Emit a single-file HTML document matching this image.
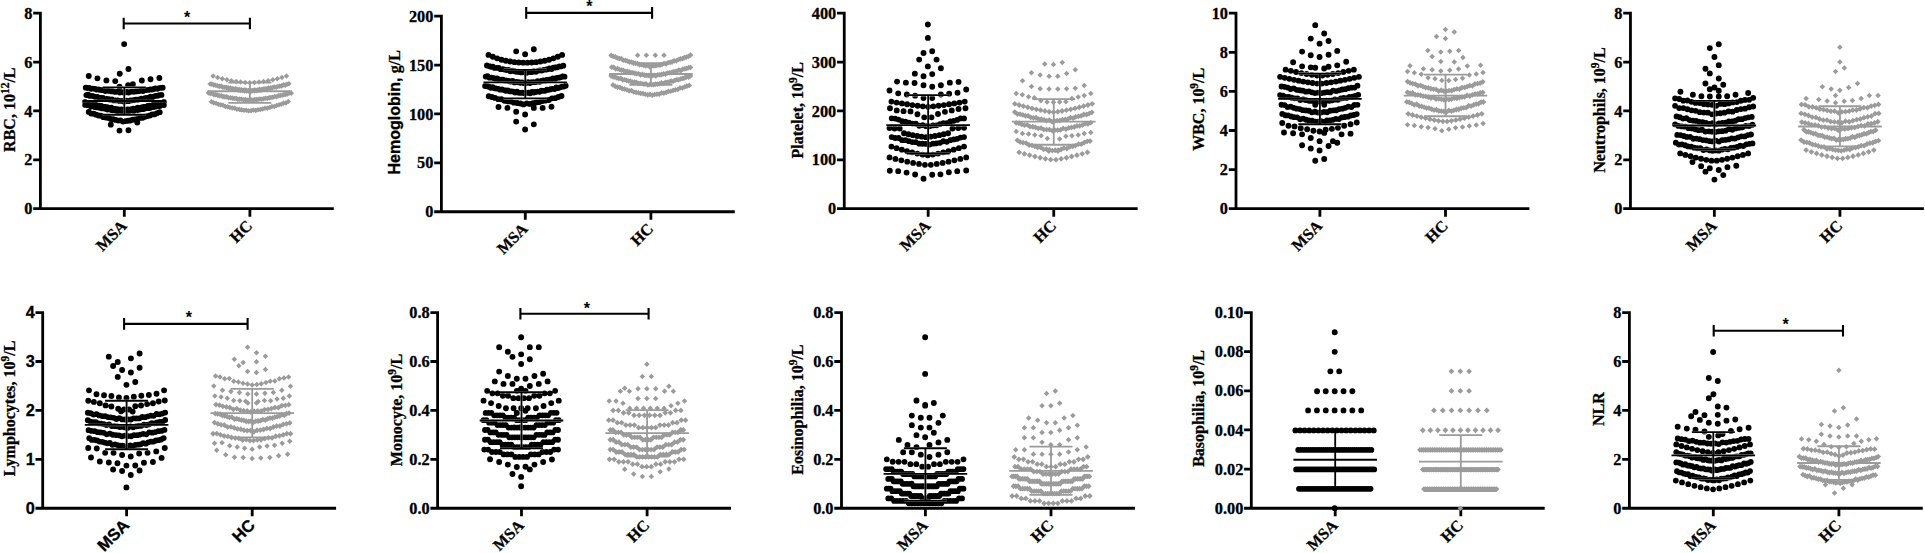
<!DOCTYPE html>
<html><head><meta charset="utf-8"><title>Blood cell counts: MSA vs HC</title>
<style>
html,body{margin:0;padding:0;background:#fff;}
body{width:1925px;height:553px;overflow:hidden;}
svg{display:block;}
text{fill:#000;stroke:#000;stroke-width:0.3px;}
</style></head><body>
<svg width="1925" height="553" viewBox="0 0 1925 553">
<rect width="1925" height="553" fill="#fff"/>
<path d="M40.4 11.8V208.7H333.8M33.2 208.7H41.8M33.2 159.82H40.4M33.2 110.95H40.4M33.2 62.07H40.4M33.2 13.2H41.8M124.3 208.7V216.8M249.9 208.7V216.8" fill="none" stroke="#000" stroke-width="2.8" stroke-linejoin="miter"/>
<g font-family='"Liberation Serif", serif' font-weight="bold" font-size="16.3" text-anchor="end">
<text x="32.4" y="214.25">0</text>
<text x="32.4" y="165.38">2</text>
<text x="32.4" y="116.5">4</text>
<text x="32.4" y="67.62">6</text>
<text x="32.4" y="18.75">8</text>
</g>
<g font-family='"Liberation Serif", serif' font-weight="bold" font-size="16.1" text-anchor="end">
<text transform="translate(127.7 226.7) rotate(-45)">MSA</text>
<text transform="translate(253.3 226.7) rotate(-45)">HC</text>
</g>
<text transform="translate(14.6 109.7) rotate(-90)" text-anchor="middle" font-weight="bold" font-size="16"><tspan font-family='"Liberation Serif", serif'>RBC, 10</tspan><tspan font-family='"Liberation Serif", serif' font-size="11.5" dy="-6">12</tspan><tspan font-family='"Liberation Serif", serif' dy="6">/L</tspan></text>
<path d="M88.74 111.9m-2.95 0a2.95 2.95 0 1 0 5.9 0a2.95 2.95 0 1 0 -5.9 0M91.18 113.49m-2.95 0a2.95 2.95 0 1 0 5.9 0a2.95 2.95 0 1 0 -5.9 0M93.63 113.82m-2.95 0a2.95 2.95 0 1 0 5.9 0a2.95 2.95 0 1 0 -5.9 0M96.08 114.65m-2.95 0a2.95 2.95 0 1 0 5.9 0a2.95 2.95 0 1 0 -5.9 0M98.53 115.55m-2.95 0a2.95 2.95 0 1 0 5.9 0a2.95 2.95 0 1 0 -5.9 0M100.97 115.81m-2.95 0a2.95 2.95 0 1 0 5.9 0a2.95 2.95 0 1 0 -5.9 0M103.42 117.13m-2.95 0a2.95 2.95 0 1 0 5.9 0a2.95 2.95 0 1 0 -5.9 0M105.87 117.52m-2.95 0a2.95 2.95 0 1 0 5.9 0a2.95 2.95 0 1 0 -5.9 0M108.32 117.88m-2.95 0a2.95 2.95 0 1 0 5.9 0a2.95 2.95 0 1 0 -5.9 0M110.76 118.95m-2.95 0a2.95 2.95 0 1 0 5.9 0a2.95 2.95 0 1 0 -5.9 0M113.21 119.26m-2.95 0a2.95 2.95 0 1 0 5.9 0a2.95 2.95 0 1 0 -5.9 0M115.66 119.9m-2.95 0a2.95 2.95 0 1 0 5.9 0a2.95 2.95 0 1 0 -5.9 0M118.11 120.58m-2.95 0a2.95 2.95 0 1 0 5.9 0a2.95 2.95 0 1 0 -5.9 0M120.55 120.36m-2.95 0a2.95 2.95 0 1 0 5.9 0a2.95 2.95 0 1 0 -5.9 0M123 121.6m-2.95 0a2.95 2.95 0 1 0 5.9 0a2.95 2.95 0 1 0 -5.9 0M125.45 121.08m-2.95 0a2.95 2.95 0 1 0 5.9 0a2.95 2.95 0 1 0 -5.9 0M127.9 120.75m-2.95 0a2.95 2.95 0 1 0 5.9 0a2.95 2.95 0 1 0 -5.9 0M130.34 120.48m-2.95 0a2.95 2.95 0 1 0 5.9 0a2.95 2.95 0 1 0 -5.9 0M132.79 119.73m-2.95 0a2.95 2.95 0 1 0 5.9 0a2.95 2.95 0 1 0 -5.9 0M135.24 119.49m-2.95 0a2.95 2.95 0 1 0 5.9 0a2.95 2.95 0 1 0 -5.9 0M137.69 118.88m-2.95 0a2.95 2.95 0 1 0 5.9 0a2.95 2.95 0 1 0 -5.9 0M140.13 117.73m-2.95 0a2.95 2.95 0 1 0 5.9 0a2.95 2.95 0 1 0 -5.9 0M142.58 117.85m-2.95 0a2.95 2.95 0 1 0 5.9 0a2.95 2.95 0 1 0 -5.9 0M145.03 116.72m-2.95 0a2.95 2.95 0 1 0 5.9 0a2.95 2.95 0 1 0 -5.9 0M147.48 116.12m-2.95 0a2.95 2.95 0 1 0 5.9 0a2.95 2.95 0 1 0 -5.9 0M149.92 115.54m-2.95 0a2.95 2.95 0 1 0 5.9 0a2.95 2.95 0 1 0 -5.9 0M152.37 114.34m-2.95 0a2.95 2.95 0 1 0 5.9 0a2.95 2.95 0 1 0 -5.9 0M154.82 114.27m-2.95 0a2.95 2.95 0 1 0 5.9 0a2.95 2.95 0 1 0 -5.9 0M157.27 113.1m-2.95 0a2.95 2.95 0 1 0 5.9 0a2.95 2.95 0 1 0 -5.9 0M159.71 112.13m-2.95 0a2.95 2.95 0 1 0 5.9 0a2.95 2.95 0 1 0 -5.9 0M124.16 44.11m-2.95 0a2.95 2.95 0 1 0 5.9 0a2.95 2.95 0 1 0 -5.9 0M128.46 69.05m-2.95 0a2.95 2.95 0 1 0 5.9 0a2.95 2.95 0 1 0 -5.9 0M119.75 73.82m-2.95 0a2.95 2.95 0 1 0 5.9 0a2.95 2.95 0 1 0 -5.9 0M88.74 75.96m-2.95 0a2.95 2.95 0 1 0 5.9 0a2.95 2.95 0 1 0 -5.9 0M97.44 78.35m-2.95 0a2.95 2.95 0 1 0 5.9 0a2.95 2.95 0 1 0 -5.9 0M106.39 80.38m-2.95 0a2.95 2.95 0 1 0 5.9 0a2.95 2.95 0 1 0 -5.9 0M115.22 81.09m-2.95 0a2.95 2.95 0 1 0 5.9 0a2.95 2.95 0 1 0 -5.9 0M141.82 80.5m-2.95 0a2.95 2.95 0 1 0 5.9 0a2.95 2.95 0 1 0 -5.9 0M150.53 79.19m-2.95 0a2.95 2.95 0 1 0 5.9 0a2.95 2.95 0 1 0 -5.9 0M159.36 77.99m-2.95 0a2.95 2.95 0 1 0 5.9 0a2.95 2.95 0 1 0 -5.9 0M119.51 86.7m-2.95 0a2.95 2.95 0 1 0 5.9 0a2.95 2.95 0 1 0 -5.9 0M128.1 85.15m-2.95 0a2.95 2.95 0 1 0 5.9 0a2.95 2.95 0 1 0 -5.9 0M132.87 84.31m-2.95 0a2.95 2.95 0 1 0 5.9 0a2.95 2.95 0 1 0 -5.9 0M110.8 124.63m-2.95 0a2.95 2.95 0 1 0 5.9 0a2.95 2.95 0 1 0 -5.9 0M137.29 122.49m-2.95 0a2.95 2.95 0 1 0 5.9 0a2.95 2.95 0 1 0 -5.9 0M119.51 130.6m-2.95 0a2.95 2.95 0 1 0 5.9 0a2.95 2.95 0 1 0 -5.9 0M128.46 130.24m-2.95 0a2.95 2.95 0 1 0 5.9 0a2.95 2.95 0 1 0 -5.9 0M85.75 87.66m-2.9 0a2.9 2.9 0 1 0 5.8 0a2.9 2.9 0 1 0 -5.8 0M87.54 88.03m-2.9 0a2.9 2.9 0 1 0 5.8 0a2.9 2.9 0 1 0 -5.8 0M89.33 87.93m-2.9 0a2.9 2.9 0 1 0 5.8 0a2.9 2.9 0 1 0 -5.8 0M91.12 88.87m-2.9 0a2.9 2.9 0 1 0 5.8 0a2.9 2.9 0 1 0 -5.8 0M92.91 88.67m-2.9 0a2.9 2.9 0 1 0 5.8 0a2.9 2.9 0 1 0 -5.8 0M94.7 88.85m-2.9 0a2.9 2.9 0 1 0 5.8 0a2.9 2.9 0 1 0 -5.8 0M96.49 89.51m-2.9 0a2.9 2.9 0 1 0 5.8 0a2.9 2.9 0 1 0 -5.8 0M98.28 89.47m-2.9 0a2.9 2.9 0 1 0 5.8 0a2.9 2.9 0 1 0 -5.8 0M100.07 89.88m-2.9 0a2.9 2.9 0 1 0 5.8 0a2.9 2.9 0 1 0 -5.8 0M101.86 90.17m-2.9 0a2.9 2.9 0 1 0 5.8 0a2.9 2.9 0 1 0 -5.8 0M103.65 89.91m-2.9 0a2.9 2.9 0 1 0 5.8 0a2.9 2.9 0 1 0 -5.8 0M105.44 91.03m-2.9 0a2.9 2.9 0 1 0 5.8 0a2.9 2.9 0 1 0 -5.8 0M107.23 90.57m-2.9 0a2.9 2.9 0 1 0 5.8 0a2.9 2.9 0 1 0 -5.8 0M109.02 90.96m-2.9 0a2.9 2.9 0 1 0 5.8 0a2.9 2.9 0 1 0 -5.8 0M110.8 91.3m-2.9 0a2.9 2.9 0 1 0 5.8 0a2.9 2.9 0 1 0 -5.8 0M112.59 91.27m-2.9 0a2.9 2.9 0 1 0 5.8 0a2.9 2.9 0 1 0 -5.8 0M114.38 91.82m-2.9 0a2.9 2.9 0 1 0 5.8 0a2.9 2.9 0 1 0 -5.8 0M116.17 91.8m-2.9 0a2.9 2.9 0 1 0 5.8 0a2.9 2.9 0 1 0 -5.8 0M117.96 91.64m-2.9 0a2.9 2.9 0 1 0 5.8 0a2.9 2.9 0 1 0 -5.8 0M119.75 92.52m-2.9 0a2.9 2.9 0 1 0 5.8 0a2.9 2.9 0 1 0 -5.8 0M121.54 92.11m-2.9 0a2.9 2.9 0 1 0 5.8 0a2.9 2.9 0 1 0 -5.8 0M123.33 92.41m-2.9 0a2.9 2.9 0 1 0 5.8 0a2.9 2.9 0 1 0 -5.8 0M125.12 92.47m-2.9 0a2.9 2.9 0 1 0 5.8 0a2.9 2.9 0 1 0 -5.8 0M126.91 91.98m-2.9 0a2.9 2.9 0 1 0 5.8 0a2.9 2.9 0 1 0 -5.8 0M128.7 92.54m-2.9 0a2.9 2.9 0 1 0 5.8 0a2.9 2.9 0 1 0 -5.8 0M130.49 91.8m-2.9 0a2.9 2.9 0 1 0 5.8 0a2.9 2.9 0 1 0 -5.8 0M132.28 91.66m-2.9 0a2.9 2.9 0 1 0 5.8 0a2.9 2.9 0 1 0 -5.8 0M134.07 91.8m-2.9 0a2.9 2.9 0 1 0 5.8 0a2.9 2.9 0 1 0 -5.8 0M135.86 91.32m-2.9 0a2.9 2.9 0 1 0 5.8 0a2.9 2.9 0 1 0 -5.8 0M137.64 91.29m-2.9 0a2.9 2.9 0 1 0 5.8 0a2.9 2.9 0 1 0 -5.8 0M139.43 91.06m-2.9 0a2.9 2.9 0 1 0 5.8 0a2.9 2.9 0 1 0 -5.8 0M141.22 90.4m-2.9 0a2.9 2.9 0 1 0 5.8 0a2.9 2.9 0 1 0 -5.8 0M143.01 91.04m-2.9 0a2.9 2.9 0 1 0 5.8 0a2.9 2.9 0 1 0 -5.8 0M144.8 90.07m-2.9 0a2.9 2.9 0 1 0 5.8 0a2.9 2.9 0 1 0 -5.8 0M146.59 90.06m-2.9 0a2.9 2.9 0 1 0 5.8 0a2.9 2.9 0 1 0 -5.8 0M148.38 89.89m-2.9 0a2.9 2.9 0 1 0 5.8 0a2.9 2.9 0 1 0 -5.8 0M150.17 89.42m-2.9 0a2.9 2.9 0 1 0 5.8 0a2.9 2.9 0 1 0 -5.8 0M151.96 89.55m-2.9 0a2.9 2.9 0 1 0 5.8 0a2.9 2.9 0 1 0 -5.8 0M153.75 88.98m-2.9 0a2.9 2.9 0 1 0 5.8 0a2.9 2.9 0 1 0 -5.8 0M155.54 88.5m-2.9 0a2.9 2.9 0 1 0 5.8 0a2.9 2.9 0 1 0 -5.8 0M157.33 88.87m-2.9 0a2.9 2.9 0 1 0 5.8 0a2.9 2.9 0 1 0 -5.8 0M159.12 88.05m-2.9 0a2.9 2.9 0 1 0 5.8 0a2.9 2.9 0 1 0 -5.8 0M160.91 87.97m-2.9 0a2.9 2.9 0 1 0 5.8 0a2.9 2.9 0 1 0 -5.8 0M162.7 87.72m-2.9 0a2.9 2.9 0 1 0 5.8 0a2.9 2.9 0 1 0 -5.8 0M86.35 95.08m-2.9 0a2.9 2.9 0 1 0 5.8 0a2.9 2.9 0 1 0 -5.8 0M88.18 94.73m-2.9 0a2.9 2.9 0 1 0 5.8 0a2.9 2.9 0 1 0 -5.8 0M90.02 95.97m-2.9 0a2.9 2.9 0 1 0 5.8 0a2.9 2.9 0 1 0 -5.8 0M91.85 95.95m-2.9 0a2.9 2.9 0 1 0 5.8 0a2.9 2.9 0 1 0 -5.8 0M93.68 96.34m-2.9 0a2.9 2.9 0 1 0 5.8 0a2.9 2.9 0 1 0 -5.8 0M95.52 96.89m-2.9 0a2.9 2.9 0 1 0 5.8 0a2.9 2.9 0 1 0 -5.8 0M97.35 96.9m-2.9 0a2.9 2.9 0 1 0 5.8 0a2.9 2.9 0 1 0 -5.8 0M99.18 97.69m-2.9 0a2.9 2.9 0 1 0 5.8 0a2.9 2.9 0 1 0 -5.8 0M101.01 98.02m-2.9 0a2.9 2.9 0 1 0 5.8 0a2.9 2.9 0 1 0 -5.8 0M102.85 97.86m-2.9 0a2.9 2.9 0 1 0 5.8 0a2.9 2.9 0 1 0 -5.8 0M104.68 98.79m-2.9 0a2.9 2.9 0 1 0 5.8 0a2.9 2.9 0 1 0 -5.8 0M106.51 98.82m-2.9 0a2.9 2.9 0 1 0 5.8 0a2.9 2.9 0 1 0 -5.8 0M108.35 99.19m-2.9 0a2.9 2.9 0 1 0 5.8 0a2.9 2.9 0 1 0 -5.8 0M110.18 99.72m-2.9 0a2.9 2.9 0 1 0 5.8 0a2.9 2.9 0 1 0 -5.8 0M112.01 99.37m-2.9 0a2.9 2.9 0 1 0 5.8 0a2.9 2.9 0 1 0 -5.8 0M113.84 100.44m-2.9 0a2.9 2.9 0 1 0 5.8 0a2.9 2.9 0 1 0 -5.8 0M115.68 100.34m-2.9 0a2.9 2.9 0 1 0 5.8 0a2.9 2.9 0 1 0 -5.8 0M117.51 100.45m-2.9 0a2.9 2.9 0 1 0 5.8 0a2.9 2.9 0 1 0 -5.8 0M119.34 100.95m-2.9 0a2.9 2.9 0 1 0 5.8 0a2.9 2.9 0 1 0 -5.8 0M121.18 100.93m-2.9 0a2.9 2.9 0 1 0 5.8 0a2.9 2.9 0 1 0 -5.8 0M123.01 101.26m-2.9 0a2.9 2.9 0 1 0 5.8 0a2.9 2.9 0 1 0 -5.8 0M124.84 101.42m-2.9 0a2.9 2.9 0 1 0 5.8 0a2.9 2.9 0 1 0 -5.8 0M126.68 100.56m-2.9 0a2.9 2.9 0 1 0 5.8 0a2.9 2.9 0 1 0 -5.8 0M128.51 101.21m-2.9 0a2.9 2.9 0 1 0 5.8 0a2.9 2.9 0 1 0 -5.8 0M130.34 100.52m-2.9 0a2.9 2.9 0 1 0 5.8 0a2.9 2.9 0 1 0 -5.8 0M132.17 100.32m-2.9 0a2.9 2.9 0 1 0 5.8 0a2.9 2.9 0 1 0 -5.8 0M134.01 100.2m-2.9 0a2.9 2.9 0 1 0 5.8 0a2.9 2.9 0 1 0 -5.8 0M135.84 99.54m-2.9 0a2.9 2.9 0 1 0 5.8 0a2.9 2.9 0 1 0 -5.8 0M137.67 99.75m-2.9 0a2.9 2.9 0 1 0 5.8 0a2.9 2.9 0 1 0 -5.8 0M139.51 99.29m-2.9 0a2.9 2.9 0 1 0 5.8 0a2.9 2.9 0 1 0 -5.8 0M141.34 98.56m-2.9 0a2.9 2.9 0 1 0 5.8 0a2.9 2.9 0 1 0 -5.8 0M143.17 98.79m-2.9 0a2.9 2.9 0 1 0 5.8 0a2.9 2.9 0 1 0 -5.8 0M145.01 98.14m-2.9 0a2.9 2.9 0 1 0 5.8 0a2.9 2.9 0 1 0 -5.8 0M146.84 97.87m-2.9 0a2.9 2.9 0 1 0 5.8 0a2.9 2.9 0 1 0 -5.8 0M148.67 97.7m-2.9 0a2.9 2.9 0 1 0 5.8 0a2.9 2.9 0 1 0 -5.8 0M150.5 96.7m-2.9 0a2.9 2.9 0 1 0 5.8 0a2.9 2.9 0 1 0 -5.8 0M152.34 97.17m-2.9 0a2.9 2.9 0 1 0 5.8 0a2.9 2.9 0 1 0 -5.8 0M154.17 96.32m-2.9 0a2.9 2.9 0 1 0 5.8 0a2.9 2.9 0 1 0 -5.8 0M156 95.89m-2.9 0a2.9 2.9 0 1 0 5.8 0a2.9 2.9 0 1 0 -5.8 0M157.84 95.72m-2.9 0a2.9 2.9 0 1 0 5.8 0a2.9 2.9 0 1 0 -5.8 0M159.67 95.1m-2.9 0a2.9 2.9 0 1 0 5.8 0a2.9 2.9 0 1 0 -5.8 0M161.5 94.91m-2.9 0a2.9 2.9 0 1 0 5.8 0a2.9 2.9 0 1 0 -5.8 0M85.16 101.91m-2.9 0a2.9 2.9 0 1 0 5.8 0a2.9 2.9 0 1 0 -5.8 0M87.18 102.83m-2.9 0a2.9 2.9 0 1 0 5.8 0a2.9 2.9 0 1 0 -5.8 0M89.19 103.22m-2.9 0a2.9 2.9 0 1 0 5.8 0a2.9 2.9 0 1 0 -5.8 0M91.21 103.59m-2.9 0a2.9 2.9 0 1 0 5.8 0a2.9 2.9 0 1 0 -5.8 0M93.23 104.59m-2.9 0a2.9 2.9 0 1 0 5.8 0a2.9 2.9 0 1 0 -5.8 0M95.25 104.27m-2.9 0a2.9 2.9 0 1 0 5.8 0a2.9 2.9 0 1 0 -5.8 0M97.27 105.28m-2.9 0a2.9 2.9 0 1 0 5.8 0a2.9 2.9 0 1 0 -5.8 0M99.29 105.75m-2.9 0a2.9 2.9 0 1 0 5.8 0a2.9 2.9 0 1 0 -5.8 0M101.31 105.93m-2.9 0a2.9 2.9 0 1 0 5.8 0a2.9 2.9 0 1 0 -5.8 0M103.33 106.59m-2.9 0a2.9 2.9 0 1 0 5.8 0a2.9 2.9 0 1 0 -5.8 0M105.34 106.82m-2.9 0a2.9 2.9 0 1 0 5.8 0a2.9 2.9 0 1 0 -5.8 0M107.36 107.21m-2.9 0a2.9 2.9 0 1 0 5.8 0a2.9 2.9 0 1 0 -5.8 0M109.38 108.15m-2.9 0a2.9 2.9 0 1 0 5.8 0a2.9 2.9 0 1 0 -5.8 0M111.4 107.66m-2.9 0a2.9 2.9 0 1 0 5.8 0a2.9 2.9 0 1 0 -5.8 0M113.42 108.64m-2.9 0a2.9 2.9 0 1 0 5.8 0a2.9 2.9 0 1 0 -5.8 0M115.44 108.83m-2.9 0a2.9 2.9 0 1 0 5.8 0a2.9 2.9 0 1 0 -5.8 0M117.46 109.05m-2.9 0a2.9 2.9 0 1 0 5.8 0a2.9 2.9 0 1 0 -5.8 0M119.48 109.65m-2.9 0a2.9 2.9 0 1 0 5.8 0a2.9 2.9 0 1 0 -5.8 0M121.49 109.4m-2.9 0a2.9 2.9 0 1 0 5.8 0a2.9 2.9 0 1 0 -5.8 0M123.51 109.92m-2.9 0a2.9 2.9 0 1 0 5.8 0a2.9 2.9 0 1 0 -5.8 0M125.53 110.18m-2.9 0a2.9 2.9 0 1 0 5.8 0a2.9 2.9 0 1 0 -5.8 0M127.55 109.4m-2.9 0a2.9 2.9 0 1 0 5.8 0a2.9 2.9 0 1 0 -5.8 0M129.57 109.54m-2.9 0a2.9 2.9 0 1 0 5.8 0a2.9 2.9 0 1 0 -5.8 0M131.59 109.11m-2.9 0a2.9 2.9 0 1 0 5.8 0a2.9 2.9 0 1 0 -5.8 0M133.61 108.7m-2.9 0a2.9 2.9 0 1 0 5.8 0a2.9 2.9 0 1 0 -5.8 0M135.63 108.84m-2.9 0a2.9 2.9 0 1 0 5.8 0a2.9 2.9 0 1 0 -5.8 0M137.64 107.65m-2.9 0a2.9 2.9 0 1 0 5.8 0a2.9 2.9 0 1 0 -5.8 0M139.66 107.9m-2.9 0a2.9 2.9 0 1 0 5.8 0a2.9 2.9 0 1 0 -5.8 0M141.68 107.42m-2.9 0a2.9 2.9 0 1 0 5.8 0a2.9 2.9 0 1 0 -5.8 0M143.7 106.8m-2.9 0a2.9 2.9 0 1 0 5.8 0a2.9 2.9 0 1 0 -5.8 0M145.72 106.6m-2.9 0a2.9 2.9 0 1 0 5.8 0a2.9 2.9 0 1 0 -5.8 0M147.74 105.93m-2.9 0a2.9 2.9 0 1 0 5.8 0a2.9 2.9 0 1 0 -5.8 0M149.76 105.55m-2.9 0a2.9 2.9 0 1 0 5.8 0a2.9 2.9 0 1 0 -5.8 0M151.78 105.54m-2.9 0a2.9 2.9 0 1 0 5.8 0a2.9 2.9 0 1 0 -5.8 0M153.79 104.24m-2.9 0a2.9 2.9 0 1 0 5.8 0a2.9 2.9 0 1 0 -5.8 0M155.81 104.4m-2.9 0a2.9 2.9 0 1 0 5.8 0a2.9 2.9 0 1 0 -5.8 0M157.83 103.72m-2.9 0a2.9 2.9 0 1 0 5.8 0a2.9 2.9 0 1 0 -5.8 0M159.85 103.15m-2.9 0a2.9 2.9 0 1 0 5.8 0a2.9 2.9 0 1 0 -5.8 0M161.87 102.95m-2.9 0a2.9 2.9 0 1 0 5.8 0a2.9 2.9 0 1 0 -5.8 0M163.89 101.88m-2.9 0a2.9 2.9 0 1 0 5.8 0a2.9 2.9 0 1 0 -5.8 0M85.16 104.92m-2.9 0a2.9 2.9 0 1 0 5.8 0a2.9 2.9 0 1 0 -5.8 0M87.18 105.22m-2.9 0a2.9 2.9 0 1 0 5.8 0a2.9 2.9 0 1 0 -5.8 0M89.19 105.57m-2.9 0a2.9 2.9 0 1 0 5.8 0a2.9 2.9 0 1 0 -5.8 0M91.21 106.57m-2.9 0a2.9 2.9 0 1 0 5.8 0a2.9 2.9 0 1 0 -5.8 0M93.23 106.1m-2.9 0a2.9 2.9 0 1 0 5.8 0a2.9 2.9 0 1 0 -5.8 0M95.25 107.14m-2.9 0a2.9 2.9 0 1 0 5.8 0a2.9 2.9 0 1 0 -5.8 0M97.27 107.41m-2.9 0a2.9 2.9 0 1 0 5.8 0a2.9 2.9 0 1 0 -5.8 0M99.29 107.68m-2.9 0a2.9 2.9 0 1 0 5.8 0a2.9 2.9 0 1 0 -5.8 0M101.31 108.32m-2.9 0a2.9 2.9 0 1 0 5.8 0a2.9 2.9 0 1 0 -5.8 0M103.33 108.31m-2.9 0a2.9 2.9 0 1 0 5.8 0a2.9 2.9 0 1 0 -5.8 0M105.34 108.86m-2.9 0a2.9 2.9 0 1 0 5.8 0a2.9 2.9 0 1 0 -5.8 0M107.36 109.59m-2.9 0a2.9 2.9 0 1 0 5.8 0a2.9 2.9 0 1 0 -5.8 0M109.38 109.24m-2.9 0a2.9 2.9 0 1 0 5.8 0a2.9 2.9 0 1 0 -5.8 0M111.4 110.04m-2.9 0a2.9 2.9 0 1 0 5.8 0a2.9 2.9 0 1 0 -5.8 0M113.42 110.21m-2.9 0a2.9 2.9 0 1 0 5.8 0a2.9 2.9 0 1 0 -5.8 0M115.44 110.42m-2.9 0a2.9 2.9 0 1 0 5.8 0a2.9 2.9 0 1 0 -5.8 0M117.46 111.14m-2.9 0a2.9 2.9 0 1 0 5.8 0a2.9 2.9 0 1 0 -5.8 0M119.48 110.64m-2.9 0a2.9 2.9 0 1 0 5.8 0a2.9 2.9 0 1 0 -5.8 0M121.49 111.41m-2.9 0a2.9 2.9 0 1 0 5.8 0a2.9 2.9 0 1 0 -5.8 0M123.51 111.6m-2.9 0a2.9 2.9 0 1 0 5.8 0a2.9 2.9 0 1 0 -5.8 0M125.53 111.3m-2.9 0a2.9 2.9 0 1 0 5.8 0a2.9 2.9 0 1 0 -5.8 0M127.55 111.37m-2.9 0a2.9 2.9 0 1 0 5.8 0a2.9 2.9 0 1 0 -5.8 0M129.57 110.97m-2.9 0a2.9 2.9 0 1 0 5.8 0a2.9 2.9 0 1 0 -5.8 0M131.59 110.7m-2.9 0a2.9 2.9 0 1 0 5.8 0a2.9 2.9 0 1 0 -5.8 0M133.61 110.93m-2.9 0a2.9 2.9 0 1 0 5.8 0a2.9 2.9 0 1 0 -5.8 0M135.63 109.76m-2.9 0a2.9 2.9 0 1 0 5.8 0a2.9 2.9 0 1 0 -5.8 0M137.64 110.11m-2.9 0a2.9 2.9 0 1 0 5.8 0a2.9 2.9 0 1 0 -5.8 0M139.66 109.6m-2.9 0a2.9 2.9 0 1 0 5.8 0a2.9 2.9 0 1 0 -5.8 0M141.68 109.17m-2.9 0a2.9 2.9 0 1 0 5.8 0a2.9 2.9 0 1 0 -5.8 0M143.7 109.07m-2.9 0a2.9 2.9 0 1 0 5.8 0a2.9 2.9 0 1 0 -5.8 0M145.72 108.27m-2.9 0a2.9 2.9 0 1 0 5.8 0a2.9 2.9 0 1 0 -5.8 0M147.74 108.19m-2.9 0a2.9 2.9 0 1 0 5.8 0a2.9 2.9 0 1 0 -5.8 0M149.76 108.06m-2.9 0a2.9 2.9 0 1 0 5.8 0a2.9 2.9 0 1 0 -5.8 0M151.78 107.04m-2.9 0a2.9 2.9 0 1 0 5.8 0a2.9 2.9 0 1 0 -5.8 0M153.79 107.11m-2.9 0a2.9 2.9 0 1 0 5.8 0a2.9 2.9 0 1 0 -5.8 0M155.81 106.53m-2.9 0a2.9 2.9 0 1 0 5.8 0a2.9 2.9 0 1 0 -5.8 0M157.83 106.05m-2.9 0a2.9 2.9 0 1 0 5.8 0a2.9 2.9 0 1 0 -5.8 0M159.85 106.05m-2.9 0a2.9 2.9 0 1 0 5.8 0a2.9 2.9 0 1 0 -5.8 0M161.87 104.83m-2.9 0a2.9 2.9 0 1 0 5.8 0a2.9 2.9 0 1 0 -5.8 0M163.89 105.03m-2.9 0a2.9 2.9 0 1 0 5.8 0a2.9 2.9 0 1 0 -5.8 0" fill="#000"/>
<path d="M82.5 101.02H166.1M124.3 87.3V114.73M102.8 87.3H145.8M102.8 114.73H145.8" fill="none" stroke="#fff" stroke-opacity="0.65" stroke-width="2.45"/>
<path d="M82.5 101.02H166.1M124.3 87.3V114.73M102.8 87.3H145.8M102.8 114.73H145.8" fill="none" stroke="#000" stroke-width="1.8"/>
<path d="M210.39 76.1l2.75 -2.75l2.75 2.75l-2.75 2.75zM214.97 77.51l2.75 -2.75l2.75 2.75l-2.75 2.75zM219.56 78.76l2.75 -2.75l2.75 2.75l-2.75 2.75zM224.15 79.85l2.75 -2.75l2.75 2.75l-2.75 2.75zM228.73 80.78l2.75 -2.75l2.75 2.75l-2.75 2.75zM233.32 81.54l2.75 -2.75l2.75 2.75l-2.75 2.75zM237.9 82.12l2.75 -2.75l2.75 2.75l-2.75 2.75zM242.49 82.51l2.75 -2.75l2.75 2.75l-2.75 2.75zM247.07 82.66l2.75 -2.75l2.75 2.75l-2.75 2.75zM251.66 82.51l2.75 -2.75l2.75 2.75l-2.75 2.75zM256.24 82.12l2.75 -2.75l2.75 2.75l-2.75 2.75zM260.83 81.54l2.75 -2.75l2.75 2.75l-2.75 2.75zM265.41 80.78l2.75 -2.75l2.75 2.75l-2.75 2.75zM270 79.85l2.75 -2.75l2.75 2.75l-2.75 2.75zM274.58 78.76l2.75 -2.75l2.75 2.75l-2.75 2.75zM279.17 77.51l2.75 -2.75l2.75 2.75l-2.75 2.75zM283.75 76.1l2.75 -2.75l2.75 2.75l-2.75 2.75zM208.6 101.71l2.75 -2.75l2.75 2.75l-2.75 2.75zM210.93 102.63l2.75 -2.75l2.75 2.75l-2.75 2.75zM213.26 103.16l2.75 -2.75l2.75 2.75l-2.75 2.75zM215.59 104.26l2.75 -2.75l2.75 2.75l-2.75 2.75zM217.93 104.86l2.75 -2.75l2.75 2.75l-2.75 2.75zM220.26 105.17l2.75 -2.75l2.75 2.75l-2.75 2.75zM222.59 106.45l2.75 -2.75l2.75 2.75l-2.75 2.75zM224.92 106.69l2.75 -2.75l2.75 2.75l-2.75 2.75zM227.25 107.39l2.75 -2.75l2.75 2.75l-2.75 2.75zM229.58 108.07l2.75 -2.75l2.75 2.75l-2.75 2.75zM231.92 108.16l2.75 -2.75l2.75 2.75l-2.75 2.75zM234.25 109.34l2.75 -2.75l2.75 2.75l-2.75 2.75zM236.58 109.33l2.75 -2.75l2.75 2.75l-2.75 2.75zM238.91 109.68l2.75 -2.75l2.75 2.75l-2.75 2.75zM241.24 110.31l2.75 -2.75l2.75 2.75l-2.75 2.75zM243.57 110.37l2.75 -2.75l2.75 2.75l-2.75 2.75zM245.91 110.72l2.75 -2.75l2.75 2.75l-2.75 2.75zM248.24 110.76l2.75 -2.75l2.75 2.75l-2.75 2.75zM250.57 110.06l2.75 -2.75l2.75 2.75l-2.75 2.75zM252.9 110.58l2.75 -2.75l2.75 2.75l-2.75 2.75zM255.23 109.67l2.75 -2.75l2.75 2.75l-2.75 2.75zM257.56 109.4l2.75 -2.75l2.75 2.75l-2.75 2.75zM259.89 109.05l2.75 -2.75l2.75 2.75l-2.75 2.75zM262.23 108.31l2.75 -2.75l2.75 2.75l-2.75 2.75zM264.56 108.18l2.75 -2.75l2.75 2.75l-2.75 2.75zM266.89 107.39l2.75 -2.75l2.75 2.75l-2.75 2.75zM269.22 106.51l2.75 -2.75l2.75 2.75l-2.75 2.75zM271.55 106.44l2.75 -2.75l2.75 2.75l-2.75 2.75zM273.88 105.38l2.75 -2.75l2.75 2.75l-2.75 2.75zM276.22 104.81l2.75 -2.75l2.75 2.75l-2.75 2.75zM278.55 104.17l2.75 -2.75l2.75 2.75l-2.75 2.75zM280.88 103l2.75 -2.75l2.75 2.75l-2.75 2.75zM283.21 102.94l2.75 -2.75l2.75 2.75l-2.75 2.75zM285.54 101.61l2.75 -2.75l2.75 2.75l-2.75 2.75zM207.36 83.94l2.8 -2.8l2.8 2.8l-2.8 2.8zM209.19 84.15l2.8 -2.8l2.8 2.8l-2.8 2.8zM211.02 84.91l2.8 -2.8l2.8 2.8l-2.8 2.8zM212.85 85.19l2.8 -2.8l2.8 2.8l-2.8 2.8zM214.68 85.69l2.8 -2.8l2.8 2.8l-2.8 2.8zM216.51 86.39l2.8 -2.8l2.8 2.8l-2.8 2.8zM218.34 86.08l2.8 -2.8l2.8 2.8l-2.8 2.8zM220.17 87.22l2.8 -2.8l2.8 2.8l-2.8 2.8zM222 87.27l2.8 -2.8l2.8 2.8l-2.8 2.8zM223.84 87.6l2.8 -2.8l2.8 2.8l-2.8 2.8zM225.67 88.11l2.8 -2.8l2.8 2.8l-2.8 2.8zM227.5 88.13l2.8 -2.8l2.8 2.8l-2.8 2.8zM229.33 88.76l2.8 -2.8l2.8 2.8l-2.8 2.8zM231.16 89.12l2.8 -2.8l2.8 2.8l-2.8 2.8zM232.99 88.85l2.8 -2.8l2.8 2.8l-2.8 2.8zM234.82 89.66l2.8 -2.8l2.8 2.8l-2.8 2.8zM236.65 89.63l2.8 -2.8l2.8 2.8l-2.8 2.8zM238.48 89.85l2.8 -2.8l2.8 2.8l-2.8 2.8zM240.31 90.26l2.8 -2.8l2.8 2.8l-2.8 2.8zM242.15 89.83l2.8 -2.8l2.8 2.8l-2.8 2.8zM243.98 90.6l2.8 -2.8l2.8 2.8l-2.8 2.8zM245.81 90.44l2.8 -2.8l2.8 2.8l-2.8 2.8zM247.64 90.24l2.8 -2.8l2.8 2.8l-2.8 2.8zM249.47 90.43l2.8 -2.8l2.8 2.8l-2.8 2.8zM251.3 90.13l2.8 -2.8l2.8 2.8l-2.8 2.8zM253.13 90.08l2.8 -2.8l2.8 2.8l-2.8 2.8zM254.96 90.12l2.8 -2.8l2.8 2.8l-2.8 2.8zM256.79 89.23l2.8 -2.8l2.8 2.8l-2.8 2.8zM258.62 89.77l2.8 -2.8l2.8 2.8l-2.8 2.8zM260.45 89.15l2.8 -2.8l2.8 2.8l-2.8 2.8zM262.29 88.88l2.8 -2.8l2.8 2.8l-2.8 2.8zM264.12 88.75l2.8 -2.8l2.8 2.8l-2.8 2.8zM265.95 88.11l2.8 -2.8l2.8 2.8l-2.8 2.8zM267.78 88.17l2.8 -2.8l2.8 2.8l-2.8 2.8zM269.61 87.8l2.8 -2.8l2.8 2.8l-2.8 2.8zM271.44 86.98l2.8 -2.8l2.8 2.8l-2.8 2.8zM273.27 87.14l2.8 -2.8l2.8 2.8l-2.8 2.8zM275.1 86.47l2.8 -2.8l2.8 2.8l-2.8 2.8zM276.93 86.11l2.8 -2.8l2.8 2.8l-2.8 2.8zM278.76 85.89l2.8 -2.8l2.8 2.8l-2.8 2.8zM280.6 84.87l2.8 -2.8l2.8 2.8l-2.8 2.8zM282.43 85.12l2.8 -2.8l2.8 2.8l-2.8 2.8zM284.26 84.32l2.8 -2.8l2.8 2.8l-2.8 2.8zM286.09 83.72l2.8 -2.8l2.8 2.8l-2.8 2.8zM224.06 87.45l2.8 -2.8l2.8 2.8l-2.8 2.8zM226.03 88.18l2.8 -2.8l2.8 2.8l-2.8 2.8zM228 88.6l2.8 -2.8l2.8 2.8l-2.8 2.8zM229.97 88.79l2.8 -2.8l2.8 2.8l-2.8 2.8zM231.94 89.73l2.8 -2.8l2.8 2.8l-2.8 2.8zM233.91 89.47l2.8 -2.8l2.8 2.8l-2.8 2.8zM235.88 90.03l2.8 -2.8l2.8 2.8l-2.8 2.8zM237.85 90.56l2.8 -2.8l2.8 2.8l-2.8 2.8zM239.82 90.54l2.8 -2.8l2.8 2.8l-2.8 2.8zM241.8 90.97l2.8 -2.8l2.8 2.8l-2.8 2.8zM243.77 91.07l2.8 -2.8l2.8 2.8l-2.8 2.8zM245.74 90.99l2.8 -2.8l2.8 2.8l-2.8 2.8zM247.71 91.67l2.8 -2.8l2.8 2.8l-2.8 2.8zM249.68 90.76l2.8 -2.8l2.8 2.8l-2.8 2.8zM251.65 90.95l2.8 -2.8l2.8 2.8l-2.8 2.8zM253.62 90.71l2.8 -2.8l2.8 2.8l-2.8 2.8zM255.59 90.28l2.8 -2.8l2.8 2.8l-2.8 2.8zM257.56 90.27l2.8 -2.8l2.8 2.8l-2.8 2.8zM259.53 89.58l2.8 -2.8l2.8 2.8l-2.8 2.8zM261.5 89.22l2.8 -2.8l2.8 2.8l-2.8 2.8zM263.48 89.32l2.8 -2.8l2.8 2.8l-2.8 2.8zM265.45 88.34l2.8 -2.8l2.8 2.8l-2.8 2.8zM267.42 88.19l2.8 -2.8l2.8 2.8l-2.8 2.8zM269.39 87.69l2.8 -2.8l2.8 2.8l-2.8 2.8zM205.57 92.85l2.8 -2.8l2.8 2.8l-2.8 2.8zM207.41 93.45l2.8 -2.8l2.8 2.8l-2.8 2.8zM209.25 93.39l2.8 -2.8l2.8 2.8l-2.8 2.8zM211.1 94.66l2.8 -2.8l2.8 2.8l-2.8 2.8zM212.94 94.6l2.8 -2.8l2.8 2.8l-2.8 2.8zM214.78 95.14l2.8 -2.8l2.8 2.8l-2.8 2.8zM216.62 95.68l2.8 -2.8l2.8 2.8l-2.8 2.8zM218.46 95.85l2.8 -2.8l2.8 2.8l-2.8 2.8zM220.31 96.62l2.8 -2.8l2.8 2.8l-2.8 2.8zM222.15 96.85l2.8 -2.8l2.8 2.8l-2.8 2.8zM223.99 96.85l2.8 -2.8l2.8 2.8l-2.8 2.8zM225.83 97.8l2.8 -2.8l2.8 2.8l-2.8 2.8zM227.68 97.75l2.8 -2.8l2.8 2.8l-2.8 2.8zM229.52 98.17l2.8 -2.8l2.8 2.8l-2.8 2.8zM231.36 98.56l2.8 -2.8l2.8 2.8l-2.8 2.8zM233.2 98.4l2.8 -2.8l2.8 2.8l-2.8 2.8zM235.05 99.35l2.8 -2.8l2.8 2.8l-2.8 2.8zM236.89 99.11l2.8 -2.8l2.8 2.8l-2.8 2.8zM238.73 99.28l2.8 -2.8l2.8 2.8l-2.8 2.8zM240.57 99.73l2.8 -2.8l2.8 2.8l-2.8 2.8zM242.42 99.66l2.8 -2.8l2.8 2.8l-2.8 2.8zM244.26 99.94l2.8 -2.8l2.8 2.8l-2.8 2.8zM246.1 100.05l2.8 -2.8l2.8 2.8l-2.8 2.8zM247.94 99.56l2.8 -2.8l2.8 2.8l-2.8 2.8zM249.78 100.27l2.8 -2.8l2.8 2.8l-2.8 2.8zM251.63 99.59l2.8 -2.8l2.8 2.8l-2.8 2.8zM253.47 99.58l2.8 -2.8l2.8 2.8l-2.8 2.8zM255.31 99.49l2.8 -2.8l2.8 2.8l-2.8 2.8zM257.15 99.03l2.8 -2.8l2.8 2.8l-2.8 2.8zM259 99.22l2.8 -2.8l2.8 2.8l-2.8 2.8zM260.84 98.71l2.8 -2.8l2.8 2.8l-2.8 2.8zM262.68 98.18l2.8 -2.8l2.8 2.8l-2.8 2.8zM264.52 98.44l2.8 -2.8l2.8 2.8l-2.8 2.8zM266.37 97.74l2.8 -2.8l2.8 2.8l-2.8 2.8zM268.21 97.54l2.8 -2.8l2.8 2.8l-2.8 2.8zM270.05 97.26l2.8 -2.8l2.8 2.8l-2.8 2.8zM271.89 96.47l2.8 -2.8l2.8 2.8l-2.8 2.8zM273.74 96.82l2.8 -2.8l2.8 2.8l-2.8 2.8zM275.58 95.86l2.8 -2.8l2.8 2.8l-2.8 2.8zM277.42 95.51l2.8 -2.8l2.8 2.8l-2.8 2.8zM279.26 95.29l2.8 -2.8l2.8 2.8l-2.8 2.8zM281.1 94.64l2.8 -2.8l2.8 2.8l-2.8 2.8zM282.95 94.37l2.8 -2.8l2.8 2.8l-2.8 2.8zM284.79 93.86l2.8 -2.8l2.8 2.8l-2.8 2.8zM286.63 92.95l2.8 -2.8l2.8 2.8l-2.8 2.8zM288.47 93.21l2.8 -2.8l2.8 2.8l-2.8 2.8z" fill="#9b9b9b"/>
<path d="M208.1 91.25H291.7M249.9 82.66V102.94M228.4 82.66H271.4M228.4 102.94H271.4" fill="none" stroke="#9b9b9b" stroke-width="1.8"/>
<path d="M123.7 23.55H249.9M123.7 17.75V29.35M249.9 17.75V29.35" fill="none" stroke="#000" stroke-width="2.1"/>
<text x="187.1" y="23.1" font-family='"Liberation Sans", sans-serif' font-weight="bold" font-size="16" style="stroke:none" text-anchor="middle">*</text>
<path d="M441.4 14.8V211.75H734.8M434.2 211.75H442.8M434.2 162.86H441.4M434.2 113.97H441.4M434.2 65.09H441.4M434.2 16.2H442.8M525.3 211.75V219.85M650.9 211.75V219.85" fill="none" stroke="#000" stroke-width="2.8" stroke-linejoin="miter"/>
<g font-family='"Liberation Serif", serif' font-weight="bold" font-size="16.3" text-anchor="end">
<text x="433.4" y="217.3">0</text>
<text x="433.4" y="168.41">50</text>
<text x="433.4" y="119.52">100</text>
<text x="433.4" y="70.64">150</text>
<text x="433.4" y="21.75">200</text>
</g>
<g font-family='"Liberation Serif", serif' font-weight="bold" font-size="16.1" text-anchor="end">
<text transform="translate(528.7 229.75) rotate(-45)">MSA</text>
<text transform="translate(654.3 229.75) rotate(-45)">HC</text>
</g>
<text transform="translate(399.5 112.3) rotate(-90)" text-anchor="middle" font-weight="bold" font-size="16"><tspan font-family='"Liberation Sans", sans-serif'>Hemoglobin,&#160;</tspan><tspan font-family='"Liberation Serif", serif'>g/L</tspan></text>
<path d="M488.5 54.91m-2.95 0a2.95 2.95 0 1 0 5.9 0a2.95 2.95 0 1 0 -5.9 0M492.83 56.78m-2.95 0a2.95 2.95 0 1 0 5.9 0a2.95 2.95 0 1 0 -5.9 0M497.16 58.37m-2.95 0a2.95 2.95 0 1 0 5.9 0a2.95 2.95 0 1 0 -5.9 0M501.49 59.69m-2.95 0a2.95 2.95 0 1 0 5.9 0a2.95 2.95 0 1 0 -5.9 0M505.82 60.75m-2.95 0a2.95 2.95 0 1 0 5.9 0a2.95 2.95 0 1 0 -5.9 0M510.14 61.56m-2.95 0a2.95 2.95 0 1 0 5.9 0a2.95 2.95 0 1 0 -5.9 0M514.47 62.14m-2.95 0a2.95 2.95 0 1 0 5.9 0a2.95 2.95 0 1 0 -5.9 0M518.8 62.49m-2.95 0a2.95 2.95 0 1 0 5.9 0a2.95 2.95 0 1 0 -5.9 0M523.13 62.65m-2.95 0a2.95 2.95 0 1 0 5.9 0a2.95 2.95 0 1 0 -5.9 0M527.46 62.65m-2.95 0a2.95 2.95 0 1 0 5.9 0a2.95 2.95 0 1 0 -5.9 0M531.79 62.49m-2.95 0a2.95 2.95 0 1 0 5.9 0a2.95 2.95 0 1 0 -5.9 0M536.12 62.14m-2.95 0a2.95 2.95 0 1 0 5.9 0a2.95 2.95 0 1 0 -5.9 0M540.45 61.56m-2.95 0a2.95 2.95 0 1 0 5.9 0a2.95 2.95 0 1 0 -5.9 0M544.78 60.75m-2.95 0a2.95 2.95 0 1 0 5.9 0a2.95 2.95 0 1 0 -5.9 0M549.11 59.69m-2.95 0a2.95 2.95 0 1 0 5.9 0a2.95 2.95 0 1 0 -5.9 0M553.44 58.37m-2.95 0a2.95 2.95 0 1 0 5.9 0a2.95 2.95 0 1 0 -5.9 0M557.77 56.78m-2.95 0a2.95 2.95 0 1 0 5.9 0a2.95 2.95 0 1 0 -5.9 0M562.1 54.91m-2.95 0a2.95 2.95 0 1 0 5.9 0a2.95 2.95 0 1 0 -5.9 0M488.74 96.29m-2.95 0a2.95 2.95 0 1 0 5.9 0a2.95 2.95 0 1 0 -5.9 0M491.9 96.99m-2.95 0a2.95 2.95 0 1 0 5.9 0a2.95 2.95 0 1 0 -5.9 0M495.06 97.86m-2.95 0a2.95 2.95 0 1 0 5.9 0a2.95 2.95 0 1 0 -5.9 0M498.23 99.15m-2.95 0a2.95 2.95 0 1 0 5.9 0a2.95 2.95 0 1 0 -5.9 0M501.39 99.17m-2.95 0a2.95 2.95 0 1 0 5.9 0a2.95 2.95 0 1 0 -5.9 0M504.55 100.7m-2.95 0a2.95 2.95 0 1 0 5.9 0a2.95 2.95 0 1 0 -5.9 0M507.72 101.37m-2.95 0a2.95 2.95 0 1 0 5.9 0a2.95 2.95 0 1 0 -5.9 0M510.88 101.67m-2.95 0a2.95 2.95 0 1 0 5.9 0a2.95 2.95 0 1 0 -5.9 0M514.05 102.67m-2.95 0a2.95 2.95 0 1 0 5.9 0a2.95 2.95 0 1 0 -5.9 0M517.21 103.02m-2.95 0a2.95 2.95 0 1 0 5.9 0a2.95 2.95 0 1 0 -5.9 0M520.37 103.54m-2.95 0a2.95 2.95 0 1 0 5.9 0a2.95 2.95 0 1 0 -5.9 0M523.54 104.39m-2.95 0a2.95 2.95 0 1 0 5.9 0a2.95 2.95 0 1 0 -5.9 0M526.7 103.37m-2.95 0a2.95 2.95 0 1 0 5.9 0a2.95 2.95 0 1 0 -5.9 0M529.86 103.92m-2.95 0a2.95 2.95 0 1 0 5.9 0a2.95 2.95 0 1 0 -5.9 0M533.03 103.11m-2.95 0a2.95 2.95 0 1 0 5.9 0a2.95 2.95 0 1 0 -5.9 0M536.19 102.46m-2.95 0a2.95 2.95 0 1 0 5.9 0a2.95 2.95 0 1 0 -5.9 0M539.36 102.08m-2.95 0a2.95 2.95 0 1 0 5.9 0a2.95 2.95 0 1 0 -5.9 0M542.52 100.93m-2.95 0a2.95 2.95 0 1 0 5.9 0a2.95 2.95 0 1 0 -5.9 0M545.68 100.56m-2.95 0a2.95 2.95 0 1 0 5.9 0a2.95 2.95 0 1 0 -5.9 0M548.85 99.98m-2.95 0a2.95 2.95 0 1 0 5.9 0a2.95 2.95 0 1 0 -5.9 0M552.01 98.37m-2.95 0a2.95 2.95 0 1 0 5.9 0a2.95 2.95 0 1 0 -5.9 0M555.17 98.17m-2.95 0a2.95 2.95 0 1 0 5.9 0a2.95 2.95 0 1 0 -5.9 0M558.34 96.98m-2.95 0a2.95 2.95 0 1 0 5.9 0a2.95 2.95 0 1 0 -5.9 0M561.5 96m-2.95 0a2.95 2.95 0 1 0 5.9 0a2.95 2.95 0 1 0 -5.9 0M516.17 51.33m-2.95 0a2.95 2.95 0 1 0 5.9 0a2.95 2.95 0 1 0 -5.9 0M525.12 54.31m-2.95 0a2.95 2.95 0 1 0 5.9 0a2.95 2.95 0 1 0 -5.9 0M533.83 49.3m-2.95 0a2.95 2.95 0 1 0 5.9 0a2.95 2.95 0 1 0 -5.9 0M498.52 107.04m-2.95 0a2.95 2.95 0 1 0 5.9 0a2.95 2.95 0 1 0 -5.9 0M507.46 107.88m-2.95 0a2.95 2.95 0 1 0 5.9 0a2.95 2.95 0 1 0 -5.9 0M516.17 111.81m-2.95 0a2.95 2.95 0 1 0 5.9 0a2.95 2.95 0 1 0 -5.9 0M525.12 114.56m-2.95 0a2.95 2.95 0 1 0 5.9 0a2.95 2.95 0 1 0 -5.9 0M533.83 107.88m-2.95 0a2.95 2.95 0 1 0 5.9 0a2.95 2.95 0 1 0 -5.9 0M542.65 107.88m-2.95 0a2.95 2.95 0 1 0 5.9 0a2.95 2.95 0 1 0 -5.9 0M551.48 106.8m-2.95 0a2.95 2.95 0 1 0 5.9 0a2.95 2.95 0 1 0 -5.9 0M516.17 121.59m-2.95 0a2.95 2.95 0 1 0 5.9 0a2.95 2.95 0 1 0 -5.9 0M533.83 124.34m-2.95 0a2.95 2.95 0 1 0 5.9 0a2.95 2.95 0 1 0 -5.9 0M525.12 129.47m-2.95 0a2.95 2.95 0 1 0 5.9 0a2.95 2.95 0 1 0 -5.9 0M486.95 65.46m-2.95 0a2.95 2.95 0 1 0 5.9 0a2.95 2.95 0 1 0 -5.9 0M488.9 66.11m-2.95 0a2.95 2.95 0 1 0 5.9 0a2.95 2.95 0 1 0 -5.9 0M490.86 66.71m-2.95 0a2.95 2.95 0 1 0 5.9 0a2.95 2.95 0 1 0 -5.9 0M492.82 66.76m-2.95 0a2.95 2.95 0 1 0 5.9 0a2.95 2.95 0 1 0 -5.9 0M494.78 67.88m-2.95 0a2.95 2.95 0 1 0 5.9 0a2.95 2.95 0 1 0 -5.9 0M496.73 67.91m-2.95 0a2.95 2.95 0 1 0 5.9 0a2.95 2.95 0 1 0 -5.9 0M498.69 68.06m-2.95 0a2.95 2.95 0 1 0 5.9 0a2.95 2.95 0 1 0 -5.9 0M500.65 69.11m-2.95 0a2.95 2.95 0 1 0 5.9 0a2.95 2.95 0 1 0 -5.9 0M502.61 69.08m-2.95 0a2.95 2.95 0 1 0 5.9 0a2.95 2.95 0 1 0 -5.9 0M504.56 69.62m-2.95 0a2.95 2.95 0 1 0 5.9 0a2.95 2.95 0 1 0 -5.9 0M506.52 70.11m-2.95 0a2.95 2.95 0 1 0 5.9 0a2.95 2.95 0 1 0 -5.9 0M508.48 69.84m-2.95 0a2.95 2.95 0 1 0 5.9 0a2.95 2.95 0 1 0 -5.9 0M510.44 71.21m-2.95 0a2.95 2.95 0 1 0 5.9 0a2.95 2.95 0 1 0 -5.9 0M512.4 70.78m-2.95 0a2.95 2.95 0 1 0 5.9 0a2.95 2.95 0 1 0 -5.9 0M514.35 71.19m-2.95 0a2.95 2.95 0 1 0 5.9 0a2.95 2.95 0 1 0 -5.9 0M516.31 71.7m-2.95 0a2.95 2.95 0 1 0 5.9 0a2.95 2.95 0 1 0 -5.9 0M518.27 71.69m-2.95 0a2.95 2.95 0 1 0 5.9 0a2.95 2.95 0 1 0 -5.9 0M520.23 72.24m-2.95 0a2.95 2.95 0 1 0 5.9 0a2.95 2.95 0 1 0 -5.9 0M522.18 72.33m-2.95 0a2.95 2.95 0 1 0 5.9 0a2.95 2.95 0 1 0 -5.9 0M524.14 71.94m-2.95 0a2.95 2.95 0 1 0 5.9 0a2.95 2.95 0 1 0 -5.9 0M526.1 72.91m-2.95 0a2.95 2.95 0 1 0 5.9 0a2.95 2.95 0 1 0 -5.9 0M528.06 72.05m-2.95 0a2.95 2.95 0 1 0 5.9 0a2.95 2.95 0 1 0 -5.9 0M530.01 72.07m-2.95 0a2.95 2.95 0 1 0 5.9 0a2.95 2.95 0 1 0 -5.9 0M531.97 71.93m-2.95 0a2.95 2.95 0 1 0 5.9 0a2.95 2.95 0 1 0 -5.9 0M533.93 71.26m-2.95 0a2.95 2.95 0 1 0 5.9 0a2.95 2.95 0 1 0 -5.9 0M535.89 71.71m-2.95 0a2.95 2.95 0 1 0 5.9 0a2.95 2.95 0 1 0 -5.9 0M537.84 70.86m-2.95 0a2.95 2.95 0 1 0 5.9 0a2.95 2.95 0 1 0 -5.9 0M539.8 70.4m-2.95 0a2.95 2.95 0 1 0 5.9 0a2.95 2.95 0 1 0 -5.9 0M541.76 70.61m-2.95 0a2.95 2.95 0 1 0 5.9 0a2.95 2.95 0 1 0 -5.9 0M543.72 69.84m-2.95 0a2.95 2.95 0 1 0 5.9 0a2.95 2.95 0 1 0 -5.9 0M545.67 69.64m-2.95 0a2.95 2.95 0 1 0 5.9 0a2.95 2.95 0 1 0 -5.9 0M547.63 69.31m-2.95 0a2.95 2.95 0 1 0 5.9 0a2.95 2.95 0 1 0 -5.9 0M549.59 68.34m-2.95 0a2.95 2.95 0 1 0 5.9 0a2.95 2.95 0 1 0 -5.9 0M551.55 68.96m-2.95 0a2.95 2.95 0 1 0 5.9 0a2.95 2.95 0 1 0 -5.9 0M553.5 67.69m-2.95 0a2.95 2.95 0 1 0 5.9 0a2.95 2.95 0 1 0 -5.9 0M555.46 67.46m-2.95 0a2.95 2.95 0 1 0 5.9 0a2.95 2.95 0 1 0 -5.9 0M557.42 67.18m-2.95 0a2.95 2.95 0 1 0 5.9 0a2.95 2.95 0 1 0 -5.9 0M559.38 66.45m-2.95 0a2.95 2.95 0 1 0 5.9 0a2.95 2.95 0 1 0 -5.9 0M561.33 66.34m-2.95 0a2.95 2.95 0 1 0 5.9 0a2.95 2.95 0 1 0 -5.9 0M563.29 65.65m-2.95 0a2.95 2.95 0 1 0 5.9 0a2.95 2.95 0 1 0 -5.9 0M485.75 76.59m-2.95 0a2.95 2.95 0 1 0 5.9 0a2.95 2.95 0 1 0 -5.9 0M487.67 76.33m-2.95 0a2.95 2.95 0 1 0 5.9 0a2.95 2.95 0 1 0 -5.9 0M489.59 77.63m-2.95 0a2.95 2.95 0 1 0 5.9 0a2.95 2.95 0 1 0 -5.9 0M491.51 77.59m-2.95 0a2.95 2.95 0 1 0 5.9 0a2.95 2.95 0 1 0 -5.9 0M493.43 78.08m-2.95 0a2.95 2.95 0 1 0 5.9 0a2.95 2.95 0 1 0 -5.9 0M495.36 78.7m-2.95 0a2.95 2.95 0 1 0 5.9 0a2.95 2.95 0 1 0 -5.9 0M497.28 78.46m-2.95 0a2.95 2.95 0 1 0 5.9 0a2.95 2.95 0 1 0 -5.9 0M499.2 79.68m-2.95 0a2.95 2.95 0 1 0 5.9 0a2.95 2.95 0 1 0 -5.9 0M501.12 79.67m-2.95 0a2.95 2.95 0 1 0 5.9 0a2.95 2.95 0 1 0 -5.9 0M503.04 79.77m-2.95 0a2.95 2.95 0 1 0 5.9 0a2.95 2.95 0 1 0 -5.9 0M504.96 80.55m-2.95 0a2.95 2.95 0 1 0 5.9 0a2.95 2.95 0 1 0 -5.9 0M506.88 80.61m-2.95 0a2.95 2.95 0 1 0 5.9 0a2.95 2.95 0 1 0 -5.9 0M508.8 81.07m-2.95 0a2.95 2.95 0 1 0 5.9 0a2.95 2.95 0 1 0 -5.9 0M510.72 81.59m-2.95 0a2.95 2.95 0 1 0 5.9 0a2.95 2.95 0 1 0 -5.9 0M512.64 81.06m-2.95 0a2.95 2.95 0 1 0 5.9 0a2.95 2.95 0 1 0 -5.9 0M514.56 82.39m-2.95 0a2.95 2.95 0 1 0 5.9 0a2.95 2.95 0 1 0 -5.9 0M516.48 82.04m-2.95 0a2.95 2.95 0 1 0 5.9 0a2.95 2.95 0 1 0 -5.9 0M518.4 82.32m-2.95 0a2.95 2.95 0 1 0 5.9 0a2.95 2.95 0 1 0 -5.9 0M520.32 82.71m-2.95 0a2.95 2.95 0 1 0 5.9 0a2.95 2.95 0 1 0 -5.9 0M522.24 82.54m-2.95 0a2.95 2.95 0 1 0 5.9 0a2.95 2.95 0 1 0 -5.9 0M524.16 83.13m-2.95 0a2.95 2.95 0 1 0 5.9 0a2.95 2.95 0 1 0 -5.9 0M526.08 83.04m-2.95 0a2.95 2.95 0 1 0 5.9 0a2.95 2.95 0 1 0 -5.9 0M528 82.32m-2.95 0a2.95 2.95 0 1 0 5.9 0a2.95 2.95 0 1 0 -5.9 0M529.92 82.96m-2.95 0a2.95 2.95 0 1 0 5.9 0a2.95 2.95 0 1 0 -5.9 0M531.84 82.28m-2.95 0a2.95 2.95 0 1 0 5.9 0a2.95 2.95 0 1 0 -5.9 0M533.76 82.15m-2.95 0a2.95 2.95 0 1 0 5.9 0a2.95 2.95 0 1 0 -5.9 0M535.68 82.08m-2.95 0a2.95 2.95 0 1 0 5.9 0a2.95 2.95 0 1 0 -5.9 0M537.6 81.17m-2.95 0a2.95 2.95 0 1 0 5.9 0a2.95 2.95 0 1 0 -5.9 0M539.52 81.79m-2.95 0a2.95 2.95 0 1 0 5.9 0a2.95 2.95 0 1 0 -5.9 0M541.44 80.97m-2.95 0a2.95 2.95 0 1 0 5.9 0a2.95 2.95 0 1 0 -5.9 0M543.36 80.5m-2.95 0a2.95 2.95 0 1 0 5.9 0a2.95 2.95 0 1 0 -5.9 0M545.28 80.54m-2.95 0a2.95 2.95 0 1 0 5.9 0a2.95 2.95 0 1 0 -5.9 0M547.2 79.92m-2.95 0a2.95 2.95 0 1 0 5.9 0a2.95 2.95 0 1 0 -5.9 0M549.12 79.74m-2.95 0a2.95 2.95 0 1 0 5.9 0a2.95 2.95 0 1 0 -5.9 0M551.04 79.49m-2.95 0a2.95 2.95 0 1 0 5.9 0a2.95 2.95 0 1 0 -5.9 0M552.96 78.35m-2.95 0a2.95 2.95 0 1 0 5.9 0a2.95 2.95 0 1 0 -5.9 0M554.88 79.02m-2.95 0a2.95 2.95 0 1 0 5.9 0a2.95 2.95 0 1 0 -5.9 0M556.8 77.94m-2.95 0a2.95 2.95 0 1 0 5.9 0a2.95 2.95 0 1 0 -5.9 0M558.72 77.64m-2.95 0a2.95 2.95 0 1 0 5.9 0a2.95 2.95 0 1 0 -5.9 0M560.64 77.37m-2.95 0a2.95 2.95 0 1 0 5.9 0a2.95 2.95 0 1 0 -5.9 0M562.56 76.57m-2.95 0a2.95 2.95 0 1 0 5.9 0a2.95 2.95 0 1 0 -5.9 0M564.48 76.66m-2.95 0a2.95 2.95 0 1 0 5.9 0a2.95 2.95 0 1 0 -5.9 0M485.16 86.05m-2.95 0a2.95 2.95 0 1 0 5.9 0a2.95 2.95 0 1 0 -5.9 0M487.03 86.27m-2.95 0a2.95 2.95 0 1 0 5.9 0a2.95 2.95 0 1 0 -5.9 0M488.9 86.68m-2.95 0a2.95 2.95 0 1 0 5.9 0a2.95 2.95 0 1 0 -5.9 0M490.78 87.81m-2.95 0a2.95 2.95 0 1 0 5.9 0a2.95 2.95 0 1 0 -5.9 0M492.65 87.22m-2.95 0a2.95 2.95 0 1 0 5.9 0a2.95 2.95 0 1 0 -5.9 0M494.52 88.32m-2.95 0a2.95 2.95 0 1 0 5.9 0a2.95 2.95 0 1 0 -5.9 0M496.39 88.58m-2.95 0a2.95 2.95 0 1 0 5.9 0a2.95 2.95 0 1 0 -5.9 0M498.27 88.85m-2.95 0a2.95 2.95 0 1 0 5.9 0a2.95 2.95 0 1 0 -5.9 0M500.14 89.65m-2.95 0a2.95 2.95 0 1 0 5.9 0a2.95 2.95 0 1 0 -5.9 0M502.01 89.38m-2.95 0a2.95 2.95 0 1 0 5.9 0a2.95 2.95 0 1 0 -5.9 0M503.88 90.12m-2.95 0a2.95 2.95 0 1 0 5.9 0a2.95 2.95 0 1 0 -5.9 0M505.76 90.79m-2.95 0a2.95 2.95 0 1 0 5.9 0a2.95 2.95 0 1 0 -5.9 0M507.63 90.49m-2.95 0a2.95 2.95 0 1 0 5.9 0a2.95 2.95 0 1 0 -5.9 0M509.5 91.25m-2.95 0a2.95 2.95 0 1 0 5.9 0a2.95 2.95 0 1 0 -5.9 0M511.37 91.42m-2.95 0a2.95 2.95 0 1 0 5.9 0a2.95 2.95 0 1 0 -5.9 0M513.25 91.59m-2.95 0a2.95 2.95 0 1 0 5.9 0a2.95 2.95 0 1 0 -5.9 0M515.12 92.51m-2.95 0a2.95 2.95 0 1 0 5.9 0a2.95 2.95 0 1 0 -5.9 0M516.99 91.74m-2.95 0a2.95 2.95 0 1 0 5.9 0a2.95 2.95 0 1 0 -5.9 0M518.86 92.71m-2.95 0a2.95 2.95 0 1 0 5.9 0a2.95 2.95 0 1 0 -5.9 0M520.74 92.84m-2.95 0a2.95 2.95 0 1 0 5.9 0a2.95 2.95 0 1 0 -5.9 0M522.61 92.78m-2.95 0a2.95 2.95 0 1 0 5.9 0a2.95 2.95 0 1 0 -5.9 0M524.48 93.19m-2.95 0a2.95 2.95 0 1 0 5.9 0a2.95 2.95 0 1 0 -5.9 0M526.35 92.88m-2.95 0a2.95 2.95 0 1 0 5.9 0a2.95 2.95 0 1 0 -5.9 0M528.23 92.82m-2.95 0a2.95 2.95 0 1 0 5.9 0a2.95 2.95 0 1 0 -5.9 0M530.1 93.21m-2.95 0a2.95 2.95 0 1 0 5.9 0a2.95 2.95 0 1 0 -5.9 0M531.97 92.02m-2.95 0a2.95 2.95 0 1 0 5.9 0a2.95 2.95 0 1 0 -5.9 0M533.84 92.48m-2.95 0a2.95 2.95 0 1 0 5.9 0a2.95 2.95 0 1 0 -5.9 0M535.72 92.02m-2.95 0a2.95 2.95 0 1 0 5.9 0a2.95 2.95 0 1 0 -5.9 0M537.59 91.64m-2.95 0a2.95 2.95 0 1 0 5.9 0a2.95 2.95 0 1 0 -5.9 0M539.46 91.76m-2.95 0a2.95 2.95 0 1 0 5.9 0a2.95 2.95 0 1 0 -5.9 0M541.33 90.73m-2.95 0a2.95 2.95 0 1 0 5.9 0a2.95 2.95 0 1 0 -5.9 0M543.21 90.9m-2.95 0a2.95 2.95 0 1 0 5.9 0a2.95 2.95 0 1 0 -5.9 0M545.08 90.73m-2.95 0a2.95 2.95 0 1 0 5.9 0a2.95 2.95 0 1 0 -5.9 0M546.95 89.81m-2.95 0a2.95 2.95 0 1 0 5.9 0a2.95 2.95 0 1 0 -5.9 0M548.82 89.86m-2.95 0a2.95 2.95 0 1 0 5.9 0a2.95 2.95 0 1 0 -5.9 0M550.7 89.3m-2.95 0a2.95 2.95 0 1 0 5.9 0a2.95 2.95 0 1 0 -5.9 0M552.57 88.84m-2.95 0a2.95 2.95 0 1 0 5.9 0a2.95 2.95 0 1 0 -5.9 0M554.44 89.03m-2.95 0a2.95 2.95 0 1 0 5.9 0a2.95 2.95 0 1 0 -5.9 0M556.31 87.57m-2.95 0a2.95 2.95 0 1 0 5.9 0a2.95 2.95 0 1 0 -5.9 0M558.19 87.96m-2.95 0a2.95 2.95 0 1 0 5.9 0a2.95 2.95 0 1 0 -5.9 0M560.06 87.35m-2.95 0a2.95 2.95 0 1 0 5.9 0a2.95 2.95 0 1 0 -5.9 0M561.93 86.73m-2.95 0a2.95 2.95 0 1 0 5.9 0a2.95 2.95 0 1 0 -5.9 0M563.8 86.54m-2.95 0a2.95 2.95 0 1 0 5.9 0a2.95 2.95 0 1 0 -5.9 0M565.68 85.72m-2.95 0a2.95 2.95 0 1 0 5.9 0a2.95 2.95 0 1 0 -5.9 0" fill="#000"/>
<path d="M483.5 82.35H567.1M525.3 69.82V98.45M503.8 69.82H546.8M503.8 98.45H546.8" fill="none" stroke="#fff" stroke-opacity="0.65" stroke-width="2.45"/>
<path d="M483.5 82.35H567.1M525.3 69.82V98.45M503.8 69.82H546.8M503.8 98.45H546.8" fill="none" stroke="#000" stroke-width="1.8"/>
<path d="M634.89 55.15l2.75 -2.75l2.75 2.75l-2.75 2.75zM643.6 55.15l2.75 -2.75l2.75 2.75l-2.75 2.75zM652.54 55.15l2.75 -2.75l2.75 2.75l-2.75 2.75zM661.25 55.15l2.75 -2.75l2.75 2.75l-2.75 2.75zM608.31 55.38l2.85 -2.85l2.85 2.85l-2.85 2.85zM610.34 56.39l2.85 -2.85l2.85 2.85l-2.85 2.85zM612.38 56.89l2.85 -2.85l2.85 2.85l-2.85 2.85zM614.41 57.87l2.85 -2.85l2.85 2.85l-2.85 2.85zM616.44 58.6l2.85 -2.85l2.85 2.85l-2.85 2.85zM618.48 58.68l2.85 -2.85l2.85 2.85l-2.85 2.85zM620.51 60.27l2.85 -2.85l2.85 2.85l-2.85 2.85zM622.55 60.33l2.85 -2.85l2.85 2.85l-2.85 2.85zM624.58 61.1l2.85 -2.85l2.85 2.85l-2.85 2.85zM626.61 61.84l2.85 -2.85l2.85 2.85l-2.85 2.85zM628.65 62.02l2.85 -2.85l2.85 2.85l-2.85 2.85zM630.68 63.22l2.85 -2.85l2.85 2.85l-2.85 2.85zM632.72 63.4l2.85 -2.85l2.85 2.85l-2.85 2.85zM634.75 63.65l2.85 -2.85l2.85 2.85l-2.85 2.85zM636.78 64.68l2.85 -2.85l2.85 2.85l-2.85 2.85zM638.82 64.76l2.85 -2.85l2.85 2.85l-2.85 2.85zM640.85 65.3l2.85 -2.85l2.85 2.85l-2.85 2.85zM642.89 65.79l2.85 -2.85l2.85 2.85l-2.85 2.85zM644.92 65.49l2.85 -2.85l2.85 2.85l-2.85 2.85zM646.95 66.68l2.85 -2.85l2.85 2.85l-2.85 2.85zM648.99 66.01l2.85 -2.85l2.85 2.85l-2.85 2.85zM651.02 65.86l2.85 -2.85l2.85 2.85l-2.85 2.85zM653.06 65.75l2.85 -2.85l2.85 2.85l-2.85 2.85zM655.09 65.14l2.85 -2.85l2.85 2.85l-2.85 2.85zM657.12 65.03l2.85 -2.85l2.85 2.85l-2.85 2.85zM659.16 64.5l2.85 -2.85l2.85 2.85l-2.85 2.85zM661.19 63.5l2.85 -2.85l2.85 2.85l-2.85 2.85zM663.23 63.87l2.85 -2.85l2.85 2.85l-2.85 2.85zM665.26 62.71l2.85 -2.85l2.85 2.85l-2.85 2.85zM667.29 62.32l2.85 -2.85l2.85 2.85l-2.85 2.85zM669.33 61.83l2.85 -2.85l2.85 2.85l-2.85 2.85zM671.36 60.81l2.85 -2.85l2.85 2.85l-2.85 2.85zM673.4 60.87l2.85 -2.85l2.85 2.85l-2.85 2.85zM675.43 59.73l2.85 -2.85l2.85 2.85l-2.85 2.85zM677.46 58.91l2.85 -2.85l2.85 2.85l-2.85 2.85zM679.5 58.7l2.85 -2.85l2.85 2.85l-2.85 2.85zM681.53 57.64l2.85 -2.85l2.85 2.85l-2.85 2.85zM683.57 57.07l2.85 -2.85l2.85 2.85l-2.85 2.85zM685.6 56.39l2.85 -2.85l2.85 2.85l-2.85 2.85zM687.63 55.06l2.85 -2.85l2.85 2.85l-2.85 2.85zM608.9 67.18l2.85 -2.85l2.85 2.85l-2.85 2.85zM610.82 67.43l2.85 -2.85l2.85 2.85l-2.85 2.85zM612.74 68.85l2.85 -2.85l2.85 2.85l-2.85 2.85zM614.66 68.63l2.85 -2.85l2.85 2.85l-2.85 2.85zM616.58 69.48l2.85 -2.85l2.85 2.85l-2.85 2.85zM618.51 70.04l2.85 -2.85l2.85 2.85l-2.85 2.85zM620.43 70.28l2.85 -2.85l2.85 2.85l-2.85 2.85zM622.35 71.38l2.85 -2.85l2.85 2.85l-2.85 2.85zM624.27 71.29l2.85 -2.85l2.85 2.85l-2.85 2.85zM626.19 71.79l2.85 -2.85l2.85 2.85l-2.85 2.85zM628.11 72.72l2.85 -2.85l2.85 2.85l-2.85 2.85zM630.03 72.7l2.85 -2.85l2.85 2.85l-2.85 2.85zM631.95 73.34l2.85 -2.85l2.85 2.85l-2.85 2.85zM633.87 73.73l2.85 -2.85l2.85 2.85l-2.85 2.85zM635.79 73.73l2.85 -2.85l2.85 2.85l-2.85 2.85zM637.71 74.97l2.85 -2.85l2.85 2.85l-2.85 2.85zM639.63 74.42l2.85 -2.85l2.85 2.85l-2.85 2.85zM641.55 75.06l2.85 -2.85l2.85 2.85l-2.85 2.85zM643.47 75.44l2.85 -2.85l2.85 2.85l-2.85 2.85zM645.39 75.45l2.85 -2.85l2.85 2.85l-2.85 2.85zM647.31 75.92l2.85 -2.85l2.85 2.85l-2.85 2.85zM649.23 75.67l2.85 -2.85l2.85 2.85l-2.85 2.85zM651.15 75.27l2.85 -2.85l2.85 2.85l-2.85 2.85zM653.07 75.82l2.85 -2.85l2.85 2.85l-2.85 2.85zM654.99 74.77l2.85 -2.85l2.85 2.85l-2.85 2.85zM656.91 74.81l2.85 -2.85l2.85 2.85l-2.85 2.85zM658.83 74.47l2.85 -2.85l2.85 2.85l-2.85 2.85zM660.75 73.85l2.85 -2.85l2.85 2.85l-2.85 2.85zM662.67 74.09l2.85 -2.85l2.85 2.85l-2.85 2.85zM664.59 73.01l2.85 -2.85l2.85 2.85l-2.85 2.85zM666.51 72.75l2.85 -2.85l2.85 2.85l-2.85 2.85zM668.43 72.69l2.85 -2.85l2.85 2.85l-2.85 2.85zM670.35 71.81l2.85 -2.85l2.85 2.85l-2.85 2.85zM672.27 71.56l2.85 -2.85l2.85 2.85l-2.85 2.85zM674.19 71.01l2.85 -2.85l2.85 2.85l-2.85 2.85zM676.11 70.19l2.85 -2.85l2.85 2.85l-2.85 2.85zM678.03 70.53l2.85 -2.85l2.85 2.85l-2.85 2.85zM679.95 69.07l2.85 -2.85l2.85 2.85l-2.85 2.85zM681.87 68.95l2.85 -2.85l2.85 2.85l-2.85 2.85zM683.79 68.44l2.85 -2.85l2.85 2.85l-2.85 2.85zM685.71 67.66l2.85 -2.85l2.85 2.85l-2.85 2.85zM687.63 67.41l2.85 -2.85l2.85 2.85l-2.85 2.85zM608.31 75.99l2.85 -2.85l2.85 2.85l-2.85 2.85zM610.24 76.88l2.85 -2.85l2.85 2.85l-2.85 2.85zM612.18 77.19l2.85 -2.85l2.85 2.85l-2.85 2.85zM614.11 77.95l2.85 -2.85l2.85 2.85l-2.85 2.85zM616.05 78.51l2.85 -2.85l2.85 2.85l-2.85 2.85zM617.98 78.46l2.85 -2.85l2.85 2.85l-2.85 2.85zM619.92 79.95l2.85 -2.85l2.85 2.85l-2.85 2.85zM621.85 79.75l2.85 -2.85l2.85 2.85l-2.85 2.85zM623.79 80.42l2.85 -2.85l2.85 2.85l-2.85 2.85zM625.72 81l2.85 -2.85l2.85 2.85l-2.85 2.85zM627.66 81.15l2.85 -2.85l2.85 2.85l-2.85 2.85zM629.59 82.1l2.85 -2.85l2.85 2.85l-2.85 2.85zM631.53 82.2l2.85 -2.85l2.85 2.85l-2.85 2.85zM633.46 82.31l2.85 -2.85l2.85 2.85l-2.85 2.85zM635.39 83.35l2.85 -2.85l2.85 2.85l-2.85 2.85zM637.33 83.23l2.85 -2.85l2.85 2.85l-2.85 2.85zM639.26 83.73l2.85 -2.85l2.85 2.85l-2.85 2.85zM641.2 84.12l2.85 -2.85l2.85 2.85l-2.85 2.85zM643.13 83.89l2.85 -2.85l2.85 2.85l-2.85 2.85zM645.07 85.01l2.85 -2.85l2.85 2.85l-2.85 2.85zM647 84.48l2.85 -2.85l2.85 2.85l-2.85 2.85zM648.94 84.58l2.85 -2.85l2.85 2.85l-2.85 2.85zM650.87 84.66l2.85 -2.85l2.85 2.85l-2.85 2.85zM652.81 84.17l2.85 -2.85l2.85 2.85l-2.85 2.85zM654.74 84.14l2.85 -2.85l2.85 2.85l-2.85 2.85zM656.68 83.77l2.85 -2.85l2.85 2.85l-2.85 2.85zM658.61 82.95l2.85 -2.85l2.85 2.85l-2.85 2.85zM660.55 83.52l2.85 -2.85l2.85 2.85l-2.85 2.85zM662.48 82.4l2.85 -2.85l2.85 2.85l-2.85 2.85zM664.42 82.23l2.85 -2.85l2.85 2.85l-2.85 2.85zM666.35 81.88l2.85 -2.85l2.85 2.85l-2.85 2.85zM668.29 81.14l2.85 -2.85l2.85 2.85l-2.85 2.85zM670.22 81.25l2.85 -2.85l2.85 2.85l-2.85 2.85zM672.16 80.33l2.85 -2.85l2.85 2.85l-2.85 2.85zM674.09 79.69l2.85 -2.85l2.85 2.85l-2.85 2.85zM676.03 79.76l2.85 -2.85l2.85 2.85l-2.85 2.85zM677.96 78.78l2.85 -2.85l2.85 2.85l-2.85 2.85zM679.9 78.44l2.85 -2.85l2.85 2.85l-2.85 2.85zM681.83 77.94l2.85 -2.85l2.85 2.85l-2.85 2.85zM683.76 76.91l2.85 -2.85l2.85 2.85l-2.85 2.85zM685.7 77.25l2.85 -2.85l2.85 2.85l-2.85 2.85zM687.63 75.89l2.85 -2.85l2.85 2.85l-2.85 2.85zM610.1 84.93l2.85 -2.85l2.85 2.85l-2.85 2.85zM612.41 86.3l2.85 -2.85l2.85 2.85l-2.85 2.85zM614.72 87.1l2.85 -2.85l2.85 2.85l-2.85 2.85zM617.04 87.4l2.85 -2.85l2.85 2.85l-2.85 2.85zM619.35 88.53l2.85 -2.85l2.85 2.85l-2.85 2.85zM621.66 89.05l2.85 -2.85l2.85 2.85l-2.85 2.85zM623.98 89.74l2.85 -2.85l2.85 2.85l-2.85 2.85zM626.29 90.85l2.85 -2.85l2.85 2.85l-2.85 2.85zM628.6 90.56l2.85 -2.85l2.85 2.85l-2.85 2.85zM630.92 92l2.85 -2.85l2.85 2.85l-2.85 2.85zM633.23 92.3l2.85 -2.85l2.85 2.85l-2.85 2.85zM635.55 92.73l2.85 -2.85l2.85 2.85l-2.85 2.85zM637.86 93.46l2.85 -2.85l2.85 2.85l-2.85 2.85zM640.17 93.58l2.85 -2.85l2.85 2.85l-2.85 2.85zM642.49 94.24l2.85 -2.85l2.85 2.85l-2.85 2.85zM644.8 94.87l2.85 -2.85l2.85 2.85l-2.85 2.85zM647.11 94.34l2.85 -2.85l2.85 2.85l-2.85 2.85zM649.43 95.04l2.85 -2.85l2.85 2.85l-2.85 2.85zM651.74 94.5l2.85 -2.85l2.85 2.85l-2.85 2.85zM654.05 94.13l2.85 -2.85l2.85 2.85l-2.85 2.85zM656.37 94.05l2.85 -2.85l2.85 2.85l-2.85 2.85zM658.68 92.89l2.85 -2.85l2.85 2.85l-2.85 2.85zM660.99 93.07l2.85 -2.85l2.85 2.85l-2.85 2.85zM663.31 92.41l2.85 -2.85l2.85 2.85l-2.85 2.85zM665.62 91.47l2.85 -2.85l2.85 2.85l-2.85 2.85zM667.93 91.23l2.85 -2.85l2.85 2.85l-2.85 2.85zM670.25 90.39l2.85 -2.85l2.85 2.85l-2.85 2.85zM672.56 89.77l2.85 -2.85l2.85 2.85l-2.85 2.85zM674.87 89.47l2.85 -2.85l2.85 2.85l-2.85 2.85zM677.19 87.85l2.85 -2.85l2.85 2.85l-2.85 2.85zM679.5 88l2.85 -2.85l2.85 2.85l-2.85 2.85zM681.81 86.89l2.85 -2.85l2.85 2.85l-2.85 2.85zM684.13 86.05l2.85 -2.85l2.85 2.85l-2.85 2.85zM686.44 85.46l2.85 -2.85l2.85 2.85l-2.85 2.85z" fill="#9b9b9b"/>
<path d="M609.1 74H692.7M650.9 63.26V84.73M629.4 63.26H672.4M629.4 84.73H672.4" fill="none" stroke="#9b9b9b" stroke-width="1.8"/>
<path d="M526.2 12.9H652.1M526.2 7.1V18.7M652.1 7.1V18.7" fill="none" stroke="#000" stroke-width="2.1"/>
<text x="589.4" y="12" font-family='"Liberation Sans", sans-serif' font-weight="bold" font-size="16" style="stroke:none" text-anchor="middle">*</text>
<path d="M844.25 11.8V208.7H1137.65M837.05 208.7H845.65M837.05 159.82H844.25M837.05 110.95H844.25M837.05 62.07H844.25M837.05 13.2H845.65M928.15 208.7V216.8M1053.75 208.7V216.8" fill="none" stroke="#000" stroke-width="2.8" stroke-linejoin="miter"/>
<g font-family='"Liberation Serif", serif' font-weight="bold" font-size="16.3" text-anchor="end">
<text x="836.25" y="214.25">0</text>
<text x="836.25" y="165.38">100</text>
<text x="836.25" y="116.5">200</text>
<text x="836.25" y="67.62">300</text>
<text x="836.25" y="18.75">400</text>
</g>
<g font-family='"Liberation Serif", serif' font-weight="bold" font-size="16.1" text-anchor="end">
<text transform="translate(931.55 226.7) rotate(-45)">MSA</text>
<text transform="translate(1057.15 226.7) rotate(-45)">HC</text>
</g>
<text transform="translate(802.9 110.3) rotate(-90)" text-anchor="middle" font-weight="bold" font-size="16"><tspan font-family='"Liberation Serif", serif'>Platelet, 10</tspan><tspan font-family='"Liberation Serif", serif' font-size="11.5" dy="-6">9</tspan><tspan font-family='"Liberation Serif", serif' dy="6">/L</tspan></text>
<path d="M927.87 24.47m-2.95 0a2.95 2.95 0 1 0 5.9 0a2.95 2.95 0 1 0 -5.9 0M927.87 37.92m-2.95 0a2.95 2.95 0 1 0 5.9 0a2.95 2.95 0 1 0 -5.9 0M923.53 52.97m-2.95 0a2.95 2.95 0 1 0 5.9 0a2.95 2.95 0 1 0 -5.9 0M932.21 51.23m-2.95 0a2.95 2.95 0 1 0 5.9 0a2.95 2.95 0 1 0 -5.9 0M919.19 59.62m-2.95 0a2.95 2.95 0 1 0 5.9 0a2.95 2.95 0 1 0 -5.9 0M936.55 59.62m-2.95 0a2.95 2.95 0 1 0 5.9 0a2.95 2.95 0 1 0 -5.9 0M927.87 66.42m-2.95 0a2.95 2.95 0 1 0 5.9 0a2.95 2.95 0 1 0 -5.9 0M940.89 68.3m-2.95 0a2.95 2.95 0 1 0 5.9 0a2.95 2.95 0 1 0 -5.9 0M914.85 73.66m-2.95 0a2.95 2.95 0 1 0 5.9 0a2.95 2.95 0 1 0 -5.9 0M923.53 76.26m-2.95 0a2.95 2.95 0 1 0 5.9 0a2.95 2.95 0 1 0 -5.9 0M932.21 74.09m-2.95 0a2.95 2.95 0 1 0 5.9 0a2.95 2.95 0 1 0 -5.9 0M897.05 81.61m-2.95 0a2.95 2.95 0 1 0 5.9 0a2.95 2.95 0 1 0 -5.9 0M905.88 82.63m-2.95 0a2.95 2.95 0 1 0 5.9 0a2.95 2.95 0 1 0 -5.9 0M914.56 83.06m-2.95 0a2.95 2.95 0 1 0 5.9 0a2.95 2.95 0 1 0 -5.9 0M923.53 85.23m-2.95 0a2.95 2.95 0 1 0 5.9 0a2.95 2.95 0 1 0 -5.9 0M932.21 86.68m-2.95 0a2.95 2.95 0 1 0 5.9 0a2.95 2.95 0 1 0 -5.9 0M940.89 85.23m-2.95 0a2.95 2.95 0 1 0 5.9 0a2.95 2.95 0 1 0 -5.9 0M949.86 82.63m-2.95 0a2.95 2.95 0 1 0 5.9 0a2.95 2.95 0 1 0 -5.9 0M958.54 81.9m-2.95 0a2.95 2.95 0 1 0 5.9 0a2.95 2.95 0 1 0 -5.9 0M889.53 90.44m-2.95 0a2.95 2.95 0 1 0 5.9 0a2.95 2.95 0 1 0 -5.9 0M898.21 93.33m-2.95 0a2.95 2.95 0 1 0 5.9 0a2.95 2.95 0 1 0 -5.9 0M906.89 94.49m-2.95 0a2.95 2.95 0 1 0 5.9 0a2.95 2.95 0 1 0 -5.9 0M915.14 95.65m-2.95 0a2.95 2.95 0 1 0 5.9 0a2.95 2.95 0 1 0 -5.9 0M923.53 98.11m-2.95 0a2.95 2.95 0 1 0 5.9 0a2.95 2.95 0 1 0 -5.9 0M932.21 98.11m-2.95 0a2.95 2.95 0 1 0 5.9 0a2.95 2.95 0 1 0 -5.9 0M940.89 94.49m-2.95 0a2.95 2.95 0 1 0 5.9 0a2.95 2.95 0 1 0 -5.9 0M949.14 93.77m-2.95 0a2.95 2.95 0 1 0 5.9 0a2.95 2.95 0 1 0 -5.9 0M957.53 92.75m-2.95 0a2.95 2.95 0 1 0 5.9 0a2.95 2.95 0 1 0 -5.9 0M966.21 89.43m-2.95 0a2.95 2.95 0 1 0 5.9 0a2.95 2.95 0 1 0 -5.9 0M889.97 108.23m-2.95 0a2.95 2.95 0 1 0 5.9 0a2.95 2.95 0 1 0 -5.9 0M896.77 110.41m-2.95 0a2.95 2.95 0 1 0 5.9 0a2.95 2.95 0 1 0 -5.9 0M903.56 111.13m-2.95 0a2.95 2.95 0 1 0 5.9 0a2.95 2.95 0 1 0 -5.9 0M910.51 111.42m-2.95 0a2.95 2.95 0 1 0 5.9 0a2.95 2.95 0 1 0 -5.9 0M917.45 114.31m-2.95 0a2.95 2.95 0 1 0 5.9 0a2.95 2.95 0 1 0 -5.9 0M924.25 117.35m-2.95 0a2.95 2.95 0 1 0 5.9 0a2.95 2.95 0 1 0 -5.9 0M931.49 117.35m-2.95 0a2.95 2.95 0 1 0 5.9 0a2.95 2.95 0 1 0 -5.9 0M938 114.02m-2.95 0a2.95 2.95 0 1 0 5.9 0a2.95 2.95 0 1 0 -5.9 0M944.94 111.85m-2.95 0a2.95 2.95 0 1 0 5.9 0a2.95 2.95 0 1 0 -5.9 0M951.74 110.41m-2.95 0a2.95 2.95 0 1 0 5.9 0a2.95 2.95 0 1 0 -5.9 0M958.54 108.96m-2.95 0a2.95 2.95 0 1 0 5.9 0a2.95 2.95 0 1 0 -5.9 0M965.49 108.23m-2.95 0a2.95 2.95 0 1 0 5.9 0a2.95 2.95 0 1 0 -5.9 0M889.53 128.06m-2.95 0a2.95 2.95 0 1 0 5.9 0a2.95 2.95 0 1 0 -5.9 0M894.59 128.49m-2.95 0a2.95 2.95 0 1 0 5.9 0a2.95 2.95 0 1 0 -5.9 0M899.66 128.49m-2.95 0a2.95 2.95 0 1 0 5.9 0a2.95 2.95 0 1 0 -5.9 0M952.47 128.49m-2.95 0a2.95 2.95 0 1 0 5.9 0a2.95 2.95 0 1 0 -5.9 0M958.25 128.06m-2.95 0a2.95 2.95 0 1 0 5.9 0a2.95 2.95 0 1 0 -5.9 0M964.04 127.77m-2.95 0a2.95 2.95 0 1 0 5.9 0a2.95 2.95 0 1 0 -5.9 0M889.82 170.73m-2.95 0a2.95 2.95 0 1 0 5.9 0a2.95 2.95 0 1 0 -5.9 0M898.21 171.17m-2.95 0a2.95 2.95 0 1 0 5.9 0a2.95 2.95 0 1 0 -5.9 0M906.6 172.62m-2.95 0a2.95 2.95 0 1 0 5.9 0a2.95 2.95 0 1 0 -5.9 0M915.14 174.5m-2.95 0a2.95 2.95 0 1 0 5.9 0a2.95 2.95 0 1 0 -5.9 0M923.53 178.69m-2.95 0a2.95 2.95 0 1 0 5.9 0a2.95 2.95 0 1 0 -5.9 0M932.21 174.79m-2.95 0a2.95 2.95 0 1 0 5.9 0a2.95 2.95 0 1 0 -5.9 0M940.46 174.35m-2.95 0a2.95 2.95 0 1 0 5.9 0a2.95 2.95 0 1 0 -5.9 0M948.85 172.18m-2.95 0a2.95 2.95 0 1 0 5.9 0a2.95 2.95 0 1 0 -5.9 0M957.24 171.17m-2.95 0a2.95 2.95 0 1 0 5.9 0a2.95 2.95 0 1 0 -5.9 0M966.21 170.45m-2.95 0a2.95 2.95 0 1 0 5.9 0a2.95 2.95 0 1 0 -5.9 0M891.41 101.58m-2.9 0a2.9 2.9 0 1 0 5.8 0a2.9 2.9 0 1 0 -5.8 0M896.65 102.53m-2.9 0a2.9 2.9 0 1 0 5.8 0a2.9 2.9 0 1 0 -5.8 0M901.89 103.43m-2.9 0a2.9 2.9 0 1 0 5.8 0a2.9 2.9 0 1 0 -5.8 0M907.13 104.27m-2.9 0a2.9 2.9 0 1 0 5.8 0a2.9 2.9 0 1 0 -5.8 0M912.37 105.06m-2.9 0a2.9 2.9 0 1 0 5.8 0a2.9 2.9 0 1 0 -5.8 0M917.61 105.77m-2.9 0a2.9 2.9 0 1 0 5.8 0a2.9 2.9 0 1 0 -5.8 0M922.85 106.37m-2.9 0a2.9 2.9 0 1 0 5.8 0a2.9 2.9 0 1 0 -5.8 0M928.09 106.79m-2.9 0a2.9 2.9 0 1 0 5.8 0a2.9 2.9 0 1 0 -5.8 0M933.33 106.37m-2.9 0a2.9 2.9 0 1 0 5.8 0a2.9 2.9 0 1 0 -5.8 0M938.57 105.77m-2.9 0a2.9 2.9 0 1 0 5.8 0a2.9 2.9 0 1 0 -5.8 0M943.81 105.06m-2.9 0a2.9 2.9 0 1 0 5.8 0a2.9 2.9 0 1 0 -5.8 0M949.04 104.27m-2.9 0a2.9 2.9 0 1 0 5.8 0a2.9 2.9 0 1 0 -5.8 0M954.28 103.43m-2.9 0a2.9 2.9 0 1 0 5.8 0a2.9 2.9 0 1 0 -5.8 0M959.52 102.53m-2.9 0a2.9 2.9 0 1 0 5.8 0a2.9 2.9 0 1 0 -5.8 0M964.76 101.58m-2.9 0a2.9 2.9 0 1 0 5.8 0a2.9 2.9 0 1 0 -5.8 0M891.7 118.35m-2.9 0a2.9 2.9 0 1 0 5.8 0a2.9 2.9 0 1 0 -5.8 0M895.15 118.55m-2.9 0a2.9 2.9 0 1 0 5.8 0a2.9 2.9 0 1 0 -5.8 0M898.59 119.6m-2.9 0a2.9 2.9 0 1 0 5.8 0a2.9 2.9 0 1 0 -5.8 0M902.04 121.15m-2.9 0a2.9 2.9 0 1 0 5.8 0a2.9 2.9 0 1 0 -5.8 0M905.48 121.57m-2.9 0a2.9 2.9 0 1 0 5.8 0a2.9 2.9 0 1 0 -5.8 0M908.92 122.73m-2.9 0a2.9 2.9 0 1 0 5.8 0a2.9 2.9 0 1 0 -5.8 0M912.37 123.56m-2.9 0a2.9 2.9 0 1 0 5.8 0a2.9 2.9 0 1 0 -5.8 0M915.81 123.76m-2.9 0a2.9 2.9 0 1 0 5.8 0a2.9 2.9 0 1 0 -5.8 0M919.26 125.74m-2.9 0a2.9 2.9 0 1 0 5.8 0a2.9 2.9 0 1 0 -5.8 0M922.7 125.22m-2.9 0a2.9 2.9 0 1 0 5.8 0a2.9 2.9 0 1 0 -5.8 0M926.15 126.15m-2.9 0a2.9 2.9 0 1 0 5.8 0a2.9 2.9 0 1 0 -5.8 0M929.59 126.28m-2.9 0a2.9 2.9 0 1 0 5.8 0a2.9 2.9 0 1 0 -5.8 0M933.04 125.46m-2.9 0a2.9 2.9 0 1 0 5.8 0a2.9 2.9 0 1 0 -5.8 0M936.48 125.3m-2.9 0a2.9 2.9 0 1 0 5.8 0a2.9 2.9 0 1 0 -5.8 0M939.93 124.17m-2.9 0a2.9 2.9 0 1 0 5.8 0a2.9 2.9 0 1 0 -5.8 0M943.37 123.07m-2.9 0a2.9 2.9 0 1 0 5.8 0a2.9 2.9 0 1 0 -5.8 0M946.82 123.25m-2.9 0a2.9 2.9 0 1 0 5.8 0a2.9 2.9 0 1 0 -5.8 0M950.26 121.41m-2.9 0a2.9 2.9 0 1 0 5.8 0a2.9 2.9 0 1 0 -5.8 0M953.71 120.87m-2.9 0a2.9 2.9 0 1 0 5.8 0a2.9 2.9 0 1 0 -5.8 0M957.15 119.91m-2.9 0a2.9 2.9 0 1 0 5.8 0a2.9 2.9 0 1 0 -5.8 0M960.59 118.47m-2.9 0a2.9 2.9 0 1 0 5.8 0a2.9 2.9 0 1 0 -5.8 0M964.04 118.4m-2.9 0a2.9 2.9 0 1 0 5.8 0a2.9 2.9 0 1 0 -5.8 0M904 133.26m-2.9 0a2.9 2.9 0 1 0 5.8 0a2.9 2.9 0 1 0 -5.8 0M908.41 134.25m-2.9 0a2.9 2.9 0 1 0 5.8 0a2.9 2.9 0 1 0 -5.8 0M912.82 135.16m-2.9 0a2.9 2.9 0 1 0 5.8 0a2.9 2.9 0 1 0 -5.8 0M917.24 135.98m-2.9 0a2.9 2.9 0 1 0 5.8 0a2.9 2.9 0 1 0 -5.8 0M921.65 136.69m-2.9 0a2.9 2.9 0 1 0 5.8 0a2.9 2.9 0 1 0 -5.8 0M926.06 137.17m-2.9 0a2.9 2.9 0 1 0 5.8 0a2.9 2.9 0 1 0 -5.8 0M930.47 136.69m-2.9 0a2.9 2.9 0 1 0 5.8 0a2.9 2.9 0 1 0 -5.8 0M934.89 135.98m-2.9 0a2.9 2.9 0 1 0 5.8 0a2.9 2.9 0 1 0 -5.8 0M939.3 135.16m-2.9 0a2.9 2.9 0 1 0 5.8 0a2.9 2.9 0 1 0 -5.8 0M943.71 134.25m-2.9 0a2.9 2.9 0 1 0 5.8 0a2.9 2.9 0 1 0 -5.8 0M948.12 133.26m-2.9 0a2.9 2.9 0 1 0 5.8 0a2.9 2.9 0 1 0 -5.8 0M891.7 137.06m-2.9 0a2.9 2.9 0 1 0 5.8 0a2.9 2.9 0 1 0 -5.8 0M895.15 137.99m-2.9 0a2.9 2.9 0 1 0 5.8 0a2.9 2.9 0 1 0 -5.8 0M898.59 138.04m-2.9 0a2.9 2.9 0 1 0 5.8 0a2.9 2.9 0 1 0 -5.8 0M902.04 140.14m-2.9 0a2.9 2.9 0 1 0 5.8 0a2.9 2.9 0 1 0 -5.8 0M905.48 140.17m-2.9 0a2.9 2.9 0 1 0 5.8 0a2.9 2.9 0 1 0 -5.8 0M908.92 141.14m-2.9 0a2.9 2.9 0 1 0 5.8 0a2.9 2.9 0 1 0 -5.8 0M912.37 142.05m-2.9 0a2.9 2.9 0 1 0 5.8 0a2.9 2.9 0 1 0 -5.8 0M915.81 142.18m-2.9 0a2.9 2.9 0 1 0 5.8 0a2.9 2.9 0 1 0 -5.8 0M919.26 143.71m-2.9 0a2.9 2.9 0 1 0 5.8 0a2.9 2.9 0 1 0 -5.8 0M922.7 143.77m-2.9 0a2.9 2.9 0 1 0 5.8 0a2.9 2.9 0 1 0 -5.8 0M926.15 143.88m-2.9 0a2.9 2.9 0 1 0 5.8 0a2.9 2.9 0 1 0 -5.8 0M929.59 144.6m-2.9 0a2.9 2.9 0 1 0 5.8 0a2.9 2.9 0 1 0 -5.8 0M933.04 143.67m-2.9 0a2.9 2.9 0 1 0 5.8 0a2.9 2.9 0 1 0 -5.8 0M936.48 143.28m-2.9 0a2.9 2.9 0 1 0 5.8 0a2.9 2.9 0 1 0 -5.8 0M939.93 142.81m-2.9 0a2.9 2.9 0 1 0 5.8 0a2.9 2.9 0 1 0 -5.8 0M943.37 141.27m-2.9 0a2.9 2.9 0 1 0 5.8 0a2.9 2.9 0 1 0 -5.8 0M946.82 141.84m-2.9 0a2.9 2.9 0 1 0 5.8 0a2.9 2.9 0 1 0 -5.8 0M950.26 140.14m-2.9 0a2.9 2.9 0 1 0 5.8 0a2.9 2.9 0 1 0 -5.8 0M953.71 139.43m-2.9 0a2.9 2.9 0 1 0 5.8 0a2.9 2.9 0 1 0 -5.8 0M957.15 138.83m-2.9 0a2.9 2.9 0 1 0 5.8 0a2.9 2.9 0 1 0 -5.8 0M960.59 137.6m-2.9 0a2.9 2.9 0 1 0 5.8 0a2.9 2.9 0 1 0 -5.8 0M964.04 137.12m-2.9 0a2.9 2.9 0 1 0 5.8 0a2.9 2.9 0 1 0 -5.8 0M891.41 146.57m-2.9 0a2.9 2.9 0 1 0 5.8 0a2.9 2.9 0 1 0 -5.8 0M896.6 148.15m-2.9 0a2.9 2.9 0 1 0 5.8 0a2.9 2.9 0 1 0 -5.8 0M901.79 149.65m-2.9 0a2.9 2.9 0 1 0 5.8 0a2.9 2.9 0 1 0 -5.8 0M906.98 151.06m-2.9 0a2.9 2.9 0 1 0 5.8 0a2.9 2.9 0 1 0 -5.8 0M912.16 152.37m-2.9 0a2.9 2.9 0 1 0 5.8 0a2.9 2.9 0 1 0 -5.8 0M917.35 153.55m-2.9 0a2.9 2.9 0 1 0 5.8 0a2.9 2.9 0 1 0 -5.8 0M922.54 154.56m-2.9 0a2.9 2.9 0 1 0 5.8 0a2.9 2.9 0 1 0 -5.8 0M927.73 155.25m-2.9 0a2.9 2.9 0 1 0 5.8 0a2.9 2.9 0 1 0 -5.8 0M932.91 154.56m-2.9 0a2.9 2.9 0 1 0 5.8 0a2.9 2.9 0 1 0 -5.8 0M938.1 153.55m-2.9 0a2.9 2.9 0 1 0 5.8 0a2.9 2.9 0 1 0 -5.8 0M943.29 152.37m-2.9 0a2.9 2.9 0 1 0 5.8 0a2.9 2.9 0 1 0 -5.8 0M948.48 151.06m-2.9 0a2.9 2.9 0 1 0 5.8 0a2.9 2.9 0 1 0 -5.8 0M953.66 149.65m-2.9 0a2.9 2.9 0 1 0 5.8 0a2.9 2.9 0 1 0 -5.8 0M958.85 148.15m-2.9 0a2.9 2.9 0 1 0 5.8 0a2.9 2.9 0 1 0 -5.8 0M964.04 146.57m-2.9 0a2.9 2.9 0 1 0 5.8 0a2.9 2.9 0 1 0 -5.8 0M889.53 157.42m-2.9 0a2.9 2.9 0 1 0 5.8 0a2.9 2.9 0 1 0 -5.8 0M895.43 158.92m-2.9 0a2.9 2.9 0 1 0 5.8 0a2.9 2.9 0 1 0 -5.8 0M901.33 160.34m-2.9 0a2.9 2.9 0 1 0 5.8 0a2.9 2.9 0 1 0 -5.8 0M907.23 161.66m-2.9 0a2.9 2.9 0 1 0 5.8 0a2.9 2.9 0 1 0 -5.8 0M913.12 162.88m-2.9 0a2.9 2.9 0 1 0 5.8 0a2.9 2.9 0 1 0 -5.8 0M919.02 163.95m-2.9 0a2.9 2.9 0 1 0 5.8 0a2.9 2.9 0 1 0 -5.8 0M924.92 164.82m-2.9 0a2.9 2.9 0 1 0 5.8 0a2.9 2.9 0 1 0 -5.8 0M930.82 164.82m-2.9 0a2.9 2.9 0 1 0 5.8 0a2.9 2.9 0 1 0 -5.8 0M936.72 163.95m-2.9 0a2.9 2.9 0 1 0 5.8 0a2.9 2.9 0 1 0 -5.8 0M942.62 162.88m-2.9 0a2.9 2.9 0 1 0 5.8 0a2.9 2.9 0 1 0 -5.8 0M948.51 161.66m-2.9 0a2.9 2.9 0 1 0 5.8 0a2.9 2.9 0 1 0 -5.8 0M954.41 160.34m-2.9 0a2.9 2.9 0 1 0 5.8 0a2.9 2.9 0 1 0 -5.8 0M960.31 158.92m-2.9 0a2.9 2.9 0 1 0 5.8 0a2.9 2.9 0 1 0 -5.8 0M966.21 157.42m-2.9 0a2.9 2.9 0 1 0 5.8 0a2.9 2.9 0 1 0 -5.8 0" fill="#000"/>
<path d="M886.35 125.16H969.95M928.15 95.21V153.52M906.65 95.21H949.65M906.65 153.52H949.65" fill="none" stroke="#fff" stroke-opacity="0.65" stroke-width="2.45"/>
<path d="M886.35 125.16H969.95M928.15 95.21V153.52M906.65 95.21H949.65M906.65 153.52H949.65" fill="none" stroke="#000" stroke-width="1.8"/>
<path d="M1042.01 64.03l2.75 -2.75l2.75 2.75l-2.75 2.75zM1050.69 64.47l2.75 -2.75l2.75 2.75l-2.75 2.75zM1059.51 62.59l2.75 -2.75l2.75 2.75l-2.75 2.75zM1028.7 72.71l2.75 -2.75l2.75 2.75l-2.75 2.75zM1037.38 74.88l2.75 -2.75l2.75 2.75l-2.75 2.75zM1046.35 76.33l2.75 -2.75l2.75 2.75l-2.75 2.75zM1055.03 76.33l2.75 -2.75l2.75 2.75l-2.75 2.75zM1063.85 73.58l2.75 -2.75l2.75 2.75l-2.75 2.75zM1072.53 69.82l2.75 -2.75l2.75 2.75l-2.75 2.75zM1019.73 80.67l2.75 -2.75l2.75 2.75l-2.75 2.75zM1028.7 86.46l2.75 -2.75l2.75 2.75l-2.75 2.75zM1037.38 88.63l2.75 -2.75l2.75 2.75l-2.75 2.75zM1046.35 89.06l2.75 -2.75l2.75 2.75l-2.75 2.75zM1055.03 89.06l2.75 -2.75l2.75 2.75l-2.75 2.75zM1063.85 88.77l2.75 -2.75l2.75 2.75l-2.75 2.75zM1072.53 88.34l2.75 -2.75l2.75 2.75l-2.75 2.75zM1081.5 85.45l2.75 -2.75l2.75 2.75l-2.75 2.75zM1013.5 93.4l2.75 -2.75l2.75 2.75l-2.75 2.75zM1019.58 94.85l2.75 -2.75l2.75 2.75l-2.75 2.75zM1025.8 96.73l2.75 -2.75l2.75 2.75l-2.75 2.75zM1031.59 97.74l2.75 -2.75l2.75 2.75l-2.75 2.75zM1038.1 100.64l2.75 -2.75l2.75 2.75l-2.75 2.75zM1044.32 102.08l2.75 -2.75l2.75 2.75l-2.75 2.75zM1050.69 102.37l2.75 -2.75l2.75 2.75l-2.75 2.75zM1056.91 102.08l2.75 -2.75l2.75 2.75l-2.75 2.75zM1063.13 101.65l2.75 -2.75l2.75 2.75l-2.75 2.75zM1069.2 98.47l2.75 -2.75l2.75 2.75l-2.75 2.75zM1075.43 97.02l2.75 -2.75l2.75 2.75l-2.75 2.75zM1081.5 95.57l2.75 -2.75l2.75 2.75l-2.75 2.75zM1088.01 93.4l2.75 -2.75l2.75 2.75l-2.75 2.75zM1046.06 151.27l2.75 -2.75l2.75 2.75l-2.75 2.75zM1055.17 151.27l2.75 -2.75l2.75 2.75l-2.75 2.75zM1013.5 131.45l2.75 -2.75l2.75 2.75l-2.75 2.75zM1019.73 133.48l2.75 -2.75l2.75 2.75l-2.75 2.75zM1025.8 133.91l2.75 -2.75l2.75 2.75l-2.75 2.75zM1032.02 134.92l2.75 -2.75l2.75 2.75l-2.75 2.75zM1038.39 135.79l2.75 -2.75l2.75 2.75l-2.75 2.75zM1044.61 138.54l2.75 -2.75l2.75 2.75l-2.75 2.75zM1056.91 138.98l2.75 -2.75l2.75 2.75l-2.75 2.75zM1063.13 136.37l2.75 -2.75l2.75 2.75l-2.75 2.75zM1069.2 135.79l2.75 -2.75l2.75 2.75l-2.75 2.75zM1075.43 134.92l2.75 -2.75l2.75 2.75l-2.75 2.75zM1081.5 133.48l2.75 -2.75l2.75 2.75l-2.75 2.75zM1088.01 132.47l2.75 -2.75l2.75 2.75l-2.75 2.75zM1011.91 103.82l2.9 -2.9l2.9 2.9l-2.9 2.9zM1016.21 105.01l2.9 -2.9l2.9 2.9l-2.9 2.9zM1020.51 106.16l2.9 -2.9l2.9 2.9l-2.9 2.9zM1024.81 107.26l2.9 -2.9l2.9 2.9l-2.9 2.9zM1029.11 108.3l2.9 -2.9l2.9 2.9l-2.9 2.9zM1033.41 109.29l2.9 -2.9l2.9 2.9l-2.9 2.9zM1037.71 110.2l2.9 -2.9l2.9 2.9l-2.9 2.9zM1042.01 111.02l2.9 -2.9l2.9 2.9l-2.9 2.9zM1046.31 111.73l2.9 -2.9l2.9 2.9l-2.9 2.9zM1050.61 112.21l2.9 -2.9l2.9 2.9l-2.9 2.9zM1054.91 111.73l2.9 -2.9l2.9 2.9l-2.9 2.9zM1059.21 111.02l2.9 -2.9l2.9 2.9l-2.9 2.9zM1063.51 110.2l2.9 -2.9l2.9 2.9l-2.9 2.9zM1067.81 109.29l2.9 -2.9l2.9 2.9l-2.9 2.9zM1072.11 108.3l2.9 -2.9l2.9 2.9l-2.9 2.9zM1076.41 107.26l2.9 -2.9l2.9 2.9l-2.9 2.9zM1080.71 106.16l2.9 -2.9l2.9 2.9l-2.9 2.9zM1085.01 105.01l2.9 -2.9l2.9 2.9l-2.9 2.9zM1089.31 103.82l2.9 -2.9l2.9 2.9l-2.9 2.9zM1011.91 112.07l2.9 -2.9l2.9 2.9l-2.9 2.9zM1014.56 114.04l2.9 -2.9l2.9 2.9l-2.9 2.9zM1017.22 114.16l2.9 -2.9l2.9 2.9l-2.9 2.9zM1019.87 114.91l2.9 -2.9l2.9 2.9l-2.9 2.9zM1022.52 115.87l2.9 -2.9l2.9 2.9l-2.9 2.9zM1025.18 115.91l2.9 -2.9l2.9 2.9l-2.9 2.9zM1027.83 117.32l2.9 -2.9l2.9 2.9l-2.9 2.9zM1030.49 117.8l2.9 -2.9l2.9 2.9l-2.9 2.9zM1033.14 117.74l2.9 -2.9l2.9 2.9l-2.9 2.9zM1035.79 119.11l2.9 -2.9l2.9 2.9l-2.9 2.9zM1038.45 119.25l2.9 -2.9l2.9 2.9l-2.9 2.9zM1041.1 119.84l2.9 -2.9l2.9 2.9l-2.9 2.9zM1043.76 120.66l2.9 -2.9l2.9 2.9l-2.9 2.9zM1046.41 120.05l2.9 -2.9l2.9 2.9l-2.9 2.9zM1049.06 121.63l2.9 -2.9l2.9 2.9l-2.9 2.9zM1051.72 121.02l2.9 -2.9l2.9 2.9l-2.9 2.9zM1054.37 120.56l2.9 -2.9l2.9 2.9l-2.9 2.9zM1057.03 120.48l2.9 -2.9l2.9 2.9l-2.9 2.9zM1059.68 119.67l2.9 -2.9l2.9 2.9l-2.9 2.9zM1062.33 119.48l2.9 -2.9l2.9 2.9l-2.9 2.9zM1064.99 119.11l2.9 -2.9l2.9 2.9l-2.9 2.9zM1067.64 117.53l2.9 -2.9l2.9 2.9l-2.9 2.9zM1070.3 118.14l2.9 -2.9l2.9 2.9l-2.9 2.9zM1072.95 116.86l2.9 -2.9l2.9 2.9l-2.9 2.9zM1075.61 116.29l2.9 -2.9l2.9 2.9l-2.9 2.9zM1078.26 115.86l2.9 -2.9l2.9 2.9l-2.9 2.9zM1080.91 114.51l2.9 -2.9l2.9 2.9l-2.9 2.9zM1083.57 114.67l2.9 -2.9l2.9 2.9l-2.9 2.9zM1086.22 113.62l2.9 -2.9l2.9 2.9l-2.9 2.9zM1088.88 112.37l2.9 -2.9l2.9 2.9l-2.9 2.9zM1013.35 122.92l2.9 -2.9l2.9 2.9l-2.9 2.9zM1016.11 123.25l2.9 -2.9l2.9 2.9l-2.9 2.9zM1018.87 124.4l2.9 -2.9l2.9 2.9l-2.9 2.9zM1021.63 125.19l2.9 -2.9l2.9 2.9l-2.9 2.9zM1024.39 124.94l2.9 -2.9l2.9 2.9l-2.9 2.9zM1027.15 126.71l2.9 -2.9l2.9 2.9l-2.9 2.9zM1029.91 126.74l2.9 -2.9l2.9 2.9l-2.9 2.9zM1032.67 127.44l2.9 -2.9l2.9 2.9l-2.9 2.9zM1035.43 128.28l2.9 -2.9l2.9 2.9l-2.9 2.9zM1038.19 128.06l2.9 -2.9l2.9 2.9l-2.9 2.9zM1040.95 129.59l2.9 -2.9l2.9 2.9l-2.9 2.9zM1043.71 129.61l2.9 -2.9l2.9 2.9l-2.9 2.9zM1046.47 129.65l2.9 -2.9l2.9 2.9l-2.9 2.9zM1049.23 130.58l2.9 -2.9l2.9 2.9l-2.9 2.9zM1051.99 130.22l2.9 -2.9l2.9 2.9l-2.9 2.9zM1054.75 130.04l2.9 -2.9l2.9 2.9l-2.9 2.9zM1057.51 129.89l2.9 -2.9l2.9 2.9l-2.9 2.9zM1060.27 128.4l2.9 -2.9l2.9 2.9l-2.9 2.9zM1063.03 129.21l2.9 -2.9l2.9 2.9l-2.9 2.9zM1065.79 127.9l2.9 -2.9l2.9 2.9l-2.9 2.9zM1068.55 127.38l2.9 -2.9l2.9 2.9l-2.9 2.9zM1071.31 127.01l2.9 -2.9l2.9 2.9l-2.9 2.9zM1074.06 125.96l2.9 -2.9l2.9 2.9l-2.9 2.9zM1076.82 125.84l2.9 -2.9l2.9 2.9l-2.9 2.9zM1079.58 125.09l2.9 -2.9l2.9 2.9l-2.9 2.9zM1082.34 123.63l2.9 -2.9l2.9 2.9l-2.9 2.9zM1085.1 123.97l2.9 -2.9l2.9 2.9l-2.9 2.9zM1087.86 122.63l2.9 -2.9l2.9 2.9l-2.9 2.9zM1014.51 140.34l2.9 -2.9l2.9 2.9l-2.9 2.9zM1017.42 142.14l2.9 -2.9l2.9 2.9l-2.9 2.9zM1020.32 142.72l2.9 -2.9l2.9 2.9l-2.9 2.9zM1023.23 143.22l2.9 -2.9l2.9 2.9l-2.9 2.9zM1026.13 144.98l2.9 -2.9l2.9 2.9l-2.9 2.9zM1029.04 145.34l2.9 -2.9l2.9 2.9l-2.9 2.9zM1031.94 146.37l2.9 -2.9l2.9 2.9l-2.9 2.9zM1034.85 147.38l2.9 -2.9l2.9 2.9l-2.9 2.9zM1037.75 147.33l2.9 -2.9l2.9 2.9l-2.9 2.9zM1040.66 149.33l2.9 -2.9l2.9 2.9l-2.9 2.9zM1043.56 149.13l2.9 -2.9l2.9 2.9l-2.9 2.9zM1046.47 149.77l2.9 -2.9l2.9 2.9l-2.9 2.9zM1049.37 150.56l2.9 -2.9l2.9 2.9l-2.9 2.9zM1052.28 150.23l2.9 -2.9l2.9 2.9l-2.9 2.9zM1055.18 150.11l2.9 -2.9l2.9 2.9l-2.9 2.9zM1058.09 149.48l2.9 -2.9l2.9 2.9l-2.9 2.9zM1060.99 148.05l2.9 -2.9l2.9 2.9l-2.9 2.9zM1063.9 148.57l2.9 -2.9l2.9 2.9l-2.9 2.9zM1066.8 146.93l2.9 -2.9l2.9 2.9l-2.9 2.9zM1069.71 146.34l2.9 -2.9l2.9 2.9l-2.9 2.9zM1072.61 145.62l2.9 -2.9l2.9 2.9l-2.9 2.9zM1075.52 144.2l2.9 -2.9l2.9 2.9l-2.9 2.9zM1078.42 144.15l2.9 -2.9l2.9 2.9l-2.9 2.9zM1081.33 142.62l2.9 -2.9l2.9 2.9l-2.9 2.9zM1084.23 141.35l2.9 -2.9l2.9 2.9l-2.9 2.9zM1087.14 141.08l2.9 -2.9l2.9 2.9l-2.9 2.9zM1016.25 152.29l2.9 -2.9l2.9 2.9l-2.9 2.9zM1021.5 153.78l2.9 -2.9l2.9 2.9l-2.9 2.9zM1026.75 155.2l2.9 -2.9l2.9 2.9l-2.9 2.9zM1032.01 156.52l2.9 -2.9l2.9 2.9l-2.9 2.9zM1037.26 157.74l2.9 -2.9l2.9 2.9l-2.9 2.9zM1042.51 158.81l2.9 -2.9l2.9 2.9l-2.9 2.9zM1047.77 159.68l2.9 -2.9l2.9 2.9l-2.9 2.9zM1053.02 159.68l2.9 -2.9l2.9 2.9l-2.9 2.9zM1058.27 158.81l2.9 -2.9l2.9 2.9l-2.9 2.9zM1063.52 157.74l2.9 -2.9l2.9 2.9l-2.9 2.9zM1068.78 156.52l2.9 -2.9l2.9 2.9l-2.9 2.9zM1074.03 155.2l2.9 -2.9l2.9 2.9l-2.9 2.9zM1079.28 153.78l2.9 -2.9l2.9 2.9l-2.9 2.9zM1084.54 152.29l2.9 -2.9l2.9 2.9l-2.9 2.9z" fill="#9b9b9b"/>
<path d="M1011.95 121.61H1095.55M1053.75 99.19V144.76M1032.25 99.19H1075.25M1032.25 144.76H1075.25" fill="none" stroke="#9b9b9b" stroke-width="1.8"/>
<path d="M1236 11.8V208.7H1529.4M1228.8 208.7H1237.4M1228.8 169.6H1236M1228.8 130.5H1236M1228.8 91.4H1236M1228.8 52.3H1236M1228.8 13.2H1237.4M1319.9 208.7V216.8M1445.5 208.7V216.8" fill="none" stroke="#000" stroke-width="2.8" stroke-linejoin="miter"/>
<g font-family='"Liberation Serif", serif' font-weight="bold" font-size="16.3" text-anchor="end">
<text x="1228" y="214.25">0</text>
<text x="1228" y="175.15">2</text>
<text x="1228" y="136.05">4</text>
<text x="1228" y="96.95">6</text>
<text x="1228" y="57.85">8</text>
<text x="1228" y="18.75">10</text>
</g>
<g font-family='"Liberation Serif", serif' font-weight="bold" font-size="16.1" text-anchor="end">
<text transform="translate(1323.3 226.7) rotate(-45)">MSA</text>
<text transform="translate(1448.9 226.7) rotate(-45)">HC</text>
</g>
<text transform="translate(1203.7 109.3) rotate(-90)" text-anchor="middle" font-weight="bold" font-size="16"><tspan font-family='"Liberation Serif", serif'>WBC, 10</tspan><tspan font-family='"Liberation Serif", serif' font-size="11.5" dy="-6">9</tspan><tspan font-family='"Liberation Serif", serif' dy="6">/L</tspan></text>
<path d="M1315.24 25.13m-2.95 0a2.95 2.95 0 1 0 5.9 0a2.95 2.95 0 1 0 -5.9 0M1324.21 33.52m-2.95 0a2.95 2.95 0 1 0 5.9 0a2.95 2.95 0 1 0 -5.9 0M1310.76 38.58m-2.95 0a2.95 2.95 0 1 0 5.9 0a2.95 2.95 0 1 0 -5.9 0M1328.55 41.04m-2.95 0a2.95 2.95 0 1 0 5.9 0a2.95 2.95 0 1 0 -5.9 0M1319.58 43.65m-2.95 0a2.95 2.95 0 1 0 5.9 0a2.95 2.95 0 1 0 -5.9 0M1302.08 51.6m-2.95 0a2.95 2.95 0 1 0 5.9 0a2.95 2.95 0 1 0 -5.9 0M1337.23 50.88m-2.95 0a2.95 2.95 0 1 0 5.9 0a2.95 2.95 0 1 0 -5.9 0M1310.76 55.22m-2.95 0a2.95 2.95 0 1 0 5.9 0a2.95 2.95 0 1 0 -5.9 0M1328.55 54.79m-2.95 0a2.95 2.95 0 1 0 5.9 0a2.95 2.95 0 1 0 -5.9 0M1319.58 56.96m-2.95 0a2.95 2.95 0 1 0 5.9 0a2.95 2.95 0 1 0 -5.9 0M1293.11 62.31m-2.95 0a2.95 2.95 0 1 0 5.9 0a2.95 2.95 0 1 0 -5.9 0M1346.2 61.73m-2.95 0a2.95 2.95 0 1 0 5.9 0a2.95 2.95 0 1 0 -5.9 0M1302.08 66.36m-2.95 0a2.95 2.95 0 1 0 5.9 0a2.95 2.95 0 1 0 -5.9 0M1337.23 65.35m-2.95 0a2.95 2.95 0 1 0 5.9 0a2.95 2.95 0 1 0 -5.9 0M1310.76 67.37m-2.95 0a2.95 2.95 0 1 0 5.9 0a2.95 2.95 0 1 0 -5.9 0M1315.24 67.81m-2.95 0a2.95 2.95 0 1 0 5.9 0a2.95 2.95 0 1 0 -5.9 0M1324.21 68.53m-2.95 0a2.95 2.95 0 1 0 5.9 0a2.95 2.95 0 1 0 -5.9 0M1328.55 66.79m-2.95 0a2.95 2.95 0 1 0 5.9 0a2.95 2.95 0 1 0 -5.9 0M1315.24 104.7m-2.95 0a2.95 2.95 0 1 0 5.9 0a2.95 2.95 0 1 0 -5.9 0M1324.21 104.7m-2.95 0a2.95 2.95 0 1 0 5.9 0a2.95 2.95 0 1 0 -5.9 0M1282.25 123.07m-2.95 0a2.95 2.95 0 1 0 5.9 0a2.95 2.95 0 1 0 -5.9 0M1288.48 125.68m-2.95 0a2.95 2.95 0 1 0 5.9 0a2.95 2.95 0 1 0 -5.9 0M1294.55 126.4m-2.95 0a2.95 2.95 0 1 0 5.9 0a2.95 2.95 0 1 0 -5.9 0M1300.77 128.28m-2.95 0a2.95 2.95 0 1 0 5.9 0a2.95 2.95 0 1 0 -5.9 0M1307.14 129.29m-2.95 0a2.95 2.95 0 1 0 5.9 0a2.95 2.95 0 1 0 -5.9 0M1313.36 130.74m-2.95 0a2.95 2.95 0 1 0 5.9 0a2.95 2.95 0 1 0 -5.9 0M1319.58 131.46m-2.95 0a2.95 2.95 0 1 0 5.9 0a2.95 2.95 0 1 0 -5.9 0M1325.66 129.73m-2.95 0a2.95 2.95 0 1 0 5.9 0a2.95 2.95 0 1 0 -5.9 0M1331.88 128.86m-2.95 0a2.95 2.95 0 1 0 5.9 0a2.95 2.95 0 1 0 -5.9 0M1337.95 127.85m-2.95 0a2.95 2.95 0 1 0 5.9 0a2.95 2.95 0 1 0 -5.9 0M1344.18 125.68m-2.95 0a2.95 2.95 0 1 0 5.9 0a2.95 2.95 0 1 0 -5.9 0M1350.54 124.23m-2.95 0a2.95 2.95 0 1 0 5.9 0a2.95 2.95 0 1 0 -5.9 0M1356.76 122.49m-2.95 0a2.95 2.95 0 1 0 5.9 0a2.95 2.95 0 1 0 -5.9 0M1283.99 132.48m-2.95 0a2.95 2.95 0 1 0 5.9 0a2.95 2.95 0 1 0 -5.9 0M1293.11 133.2m-2.95 0a2.95 2.95 0 1 0 5.9 0a2.95 2.95 0 1 0 -5.9 0M1302.08 134.36m-2.95 0a2.95 2.95 0 1 0 5.9 0a2.95 2.95 0 1 0 -5.9 0M1324.21 132.91m-2.95 0a2.95 2.95 0 1 0 5.9 0a2.95 2.95 0 1 0 -5.9 0M1341.57 134.36m-2.95 0a2.95 2.95 0 1 0 5.9 0a2.95 2.95 0 1 0 -5.9 0M1350.54 133.63m-2.95 0a2.95 2.95 0 1 0 5.9 0a2.95 2.95 0 1 0 -5.9 0M1310.76 137.97m-2.95 0a2.95 2.95 0 1 0 5.9 0a2.95 2.95 0 1 0 -5.9 0M1319.58 141.16m-2.95 0a2.95 2.95 0 1 0 5.9 0a2.95 2.95 0 1 0 -5.9 0M1332.89 141.16m-2.95 0a2.95 2.95 0 1 0 5.9 0a2.95 2.95 0 1 0 -5.9 0M1337.23 142.75m-2.95 0a2.95 2.95 0 1 0 5.9 0a2.95 2.95 0 1 0 -5.9 0M1302.08 145.21m-2.95 0a2.95 2.95 0 1 0 5.9 0a2.95 2.95 0 1 0 -5.9 0M1328.55 145.93m-2.95 0a2.95 2.95 0 1 0 5.9 0a2.95 2.95 0 1 0 -5.9 0M1310.76 148.54m-2.95 0a2.95 2.95 0 1 0 5.9 0a2.95 2.95 0 1 0 -5.9 0M1319.58 150.56m-2.95 0a2.95 2.95 0 1 0 5.9 0a2.95 2.95 0 1 0 -5.9 0M1315.24 160.69m-2.95 0a2.95 2.95 0 1 0 5.9 0a2.95 2.95 0 1 0 -5.9 0M1324.21 158.95m-2.95 0a2.95 2.95 0 1 0 5.9 0a2.95 2.95 0 1 0 -5.9 0M1285.58 69.69m-2.9 0a2.9 2.9 0 1 0 5.8 0a2.9 2.9 0 1 0 -5.8 0M1290.84 70.87m-2.9 0a2.9 2.9 0 1 0 5.8 0a2.9 2.9 0 1 0 -5.8 0M1296.09 72m-2.9 0a2.9 2.9 0 1 0 5.8 0a2.9 2.9 0 1 0 -5.8 0M1301.34 73.05m-2.9 0a2.9 2.9 0 1 0 5.8 0a2.9 2.9 0 1 0 -5.8 0M1306.59 74.01m-2.9 0a2.9 2.9 0 1 0 5.8 0a2.9 2.9 0 1 0 -5.8 0M1311.85 74.86m-2.9 0a2.9 2.9 0 1 0 5.8 0a2.9 2.9 0 1 0 -5.8 0M1317.1 75.55m-2.9 0a2.9 2.9 0 1 0 5.8 0a2.9 2.9 0 1 0 -5.8 0M1322.35 75.55m-2.9 0a2.9 2.9 0 1 0 5.8 0a2.9 2.9 0 1 0 -5.8 0M1327.6 74.86m-2.9 0a2.9 2.9 0 1 0 5.8 0a2.9 2.9 0 1 0 -5.8 0M1332.86 74.01m-2.9 0a2.9 2.9 0 1 0 5.8 0a2.9 2.9 0 1 0 -5.8 0M1338.11 73.05m-2.9 0a2.9 2.9 0 1 0 5.8 0a2.9 2.9 0 1 0 -5.8 0M1343.36 72m-2.9 0a2.9 2.9 0 1 0 5.8 0a2.9 2.9 0 1 0 -5.8 0M1348.62 70.87m-2.9 0a2.9 2.9 0 1 0 5.8 0a2.9 2.9 0 1 0 -5.8 0M1353.87 69.69m-2.9 0a2.9 2.9 0 1 0 5.8 0a2.9 2.9 0 1 0 -5.8 0M1280.08 76.78m-2.9 0a2.9 2.9 0 1 0 5.8 0a2.9 2.9 0 1 0 -5.8 0M1284.72 77.82m-2.9 0a2.9 2.9 0 1 0 5.8 0a2.9 2.9 0 1 0 -5.8 0M1289.36 78.82m-2.9 0a2.9 2.9 0 1 0 5.8 0a2.9 2.9 0 1 0 -5.8 0M1294 79.78m-2.9 0a2.9 2.9 0 1 0 5.8 0a2.9 2.9 0 1 0 -5.8 0M1298.64 80.68m-2.9 0a2.9 2.9 0 1 0 5.8 0a2.9 2.9 0 1 0 -5.8 0M1303.28 81.53m-2.9 0a2.9 2.9 0 1 0 5.8 0a2.9 2.9 0 1 0 -5.8 0M1307.91 82.31m-2.9 0a2.9 2.9 0 1 0 5.8 0a2.9 2.9 0 1 0 -5.8 0M1312.55 82.99m-2.9 0a2.9 2.9 0 1 0 5.8 0a2.9 2.9 0 1 0 -5.8 0M1317.19 83.55m-2.9 0a2.9 2.9 0 1 0 5.8 0a2.9 2.9 0 1 0 -5.8 0M1321.83 83.55m-2.9 0a2.9 2.9 0 1 0 5.8 0a2.9 2.9 0 1 0 -5.8 0M1326.47 82.99m-2.9 0a2.9 2.9 0 1 0 5.8 0a2.9 2.9 0 1 0 -5.8 0M1331.1 82.31m-2.9 0a2.9 2.9 0 1 0 5.8 0a2.9 2.9 0 1 0 -5.8 0M1335.74 81.53m-2.9 0a2.9 2.9 0 1 0 5.8 0a2.9 2.9 0 1 0 -5.8 0M1340.38 80.68m-2.9 0a2.9 2.9 0 1 0 5.8 0a2.9 2.9 0 1 0 -5.8 0M1345.02 79.78m-2.9 0a2.9 2.9 0 1 0 5.8 0a2.9 2.9 0 1 0 -5.8 0M1349.66 78.82m-2.9 0a2.9 2.9 0 1 0 5.8 0a2.9 2.9 0 1 0 -5.8 0M1354.29 77.82m-2.9 0a2.9 2.9 0 1 0 5.8 0a2.9 2.9 0 1 0 -5.8 0M1358.93 76.78m-2.9 0a2.9 2.9 0 1 0 5.8 0a2.9 2.9 0 1 0 -5.8 0M1281.53 86.49m-2.9 0a2.9 2.9 0 1 0 5.8 0a2.9 2.9 0 1 0 -5.8 0M1284.57 86.84m-2.9 0a2.9 2.9 0 1 0 5.8 0a2.9 2.9 0 1 0 -5.8 0M1287.61 87.55m-2.9 0a2.9 2.9 0 1 0 5.8 0a2.9 2.9 0 1 0 -5.8 0M1290.65 88.99m-2.9 0a2.9 2.9 0 1 0 5.8 0a2.9 2.9 0 1 0 -5.8 0M1293.68 88.38m-2.9 0a2.9 2.9 0 1 0 5.8 0a2.9 2.9 0 1 0 -5.8 0M1296.72 89.86m-2.9 0a2.9 2.9 0 1 0 5.8 0a2.9 2.9 0 1 0 -5.8 0M1299.76 90.23m-2.9 0a2.9 2.9 0 1 0 5.8 0a2.9 2.9 0 1 0 -5.8 0M1302.8 90.65m-2.9 0a2.9 2.9 0 1 0 5.8 0a2.9 2.9 0 1 0 -5.8 0M1305.84 91.71m-2.9 0a2.9 2.9 0 1 0 5.8 0a2.9 2.9 0 1 0 -5.8 0M1308.88 91.35m-2.9 0a2.9 2.9 0 1 0 5.8 0a2.9 2.9 0 1 0 -5.8 0M1311.91 92.36m-2.9 0a2.9 2.9 0 1 0 5.8 0a2.9 2.9 0 1 0 -5.8 0M1314.95 93.07m-2.9 0a2.9 2.9 0 1 0 5.8 0a2.9 2.9 0 1 0 -5.8 0M1317.99 92.65m-2.9 0a2.9 2.9 0 1 0 5.8 0a2.9 2.9 0 1 0 -5.8 0M1321.03 93.17m-2.9 0a2.9 2.9 0 1 0 5.8 0a2.9 2.9 0 1 0 -5.8 0M1324.07 92.64m-2.9 0a2.9 2.9 0 1 0 5.8 0a2.9 2.9 0 1 0 -5.8 0M1327.1 92.11m-2.9 0a2.9 2.9 0 1 0 5.8 0a2.9 2.9 0 1 0 -5.8 0M1330.14 92.43m-2.9 0a2.9 2.9 0 1 0 5.8 0a2.9 2.9 0 1 0 -5.8 0M1333.18 90.63m-2.9 0a2.9 2.9 0 1 0 5.8 0a2.9 2.9 0 1 0 -5.8 0M1336.22 91.06m-2.9 0a2.9 2.9 0 1 0 5.8 0a2.9 2.9 0 1 0 -5.8 0M1339.26 90.33m-2.9 0a2.9 2.9 0 1 0 5.8 0a2.9 2.9 0 1 0 -5.8 0M1342.3 89.48m-2.9 0a2.9 2.9 0 1 0 5.8 0a2.9 2.9 0 1 0 -5.8 0M1345.33 89.19m-2.9 0a2.9 2.9 0 1 0 5.8 0a2.9 2.9 0 1 0 -5.8 0M1348.37 88.13m-2.9 0a2.9 2.9 0 1 0 5.8 0a2.9 2.9 0 1 0 -5.8 0M1351.41 87.63m-2.9 0a2.9 2.9 0 1 0 5.8 0a2.9 2.9 0 1 0 -5.8 0M1354.45 87.59m-2.9 0a2.9 2.9 0 1 0 5.8 0a2.9 2.9 0 1 0 -5.8 0M1357.49 85.7m-2.9 0a2.9 2.9 0 1 0 5.8 0a2.9 2.9 0 1 0 -5.8 0M1280.08 95.09m-2.9 0a2.9 2.9 0 1 0 5.8 0a2.9 2.9 0 1 0 -5.8 0M1282.98 95.61m-2.9 0a2.9 2.9 0 1 0 5.8 0a2.9 2.9 0 1 0 -5.8 0M1285.87 96.96m-2.9 0a2.9 2.9 0 1 0 5.8 0a2.9 2.9 0 1 0 -5.8 0M1288.77 96.9m-2.9 0a2.9 2.9 0 1 0 5.8 0a2.9 2.9 0 1 0 -5.8 0M1291.66 97.75m-2.9 0a2.9 2.9 0 1 0 5.8 0a2.9 2.9 0 1 0 -5.8 0M1294.55 98.32m-2.9 0a2.9 2.9 0 1 0 5.8 0a2.9 2.9 0 1 0 -5.8 0M1297.45 98.29m-2.9 0a2.9 2.9 0 1 0 5.8 0a2.9 2.9 0 1 0 -5.8 0M1300.34 100.01m-2.9 0a2.9 2.9 0 1 0 5.8 0a2.9 2.9 0 1 0 -5.8 0M1303.23 99.37m-2.9 0a2.9 2.9 0 1 0 5.8 0a2.9 2.9 0 1 0 -5.8 0M1306.13 100.19m-2.9 0a2.9 2.9 0 1 0 5.8 0a2.9 2.9 0 1 0 -5.8 0M1309.02 100.85m-2.9 0a2.9 2.9 0 1 0 5.8 0a2.9 2.9 0 1 0 -5.8 0M1311.91 100.92m-2.9 0a2.9 2.9 0 1 0 5.8 0a2.9 2.9 0 1 0 -5.8 0M1314.81 101.65m-2.9 0a2.9 2.9 0 1 0 5.8 0a2.9 2.9 0 1 0 -5.8 0M1317.7 101.68m-2.9 0a2.9 2.9 0 1 0 5.8 0a2.9 2.9 0 1 0 -5.8 0M1320.59 101.25m-2.9 0a2.9 2.9 0 1 0 5.8 0a2.9 2.9 0 1 0 -5.8 0M1323.49 102.11m-2.9 0a2.9 2.9 0 1 0 5.8 0a2.9 2.9 0 1 0 -5.8 0M1326.38 100.7m-2.9 0a2.9 2.9 0 1 0 5.8 0a2.9 2.9 0 1 0 -5.8 0M1329.27 100.73m-2.9 0a2.9 2.9 0 1 0 5.8 0a2.9 2.9 0 1 0 -5.8 0M1332.17 100.32m-2.9 0a2.9 2.9 0 1 0 5.8 0a2.9 2.9 0 1 0 -5.8 0M1335.06 99.48m-2.9 0a2.9 2.9 0 1 0 5.8 0a2.9 2.9 0 1 0 -5.8 0M1337.95 99.81m-2.9 0a2.9 2.9 0 1 0 5.8 0a2.9 2.9 0 1 0 -5.8 0M1340.85 98.47m-2.9 0a2.9 2.9 0 1 0 5.8 0a2.9 2.9 0 1 0 -5.8 0M1343.74 98.02m-2.9 0a2.9 2.9 0 1 0 5.8 0a2.9 2.9 0 1 0 -5.8 0M1346.64 98.08m-2.9 0a2.9 2.9 0 1 0 5.8 0a2.9 2.9 0 1 0 -5.8 0M1349.53 96.9m-2.9 0a2.9 2.9 0 1 0 5.8 0a2.9 2.9 0 1 0 -5.8 0M1352.42 96.61m-2.9 0a2.9 2.9 0 1 0 5.8 0a2.9 2.9 0 1 0 -5.8 0M1355.32 95.96m-2.9 0a2.9 2.9 0 1 0 5.8 0a2.9 2.9 0 1 0 -5.8 0M1358.21 94.85m-2.9 0a2.9 2.9 0 1 0 5.8 0a2.9 2.9 0 1 0 -5.8 0M1281.53 104.74m-2.9 0a2.9 2.9 0 1 0 5.8 0a2.9 2.9 0 1 0 -5.8 0M1284.57 105.07m-2.9 0a2.9 2.9 0 1 0 5.8 0a2.9 2.9 0 1 0 -5.8 0M1287.61 107.06m-2.9 0a2.9 2.9 0 1 0 5.8 0a2.9 2.9 0 1 0 -5.8 0M1290.65 106.6m-2.9 0a2.9 2.9 0 1 0 5.8 0a2.9 2.9 0 1 0 -5.8 0M1293.68 107.86m-2.9 0a2.9 2.9 0 1 0 5.8 0a2.9 2.9 0 1 0 -5.8 0M1296.72 108.69m-2.9 0a2.9 2.9 0 1 0 5.8 0a2.9 2.9 0 1 0 -5.8 0M1299.76 109.1m-2.9 0a2.9 2.9 0 1 0 5.8 0a2.9 2.9 0 1 0 -5.8 0M1302.8 110.19m-2.9 0a2.9 2.9 0 1 0 5.8 0a2.9 2.9 0 1 0 -5.8 0M1305.84 110.41m-2.9 0a2.9 2.9 0 1 0 5.8 0a2.9 2.9 0 1 0 -5.8 0M1308.88 110.77m-2.9 0a2.9 2.9 0 1 0 5.8 0a2.9 2.9 0 1 0 -5.8 0M1311.91 112.32m-2.9 0a2.9 2.9 0 1 0 5.8 0a2.9 2.9 0 1 0 -5.8 0M1314.95 111.75m-2.9 0a2.9 2.9 0 1 0 5.8 0a2.9 2.9 0 1 0 -5.8 0M1317.99 112.62m-2.9 0a2.9 2.9 0 1 0 5.8 0a2.9 2.9 0 1 0 -5.8 0M1321.03 112.59m-2.9 0a2.9 2.9 0 1 0 5.8 0a2.9 2.9 0 1 0 -5.8 0M1324.07 111.86m-2.9 0a2.9 2.9 0 1 0 5.8 0a2.9 2.9 0 1 0 -5.8 0M1327.1 112.25m-2.9 0a2.9 2.9 0 1 0 5.8 0a2.9 2.9 0 1 0 -5.8 0M1330.14 110.73m-2.9 0a2.9 2.9 0 1 0 5.8 0a2.9 2.9 0 1 0 -5.8 0M1333.18 110.44m-2.9 0a2.9 2.9 0 1 0 5.8 0a2.9 2.9 0 1 0 -5.8 0M1336.22 110.26m-2.9 0a2.9 2.9 0 1 0 5.8 0a2.9 2.9 0 1 0 -5.8 0M1339.26 109.05m-2.9 0a2.9 2.9 0 1 0 5.8 0a2.9 2.9 0 1 0 -5.8 0M1342.3 108.67m-2.9 0a2.9 2.9 0 1 0 5.8 0a2.9 2.9 0 1 0 -5.8 0M1345.33 107.83m-2.9 0a2.9 2.9 0 1 0 5.8 0a2.9 2.9 0 1 0 -5.8 0M1348.37 106.69m-2.9 0a2.9 2.9 0 1 0 5.8 0a2.9 2.9 0 1 0 -5.8 0M1351.41 107.06m-2.9 0a2.9 2.9 0 1 0 5.8 0a2.9 2.9 0 1 0 -5.8 0M1354.45 104.98m-2.9 0a2.9 2.9 0 1 0 5.8 0a2.9 2.9 0 1 0 -5.8 0M1357.49 104.78m-2.9 0a2.9 2.9 0 1 0 5.8 0a2.9 2.9 0 1 0 -5.8 0M1282.25 113.89m-2.9 0a2.9 2.9 0 1 0 5.8 0a2.9 2.9 0 1 0 -5.8 0M1285.23 115.25m-2.9 0a2.9 2.9 0 1 0 5.8 0a2.9 2.9 0 1 0 -5.8 0M1288.22 115.47m-2.9 0a2.9 2.9 0 1 0 5.8 0a2.9 2.9 0 1 0 -5.8 0M1291.2 116.5m-2.9 0a2.9 2.9 0 1 0 5.8 0a2.9 2.9 0 1 0 -5.8 0M1294.18 117.18m-2.9 0a2.9 2.9 0 1 0 5.8 0a2.9 2.9 0 1 0 -5.8 0M1297.16 117.34m-2.9 0a2.9 2.9 0 1 0 5.8 0a2.9 2.9 0 1 0 -5.8 0M1300.14 119.24m-2.9 0a2.9 2.9 0 1 0 5.8 0a2.9 2.9 0 1 0 -5.8 0M1303.12 118.69m-2.9 0a2.9 2.9 0 1 0 5.8 0a2.9 2.9 0 1 0 -5.8 0M1306.1 119.75m-2.9 0a2.9 2.9 0 1 0 5.8 0a2.9 2.9 0 1 0 -5.8 0M1309.08 120.43m-2.9 0a2.9 2.9 0 1 0 5.8 0a2.9 2.9 0 1 0 -5.8 0M1312.06 120.65m-2.9 0a2.9 2.9 0 1 0 5.8 0a2.9 2.9 0 1 0 -5.8 0M1315.04 121.58m-2.9 0a2.9 2.9 0 1 0 5.8 0a2.9 2.9 0 1 0 -5.8 0M1318.02 121.54m-2.9 0a2.9 2.9 0 1 0 5.8 0a2.9 2.9 0 1 0 -5.8 0M1321 121.26m-2.9 0a2.9 2.9 0 1 0 5.8 0a2.9 2.9 0 1 0 -5.8 0M1323.98 121.91m-2.9 0a2.9 2.9 0 1 0 5.8 0a2.9 2.9 0 1 0 -5.8 0M1326.96 120.47m-2.9 0a2.9 2.9 0 1 0 5.8 0a2.9 2.9 0 1 0 -5.8 0M1329.94 120.37m-2.9 0a2.9 2.9 0 1 0 5.8 0a2.9 2.9 0 1 0 -5.8 0M1332.92 119.8m-2.9 0a2.9 2.9 0 1 0 5.8 0a2.9 2.9 0 1 0 -5.8 0M1335.9 118.8m-2.9 0a2.9 2.9 0 1 0 5.8 0a2.9 2.9 0 1 0 -5.8 0M1338.88 119.1m-2.9 0a2.9 2.9 0 1 0 5.8 0a2.9 2.9 0 1 0 -5.8 0M1341.86 117.44m-2.9 0a2.9 2.9 0 1 0 5.8 0a2.9 2.9 0 1 0 -5.8 0M1344.84 117m-2.9 0a2.9 2.9 0 1 0 5.8 0a2.9 2.9 0 1 0 -5.8 0M1347.82 116.72m-2.9 0a2.9 2.9 0 1 0 5.8 0a2.9 2.9 0 1 0 -5.8 0M1350.8 115.48m-2.9 0a2.9 2.9 0 1 0 5.8 0a2.9 2.9 0 1 0 -5.8 0M1353.78 115.01m-2.9 0a2.9 2.9 0 1 0 5.8 0a2.9 2.9 0 1 0 -5.8 0M1356.76 114.11m-2.9 0a2.9 2.9 0 1 0 5.8 0a2.9 2.9 0 1 0 -5.8 0" fill="#000"/>
<path d="M1278.1 98.91H1361.7M1319.9 73.59V124.23M1298.4 73.59H1341.4M1298.4 124.23H1341.4" fill="none" stroke="#fff" stroke-opacity="0.65" stroke-width="2.45"/>
<path d="M1278.1 98.91H1361.7M1319.9 73.59V124.23M1298.4 73.59H1341.4M1298.4 124.23H1341.4" fill="none" stroke="#000" stroke-width="1.8"/>
<path d="M1442.69 29.47l2.75 -2.75l2.75 2.75l-2.75 2.75zM1451.51 31.93l2.75 -2.75l2.75 2.75l-2.75 2.75zM1433.72 36.41l2.75 -2.75l2.75 2.75l-2.75 2.75zM1442.69 38.58l2.75 -2.75l2.75 2.75l-2.75 2.75zM1425.04 50.45l2.75 -2.75l2.75 2.75l-2.75 2.75zM1438.06 51.89l2.75 -2.75l2.75 2.75l-2.75 2.75zM1447.03 51.17l2.75 -2.75l2.75 2.75l-2.75 2.75zM1455.85 50.45l2.75 -2.75l2.75 2.75l-2.75 2.75zM1429.38 56.52l2.75 -2.75l2.75 2.75l-2.75 2.75zM1460.19 57.39l2.75 -2.75l2.75 2.75l-2.75 2.75zM1438.06 61.59l2.75 -2.75l2.75 2.75l-2.75 2.75zM1451.51 62.02l2.75 -2.75l2.75 2.75l-2.75 2.75zM1407.24 65.64l2.75 -2.75l2.75 2.75l-2.75 2.75zM1477.84 65.35l2.75 -2.75l2.75 2.75l-2.75 2.75zM1464.53 66.07l2.75 -2.75l2.75 2.75l-2.75 2.75zM1420.7 68.82l2.75 -2.75l2.75 2.75l-2.75 2.75zM1429.38 69.69l2.75 -2.75l2.75 2.75l-2.75 2.75zM1438.06 70.99l2.75 -2.75l2.75 2.75l-2.75 2.75zM1447.03 70.27l2.75 -2.75l2.75 2.75l-2.75 2.75zM1455.85 68.96l2.75 -2.75l2.75 2.75l-2.75 2.75zM1404.78 71.42l2.75 -2.75l2.75 2.75l-2.75 2.75zM1411.58 72.87l2.75 -2.75l2.75 2.75l-2.75 2.75zM1418.53 74.32l2.75 -2.75l2.75 2.75l-2.75 2.75zM1425.33 77.64l2.75 -2.75l2.75 2.75l-2.75 2.75zM1432.27 78.66l2.75 -2.75l2.75 2.75l-2.75 2.75zM1439.07 80.39l2.75 -2.75l2.75 2.75l-2.75 2.75zM1446.01 80.39l2.75 -2.75l2.75 2.75l-2.75 2.75zM1452.81 79.38l2.75 -2.75l2.75 2.75l-2.75 2.75zM1459.76 78.22l2.75 -2.75l2.75 2.75l-2.75 2.75zM1466.56 75.04l2.75 -2.75l2.75 2.75l-2.75 2.75zM1473.5 73.88l2.75 -2.75l2.75 2.75l-2.75 2.75zM1480.3 72.58l2.75 -2.75l2.75 2.75l-2.75 2.75zM1404.78 124.66l2.75 -2.75l2.75 2.75l-2.75 2.75zM1411.58 125.39l2.75 -2.75l2.75 2.75l-2.75 2.75zM1418.53 126.69l2.75 -2.75l2.75 2.75l-2.75 2.75zM1425.33 127.41l2.75 -2.75l2.75 2.75l-2.75 2.75zM1432.27 128.86l2.75 -2.75l2.75 2.75l-2.75 2.75zM1439.07 130.74l2.75 -2.75l2.75 2.75l-2.75 2.75zM1446.01 129.29l2.75 -2.75l2.75 2.75l-2.75 2.75zM1452.81 127.85l2.75 -2.75l2.75 2.75l-2.75 2.75zM1459.76 127.12l2.75 -2.75l2.75 2.75l-2.75 2.75zM1466.56 126.11l2.75 -2.75l2.75 2.75l-2.75 2.75zM1473.5 124.95l2.75 -2.75l2.75 2.75l-2.75 2.75zM1480.3 123.51l2.75 -2.75l2.75 2.75l-2.75 2.75zM1404.63 81.61l2.9 -2.9l2.9 2.9l-2.9 2.9zM1407.23 82.89l2.9 -2.9l2.9 2.9l-2.9 2.9zM1409.82 83.66l2.9 -2.9l2.9 2.9l-2.9 2.9zM1412.41 84.08l2.9 -2.9l2.9 2.9l-2.9 2.9zM1415.01 85.76l2.9 -2.9l2.9 2.9l-2.9 2.9zM1417.6 85.47l2.9 -2.9l2.9 2.9l-2.9 2.9zM1420.2 86.53l2.9 -2.9l2.9 2.9l-2.9 2.9zM1422.79 87.62l2.9 -2.9l2.9 2.9l-2.9 2.9zM1425.38 87.79l2.9 -2.9l2.9 2.9l-2.9 2.9zM1427.98 88.74l2.9 -2.9l2.9 2.9l-2.9 2.9zM1430.57 89.21l2.9 -2.9l2.9 2.9l-2.9 2.9zM1433.17 89.39l2.9 -2.9l2.9 2.9l-2.9 2.9zM1435.76 91.05l2.9 -2.9l2.9 2.9l-2.9 2.9zM1438.36 90.23l2.9 -2.9l2.9 2.9l-2.9 2.9zM1440.95 91.21l2.9 -2.9l2.9 2.9l-2.9 2.9zM1443.54 91.22l2.9 -2.9l2.9 2.9l-2.9 2.9zM1446.14 90.59l2.9 -2.9l2.9 2.9l-2.9 2.9zM1448.73 90.64l2.9 -2.9l2.9 2.9l-2.9 2.9zM1451.33 89.54l2.9 -2.9l2.9 2.9l-2.9 2.9zM1453.92 88.97l2.9 -2.9l2.9 2.9l-2.9 2.9zM1456.52 89.19l2.9 -2.9l2.9 2.9l-2.9 2.9zM1459.11 87.6l2.9 -2.9l2.9 2.9l-2.9 2.9zM1461.7 87.41l2.9 -2.9l2.9 2.9l-2.9 2.9zM1464.3 86.65l2.9 -2.9l2.9 2.9l-2.9 2.9zM1466.89 85.6l2.9 -2.9l2.9 2.9l-2.9 2.9zM1469.49 85.79l2.9 -2.9l2.9 2.9l-2.9 2.9zM1472.08 83.89l2.9 -2.9l2.9 2.9l-2.9 2.9zM1474.67 83.61l2.9 -2.9l2.9 2.9l-2.9 2.9zM1477.27 83.07l2.9 -2.9l2.9 2.9l-2.9 2.9zM1479.86 81.8l2.9 -2.9l2.9 2.9l-2.9 2.9zM1404.63 92.34l2.9 -2.9l2.9 2.9l-2.9 2.9zM1407.23 93.42l2.9 -2.9l2.9 2.9l-2.9 2.9zM1409.82 93l2.9 -2.9l2.9 2.9l-2.9 2.9zM1412.41 94.73l2.9 -2.9l2.9 2.9l-2.9 2.9zM1415.01 94.93l2.9 -2.9l2.9 2.9l-2.9 2.9zM1417.6 95.23l2.9 -2.9l2.9 2.9l-2.9 2.9zM1420.2 96.18l2.9 -2.9l2.9 2.9l-2.9 2.9zM1422.79 96.4l2.9 -2.9l2.9 2.9l-2.9 2.9zM1425.38 97.12l2.9 -2.9l2.9 2.9l-2.9 2.9zM1427.98 98l2.9 -2.9l2.9 2.9l-2.9 2.9zM1430.57 97.33l2.9 -2.9l2.9 2.9l-2.9 2.9zM1433.17 98.98l2.9 -2.9l2.9 2.9l-2.9 2.9zM1435.76 98.82l2.9 -2.9l2.9 2.9l-2.9 2.9zM1438.36 99.18l2.9 -2.9l2.9 2.9l-2.9 2.9zM1440.95 99.75l2.9 -2.9l2.9 2.9l-2.9 2.9zM1443.54 99.12l2.9 -2.9l2.9 2.9l-2.9 2.9zM1446.14 99.55l2.9 -2.9l2.9 2.9l-2.9 2.9zM1448.73 99.12l2.9 -2.9l2.9 2.9l-2.9 2.9zM1451.33 98l2.9 -2.9l2.9 2.9l-2.9 2.9zM1453.92 98.35l2.9 -2.9l2.9 2.9l-2.9 2.9zM1456.52 97.5l2.9 -2.9l2.9 2.9l-2.9 2.9zM1459.11 97.06l2.9 -2.9l2.9 2.9l-2.9 2.9zM1461.7 96.92l2.9 -2.9l2.9 2.9l-2.9 2.9zM1464.3 95.33l2.9 -2.9l2.9 2.9l-2.9 2.9zM1466.89 95.98l2.9 -2.9l2.9 2.9l-2.9 2.9zM1469.49 94.86l2.9 -2.9l2.9 2.9l-2.9 2.9zM1472.08 94.09l2.9 -2.9l2.9 2.9l-2.9 2.9zM1474.67 93.82l2.9 -2.9l2.9 2.9l-2.9 2.9zM1477.27 92.86l2.9 -2.9l2.9 2.9l-2.9 2.9zM1479.86 92.5l2.9 -2.9l2.9 2.9l-2.9 2.9zM1403.91 101.95l2.9 -2.9l2.9 2.9l-2.9 2.9zM1406.38 102.47l2.9 -2.9l2.9 2.9l-2.9 2.9zM1408.85 103.32l2.9 -2.9l2.9 2.9l-2.9 2.9zM1411.33 104.79l2.9 -2.9l2.9 2.9l-2.9 2.9zM1413.8 104.27l2.9 -2.9l2.9 2.9l-2.9 2.9zM1416.28 106.03l2.9 -2.9l2.9 2.9l-2.9 2.9zM1418.75 106.44l2.9 -2.9l2.9 2.9l-2.9 2.9zM1421.22 107.03l2.9 -2.9l2.9 2.9l-2.9 2.9zM1423.7 108.11l2.9 -2.9l2.9 2.9l-2.9 2.9zM1426.17 108.03l2.9 -2.9l2.9 2.9l-2.9 2.9zM1428.64 109.21l2.9 -2.9l2.9 2.9l-2.9 2.9zM1431.12 110.05l2.9 -2.9l2.9 2.9l-2.9 2.9zM1433.59 109.76l2.9 -2.9l2.9 2.9l-2.9 2.9zM1436.06 110.93l2.9 -2.9l2.9 2.9l-2.9 2.9zM1438.54 111.12l2.9 -2.9l2.9 2.9l-2.9 2.9zM1441.01 111.41l2.9 -2.9l2.9 2.9l-2.9 2.9zM1443.48 112.04l2.9 -2.9l2.9 2.9l-2.9 2.9zM1445.96 110.47l2.9 -2.9l2.9 2.9l-2.9 2.9zM1448.43 111.07l2.9 -2.9l2.9 2.9l-2.9 2.9zM1450.9 110.33l2.9 -2.9l2.9 2.9l-2.9 2.9zM1453.38 109.49l2.9 -2.9l2.9 2.9l-2.9 2.9zM1455.85 109.24l2.9 -2.9l2.9 2.9l-2.9 2.9zM1458.32 108.27l2.9 -2.9l2.9 2.9l-2.9 2.9zM1460.8 107.79l2.9 -2.9l2.9 2.9l-2.9 2.9zM1463.27 107.66l2.9 -2.9l2.9 2.9l-2.9 2.9zM1465.75 105.74l2.9 -2.9l2.9 2.9l-2.9 2.9zM1468.22 106.07l2.9 -2.9l2.9 2.9l-2.9 2.9zM1470.69 104.94l2.9 -2.9l2.9 2.9l-2.9 2.9zM1473.17 104.12l2.9 -2.9l2.9 2.9l-2.9 2.9zM1475.64 103.73l2.9 -2.9l2.9 2.9l-2.9 2.9zM1478.11 102.13l2.9 -2.9l2.9 2.9l-2.9 2.9zM1480.59 102.02l2.9 -2.9l2.9 2.9l-2.9 2.9zM1405.35 113.81l2.9 -2.9l2.9 2.9l-2.9 2.9zM1409.68 114.99l2.9 -2.9l2.9 2.9l-2.9 2.9zM1414 116.11l2.9 -2.9l2.9 2.9l-2.9 2.9zM1418.32 117.19l2.9 -2.9l2.9 2.9l-2.9 2.9zM1422.65 118.21l2.9 -2.9l2.9 2.9l-2.9 2.9zM1426.97 119.16l2.9 -2.9l2.9 2.9l-2.9 2.9zM1431.29 120.03l2.9 -2.9l2.9 2.9l-2.9 2.9zM1435.62 120.81l2.9 -2.9l2.9 2.9l-2.9 2.9zM1439.94 121.43l2.9 -2.9l2.9 2.9l-2.9 2.9zM1444.26 121.43l2.9 -2.9l2.9 2.9l-2.9 2.9zM1448.59 120.81l2.9 -2.9l2.9 2.9l-2.9 2.9zM1452.91 120.03l2.9 -2.9l2.9 2.9l-2.9 2.9zM1457.23 119.16l2.9 -2.9l2.9 2.9l-2.9 2.9zM1461.56 118.21l2.9 -2.9l2.9 2.9l-2.9 2.9zM1465.88 117.19l2.9 -2.9l2.9 2.9l-2.9 2.9zM1470.2 116.11l2.9 -2.9l2.9 2.9l-2.9 2.9zM1474.53 114.99l2.9 -2.9l2.9 2.9l-2.9 2.9zM1478.85 113.81l2.9 -2.9l2.9 2.9l-2.9 2.9z" fill="#9b9b9b"/>
<path d="M1403.7 95.58H1487.3M1445.5 74.61V116.27M1424 74.61H1467M1424 116.27H1467" fill="none" stroke="#9b9b9b" stroke-width="1.8"/>
<path d="M1630.45 11.8V208.7H1923.85M1623.25 208.7H1631.85M1623.25 159.82H1630.45M1623.25 110.95H1630.45M1623.25 62.07H1630.45M1623.25 13.2H1631.85M1714.35 208.7V216.8M1839.95 208.7V216.8" fill="none" stroke="#000" stroke-width="2.8" stroke-linejoin="miter"/>
<g font-family='"Liberation Serif", serif' font-weight="bold" font-size="16.3" text-anchor="end">
<text x="1622.45" y="214.25">0</text>
<text x="1622.45" y="165.38">2</text>
<text x="1622.45" y="116.5">4</text>
<text x="1622.45" y="67.62">6</text>
<text x="1622.45" y="18.75">8</text>
</g>
<g font-family='"Liberation Serif", serif' font-weight="bold" font-size="16.1" text-anchor="end">
<text transform="translate(1717.75 226.7) rotate(-45)">MSA</text>
<text transform="translate(1843.35 226.7) rotate(-45)">HC</text>
</g>
<text transform="translate(1605.1 110) rotate(-90)" text-anchor="middle" font-weight="bold" font-size="16"><tspan font-family='"Liberation Serif", serif'>Neutrophils, 10</tspan><tspan font-family='"Liberation Serif", serif' font-size="11.5" dy="-6">9</tspan><tspan font-family='"Liberation Serif", serif' dy="6">/L</tspan></text>
<path d="M1718.78 44.18m-2.95 0a2.95 2.95 0 1 0 5.9 0a2.95 2.95 0 1 0 -5.9 0M1709.81 48.08m-2.95 0a2.95 2.95 0 1 0 5.9 0a2.95 2.95 0 1 0 -5.9 0M1714.44 57.05m-2.95 0a2.95 2.95 0 1 0 5.9 0a2.95 2.95 0 1 0 -5.9 0M1718.78 65.16m-2.95 0a2.95 2.95 0 1 0 5.9 0a2.95 2.95 0 1 0 -5.9 0M1705.47 68.77m-2.95 0a2.95 2.95 0 1 0 5.9 0a2.95 2.95 0 1 0 -5.9 0M1709.81 73.4m-2.95 0a2.95 2.95 0 1 0 5.9 0a2.95 2.95 0 1 0 -5.9 0M1718.78 78.47m-2.95 0a2.95 2.95 0 1 0 5.9 0a2.95 2.95 0 1 0 -5.9 0M1705.47 83.53m-2.95 0a2.95 2.95 0 1 0 5.9 0a2.95 2.95 0 1 0 -5.9 0M1723.26 84.69m-2.95 0a2.95 2.95 0 1 0 5.9 0a2.95 2.95 0 1 0 -5.9 0M1714.44 87.44m-2.95 0a2.95 2.95 0 1 0 5.9 0a2.95 2.95 0 1 0 -5.9 0M1709.81 89.32m-2.95 0a2.95 2.95 0 1 0 5.9 0a2.95 2.95 0 1 0 -5.9 0M1718.78 90.76m-2.95 0a2.95 2.95 0 1 0 5.9 0a2.95 2.95 0 1 0 -5.9 0M1680.44 91.78m-2.95 0a2.95 2.95 0 1 0 5.9 0a2.95 2.95 0 1 0 -5.9 0M1748.15 92.93m-2.95 0a2.95 2.95 0 1 0 5.9 0a2.95 2.95 0 1 0 -5.9 0M1692.88 94.81m-2.95 0a2.95 2.95 0 1 0 5.9 0a2.95 2.95 0 1 0 -5.9 0M1701.42 96.26m-2.95 0a2.95 2.95 0 1 0 5.9 0a2.95 2.95 0 1 0 -5.9 0M1709.81 96.55m-2.95 0a2.95 2.95 0 1 0 5.9 0a2.95 2.95 0 1 0 -5.9 0M1718.78 96.55m-2.95 0a2.95 2.95 0 1 0 5.9 0a2.95 2.95 0 1 0 -5.9 0M1727.17 96.26m-2.95 0a2.95 2.95 0 1 0 5.9 0a2.95 2.95 0 1 0 -5.9 0M1735.56 94.81m-2.95 0a2.95 2.95 0 1 0 5.9 0a2.95 2.95 0 1 0 -5.9 0M1692.45 162.09m-2.95 0a2.95 2.95 0 1 0 5.9 0a2.95 2.95 0 1 0 -5.9 0M1701.13 166.14m-2.95 0a2.95 2.95 0 1 0 5.9 0a2.95 2.95 0 1 0 -5.9 0M1709.81 168.31m-2.95 0a2.95 2.95 0 1 0 5.9 0a2.95 2.95 0 1 0 -5.9 0M1705.47 171.64m-2.95 0a2.95 2.95 0 1 0 5.9 0a2.95 2.95 0 1 0 -5.9 0M1718.78 170.05m-2.95 0a2.95 2.95 0 1 0 5.9 0a2.95 2.95 0 1 0 -5.9 0M1727.46 167.15m-2.95 0a2.95 2.95 0 1 0 5.9 0a2.95 2.95 0 1 0 -5.9 0M1736.28 165.71m-2.95 0a2.95 2.95 0 1 0 5.9 0a2.95 2.95 0 1 0 -5.9 0M1723.26 175.11m-2.95 0a2.95 2.95 0 1 0 5.9 0a2.95 2.95 0 1 0 -5.9 0M1714.44 179.59m-2.95 0a2.95 2.95 0 1 0 5.9 0a2.95 2.95 0 1 0 -5.9 0M1675.08 98.31m-2.9 0a2.9 2.9 0 1 0 5.8 0a2.9 2.9 0 1 0 -5.8 0M1679.2 99.01m-2.9 0a2.9 2.9 0 1 0 5.8 0a2.9 2.9 0 1 0 -5.8 0M1683.31 100.64m-2.9 0a2.9 2.9 0 1 0 5.8 0a2.9 2.9 0 1 0 -5.8 0M1687.42 100.51m-2.9 0a2.9 2.9 0 1 0 5.8 0a2.9 2.9 0 1 0 -5.8 0M1691.53 101.82m-2.9 0a2.9 2.9 0 1 0 5.8 0a2.9 2.9 0 1 0 -5.8 0M1695.64 102.95m-2.9 0a2.9 2.9 0 1 0 5.8 0a2.9 2.9 0 1 0 -5.8 0M1699.76 103.07m-2.9 0a2.9 2.9 0 1 0 5.8 0a2.9 2.9 0 1 0 -5.8 0M1703.87 104.13m-2.9 0a2.9 2.9 0 1 0 5.8 0a2.9 2.9 0 1 0 -5.8 0M1707.98 104.56m-2.9 0a2.9 2.9 0 1 0 5.8 0a2.9 2.9 0 1 0 -5.8 0M1712.09 104.8m-2.9 0a2.9 2.9 0 1 0 5.8 0a2.9 2.9 0 1 0 -5.8 0M1716.2 105.78m-2.9 0a2.9 2.9 0 1 0 5.8 0a2.9 2.9 0 1 0 -5.8 0M1720.31 103.96m-2.9 0a2.9 2.9 0 1 0 5.8 0a2.9 2.9 0 1 0 -5.8 0M1724.43 104.18m-2.9 0a2.9 2.9 0 1 0 5.8 0a2.9 2.9 0 1 0 -5.8 0M1728.54 103.43m-2.9 0a2.9 2.9 0 1 0 5.8 0a2.9 2.9 0 1 0 -5.8 0M1732.65 102.47m-2.9 0a2.9 2.9 0 1 0 5.8 0a2.9 2.9 0 1 0 -5.8 0M1736.76 102.08m-2.9 0a2.9 2.9 0 1 0 5.8 0a2.9 2.9 0 1 0 -5.8 0M1740.87 100.73m-2.9 0a2.9 2.9 0 1 0 5.8 0a2.9 2.9 0 1 0 -5.8 0M1744.99 99.97m-2.9 0a2.9 2.9 0 1 0 5.8 0a2.9 2.9 0 1 0 -5.8 0M1749.1 99.81m-2.9 0a2.9 2.9 0 1 0 5.8 0a2.9 2.9 0 1 0 -5.8 0M1753.21 97.78m-2.9 0a2.9 2.9 0 1 0 5.8 0a2.9 2.9 0 1 0 -5.8 0M1675.08 105.79m-2.9 0a2.9 2.9 0 1 0 5.8 0a2.9 2.9 0 1 0 -5.8 0M1679.2 108.12m-2.9 0a2.9 2.9 0 1 0 5.8 0a2.9 2.9 0 1 0 -5.8 0M1683.31 108.08m-2.9 0a2.9 2.9 0 1 0 5.8 0a2.9 2.9 0 1 0 -5.8 0M1687.42 109.25m-2.9 0a2.9 2.9 0 1 0 5.8 0a2.9 2.9 0 1 0 -5.8 0M1691.53 110.35m-2.9 0a2.9 2.9 0 1 0 5.8 0a2.9 2.9 0 1 0 -5.8 0M1695.64 110.86m-2.9 0a2.9 2.9 0 1 0 5.8 0a2.9 2.9 0 1 0 -5.8 0M1699.76 112.14m-2.9 0a2.9 2.9 0 1 0 5.8 0a2.9 2.9 0 1 0 -5.8 0M1703.87 112.61m-2.9 0a2.9 2.9 0 1 0 5.8 0a2.9 2.9 0 1 0 -5.8 0M1707.98 112.71m-2.9 0a2.9 2.9 0 1 0 5.8 0a2.9 2.9 0 1 0 -5.8 0M1712.09 114.34m-2.9 0a2.9 2.9 0 1 0 5.8 0a2.9 2.9 0 1 0 -5.8 0M1716.2 113.49m-2.9 0a2.9 2.9 0 1 0 5.8 0a2.9 2.9 0 1 0 -5.8 0M1720.31 113.25m-2.9 0a2.9 2.9 0 1 0 5.8 0a2.9 2.9 0 1 0 -5.8 0M1724.43 112.7m-2.9 0a2.9 2.9 0 1 0 5.8 0a2.9 2.9 0 1 0 -5.8 0M1728.54 111.43m-2.9 0a2.9 2.9 0 1 0 5.8 0a2.9 2.9 0 1 0 -5.8 0M1732.65 111.65m-2.9 0a2.9 2.9 0 1 0 5.8 0a2.9 2.9 0 1 0 -5.8 0M1736.76 109.98m-2.9 0a2.9 2.9 0 1 0 5.8 0a2.9 2.9 0 1 0 -5.8 0M1740.87 109.07m-2.9 0a2.9 2.9 0 1 0 5.8 0a2.9 2.9 0 1 0 -5.8 0M1744.99 108.68m-2.9 0a2.9 2.9 0 1 0 5.8 0a2.9 2.9 0 1 0 -5.8 0M1749.1 107.25m-2.9 0a2.9 2.9 0 1 0 5.8 0a2.9 2.9 0 1 0 -5.8 0M1753.21 106.49m-2.9 0a2.9 2.9 0 1 0 5.8 0a2.9 2.9 0 1 0 -5.8 0M1676.53 116.46m-2.9 0a2.9 2.9 0 1 0 5.8 0a2.9 2.9 0 1 0 -5.8 0M1679.8 117.27m-2.9 0a2.9 2.9 0 1 0 5.8 0a2.9 2.9 0 1 0 -5.8 0M1683.07 118.62m-2.9 0a2.9 2.9 0 1 0 5.8 0a2.9 2.9 0 1 0 -5.8 0M1686.34 118.27m-2.9 0a2.9 2.9 0 1 0 5.8 0a2.9 2.9 0 1 0 -5.8 0M1689.61 120.11m-2.9 0a2.9 2.9 0 1 0 5.8 0a2.9 2.9 0 1 0 -5.8 0M1692.89 120.55m-2.9 0a2.9 2.9 0 1 0 5.8 0a2.9 2.9 0 1 0 -5.8 0M1696.16 120.94m-2.9 0a2.9 2.9 0 1 0 5.8 0a2.9 2.9 0 1 0 -5.8 0M1699.43 121.97m-2.9 0a2.9 2.9 0 1 0 5.8 0a2.9 2.9 0 1 0 -5.8 0M1702.7 122.27m-2.9 0a2.9 2.9 0 1 0 5.8 0a2.9 2.9 0 1 0 -5.8 0M1705.97 123m-2.9 0a2.9 2.9 0 1 0 5.8 0a2.9 2.9 0 1 0 -5.8 0M1709.24 124m-2.9 0a2.9 2.9 0 1 0 5.8 0a2.9 2.9 0 1 0 -5.8 0M1712.51 123.19m-2.9 0a2.9 2.9 0 1 0 5.8 0a2.9 2.9 0 1 0 -5.8 0M1715.78 124.32m-2.9 0a2.9 2.9 0 1 0 5.8 0a2.9 2.9 0 1 0 -5.8 0M1719.05 123.46m-2.9 0a2.9 2.9 0 1 0 5.8 0a2.9 2.9 0 1 0 -5.8 0M1722.32 122.92m-2.9 0a2.9 2.9 0 1 0 5.8 0a2.9 2.9 0 1 0 -5.8 0M1725.6 122.69m-2.9 0a2.9 2.9 0 1 0 5.8 0a2.9 2.9 0 1 0 -5.8 0M1728.87 121.37m-2.9 0a2.9 2.9 0 1 0 5.8 0a2.9 2.9 0 1 0 -5.8 0M1732.14 121.39m-2.9 0a2.9 2.9 0 1 0 5.8 0a2.9 2.9 0 1 0 -5.8 0M1735.41 120.74m-2.9 0a2.9 2.9 0 1 0 5.8 0a2.9 2.9 0 1 0 -5.8 0M1738.68 119.25m-2.9 0a2.9 2.9 0 1 0 5.8 0a2.9 2.9 0 1 0 -5.8 0M1741.95 119.21m-2.9 0a2.9 2.9 0 1 0 5.8 0a2.9 2.9 0 1 0 -5.8 0M1745.22 118.1m-2.9 0a2.9 2.9 0 1 0 5.8 0a2.9 2.9 0 1 0 -5.8 0M1748.49 117.3m-2.9 0a2.9 2.9 0 1 0 5.8 0a2.9 2.9 0 1 0 -5.8 0M1751.76 116.94m-2.9 0a2.9 2.9 0 1 0 5.8 0a2.9 2.9 0 1 0 -5.8 0M1675.08 124.31m-2.9 0a2.9 2.9 0 1 0 5.8 0a2.9 2.9 0 1 0 -5.8 0M1678.45 125.96m-2.9 0a2.9 2.9 0 1 0 5.8 0a2.9 2.9 0 1 0 -5.8 0M1681.82 126.46m-2.9 0a2.9 2.9 0 1 0 5.8 0a2.9 2.9 0 1 0 -5.8 0M1685.18 126.68m-2.9 0a2.9 2.9 0 1 0 5.8 0a2.9 2.9 0 1 0 -5.8 0M1688.55 128.15m-2.9 0a2.9 2.9 0 1 0 5.8 0a2.9 2.9 0 1 0 -5.8 0M1691.91 128.44m-2.9 0a2.9 2.9 0 1 0 5.8 0a2.9 2.9 0 1 0 -5.8 0M1695.28 129.23m-2.9 0a2.9 2.9 0 1 0 5.8 0a2.9 2.9 0 1 0 -5.8 0M1698.64 130.17m-2.9 0a2.9 2.9 0 1 0 5.8 0a2.9 2.9 0 1 0 -5.8 0M1702.01 129.76m-2.9 0a2.9 2.9 0 1 0 5.8 0a2.9 2.9 0 1 0 -5.8 0M1705.37 131.6m-2.9 0a2.9 2.9 0 1 0 5.8 0a2.9 2.9 0 1 0 -5.8 0M1708.74 131.37m-2.9 0a2.9 2.9 0 1 0 5.8 0a2.9 2.9 0 1 0 -5.8 0M1712.1 131.72m-2.9 0a2.9 2.9 0 1 0 5.8 0a2.9 2.9 0 1 0 -5.8 0M1715.47 132.02m-2.9 0a2.9 2.9 0 1 0 5.8 0a2.9 2.9 0 1 0 -5.8 0M1718.83 131.28m-2.9 0a2.9 2.9 0 1 0 5.8 0a2.9 2.9 0 1 0 -5.8 0M1722.2 131.18m-2.9 0a2.9 2.9 0 1 0 5.8 0a2.9 2.9 0 1 0 -5.8 0M1725.56 130.7m-2.9 0a2.9 2.9 0 1 0 5.8 0a2.9 2.9 0 1 0 -5.8 0M1728.93 129.21m-2.9 0a2.9 2.9 0 1 0 5.8 0a2.9 2.9 0 1 0 -5.8 0M1732.29 129.76m-2.9 0a2.9 2.9 0 1 0 5.8 0a2.9 2.9 0 1 0 -5.8 0M1735.66 128.39m-2.9 0a2.9 2.9 0 1 0 5.8 0a2.9 2.9 0 1 0 -5.8 0M1739.02 127.82m-2.9 0a2.9 2.9 0 1 0 5.8 0a2.9 2.9 0 1 0 -5.8 0M1742.39 127.3m-2.9 0a2.9 2.9 0 1 0 5.8 0a2.9 2.9 0 1 0 -5.8 0M1745.76 125.88m-2.9 0a2.9 2.9 0 1 0 5.8 0a2.9 2.9 0 1 0 -5.8 0M1749.12 126.04m-2.9 0a2.9 2.9 0 1 0 5.8 0a2.9 2.9 0 1 0 -5.8 0M1752.49 124.77m-2.9 0a2.9 2.9 0 1 0 5.8 0a2.9 2.9 0 1 0 -5.8 0M1677.25 134.9m-2.9 0a2.9 2.9 0 1 0 5.8 0a2.9 2.9 0 1 0 -5.8 0M1680.46 135.07m-2.9 0a2.9 2.9 0 1 0 5.8 0a2.9 2.9 0 1 0 -5.8 0M1683.67 136.01m-2.9 0a2.9 2.9 0 1 0 5.8 0a2.9 2.9 0 1 0 -5.8 0M1686.88 136.9m-2.9 0a2.9 2.9 0 1 0 5.8 0a2.9 2.9 0 1 0 -5.8 0M1690.09 136.84m-2.9 0a2.9 2.9 0 1 0 5.8 0a2.9 2.9 0 1 0 -5.8 0M1693.29 138.74m-2.9 0a2.9 2.9 0 1 0 5.8 0a2.9 2.9 0 1 0 -5.8 0M1696.5 138.53m-2.9 0a2.9 2.9 0 1 0 5.8 0a2.9 2.9 0 1 0 -5.8 0M1699.71 139.17m-2.9 0a2.9 2.9 0 1 0 5.8 0a2.9 2.9 0 1 0 -5.8 0M1702.92 140.11m-2.9 0a2.9 2.9 0 1 0 5.8 0a2.9 2.9 0 1 0 -5.8 0M1706.13 140.29m-2.9 0a2.9 2.9 0 1 0 5.8 0a2.9 2.9 0 1 0 -5.8 0M1709.33 141.07m-2.9 0a2.9 2.9 0 1 0 5.8 0a2.9 2.9 0 1 0 -5.8 0M1712.54 141.43m-2.9 0a2.9 2.9 0 1 0 5.8 0a2.9 2.9 0 1 0 -5.8 0M1715.75 140.66m-2.9 0a2.9 2.9 0 1 0 5.8 0a2.9 2.9 0 1 0 -5.8 0M1718.96 141.57m-2.9 0a2.9 2.9 0 1 0 5.8 0a2.9 2.9 0 1 0 -5.8 0M1722.17 140.18m-2.9 0a2.9 2.9 0 1 0 5.8 0a2.9 2.9 0 1 0 -5.8 0M1725.38 139.91m-2.9 0a2.9 2.9 0 1 0 5.8 0a2.9 2.9 0 1 0 -5.8 0M1728.58 139.47m-2.9 0a2.9 2.9 0 1 0 5.8 0a2.9 2.9 0 1 0 -5.8 0M1731.79 138.4m-2.9 0a2.9 2.9 0 1 0 5.8 0a2.9 2.9 0 1 0 -5.8 0M1735 138.54m-2.9 0a2.9 2.9 0 1 0 5.8 0a2.9 2.9 0 1 0 -5.8 0M1738.21 137.35m-2.9 0a2.9 2.9 0 1 0 5.8 0a2.9 2.9 0 1 0 -5.8 0M1741.42 136.31m-2.9 0a2.9 2.9 0 1 0 5.8 0a2.9 2.9 0 1 0 -5.8 0M1744.62 136.4m-2.9 0a2.9 2.9 0 1 0 5.8 0a2.9 2.9 0 1 0 -5.8 0M1747.83 135.06m-2.9 0a2.9 2.9 0 1 0 5.8 0a2.9 2.9 0 1 0 -5.8 0M1751.04 134.5m-2.9 0a2.9 2.9 0 1 0 5.8 0a2.9 2.9 0 1 0 -5.8 0M1675.81 142.71m-2.9 0a2.9 2.9 0 1 0 5.8 0a2.9 2.9 0 1 0 -5.8 0M1678.88 144.55m-2.9 0a2.9 2.9 0 1 0 5.8 0a2.9 2.9 0 1 0 -5.8 0M1681.94 144.39m-2.9 0a2.9 2.9 0 1 0 5.8 0a2.9 2.9 0 1 0 -5.8 0M1685.01 145.25m-2.9 0a2.9 2.9 0 1 0 5.8 0a2.9 2.9 0 1 0 -5.8 0M1688.08 146.44m-2.9 0a2.9 2.9 0 1 0 5.8 0a2.9 2.9 0 1 0 -5.8 0M1691.14 146.71m-2.9 0a2.9 2.9 0 1 0 5.8 0a2.9 2.9 0 1 0 -5.8 0M1694.21 147.65m-2.9 0a2.9 2.9 0 1 0 5.8 0a2.9 2.9 0 1 0 -5.8 0M1697.28 148.24m-2.9 0a2.9 2.9 0 1 0 5.8 0a2.9 2.9 0 1 0 -5.8 0M1700.34 148.24m-2.9 0a2.9 2.9 0 1 0 5.8 0a2.9 2.9 0 1 0 -5.8 0M1703.41 150.08m-2.9 0a2.9 2.9 0 1 0 5.8 0a2.9 2.9 0 1 0 -5.8 0M1706.48 149.46m-2.9 0a2.9 2.9 0 1 0 5.8 0a2.9 2.9 0 1 0 -5.8 0M1709.55 150.32m-2.9 0a2.9 2.9 0 1 0 5.8 0a2.9 2.9 0 1 0 -5.8 0M1712.61 150.79m-2.9 0a2.9 2.9 0 1 0 5.8 0a2.9 2.9 0 1 0 -5.8 0M1715.68 150.47m-2.9 0a2.9 2.9 0 1 0 5.8 0a2.9 2.9 0 1 0 -5.8 0M1718.75 150.69m-2.9 0a2.9 2.9 0 1 0 5.8 0a2.9 2.9 0 1 0 -5.8 0M1721.81 149.72m-2.9 0a2.9 2.9 0 1 0 5.8 0a2.9 2.9 0 1 0 -5.8 0M1724.88 148.96m-2.9 0a2.9 2.9 0 1 0 5.8 0a2.9 2.9 0 1 0 -5.8 0M1727.95 149.32m-2.9 0a2.9 2.9 0 1 0 5.8 0a2.9 2.9 0 1 0 -5.8 0M1731.02 147.89m-2.9 0a2.9 2.9 0 1 0 5.8 0a2.9 2.9 0 1 0 -5.8 0M1734.08 147.58m-2.9 0a2.9 2.9 0 1 0 5.8 0a2.9 2.9 0 1 0 -5.8 0M1737.15 146.94m-2.9 0a2.9 2.9 0 1 0 5.8 0a2.9 2.9 0 1 0 -5.8 0M1740.22 145.74m-2.9 0a2.9 2.9 0 1 0 5.8 0a2.9 2.9 0 1 0 -5.8 0M1743.28 146.11m-2.9 0a2.9 2.9 0 1 0 5.8 0a2.9 2.9 0 1 0 -5.8 0M1746.35 144.31m-2.9 0a2.9 2.9 0 1 0 5.8 0a2.9 2.9 0 1 0 -5.8 0M1749.42 143.82m-2.9 0a2.9 2.9 0 1 0 5.8 0a2.9 2.9 0 1 0 -5.8 0M1752.49 143.38m-2.9 0a2.9 2.9 0 1 0 5.8 0a2.9 2.9 0 1 0 -5.8 0M1680.15 153.41m-2.9 0a2.9 2.9 0 1 0 5.8 0a2.9 2.9 0 1 0 -5.8 0M1685.38 154.88m-2.9 0a2.9 2.9 0 1 0 5.8 0a2.9 2.9 0 1 0 -5.8 0M1690.61 156.27m-2.9 0a2.9 2.9 0 1 0 5.8 0a2.9 2.9 0 1 0 -5.8 0M1695.84 157.57m-2.9 0a2.9 2.9 0 1 0 5.8 0a2.9 2.9 0 1 0 -5.8 0M1701.07 158.76m-2.9 0a2.9 2.9 0 1 0 5.8 0a2.9 2.9 0 1 0 -5.8 0M1706.3 159.81m-2.9 0a2.9 2.9 0 1 0 5.8 0a2.9 2.9 0 1 0 -5.8 0M1711.53 160.66m-2.9 0a2.9 2.9 0 1 0 5.8 0a2.9 2.9 0 1 0 -5.8 0M1716.76 160.66m-2.9 0a2.9 2.9 0 1 0 5.8 0a2.9 2.9 0 1 0 -5.8 0M1721.99 159.81m-2.9 0a2.9 2.9 0 1 0 5.8 0a2.9 2.9 0 1 0 -5.8 0M1727.22 158.76m-2.9 0a2.9 2.9 0 1 0 5.8 0a2.9 2.9 0 1 0 -5.8 0M1732.45 157.57m-2.9 0a2.9 2.9 0 1 0 5.8 0a2.9 2.9 0 1 0 -5.8 0M1737.68 156.27m-2.9 0a2.9 2.9 0 1 0 5.8 0a2.9 2.9 0 1 0 -5.8 0M1742.92 154.88m-2.9 0a2.9 2.9 0 1 0 5.8 0a2.9 2.9 0 1 0 -5.8 0M1748.15 153.41m-2.9 0a2.9 2.9 0 1 0 5.8 0a2.9 2.9 0 1 0 -5.8 0" fill="#000"/>
<path d="M1672.55 125.49H1756.15M1714.35 100.89V149.36M1692.85 100.89H1735.85M1692.85 149.36H1735.85" fill="none" stroke="#fff" stroke-opacity="0.65" stroke-width="2.45"/>
<path d="M1672.55 125.49H1756.15M1714.35 100.89V149.36M1692.85 100.89H1735.85M1692.85 149.36H1735.85" fill="none" stroke="#000" stroke-width="1.8"/>
<path d="M1837.11 47.36l2.75 -2.75l2.75 2.75l-2.75 2.75zM1837.11 62.12l2.75 -2.75l2.75 2.75l-2.75 2.75zM1841.59 67.91l2.75 -2.75l2.75 2.75l-2.75 2.75zM1832.77 71.52l2.75 -2.75l2.75 2.75l-2.75 2.75zM1854.76 83.53l2.75 -2.75l2.75 2.75l-2.75 2.75zM1819.6 86.71l2.75 -2.75l2.75 2.75l-2.75 2.75zM1845.93 87.58l2.75 -2.75l2.75 2.75l-2.75 2.75zM1828.43 89.03l2.75 -2.75l2.75 2.75l-2.75 2.75zM1837.11 90.33l2.75 -2.75l2.75 2.75l-2.75 2.75zM1832.77 95.54l2.75 -2.75l2.75 2.75l-2.75 2.75zM1875.3 95.39l2.75 -2.75l2.75 2.75l-2.75 2.75zM1866.62 95.54l2.75 -2.75l2.75 2.75l-2.75 2.75zM1803.4 98.43l2.75 -2.75l2.75 2.75l-2.75 2.75zM1858.38 98.43l2.75 -2.75l2.75 2.75l-2.75 2.75zM1815.98 99.44l2.75 -2.75l2.75 2.75l-2.75 2.75zM1849.69 100.46l2.75 -2.75l2.75 2.75l-2.75 2.75zM1824.38 100.89l2.75 -2.75l2.75 2.75l-2.75 2.75zM1841.45 101.33l2.75 -2.75l2.75 2.75l-2.75 2.75zM1832.77 102.77l2.75 -2.75l2.75 2.75l-2.75 2.75zM1798.62 104.52l2.9 -2.9l2.9 2.9l-2.9 2.9zM1802.28 104.85l2.9 -2.9l2.9 2.9l-2.9 2.9zM1805.95 106.86l2.9 -2.9l2.9 2.9l-2.9 2.9zM1809.61 107.02l2.9 -2.9l2.9 2.9l-2.9 2.9zM1813.28 107.79l2.9 -2.9l2.9 2.9l-2.9 2.9zM1816.94 109.16l2.9 -2.9l2.9 2.9l-2.9 2.9zM1820.61 109.54l2.9 -2.9l2.9 2.9l-2.9 2.9zM1824.27 110.51l2.9 -2.9l2.9 2.9l-2.9 2.9zM1827.94 111.25l2.9 -2.9l2.9 2.9l-2.9 2.9zM1831.6 111.06l2.9 -2.9l2.9 2.9l-2.9 2.9zM1835.27 112.87l2.9 -2.9l2.9 2.9l-2.9 2.9zM1838.93 111.88l2.9 -2.9l2.9 2.9l-2.9 2.9zM1842.6 111.64l2.9 -2.9l2.9 2.9l-2.9 2.9zM1846.27 111.21l2.9 -2.9l2.9 2.9l-2.9 2.9zM1849.93 110.17l2.9 -2.9l2.9 2.9l-2.9 2.9zM1853.6 110.01l2.9 -2.9l2.9 2.9l-2.9 2.9zM1857.26 108.88l2.9 -2.9l2.9 2.9l-2.9 2.9zM1860.93 107.57l2.9 -2.9l2.9 2.9l-2.9 2.9zM1864.59 107.71l2.9 -2.9l2.9 2.9l-2.9 2.9zM1868.26 106.05l2.9 -2.9l2.9 2.9l-2.9 2.9zM1871.92 105.36l2.9 -2.9l2.9 2.9l-2.9 2.9zM1875.59 104.5l2.9 -2.9l2.9 2.9l-2.9 2.9zM1798.18 113.39l2.9 -2.9l2.9 2.9l-2.9 2.9zM1801.88 114.34l2.9 -2.9l2.9 2.9l-2.9 2.9zM1805.58 115.5l2.9 -2.9l2.9 2.9l-2.9 2.9zM1809.28 117.07l2.9 -2.9l2.9 2.9l-2.9 2.9zM1812.98 117.4l2.9 -2.9l2.9 2.9l-2.9 2.9zM1816.68 119.07l2.9 -2.9l2.9 2.9l-2.9 2.9zM1820.38 120.14l2.9 -2.9l2.9 2.9l-2.9 2.9zM1824.08 120.2l2.9 -2.9l2.9 2.9l-2.9 2.9zM1827.78 121.56l2.9 -2.9l2.9 2.9l-2.9 2.9zM1831.48 121.88l2.9 -2.9l2.9 2.9l-2.9 2.9zM1835.18 122.25l2.9 -2.9l2.9 2.9l-2.9 2.9zM1838.88 122.84l2.9 -2.9l2.9 2.9l-2.9 2.9zM1842.58 121.22l2.9 -2.9l2.9 2.9l-2.9 2.9zM1846.28 121.75l2.9 -2.9l2.9 2.9l-2.9 2.9zM1849.98 120.7l2.9 -2.9l2.9 2.9l-2.9 2.9zM1853.68 119.64l2.9 -2.9l2.9 2.9l-2.9 2.9zM1857.38 119.04l2.9 -2.9l2.9 2.9l-2.9 2.9zM1861.08 117.65l2.9 -2.9l2.9 2.9l-2.9 2.9zM1864.78 116.79l2.9 -2.9l2.9 2.9l-2.9 2.9zM1868.48 116.08l2.9 -2.9l2.9 2.9l-2.9 2.9zM1872.18 113.67l2.9 -2.9l2.9 2.9l-2.9 2.9zM1875.88 113.42l2.9 -2.9l2.9 2.9l-2.9 2.9zM1798.91 122.09l2.9 -2.9l2.9 2.9l-2.9 2.9zM1802.21 122.92l2.9 -2.9l2.9 2.9l-2.9 2.9zM1805.51 123.41l2.9 -2.9l2.9 2.9l-2.9 2.9zM1808.82 124.96l2.9 -2.9l2.9 2.9l-2.9 2.9zM1812.12 124.89l2.9 -2.9l2.9 2.9l-2.9 2.9zM1815.42 125.77l2.9 -2.9l2.9 2.9l-2.9 2.9zM1818.72 127.07l2.9 -2.9l2.9 2.9l-2.9 2.9zM1822.02 127.07l2.9 -2.9l2.9 2.9l-2.9 2.9zM1825.33 128.03l2.9 -2.9l2.9 2.9l-2.9 2.9zM1828.63 128.53l2.9 -2.9l2.9 2.9l-2.9 2.9zM1831.93 128.61l2.9 -2.9l2.9 2.9l-2.9 2.9zM1835.23 130.14l2.9 -2.9l2.9 2.9l-2.9 2.9zM1838.54 128.89l2.9 -2.9l2.9 2.9l-2.9 2.9zM1841.84 129.05l2.9 -2.9l2.9 2.9l-2.9 2.9zM1845.14 128.65l2.9 -2.9l2.9 2.9l-2.9 2.9zM1848.44 127.79l2.9 -2.9l2.9 2.9l-2.9 2.9zM1851.75 127.56l2.9 -2.9l2.9 2.9l-2.9 2.9zM1855.05 126.51l2.9 -2.9l2.9 2.9l-2.9 2.9zM1858.35 125.62l2.9 -2.9l2.9 2.9l-2.9 2.9zM1861.65 125.88l2.9 -2.9l2.9 2.9l-2.9 2.9zM1864.96 124.01l2.9 -2.9l2.9 2.9l-2.9 2.9zM1868.26 123.77l2.9 -2.9l2.9 2.9l-2.9 2.9zM1871.56 122.9l2.9 -2.9l2.9 2.9l-2.9 2.9zM1874.86 121.76l2.9 -2.9l2.9 2.9l-2.9 2.9zM1801.08 129.74l2.9 -2.9l2.9 2.9l-2.9 2.9zM1803.39 131.8l2.9 -2.9l2.9 2.9l-2.9 2.9zM1805.7 131.75l2.9 -2.9l2.9 2.9l-2.9 2.9zM1808.01 132.67l2.9 -2.9l2.9 2.9l-2.9 2.9zM1810.32 133.57l2.9 -2.9l2.9 2.9l-2.9 2.9zM1812.63 133.75l2.9 -2.9l2.9 2.9l-2.9 2.9zM1814.94 135.27l2.9 -2.9l2.9 2.9l-2.9 2.9zM1817.25 135.5l2.9 -2.9l2.9 2.9l-2.9 2.9zM1819.56 135.73l2.9 -2.9l2.9 2.9l-2.9 2.9zM1821.87 137.14l2.9 -2.9l2.9 2.9l-2.9 2.9zM1824.18 137.22l2.9 -2.9l2.9 2.9l-2.9 2.9zM1826.49 137.96l2.9 -2.9l2.9 2.9l-2.9 2.9zM1828.8 138.66l2.9 -2.9l2.9 2.9l-2.9 2.9zM1831.11 138.31l2.9 -2.9l2.9 2.9l-2.9 2.9zM1833.42 140.03l2.9 -2.9l2.9 2.9l-2.9 2.9zM1835.73 139.48l2.9 -2.9l2.9 2.9l-2.9 2.9zM1838.04 139.56l2.9 -2.9l2.9 2.9l-2.9 2.9zM1840.35 139.51l2.9 -2.9l2.9 2.9l-2.9 2.9zM1842.66 138.75l2.9 -2.9l2.9 2.9l-2.9 2.9zM1844.97 138.65l2.9 -2.9l2.9 2.9l-2.9 2.9zM1847.28 138.06l2.9 -2.9l2.9 2.9l-2.9 2.9zM1849.59 136.75l2.9 -2.9l2.9 2.9l-2.9 2.9zM1851.9 137.39l2.9 -2.9l2.9 2.9l-2.9 2.9zM1854.21 135.91l2.9 -2.9l2.9 2.9l-2.9 2.9zM1856.52 135.5l2.9 -2.9l2.9 2.9l-2.9 2.9zM1858.83 134.97l2.9 -2.9l2.9 2.9l-2.9 2.9zM1861.14 133.74l2.9 -2.9l2.9 2.9l-2.9 2.9zM1863.45 133.93l2.9 -2.9l2.9 2.9l-2.9 2.9zM1865.76 132.59l2.9 -2.9l2.9 2.9l-2.9 2.9zM1868.07 131.6l2.9 -2.9l2.9 2.9l-2.9 2.9zM1870.38 131.54l2.9 -2.9l2.9 2.9l-2.9 2.9zM1872.69 130.26l2.9 -2.9l2.9 2.9l-2.9 2.9zM1798.18 140.12l2.9 -2.9l2.9 2.9l-2.9 2.9zM1801.05 142.02l2.9 -2.9l2.9 2.9l-2.9 2.9zM1803.92 142.31l2.9 -2.9l2.9 2.9l-2.9 2.9zM1806.78 143.02l2.9 -2.9l2.9 2.9l-2.9 2.9zM1809.65 144.59l2.9 -2.9l2.9 2.9l-2.9 2.9zM1812.52 144.96l2.9 -2.9l2.9 2.9l-2.9 2.9zM1815.38 146.01l2.9 -2.9l2.9 2.9l-2.9 2.9zM1818.25 146.9l2.9 -2.9l2.9 2.9l-2.9 2.9zM1821.12 146.91l2.9 -2.9l2.9 2.9l-2.9 2.9zM1823.99 148.94l2.9 -2.9l2.9 2.9l-2.9 2.9zM1826.85 148.61l2.9 -2.9l2.9 2.9l-2.9 2.9zM1829.72 149.45l2.9 -2.9l2.9 2.9l-2.9 2.9zM1832.59 150.21l2.9 -2.9l2.9 2.9l-2.9 2.9zM1835.45 150.32l2.9 -2.9l2.9 2.9l-2.9 2.9zM1838.32 150.79l2.9 -2.9l2.9 2.9l-2.9 2.9zM1841.19 150.11l2.9 -2.9l2.9 2.9l-2.9 2.9zM1844.05 149l2.9 -2.9l2.9 2.9l-2.9 2.9zM1846.92 149.51l2.9 -2.9l2.9 2.9l-2.9 2.9zM1849.79 147.97l2.9 -2.9l2.9 2.9l-2.9 2.9zM1852.65 147.53l2.9 -2.9l2.9 2.9l-2.9 2.9zM1855.52 146.86l2.9 -2.9l2.9 2.9l-2.9 2.9zM1858.39 145.53l2.9 -2.9l2.9 2.9l-2.9 2.9zM1861.25 145.69l2.9 -2.9l2.9 2.9l-2.9 2.9zM1864.12 144.02l2.9 -2.9l2.9 2.9l-2.9 2.9zM1866.99 143.1l2.9 -2.9l2.9 2.9l-2.9 2.9zM1869.85 142.75l2.9 -2.9l2.9 2.9l-2.9 2.9zM1872.72 141.34l2.9 -2.9l2.9 2.9l-2.9 2.9zM1875.59 140.63l2.9 -2.9l2.9 2.9l-2.9 2.9zM1803.25 150.08l2.9 -2.9l2.9 2.9l-2.9 2.9zM1808.46 151.78l2.9 -2.9l2.9 2.9l-2.9 2.9zM1813.66 153.38l2.9 -2.9l2.9 2.9l-2.9 2.9zM1818.87 154.88l2.9 -2.9l2.9 2.9l-2.9 2.9zM1824.08 156.25l2.9 -2.9l2.9 2.9l-2.9 2.9zM1829.29 157.47l2.9 -2.9l2.9 2.9l-2.9 2.9zM1834.5 158.45l2.9 -2.9l2.9 2.9l-2.9 2.9zM1839.71 158.45l2.9 -2.9l2.9 2.9l-2.9 2.9zM1844.91 157.47l2.9 -2.9l2.9 2.9l-2.9 2.9zM1850.12 156.25l2.9 -2.9l2.9 2.9l-2.9 2.9zM1855.33 154.88l2.9 -2.9l2.9 2.9l-2.9 2.9zM1860.54 153.38l2.9 -2.9l2.9 2.9l-2.9 2.9zM1865.75 151.78l2.9 -2.9l2.9 2.9l-2.9 2.9zM1870.96 150.08l2.9 -2.9l2.9 2.9l-2.9 2.9z" fill="#9b9b9b"/>
<path d="M1798.15 126.5H1881.75M1839.95 106.24V146.32M1818.45 106.24H1861.45M1818.45 146.32H1861.45" fill="none" stroke="#9b9b9b" stroke-width="1.8"/>
<path d="M42.7 311.15V508.25H336.1M35.5 508.25H44.1M35.5 459.32H42.7M35.5 410.4H42.7M35.5 361.48H42.7M35.5 312.55H44.1M126.6 508.25V516.35M252.2 508.25V516.35" fill="none" stroke="#000" stroke-width="2.8" stroke-linejoin="miter"/>
<g font-family='"Liberation Sans", sans-serif' font-weight="bold" font-size="16.3" text-anchor="end">
<text x="34.7" y="513.8">0</text>
<text x="34.7" y="464.88">1</text>
<text x="34.7" y="415.95">2</text>
<text x="34.7" y="367.03">3</text>
<text x="34.7" y="318.1">4</text>
</g>
<g font-family='"Liberation Sans", sans-serif' font-weight="bold" font-size="16.6" text-anchor="end">
<text transform="translate(130.3 526.25) rotate(-45)">MSA</text>
<text transform="translate(255.9 526.25) rotate(-45)">HC</text>
</g>
<text transform="translate(14.6 408.4) rotate(-90)" text-anchor="middle" font-weight="bold" font-size="16"><tspan font-family='"Liberation Serif", serif'>Lymphocytes, 10</tspan><tspan font-family='"Liberation Serif", serif' font-size="11.5" dy="-6">9</tspan><tspan font-family='"Liberation Serif", serif' dy="6">/L</tspan></text>
<path d="M139.6 353.45m-2.95 0a2.95 2.95 0 1 0 5.9 0a2.95 2.95 0 1 0 -5.9 0M108.79 356.64m-2.95 0a2.95 2.95 0 1 0 5.9 0a2.95 2.95 0 1 0 -5.9 0M130.92 358.37m-2.95 0a2.95 2.95 0 1 0 5.9 0a2.95 2.95 0 1 0 -5.9 0M117.76 361.99m-2.95 0a2.95 2.95 0 1 0 5.9 0a2.95 2.95 0 1 0 -5.9 0M113.13 366.04m-2.95 0a2.95 2.95 0 1 0 5.9 0a2.95 2.95 0 1 0 -5.9 0M139.6 367.78m-2.95 0a2.95 2.95 0 1 0 5.9 0a2.95 2.95 0 1 0 -5.9 0M122.1 369.95m-2.95 0a2.95 2.95 0 1 0 5.9 0a2.95 2.95 0 1 0 -5.9 0M130.92 372.55m-2.95 0a2.95 2.95 0 1 0 5.9 0a2.95 2.95 0 1 0 -5.9 0M117.76 376.89m-2.95 0a2.95 2.95 0 1 0 5.9 0a2.95 2.95 0 1 0 -5.9 0M135.26 381.96m-2.95 0a2.95 2.95 0 1 0 5.9 0a2.95 2.95 0 1 0 -5.9 0M126.44 384.85m-2.95 0a2.95 2.95 0 1 0 5.9 0a2.95 2.95 0 1 0 -5.9 0M88.97 390.35m-2.95 0a2.95 2.95 0 1 0 5.9 0a2.95 2.95 0 1 0 -5.9 0M96.49 394.25m-2.95 0a2.95 2.95 0 1 0 5.9 0a2.95 2.95 0 1 0 -5.9 0M104.01 395.27m-2.95 0a2.95 2.95 0 1 0 5.9 0a2.95 2.95 0 1 0 -5.9 0M111.39 395.99m-2.95 0a2.95 2.95 0 1 0 5.9 0a2.95 2.95 0 1 0 -5.9 0M118.91 397.44m-2.95 0a2.95 2.95 0 1 0 5.9 0a2.95 2.95 0 1 0 -5.9 0M126.44 397.87m-2.95 0a2.95 2.95 0 1 0 5.9 0a2.95 2.95 0 1 0 -5.9 0M133.81 396.71m-2.95 0a2.95 2.95 0 1 0 5.9 0a2.95 2.95 0 1 0 -5.9 0M141.34 395.7m-2.95 0a2.95 2.95 0 1 0 5.9 0a2.95 2.95 0 1 0 -5.9 0M148.86 394.98m-2.95 0a2.95 2.95 0 1 0 5.9 0a2.95 2.95 0 1 0 -5.9 0M156.53 393.82m-2.95 0a2.95 2.95 0 1 0 5.9 0a2.95 2.95 0 1 0 -5.9 0M164.05 390.35m-2.95 0a2.95 2.95 0 1 0 5.9 0a2.95 2.95 0 1 0 -5.9 0M88.24 400.76m-2.95 0a2.95 2.95 0 1 0 5.9 0a2.95 2.95 0 1 0 -5.9 0M93.88 401.92m-2.95 0a2.95 2.95 0 1 0 5.9 0a2.95 2.95 0 1 0 -5.9 0M99.82 403.22m-2.95 0a2.95 2.95 0 1 0 5.9 0a2.95 2.95 0 1 0 -5.9 0M105.6 405.39m-2.95 0a2.95 2.95 0 1 0 5.9 0a2.95 2.95 0 1 0 -5.9 0M111.39 406.55m-2.95 0a2.95 2.95 0 1 0 5.9 0a2.95 2.95 0 1 0 -5.9 0M118.19 408.72m-2.95 0a2.95 2.95 0 1 0 5.9 0a2.95 2.95 0 1 0 -5.9 0M121.08 411.18m-2.95 0a2.95 2.95 0 1 0 5.9 0a2.95 2.95 0 1 0 -5.9 0M123.98 409.44m-2.95 0a2.95 2.95 0 1 0 5.9 0a2.95 2.95 0 1 0 -5.9 0M129.04 409.44m-2.95 0a2.95 2.95 0 1 0 5.9 0a2.95 2.95 0 1 0 -5.9 0M132.66 411.61m-2.95 0a2.95 2.95 0 1 0 5.9 0a2.95 2.95 0 1 0 -5.9 0M135.26 406.26m-2.95 0a2.95 2.95 0 1 0 5.9 0a2.95 2.95 0 1 0 -5.9 0M141.05 405.54m-2.95 0a2.95 2.95 0 1 0 5.9 0a2.95 2.95 0 1 0 -5.9 0M147.12 404.09m-2.95 0a2.95 2.95 0 1 0 5.9 0a2.95 2.95 0 1 0 -5.9 0M152.91 403.22m-2.95 0a2.95 2.95 0 1 0 5.9 0a2.95 2.95 0 1 0 -5.9 0M158.7 401.49m-2.95 0a2.95 2.95 0 1 0 5.9 0a2.95 2.95 0 1 0 -5.9 0M164.78 400.47m-2.95 0a2.95 2.95 0 1 0 5.9 0a2.95 2.95 0 1 0 -5.9 0M88.24 448.07m-2.95 0a2.95 2.95 0 1 0 5.9 0a2.95 2.95 0 1 0 -5.9 0M96.78 448.51m-2.95 0a2.95 2.95 0 1 0 5.9 0a2.95 2.95 0 1 0 -5.9 0M105.17 452.85m-2.95 0a2.95 2.95 0 1 0 5.9 0a2.95 2.95 0 1 0 -5.9 0M113.56 452.85m-2.95 0a2.95 2.95 0 1 0 5.9 0a2.95 2.95 0 1 0 -5.9 0M122.1 455.02m-2.95 0a2.95 2.95 0 1 0 5.9 0a2.95 2.95 0 1 0 -5.9 0M130.78 456.46m-2.95 0a2.95 2.95 0 1 0 5.9 0a2.95 2.95 0 1 0 -5.9 0M139.17 453.57m-2.95 0a2.95 2.95 0 1 0 5.9 0a2.95 2.95 0 1 0 -5.9 0M147.56 452.85m-2.95 0a2.95 2.95 0 1 0 5.9 0a2.95 2.95 0 1 0 -5.9 0M156.24 451.4m-2.95 0a2.95 2.95 0 1 0 5.9 0a2.95 2.95 0 1 0 -5.9 0M164.78 448.07m-2.95 0a2.95 2.95 0 1 0 5.9 0a2.95 2.95 0 1 0 -5.9 0M90.99 457.48m-2.95 0a2.95 2.95 0 1 0 5.9 0a2.95 2.95 0 1 0 -5.9 0M99.82 461.53m-2.95 0a2.95 2.95 0 1 0 5.9 0a2.95 2.95 0 1 0 -5.9 0M108.79 462.54m-2.95 0a2.95 2.95 0 1 0 5.9 0a2.95 2.95 0 1 0 -5.9 0M117.47 463.26m-2.95 0a2.95 2.95 0 1 0 5.9 0a2.95 2.95 0 1 0 -5.9 0M126.44 465.58m-2.95 0a2.95 2.95 0 1 0 5.9 0a2.95 2.95 0 1 0 -5.9 0M135.26 465.58m-2.95 0a2.95 2.95 0 1 0 5.9 0a2.95 2.95 0 1 0 -5.9 0M143.94 462.69m-2.95 0a2.95 2.95 0 1 0 5.9 0a2.95 2.95 0 1 0 -5.9 0M152.91 461.96m-2.95 0a2.95 2.95 0 1 0 5.9 0a2.95 2.95 0 1 0 -5.9 0M161.59 457.91m-2.95 0a2.95 2.95 0 1 0 5.9 0a2.95 2.95 0 1 0 -5.9 0M113.13 469.48m-2.95 0a2.95 2.95 0 1 0 5.9 0a2.95 2.95 0 1 0 -5.9 0M122.1 470.93m-2.95 0a2.95 2.95 0 1 0 5.9 0a2.95 2.95 0 1 0 -5.9 0M139.6 470.5m-2.95 0a2.95 2.95 0 1 0 5.9 0a2.95 2.95 0 1 0 -5.9 0M130.78 474.98m-2.95 0a2.95 2.95 0 1 0 5.9 0a2.95 2.95 0 1 0 -5.9 0M126.44 487.42m-2.95 0a2.95 2.95 0 1 0 5.9 0a2.95 2.95 0 1 0 -5.9 0M87.81 412.75m-2.9 0a2.9 2.9 0 1 0 5.8 0a2.9 2.9 0 1 0 -5.8 0M90.67 413.24m-2.9 0a2.9 2.9 0 1 0 5.8 0a2.9 2.9 0 1 0 -5.8 0M93.54 414.6m-2.9 0a2.9 2.9 0 1 0 5.8 0a2.9 2.9 0 1 0 -5.8 0M96.41 414.03m-2.9 0a2.9 2.9 0 1 0 5.8 0a2.9 2.9 0 1 0 -5.8 0M99.27 415.47m-2.9 0a2.9 2.9 0 1 0 5.8 0a2.9 2.9 0 1 0 -5.8 0M102.14 416.04m-2.9 0a2.9 2.9 0 1 0 5.8 0a2.9 2.9 0 1 0 -5.8 0M105.01 416.2m-2.9 0a2.9 2.9 0 1 0 5.8 0a2.9 2.9 0 1 0 -5.8 0M107.87 417.09m-2.9 0a2.9 2.9 0 1 0 5.8 0a2.9 2.9 0 1 0 -5.8 0M110.74 417.31m-2.9 0a2.9 2.9 0 1 0 5.8 0a2.9 2.9 0 1 0 -5.8 0M113.61 417.79m-2.9 0a2.9 2.9 0 1 0 5.8 0a2.9 2.9 0 1 0 -5.8 0M116.48 419.02m-2.9 0a2.9 2.9 0 1 0 5.8 0a2.9 2.9 0 1 0 -5.8 0M119.34 418.13m-2.9 0a2.9 2.9 0 1 0 5.8 0a2.9 2.9 0 1 0 -5.8 0M122.21 419.46m-2.9 0a2.9 2.9 0 1 0 5.8 0a2.9 2.9 0 1 0 -5.8 0M125.08 419.5m-2.9 0a2.9 2.9 0 1 0 5.8 0a2.9 2.9 0 1 0 -5.8 0M127.94 419.36m-2.9 0a2.9 2.9 0 1 0 5.8 0a2.9 2.9 0 1 0 -5.8 0M130.81 419.5m-2.9 0a2.9 2.9 0 1 0 5.8 0a2.9 2.9 0 1 0 -5.8 0M133.68 418.39m-2.9 0a2.9 2.9 0 1 0 5.8 0a2.9 2.9 0 1 0 -5.8 0M136.54 418.46m-2.9 0a2.9 2.9 0 1 0 5.8 0a2.9 2.9 0 1 0 -5.8 0M139.41 418.36m-2.9 0a2.9 2.9 0 1 0 5.8 0a2.9 2.9 0 1 0 -5.8 0M142.28 417.01m-2.9 0a2.9 2.9 0 1 0 5.8 0a2.9 2.9 0 1 0 -5.8 0M145.14 417.13m-2.9 0a2.9 2.9 0 1 0 5.8 0a2.9 2.9 0 1 0 -5.8 0M148.01 416.36m-2.9 0a2.9 2.9 0 1 0 5.8 0a2.9 2.9 0 1 0 -5.8 0M150.88 415.7m-2.9 0a2.9 2.9 0 1 0 5.8 0a2.9 2.9 0 1 0 -5.8 0M153.74 415.81m-2.9 0a2.9 2.9 0 1 0 5.8 0a2.9 2.9 0 1 0 -5.8 0M156.61 413.98m-2.9 0a2.9 2.9 0 1 0 5.8 0a2.9 2.9 0 1 0 -5.8 0M159.48 414.34m-2.9 0a2.9 2.9 0 1 0 5.8 0a2.9 2.9 0 1 0 -5.8 0M162.34 413.55m-2.9 0a2.9 2.9 0 1 0 5.8 0a2.9 2.9 0 1 0 -5.8 0M165.21 412.59m-2.9 0a2.9 2.9 0 1 0 5.8 0a2.9 2.9 0 1 0 -5.8 0M87.81 420.26m-2.9 0a2.9 2.9 0 1 0 5.8 0a2.9 2.9 0 1 0 -5.8 0M90.48 421.58m-2.9 0a2.9 2.9 0 1 0 5.8 0a2.9 2.9 0 1 0 -5.8 0M93.15 422.19m-2.9 0a2.9 2.9 0 1 0 5.8 0a2.9 2.9 0 1 0 -5.8 0M95.81 422.04m-2.9 0a2.9 2.9 0 1 0 5.8 0a2.9 2.9 0 1 0 -5.8 0M98.48 423.3m-2.9 0a2.9 2.9 0 1 0 5.8 0a2.9 2.9 0 1 0 -5.8 0M101.15 423.53m-2.9 0a2.9 2.9 0 1 0 5.8 0a2.9 2.9 0 1 0 -5.8 0M103.82 424.07m-2.9 0a2.9 2.9 0 1 0 5.8 0a2.9 2.9 0 1 0 -5.8 0M106.49 425.08m-2.9 0a2.9 2.9 0 1 0 5.8 0a2.9 2.9 0 1 0 -5.8 0M109.16 424.41m-2.9 0a2.9 2.9 0 1 0 5.8 0a2.9 2.9 0 1 0 -5.8 0M111.83 426.06m-2.9 0a2.9 2.9 0 1 0 5.8 0a2.9 2.9 0 1 0 -5.8 0M114.5 426.06m-2.9 0a2.9 2.9 0 1 0 5.8 0a2.9 2.9 0 1 0 -5.8 0M117.17 426.28m-2.9 0a2.9 2.9 0 1 0 5.8 0a2.9 2.9 0 1 0 -5.8 0M119.84 426.99m-2.9 0a2.9 2.9 0 1 0 5.8 0a2.9 2.9 0 1 0 -5.8 0M122.51 426.96m-2.9 0a2.9 2.9 0 1 0 5.8 0a2.9 2.9 0 1 0 -5.8 0M125.17 427.52m-2.9 0a2.9 2.9 0 1 0 5.8 0a2.9 2.9 0 1 0 -5.8 0M127.84 427.86m-2.9 0a2.9 2.9 0 1 0 5.8 0a2.9 2.9 0 1 0 -5.8 0M130.51 426.48m-2.9 0a2.9 2.9 0 1 0 5.8 0a2.9 2.9 0 1 0 -5.8 0M133.18 427.26m-2.9 0a2.9 2.9 0 1 0 5.8 0a2.9 2.9 0 1 0 -5.8 0M135.85 426.38m-2.9 0a2.9 2.9 0 1 0 5.8 0a2.9 2.9 0 1 0 -5.8 0M138.52 425.98m-2.9 0a2.9 2.9 0 1 0 5.8 0a2.9 2.9 0 1 0 -5.8 0M141.19 425.86m-2.9 0a2.9 2.9 0 1 0 5.8 0a2.9 2.9 0 1 0 -5.8 0M143.86 424.62m-2.9 0a2.9 2.9 0 1 0 5.8 0a2.9 2.9 0 1 0 -5.8 0M146.53 424.98m-2.9 0a2.9 2.9 0 1 0 5.8 0a2.9 2.9 0 1 0 -5.8 0M149.2 424.31m-2.9 0a2.9 2.9 0 1 0 5.8 0a2.9 2.9 0 1 0 -5.8 0M151.86 423.2m-2.9 0a2.9 2.9 0 1 0 5.8 0a2.9 2.9 0 1 0 -5.8 0M154.53 423.29m-2.9 0a2.9 2.9 0 1 0 5.8 0a2.9 2.9 0 1 0 -5.8 0M157.2 422.41m-2.9 0a2.9 2.9 0 1 0 5.8 0a2.9 2.9 0 1 0 -5.8 0M159.87 421.9m-2.9 0a2.9 2.9 0 1 0 5.8 0a2.9 2.9 0 1 0 -5.8 0M162.54 421.74m-2.9 0a2.9 2.9 0 1 0 5.8 0a2.9 2.9 0 1 0 -5.8 0M165.21 420m-2.9 0a2.9 2.9 0 1 0 5.8 0a2.9 2.9 0 1 0 -5.8 0M88.53 430.22m-2.9 0a2.9 2.9 0 1 0 5.8 0a2.9 2.9 0 1 0 -5.8 0M91.57 430.94m-2.9 0a2.9 2.9 0 1 0 5.8 0a2.9 2.9 0 1 0 -5.8 0M94.61 431.21m-2.9 0a2.9 2.9 0 1 0 5.8 0a2.9 2.9 0 1 0 -5.8 0M97.65 432.14m-2.9 0a2.9 2.9 0 1 0 5.8 0a2.9 2.9 0 1 0 -5.8 0M100.68 432.39m-2.9 0a2.9 2.9 0 1 0 5.8 0a2.9 2.9 0 1 0 -5.8 0M103.72 432.8m-2.9 0a2.9 2.9 0 1 0 5.8 0a2.9 2.9 0 1 0 -5.8 0M106.76 434.3m-2.9 0a2.9 2.9 0 1 0 5.8 0a2.9 2.9 0 1 0 -5.8 0M109.8 433.57m-2.9 0a2.9 2.9 0 1 0 5.8 0a2.9 2.9 0 1 0 -5.8 0M112.84 434.75m-2.9 0a2.9 2.9 0 1 0 5.8 0a2.9 2.9 0 1 0 -5.8 0M115.88 435.09m-2.9 0a2.9 2.9 0 1 0 5.8 0a2.9 2.9 0 1 0 -5.8 0M118.91 435.28m-2.9 0a2.9 2.9 0 1 0 5.8 0a2.9 2.9 0 1 0 -5.8 0M121.95 436.27m-2.9 0a2.9 2.9 0 1 0 5.8 0a2.9 2.9 0 1 0 -5.8 0M124.99 435.69m-2.9 0a2.9 2.9 0 1 0 5.8 0a2.9 2.9 0 1 0 -5.8 0M128.03 436.06m-2.9 0a2.9 2.9 0 1 0 5.8 0a2.9 2.9 0 1 0 -5.8 0M131.07 436.24m-2.9 0a2.9 2.9 0 1 0 5.8 0a2.9 2.9 0 1 0 -5.8 0M134.1 435.14m-2.9 0a2.9 2.9 0 1 0 5.8 0a2.9 2.9 0 1 0 -5.8 0M137.14 435.16m-2.9 0a2.9 2.9 0 1 0 5.8 0a2.9 2.9 0 1 0 -5.8 0M140.18 434.58m-2.9 0a2.9 2.9 0 1 0 5.8 0a2.9 2.9 0 1 0 -5.8 0M143.22 433.85m-2.9 0a2.9 2.9 0 1 0 5.8 0a2.9 2.9 0 1 0 -5.8 0M146.26 434.29m-2.9 0a2.9 2.9 0 1 0 5.8 0a2.9 2.9 0 1 0 -5.8 0M149.3 432.45m-2.9 0a2.9 2.9 0 1 0 5.8 0a2.9 2.9 0 1 0 -5.8 0M152.33 432.68m-2.9 0a2.9 2.9 0 1 0 5.8 0a2.9 2.9 0 1 0 -5.8 0M155.37 432.1m-2.9 0a2.9 2.9 0 1 0 5.8 0a2.9 2.9 0 1 0 -5.8 0M158.41 431.22m-2.9 0a2.9 2.9 0 1 0 5.8 0a2.9 2.9 0 1 0 -5.8 0M161.45 430.96m-2.9 0a2.9 2.9 0 1 0 5.8 0a2.9 2.9 0 1 0 -5.8 0M164.49 429.93m-2.9 0a2.9 2.9 0 1 0 5.8 0a2.9 2.9 0 1 0 -5.8 0M89.25 438.15m-2.9 0a2.9 2.9 0 1 0 5.8 0a2.9 2.9 0 1 0 -5.8 0M91.82 439.92m-2.9 0a2.9 2.9 0 1 0 5.8 0a2.9 2.9 0 1 0 -5.8 0M94.39 439.9m-2.9 0a2.9 2.9 0 1 0 5.8 0a2.9 2.9 0 1 0 -5.8 0M96.96 440.38m-2.9 0a2.9 2.9 0 1 0 5.8 0a2.9 2.9 0 1 0 -5.8 0M99.53 441.55m-2.9 0a2.9 2.9 0 1 0 5.8 0a2.9 2.9 0 1 0 -5.8 0M102.1 441.78m-2.9 0a2.9 2.9 0 1 0 5.8 0a2.9 2.9 0 1 0 -5.8 0M104.67 442.6m-2.9 0a2.9 2.9 0 1 0 5.8 0a2.9 2.9 0 1 0 -5.8 0M107.24 443.29m-2.9 0a2.9 2.9 0 1 0 5.8 0a2.9 2.9 0 1 0 -5.8 0M109.81 442.98m-2.9 0a2.9 2.9 0 1 0 5.8 0a2.9 2.9 0 1 0 -5.8 0M112.38 444.84m-2.9 0a2.9 2.9 0 1 0 5.8 0a2.9 2.9 0 1 0 -5.8 0M114.95 444.41m-2.9 0a2.9 2.9 0 1 0 5.8 0a2.9 2.9 0 1 0 -5.8 0M117.52 445.07m-2.9 0a2.9 2.9 0 1 0 5.8 0a2.9 2.9 0 1 0 -5.8 0M120.09 445.68m-2.9 0a2.9 2.9 0 1 0 5.8 0a2.9 2.9 0 1 0 -5.8 0M122.65 445.67m-2.9 0a2.9 2.9 0 1 0 5.8 0a2.9 2.9 0 1 0 -5.8 0M125.22 446.58m-2.9 0a2.9 2.9 0 1 0 5.8 0a2.9 2.9 0 1 0 -5.8 0M127.79 446.28m-2.9 0a2.9 2.9 0 1 0 5.8 0a2.9 2.9 0 1 0 -5.8 0M130.36 445.43m-2.9 0a2.9 2.9 0 1 0 5.8 0a2.9 2.9 0 1 0 -5.8 0M132.93 446.06m-2.9 0a2.9 2.9 0 1 0 5.8 0a2.9 2.9 0 1 0 -5.8 0M135.5 444.94m-2.9 0a2.9 2.9 0 1 0 5.8 0a2.9 2.9 0 1 0 -5.8 0M138.07 444.68m-2.9 0a2.9 2.9 0 1 0 5.8 0a2.9 2.9 0 1 0 -5.8 0M140.64 444.32m-2.9 0a2.9 2.9 0 1 0 5.8 0a2.9 2.9 0 1 0 -5.8 0M143.21 443.11m-2.9 0a2.9 2.9 0 1 0 5.8 0a2.9 2.9 0 1 0 -5.8 0M145.78 443.71m-2.9 0a2.9 2.9 0 1 0 5.8 0a2.9 2.9 0 1 0 -5.8 0M148.35 442.3m-2.9 0a2.9 2.9 0 1 0 5.8 0a2.9 2.9 0 1 0 -5.8 0M150.92 441.7m-2.9 0a2.9 2.9 0 1 0 5.8 0a2.9 2.9 0 1 0 -5.8 0M153.49 441.53m-2.9 0a2.9 2.9 0 1 0 5.8 0a2.9 2.9 0 1 0 -5.8 0M156.05 440.52m-2.9 0a2.9 2.9 0 1 0 5.8 0a2.9 2.9 0 1 0 -5.8 0M158.62 440.14m-2.9 0a2.9 2.9 0 1 0 5.8 0a2.9 2.9 0 1 0 -5.8 0M161.19 439.49m-2.9 0a2.9 2.9 0 1 0 5.8 0a2.9 2.9 0 1 0 -5.8 0M163.76 438.05m-2.9 0a2.9 2.9 0 1 0 5.8 0a2.9 2.9 0 1 0 -5.8 0" fill="#000"/>
<path d="M84.8 424.92H168.4M126.6 400.76V449.23M105.1 400.76H148.1M105.1 449.23H148.1" fill="none" stroke="#fff" stroke-opacity="0.65" stroke-width="2.45"/>
<path d="M84.8 424.92H168.4M126.6 400.76V449.23M105.1 400.76H148.1M105.1 449.23H148.1" fill="none" stroke="#000" stroke-width="1.8"/>
<path d="M244.77 347.3l2.75 -2.75l2.75 2.75l-2.75 2.75zM253.74 352.65l2.75 -2.75l2.75 2.75l-2.75 2.75zM262.71 356.27l2.75 -2.75l2.75 2.75l-2.75 2.75zM231.6 359.16l2.75 -2.75l2.75 2.75l-2.75 2.75zM240.43 362.49l2.75 -2.75l2.75 2.75l-2.75 2.75zM253.74 361.77l2.75 -2.75l2.75 2.75l-2.75 2.75zM236.09 365.67l2.75 -2.75l2.75 2.75l-2.75 2.75zM262.71 369.43l2.75 -2.75l2.75 2.75l-2.75 2.75zM244.77 371.46l2.75 -2.75l2.75 2.75l-2.75 2.75zM253.74 372.62l2.75 -2.75l2.75 2.75l-2.75 2.75zM212.79 375.94l2.75 -2.75l2.75 2.75l-2.75 2.75zM217.28 376.96l2.75 -2.75l2.75 2.75l-2.75 2.75zM221.91 378.69l2.75 -2.75l2.75 2.75l-2.75 2.75zM226.54 378.4l2.75 -2.75l2.75 2.75l-2.75 2.75zM231.02 381.3l2.75 -2.75l2.75 2.75l-2.75 2.75zM235.65 382.02l2.75 -2.75l2.75 2.75l-2.75 2.75zM240.28 383.18l2.75 -2.75l2.75 2.75l-2.75 2.75zM244.77 383.9l2.75 -2.75l2.75 2.75l-2.75 2.75zM249.4 384.91l2.75 -2.75l2.75 2.75l-2.75 2.75zM254.03 384.62l2.75 -2.75l2.75 2.75l-2.75 2.75zM258.51 383.76l2.75 -2.75l2.75 2.75l-2.75 2.75zM263.14 382.45l2.75 -2.75l2.75 2.75l-2.75 2.75zM267.48 381.3l2.75 -2.75l2.75 2.75l-2.75 2.75zM272.11 381.01l2.75 -2.75l2.75 2.75l-2.75 2.75zM276.6 378.69l2.75 -2.75l2.75 2.75l-2.75 2.75zM281.23 377.97l2.75 -2.75l2.75 2.75l-2.75 2.75zM285.86 376.96l2.75 -2.75l2.75 2.75l-2.75 2.75zM211.06 385.93l2.75 -2.75l2.75 2.75l-2.75 2.75zM219.74 390.27l2.75 -2.75l2.75 2.75l-2.75 2.75zM228.13 391.42l2.75 -2.75l2.75 2.75l-2.75 2.75zM236.67 392.44l2.75 -2.75l2.75 2.75l-2.75 2.75zM245.06 394.03l2.75 -2.75l2.75 2.75l-2.75 2.75zM253.74 394.03l2.75 -2.75l2.75 2.75l-2.75 2.75zM262.13 393.16l2.75 -2.75l2.75 2.75l-2.75 2.75zM270.66 392.44l2.75 -2.75l2.75 2.75l-2.75 2.75zM279.06 390.27l2.75 -2.75l2.75 2.75l-2.75 2.75zM287.74 386.36l2.75 -2.75l2.75 2.75l-2.75 2.75zM212.07 396.05l2.75 -2.75l2.75 2.75l-2.75 2.75zM218.29 396.92l2.75 -2.75l2.75 2.75l-2.75 2.75zM224.51 398.37l2.75 -2.75l2.75 2.75l-2.75 2.75zM230.88 400.54l2.75 -2.75l2.75 2.75l-2.75 2.75zM237.1 400.83l2.75 -2.75l2.75 2.75l-2.75 2.75zM242.89 401.26l2.75 -2.75l2.75 2.75l-2.75 2.75zM245.06 403l2.75 -2.75l2.75 2.75l-2.75 2.75zM253.74 403l2.75 -2.75l2.75 2.75l-2.75 2.75zM255.47 401.55l2.75 -2.75l2.75 2.75l-2.75 2.75zM261.69 400.54l2.75 -2.75l2.75 2.75l-2.75 2.75zM267.92 400.83l2.75 -2.75l2.75 2.75l-2.75 2.75zM274.28 399.09l2.75 -2.75l2.75 2.75l-2.75 2.75zM280.5 398.22l2.75 -2.75l2.75 2.75l-2.75 2.75zM286.58 396.05l2.75 -2.75l2.75 2.75l-2.75 2.75zM211.78 443.22l2.75 -2.75l2.75 2.75l-2.75 2.75zM219.3 442.78l2.75 -2.75l2.75 2.75l-2.75 2.75zM226.97 445.68l2.75 -2.75l2.75 2.75l-2.75 2.75zM234.5 447.12l2.75 -2.75l2.75 2.75l-2.75 2.75zM241.87 448.28l2.75 -2.75l2.75 2.75l-2.75 2.75zM249.4 449.29l2.75 -2.75l2.75 2.75l-2.75 2.75zM256.92 447.12l2.75 -2.75l2.75 2.75l-2.75 2.75zM264.3 445.97l2.75 -2.75l2.75 2.75l-2.75 2.75zM271.82 445.24l2.75 -2.75l2.75 2.75l-2.75 2.75zM279.49 443.22l2.75 -2.75l2.75 2.75l-2.75 2.75zM287.01 441.34l2.75 -2.75l2.75 2.75l-2.75 2.75zM213.95 450.31l2.75 -2.75l2.75 2.75l-2.75 2.75zM222.92 454.65l2.75 -2.75l2.75 2.75l-2.75 2.75zM231.75 457.25l2.75 -2.75l2.75 2.75l-2.75 2.75zM240.43 457.54l2.75 -2.75l2.75 2.75l-2.75 2.75zM249.4 458.41l2.75 -2.75l2.75 2.75l-2.75 2.75zM258.08 457.97l2.75 -2.75l2.75 2.75l-2.75 2.75zM267.05 457.54l2.75 -2.75l2.75 2.75l-2.75 2.75zM275.87 455.8l2.75 -2.75l2.75 2.75l-2.75 2.75zM284.84 454.36l2.75 -2.75l2.75 2.75l-2.75 2.75zM213.08 404.72l2.9 -2.9l2.9 2.9l-2.9 2.9zM216.54 405.14l2.9 -2.9l2.9 2.9l-2.9 2.9zM220.01 406.32l2.9 -2.9l2.9 2.9l-2.9 2.9zM223.47 406.94l2.9 -2.9l2.9 2.9l-2.9 2.9zM226.94 407.48l2.9 -2.9l2.9 2.9l-2.9 2.9zM230.4 409.28l2.9 -2.9l2.9 2.9l-2.9 2.9zM233.87 408.69l2.9 -2.9l2.9 2.9l-2.9 2.9zM237.34 410.09l2.9 -2.9l2.9 2.9l-2.9 2.9zM240.8 410.63l2.9 -2.9l2.9 2.9l-2.9 2.9zM244.27 410.95l2.9 -2.9l2.9 2.9l-2.9 2.9zM247.73 411.89l2.9 -2.9l2.9 2.9l-2.9 2.9zM251.2 411.22l2.9 -2.9l2.9 2.9l-2.9 2.9zM254.66 410.96l2.9 -2.9l2.9 2.9l-2.9 2.9zM258.13 411.08l2.9 -2.9l2.9 2.9l-2.9 2.9zM261.59 409.55l2.9 -2.9l2.9 2.9l-2.9 2.9zM265.06 409.4l2.9 -2.9l2.9 2.9l-2.9 2.9zM268.52 408.56l2.9 -2.9l2.9 2.9l-2.9 2.9zM271.99 407.55l2.9 -2.9l2.9 2.9l-2.9 2.9zM275.45 407.63l2.9 -2.9l2.9 2.9l-2.9 2.9zM278.92 405.6l2.9 -2.9l2.9 2.9l-2.9 2.9zM282.38 405.43l2.9 -2.9l2.9 2.9l-2.9 2.9zM285.85 404.66l2.9 -2.9l2.9 2.9l-2.9 2.9zM212.35 413.6l2.9 -2.9l2.9 2.9l-2.9 2.9zM214.73 413.81l2.9 -2.9l2.9 2.9l-2.9 2.9zM217.11 414.17l2.9 -2.9l2.9 2.9l-2.9 2.9zM219.5 415.58l2.9 -2.9l2.9 2.9l-2.9 2.9zM221.88 415.78l2.9 -2.9l2.9 2.9l-2.9 2.9zM224.26 416.62l2.9 -2.9l2.9 2.9l-2.9 2.9zM226.64 417.43l2.9 -2.9l2.9 2.9l-2.9 2.9zM229.02 417.19l2.9 -2.9l2.9 2.9l-2.9 2.9zM231.4 419.1l2.9 -2.9l2.9 2.9l-2.9 2.9zM233.78 418.77l2.9 -2.9l2.9 2.9l-2.9 2.9zM236.16 419.44l2.9 -2.9l2.9 2.9l-2.9 2.9zM238.54 420.21l2.9 -2.9l2.9 2.9l-2.9 2.9zM240.92 420.35l2.9 -2.9l2.9 2.9l-2.9 2.9zM243.3 421.23l2.9 -2.9l2.9 2.9l-2.9 2.9zM245.68 421.5l2.9 -2.9l2.9 2.9l-2.9 2.9zM248.06 421.12l2.9 -2.9l2.9 2.9l-2.9 2.9zM250.44 422.29l2.9 -2.9l2.9 2.9l-2.9 2.9zM252.82 421.17l2.9 -2.9l2.9 2.9l-2.9 2.9zM255.2 421l2.9 -2.9l2.9 2.9l-2.9 2.9zM257.58 420.69l2.9 -2.9l2.9 2.9l-2.9 2.9zM259.96 419.62l2.9 -2.9l2.9 2.9l-2.9 2.9zM262.34 420.09l2.9 -2.9l2.9 2.9l-2.9 2.9zM264.72 418.87l2.9 -2.9l2.9 2.9l-2.9 2.9zM267.1 418.12l2.9 -2.9l2.9 2.9l-2.9 2.9zM269.48 418.14l2.9 -2.9l2.9 2.9l-2.9 2.9zM271.86 417.07l2.9 -2.9l2.9 2.9l-2.9 2.9zM274.24 416.65l2.9 -2.9l2.9 2.9l-2.9 2.9zM276.62 416.09l2.9 -2.9l2.9 2.9l-2.9 2.9zM279 414.62l2.9 -2.9l2.9 2.9l-2.9 2.9zM281.38 415.26l2.9 -2.9l2.9 2.9l-2.9 2.9zM283.76 413.55l2.9 -2.9l2.9 2.9l-2.9 2.9zM286.14 413.06l2.9 -2.9l2.9 2.9l-2.9 2.9zM211.63 422.61l2.9 -2.9l2.9 2.9l-2.9 2.9zM214.9 423.8l2.9 -2.9l2.9 2.9l-2.9 2.9zM218.17 424.78l2.9 -2.9l2.9 2.9l-2.9 2.9zM221.44 425.03l2.9 -2.9l2.9 2.9l-2.9 2.9zM224.71 427.09l2.9 -2.9l2.9 2.9l-2.9 2.9zM227.99 426.88l2.9 -2.9l2.9 2.9l-2.9 2.9zM231.26 427.88l2.9 -2.9l2.9 2.9l-2.9 2.9zM234.53 428.92l2.9 -2.9l2.9 2.9l-2.9 2.9zM237.8 429.27l2.9 -2.9l2.9 2.9l-2.9 2.9zM241.07 430.24l2.9 -2.9l2.9 2.9l-2.9 2.9zM244.34 430.65l2.9 -2.9l2.9 2.9l-2.9 2.9zM247.61 430.53l2.9 -2.9l2.9 2.9l-2.9 2.9zM250.88 431.76l2.9 -2.9l2.9 2.9l-2.9 2.9zM254.15 430.27l2.9 -2.9l2.9 2.9l-2.9 2.9zM257.42 430.08l2.9 -2.9l2.9 2.9l-2.9 2.9zM260.7 429.51l2.9 -2.9l2.9 2.9l-2.9 2.9zM263.97 428.43l2.9 -2.9l2.9 2.9l-2.9 2.9zM267.24 428.48l2.9 -2.9l2.9 2.9l-2.9 2.9zM270.51 427.01l2.9 -2.9l2.9 2.9l-2.9 2.9zM273.78 426.09l2.9 -2.9l2.9 2.9l-2.9 2.9zM277.05 425.98l2.9 -2.9l2.9 2.9l-2.9 2.9zM280.32 424.46l2.9 -2.9l2.9 2.9l-2.9 2.9zM283.59 423.82l2.9 -2.9l2.9 2.9l-2.9 2.9zM286.86 422.91l2.9 -2.9l2.9 2.9l-2.9 2.9zM210.18 433.74l2.9 -2.9l2.9 2.9l-2.9 2.9zM213.87 433.58l2.9 -2.9l2.9 2.9l-2.9 2.9zM217.56 434.81l2.9 -2.9l2.9 2.9l-2.9 2.9zM221.24 436.02l2.9 -2.9l2.9 2.9l-2.9 2.9zM224.93 436.42l2.9 -2.9l2.9 2.9l-2.9 2.9zM228.61 437.51l2.9 -2.9l2.9 2.9l-2.9 2.9zM232.3 438.1l2.9 -2.9l2.9 2.9l-2.9 2.9zM235.99 438.38l2.9 -2.9l2.9 2.9l-2.9 2.9zM239.67 440.19l2.9 -2.9l2.9 2.9l-2.9 2.9zM243.36 439.52l2.9 -2.9l2.9 2.9l-2.9 2.9zM247.04 440.54l2.9 -2.9l2.9 2.9l-2.9 2.9zM250.73 440.55l2.9 -2.9l2.9 2.9l-2.9 2.9zM254.41 439.82l2.9 -2.9l2.9 2.9l-2.9 2.9zM258.1 439.83l2.9 -2.9l2.9 2.9l-2.9 2.9zM261.79 438.56l2.9 -2.9l2.9 2.9l-2.9 2.9zM265.47 437.85l2.9 -2.9l2.9 2.9l-2.9 2.9zM269.16 437.9l2.9 -2.9l2.9 2.9l-2.9 2.9zM272.84 436.25l2.9 -2.9l2.9 2.9l-2.9 2.9zM276.53 435.84l2.9 -2.9l2.9 2.9l-2.9 2.9zM280.21 434.93l2.9 -2.9l2.9 2.9l-2.9 2.9zM283.9 433.66l2.9 -2.9l2.9 2.9l-2.9 2.9zM287.59 433.76l2.9 -2.9l2.9 2.9l-2.9 2.9z" fill="#9b9b9b"/>
<path d="M210.4 413.12H294M252.2 388.96V437.43M230.7 388.96H273.7M230.7 437.43H273.7" fill="none" stroke="#9b9b9b" stroke-width="1.8"/>
<path d="M124.1 323.9H247.6M124.1 318.1V329.7M247.6 318.1V329.7" fill="none" stroke="#000" stroke-width="2.1"/>
<text x="188.8" y="323.1" font-family='"Liberation Sans", sans-serif' font-weight="bold" font-size="16" style="stroke:none" text-anchor="middle">*</text>
<path d="M437.6 311.15V508.25H731M430.4 508.25H439M430.4 459.32H437.6M430.4 410.4H437.6M430.4 361.48H437.6M430.4 312.55H439M521.5 508.25V516.35M647.1 508.25V516.35" fill="none" stroke="#000" stroke-width="2.8" stroke-linejoin="miter"/>
<g font-family='"Liberation Serif", serif' font-weight="bold" font-size="16.3" text-anchor="end">
<text x="429.6" y="513.8">0.0</text>
<text x="429.6" y="464.88">0.2</text>
<text x="429.6" y="415.95">0.4</text>
<text x="429.6" y="367.03">0.6</text>
<text x="429.6" y="318.1">0.8</text>
</g>
<g font-family='"Liberation Serif", serif' font-weight="bold" font-size="16.1" text-anchor="end">
<text transform="translate(524.9 526.25) rotate(-45)">MSA</text>
<text transform="translate(650.5 526.25) rotate(-45)">HC</text>
</g>
<text transform="translate(401.8 410) rotate(-90)" text-anchor="middle" font-weight="bold" font-size="16"><tspan font-family='"Liberation Serif", serif'>Monocyte, 10</tspan><tspan font-family='"Liberation Serif", serif' font-size="11.5" dy="-6">9</tspan><tspan font-family='"Liberation Serif", serif' dy="6">/L</tspan></text>
<path d="M521.15 337.3m-2.95 0a2.95 2.95 0 1 0 5.9 0a2.95 2.95 0 1 0 -5.9 0M499.16 347.14m-2.95 0a2.95 2.95 0 1 0 5.9 0a2.95 2.95 0 1 0 -5.9 0M529.83 347.14m-2.95 0a2.95 2.95 0 1 0 5.9 0a2.95 2.95 0 1 0 -5.9 0M538.8 347.14m-2.95 0a2.95 2.95 0 1 0 5.9 0a2.95 2.95 0 1 0 -5.9 0M507.84 351.77m-2.95 0a2.95 2.95 0 1 0 5.9 0a2.95 2.95 0 1 0 -5.9 0M521.15 354.37m-2.95 0a2.95 2.95 0 1 0 5.9 0a2.95 2.95 0 1 0 -5.9 0M512.47 356.83m-2.95 0a2.95 2.95 0 1 0 5.9 0a2.95 2.95 0 1 0 -5.9 0M529.83 359.29m-2.95 0a2.95 2.95 0 1 0 5.9 0a2.95 2.95 0 1 0 -5.9 0M521.15 364.06m-2.95 0a2.95 2.95 0 1 0 5.9 0a2.95 2.95 0 1 0 -5.9 0M499.16 371.59m-2.95 0a2.95 2.95 0 1 0 5.9 0a2.95 2.95 0 1 0 -5.9 0M543.14 373.76m-2.95 0a2.95 2.95 0 1 0 5.9 0a2.95 2.95 0 1 0 -5.9 0M507.84 376.07m-2.95 0a2.95 2.95 0 1 0 5.9 0a2.95 2.95 0 1 0 -5.9 0M534.46 376.07m-2.95 0a2.95 2.95 0 1 0 5.9 0a2.95 2.95 0 1 0 -5.9 0M516.81 378.82m-2.95 0a2.95 2.95 0 1 0 5.9 0a2.95 2.95 0 1 0 -5.9 0M525.49 378.82m-2.95 0a2.95 2.95 0 1 0 5.9 0a2.95 2.95 0 1 0 -5.9 0M494.82 381.42m-2.95 0a2.95 2.95 0 1 0 5.9 0a2.95 2.95 0 1 0 -5.9 0M547.62 381.42m-2.95 0a2.95 2.95 0 1 0 5.9 0a2.95 2.95 0 1 0 -5.9 0M503.5 383.88m-2.95 0a2.95 2.95 0 1 0 5.9 0a2.95 2.95 0 1 0 -5.9 0M512.47 383.88m-2.95 0a2.95 2.95 0 1 0 5.9 0a2.95 2.95 0 1 0 -5.9 0M538.8 383.88m-2.95 0a2.95 2.95 0 1 0 5.9 0a2.95 2.95 0 1 0 -5.9 0M529.83 386.05m-2.95 0a2.95 2.95 0 1 0 5.9 0a2.95 2.95 0 1 0 -5.9 0M521.15 388.66m-2.95 0a2.95 2.95 0 1 0 5.9 0a2.95 2.95 0 1 0 -5.9 0M516.81 390.83m-2.95 0a2.95 2.95 0 1 0 5.9 0a2.95 2.95 0 1 0 -5.9 0M525.49 390.83m-2.95 0a2.95 2.95 0 1 0 5.9 0a2.95 2.95 0 1 0 -5.9 0M483.53 400.67m-2.95 0a2.95 2.95 0 1 0 5.9 0a2.95 2.95 0 1 0 -5.9 0M491.05 403.12m-2.95 0a2.95 2.95 0 1 0 5.9 0a2.95 2.95 0 1 0 -5.9 0M498.72 406.02m-2.95 0a2.95 2.95 0 1 0 5.9 0a2.95 2.95 0 1 0 -5.9 0M505.96 408.19m-2.95 0a2.95 2.95 0 1 0 5.9 0a2.95 2.95 0 1 0 -5.9 0M513.62 408.19m-2.95 0a2.95 2.95 0 1 0 5.9 0a2.95 2.95 0 1 0 -5.9 0M521.15 408.19m-2.95 0a2.95 2.95 0 1 0 5.9 0a2.95 2.95 0 1 0 -5.9 0M527.66 408.19m-2.95 0a2.95 2.95 0 1 0 5.9 0a2.95 2.95 0 1 0 -5.9 0M535.9 408.19m-2.95 0a2.95 2.95 0 1 0 5.9 0a2.95 2.95 0 1 0 -5.9 0M543.57 406.02m-2.95 0a2.95 2.95 0 1 0 5.9 0a2.95 2.95 0 1 0 -5.9 0M551.24 403.12m-2.95 0a2.95 2.95 0 1 0 5.9 0a2.95 2.95 0 1 0 -5.9 0M558.76 400.67m-2.95 0a2.95 2.95 0 1 0 5.9 0a2.95 2.95 0 1 0 -5.9 0M516.81 412.96m-2.95 0a2.95 2.95 0 1 0 5.9 0a2.95 2.95 0 1 0 -5.9 0M525.49 410.79m-2.95 0a2.95 2.95 0 1 0 5.9 0a2.95 2.95 0 1 0 -5.9 0M490.04 459.26m-2.95 0a2.95 2.95 0 1 0 5.9 0a2.95 2.95 0 1 0 -5.9 0M499.16 462.01m-2.95 0a2.95 2.95 0 1 0 5.9 0a2.95 2.95 0 1 0 -5.9 0M507.84 464.61m-2.95 0a2.95 2.95 0 1 0 5.9 0a2.95 2.95 0 1 0 -5.9 0M516.81 467.07m-2.95 0a2.95 2.95 0 1 0 5.9 0a2.95 2.95 0 1 0 -5.9 0M525.49 466.78m-2.95 0a2.95 2.95 0 1 0 5.9 0a2.95 2.95 0 1 0 -5.9 0M529.83 469.39m-2.95 0a2.95 2.95 0 1 0 5.9 0a2.95 2.95 0 1 0 -5.9 0M534.46 464.61m-2.95 0a2.95 2.95 0 1 0 5.9 0a2.95 2.95 0 1 0 -5.9 0M543.14 462.01m-2.95 0a2.95 2.95 0 1 0 5.9 0a2.95 2.95 0 1 0 -5.9 0M551.96 459.55m-2.95 0a2.95 2.95 0 1 0 5.9 0a2.95 2.95 0 1 0 -5.9 0M512.47 474.02m-2.95 0a2.95 2.95 0 1 0 5.9 0a2.95 2.95 0 1 0 -5.9 0M521.15 476.91m-2.95 0a2.95 2.95 0 1 0 5.9 0a2.95 2.95 0 1 0 -5.9 0M521.15 486.31m-2.95 0a2.95 2.95 0 1 0 5.9 0a2.95 2.95 0 1 0 -5.9 0M487.15 390.84m-2.9 0a2.9 2.9 0 1 0 5.8 0a2.9 2.9 0 1 0 -5.8 0M492.38 393.29m-2.9 0a2.9 2.9 0 1 0 5.8 0a2.9 2.9 0 1 0 -5.8 0M497.61 393.29m-2.9 0a2.9 2.9 0 1 0 5.8 0a2.9 2.9 0 1 0 -5.8 0M502.84 395.73m-2.9 0a2.9 2.9 0 1 0 5.8 0a2.9 2.9 0 1 0 -5.8 0M508.07 395.73m-2.9 0a2.9 2.9 0 1 0 5.8 0a2.9 2.9 0 1 0 -5.8 0M513.3 398.18m-2.9 0a2.9 2.9 0 1 0 5.8 0a2.9 2.9 0 1 0 -5.8 0M518.53 398.18m-2.9 0a2.9 2.9 0 1 0 5.8 0a2.9 2.9 0 1 0 -5.8 0M523.76 398.18m-2.9 0a2.9 2.9 0 1 0 5.8 0a2.9 2.9 0 1 0 -5.8 0M528.99 398.18m-2.9 0a2.9 2.9 0 1 0 5.8 0a2.9 2.9 0 1 0 -5.8 0M534.22 395.73m-2.9 0a2.9 2.9 0 1 0 5.8 0a2.9 2.9 0 1 0 -5.8 0M539.45 395.73m-2.9 0a2.9 2.9 0 1 0 5.8 0a2.9 2.9 0 1 0 -5.8 0M544.68 393.29m-2.9 0a2.9 2.9 0 1 0 5.8 0a2.9 2.9 0 1 0 -5.8 0M549.92 393.29m-2.9 0a2.9 2.9 0 1 0 5.8 0a2.9 2.9 0 1 0 -5.8 0M555.15 390.84m-2.9 0a2.9 2.9 0 1 0 5.8 0a2.9 2.9 0 1 0 -5.8 0M485.7 412.86m-2.9 0a2.9 2.9 0 1 0 5.8 0a2.9 2.9 0 1 0 -5.8 0M488.54 412.86m-2.9 0a2.9 2.9 0 1 0 5.8 0a2.9 2.9 0 1 0 -5.8 0M491.37 412.86m-2.9 0a2.9 2.9 0 1 0 5.8 0a2.9 2.9 0 1 0 -5.8 0M494.21 415.3m-2.9 0a2.9 2.9 0 1 0 5.8 0a2.9 2.9 0 1 0 -5.8 0M497.04 415.3m-2.9 0a2.9 2.9 0 1 0 5.8 0a2.9 2.9 0 1 0 -5.8 0M499.88 415.3m-2.9 0a2.9 2.9 0 1 0 5.8 0a2.9 2.9 0 1 0 -5.8 0M502.72 415.3m-2.9 0a2.9 2.9 0 1 0 5.8 0a2.9 2.9 0 1 0 -5.8 0M505.55 417.75m-2.9 0a2.9 2.9 0 1 0 5.8 0a2.9 2.9 0 1 0 -5.8 0M508.39 417.75m-2.9 0a2.9 2.9 0 1 0 5.8 0a2.9 2.9 0 1 0 -5.8 0M511.22 417.75m-2.9 0a2.9 2.9 0 1 0 5.8 0a2.9 2.9 0 1 0 -5.8 0M514.06 417.75m-2.9 0a2.9 2.9 0 1 0 5.8 0a2.9 2.9 0 1 0 -5.8 0M516.89 420.19m-2.9 0a2.9 2.9 0 1 0 5.8 0a2.9 2.9 0 1 0 -5.8 0M519.73 420.19m-2.9 0a2.9 2.9 0 1 0 5.8 0a2.9 2.9 0 1 0 -5.8 0M522.56 420.19m-2.9 0a2.9 2.9 0 1 0 5.8 0a2.9 2.9 0 1 0 -5.8 0M525.4 420.19m-2.9 0a2.9 2.9 0 1 0 5.8 0a2.9 2.9 0 1 0 -5.8 0M528.24 417.75m-2.9 0a2.9 2.9 0 1 0 5.8 0a2.9 2.9 0 1 0 -5.8 0M531.07 417.75m-2.9 0a2.9 2.9 0 1 0 5.8 0a2.9 2.9 0 1 0 -5.8 0M533.91 417.75m-2.9 0a2.9 2.9 0 1 0 5.8 0a2.9 2.9 0 1 0 -5.8 0M536.74 417.75m-2.9 0a2.9 2.9 0 1 0 5.8 0a2.9 2.9 0 1 0 -5.8 0M539.58 415.3m-2.9 0a2.9 2.9 0 1 0 5.8 0a2.9 2.9 0 1 0 -5.8 0M542.41 415.3m-2.9 0a2.9 2.9 0 1 0 5.8 0a2.9 2.9 0 1 0 -5.8 0M545.25 415.3m-2.9 0a2.9 2.9 0 1 0 5.8 0a2.9 2.9 0 1 0 -5.8 0M548.09 415.3m-2.9 0a2.9 2.9 0 1 0 5.8 0a2.9 2.9 0 1 0 -5.8 0M550.92 412.86m-2.9 0a2.9 2.9 0 1 0 5.8 0a2.9 2.9 0 1 0 -5.8 0M553.76 412.86m-2.9 0a2.9 2.9 0 1 0 5.8 0a2.9 2.9 0 1 0 -5.8 0M556.59 412.86m-2.9 0a2.9 2.9 0 1 0 5.8 0a2.9 2.9 0 1 0 -5.8 0M483.53 420.19m-2.9 0a2.9 2.9 0 1 0 5.8 0a2.9 2.9 0 1 0 -5.8 0M486.32 420.19m-2.9 0a2.9 2.9 0 1 0 5.8 0a2.9 2.9 0 1 0 -5.8 0M489.1 422.64m-2.9 0a2.9 2.9 0 1 0 5.8 0a2.9 2.9 0 1 0 -5.8 0M491.89 422.64m-2.9 0a2.9 2.9 0 1 0 5.8 0a2.9 2.9 0 1 0 -5.8 0M494.68 422.64m-2.9 0a2.9 2.9 0 1 0 5.8 0a2.9 2.9 0 1 0 -5.8 0M497.46 425.09m-2.9 0a2.9 2.9 0 1 0 5.8 0a2.9 2.9 0 1 0 -5.8 0M500.25 425.09m-2.9 0a2.9 2.9 0 1 0 5.8 0a2.9 2.9 0 1 0 -5.8 0M503.04 425.09m-2.9 0a2.9 2.9 0 1 0 5.8 0a2.9 2.9 0 1 0 -5.8 0M505.82 425.09m-2.9 0a2.9 2.9 0 1 0 5.8 0a2.9 2.9 0 1 0 -5.8 0M508.61 427.53m-2.9 0a2.9 2.9 0 1 0 5.8 0a2.9 2.9 0 1 0 -5.8 0M511.39 427.53m-2.9 0a2.9 2.9 0 1 0 5.8 0a2.9 2.9 0 1 0 -5.8 0M514.18 427.53m-2.9 0a2.9 2.9 0 1 0 5.8 0a2.9 2.9 0 1 0 -5.8 0M516.97 427.53m-2.9 0a2.9 2.9 0 1 0 5.8 0a2.9 2.9 0 1 0 -5.8 0M519.75 427.53m-2.9 0a2.9 2.9 0 1 0 5.8 0a2.9 2.9 0 1 0 -5.8 0M522.54 427.53m-2.9 0a2.9 2.9 0 1 0 5.8 0a2.9 2.9 0 1 0 -5.8 0M525.33 427.53m-2.9 0a2.9 2.9 0 1 0 5.8 0a2.9 2.9 0 1 0 -5.8 0M528.11 427.53m-2.9 0a2.9 2.9 0 1 0 5.8 0a2.9 2.9 0 1 0 -5.8 0M530.9 427.53m-2.9 0a2.9 2.9 0 1 0 5.8 0a2.9 2.9 0 1 0 -5.8 0M533.69 427.53m-2.9 0a2.9 2.9 0 1 0 5.8 0a2.9 2.9 0 1 0 -5.8 0M536.47 425.09m-2.9 0a2.9 2.9 0 1 0 5.8 0a2.9 2.9 0 1 0 -5.8 0M539.26 425.09m-2.9 0a2.9 2.9 0 1 0 5.8 0a2.9 2.9 0 1 0 -5.8 0M542.04 425.09m-2.9 0a2.9 2.9 0 1 0 5.8 0a2.9 2.9 0 1 0 -5.8 0M544.83 425.09m-2.9 0a2.9 2.9 0 1 0 5.8 0a2.9 2.9 0 1 0 -5.8 0M547.62 422.64m-2.9 0a2.9 2.9 0 1 0 5.8 0a2.9 2.9 0 1 0 -5.8 0M550.4 422.64m-2.9 0a2.9 2.9 0 1 0 5.8 0a2.9 2.9 0 1 0 -5.8 0M553.19 422.64m-2.9 0a2.9 2.9 0 1 0 5.8 0a2.9 2.9 0 1 0 -5.8 0M555.98 420.19m-2.9 0a2.9 2.9 0 1 0 5.8 0a2.9 2.9 0 1 0 -5.8 0M558.76 420.19m-2.9 0a2.9 2.9 0 1 0 5.8 0a2.9 2.9 0 1 0 -5.8 0M484.98 429.98m-2.9 0a2.9 2.9 0 1 0 5.8 0a2.9 2.9 0 1 0 -5.8 0M487.68 429.98m-2.9 0a2.9 2.9 0 1 0 5.8 0a2.9 2.9 0 1 0 -5.8 0M490.39 432.42m-2.9 0a2.9 2.9 0 1 0 5.8 0a2.9 2.9 0 1 0 -5.8 0M493.1 432.42m-2.9 0a2.9 2.9 0 1 0 5.8 0a2.9 2.9 0 1 0 -5.8 0M495.8 432.42m-2.9 0a2.9 2.9 0 1 0 5.8 0a2.9 2.9 0 1 0 -5.8 0M498.51 434.87m-2.9 0a2.9 2.9 0 1 0 5.8 0a2.9 2.9 0 1 0 -5.8 0M501.21 434.87m-2.9 0a2.9 2.9 0 1 0 5.8 0a2.9 2.9 0 1 0 -5.8 0M503.92 434.87m-2.9 0a2.9 2.9 0 1 0 5.8 0a2.9 2.9 0 1 0 -5.8 0M506.63 434.87m-2.9 0a2.9 2.9 0 1 0 5.8 0a2.9 2.9 0 1 0 -5.8 0M509.33 437.32m-2.9 0a2.9 2.9 0 1 0 5.8 0a2.9 2.9 0 1 0 -5.8 0M512.04 437.32m-2.9 0a2.9 2.9 0 1 0 5.8 0a2.9 2.9 0 1 0 -5.8 0M514.74 437.32m-2.9 0a2.9 2.9 0 1 0 5.8 0a2.9 2.9 0 1 0 -5.8 0M517.45 437.32m-2.9 0a2.9 2.9 0 1 0 5.8 0a2.9 2.9 0 1 0 -5.8 0M520.16 437.32m-2.9 0a2.9 2.9 0 1 0 5.8 0a2.9 2.9 0 1 0 -5.8 0M522.86 437.32m-2.9 0a2.9 2.9 0 1 0 5.8 0a2.9 2.9 0 1 0 -5.8 0M525.57 437.32m-2.9 0a2.9 2.9 0 1 0 5.8 0a2.9 2.9 0 1 0 -5.8 0M528.27 437.32m-2.9 0a2.9 2.9 0 1 0 5.8 0a2.9 2.9 0 1 0 -5.8 0M530.98 437.32m-2.9 0a2.9 2.9 0 1 0 5.8 0a2.9 2.9 0 1 0 -5.8 0M533.69 437.32m-2.9 0a2.9 2.9 0 1 0 5.8 0a2.9 2.9 0 1 0 -5.8 0M536.39 434.87m-2.9 0a2.9 2.9 0 1 0 5.8 0a2.9 2.9 0 1 0 -5.8 0M539.1 434.87m-2.9 0a2.9 2.9 0 1 0 5.8 0a2.9 2.9 0 1 0 -5.8 0M541.8 434.87m-2.9 0a2.9 2.9 0 1 0 5.8 0a2.9 2.9 0 1 0 -5.8 0M544.51 434.87m-2.9 0a2.9 2.9 0 1 0 5.8 0a2.9 2.9 0 1 0 -5.8 0M547.22 432.42m-2.9 0a2.9 2.9 0 1 0 5.8 0a2.9 2.9 0 1 0 -5.8 0M549.92 432.42m-2.9 0a2.9 2.9 0 1 0 5.8 0a2.9 2.9 0 1 0 -5.8 0M552.63 432.42m-2.9 0a2.9 2.9 0 1 0 5.8 0a2.9 2.9 0 1 0 -5.8 0M555.33 429.98m-2.9 0a2.9 2.9 0 1 0 5.8 0a2.9 2.9 0 1 0 -5.8 0M558.04 429.98m-2.9 0a2.9 2.9 0 1 0 5.8 0a2.9 2.9 0 1 0 -5.8 0M484.98 439.76m-2.9 0a2.9 2.9 0 1 0 5.8 0a2.9 2.9 0 1 0 -5.8 0M487.9 439.76m-2.9 0a2.9 2.9 0 1 0 5.8 0a2.9 2.9 0 1 0 -5.8 0M490.82 442.21m-2.9 0a2.9 2.9 0 1 0 5.8 0a2.9 2.9 0 1 0 -5.8 0M493.75 442.21m-2.9 0a2.9 2.9 0 1 0 5.8 0a2.9 2.9 0 1 0 -5.8 0M496.67 442.21m-2.9 0a2.9 2.9 0 1 0 5.8 0a2.9 2.9 0 1 0 -5.8 0M499.59 442.21m-2.9 0a2.9 2.9 0 1 0 5.8 0a2.9 2.9 0 1 0 -5.8 0M502.51 444.65m-2.9 0a2.9 2.9 0 1 0 5.8 0a2.9 2.9 0 1 0 -5.8 0M505.44 444.65m-2.9 0a2.9 2.9 0 1 0 5.8 0a2.9 2.9 0 1 0 -5.8 0M508.36 444.65m-2.9 0a2.9 2.9 0 1 0 5.8 0a2.9 2.9 0 1 0 -5.8 0M511.28 444.65m-2.9 0a2.9 2.9 0 1 0 5.8 0a2.9 2.9 0 1 0 -5.8 0M514.2 447.1m-2.9 0a2.9 2.9 0 1 0 5.8 0a2.9 2.9 0 1 0 -5.8 0M517.12 447.1m-2.9 0a2.9 2.9 0 1 0 5.8 0a2.9 2.9 0 1 0 -5.8 0M520.05 447.1m-2.9 0a2.9 2.9 0 1 0 5.8 0a2.9 2.9 0 1 0 -5.8 0M522.97 447.1m-2.9 0a2.9 2.9 0 1 0 5.8 0a2.9 2.9 0 1 0 -5.8 0M525.89 447.1m-2.9 0a2.9 2.9 0 1 0 5.8 0a2.9 2.9 0 1 0 -5.8 0M528.81 447.1m-2.9 0a2.9 2.9 0 1 0 5.8 0a2.9 2.9 0 1 0 -5.8 0M531.74 444.65m-2.9 0a2.9 2.9 0 1 0 5.8 0a2.9 2.9 0 1 0 -5.8 0M534.66 444.65m-2.9 0a2.9 2.9 0 1 0 5.8 0a2.9 2.9 0 1 0 -5.8 0M537.58 444.65m-2.9 0a2.9 2.9 0 1 0 5.8 0a2.9 2.9 0 1 0 -5.8 0M540.5 444.65m-2.9 0a2.9 2.9 0 1 0 5.8 0a2.9 2.9 0 1 0 -5.8 0M543.43 442.21m-2.9 0a2.9 2.9 0 1 0 5.8 0a2.9 2.9 0 1 0 -5.8 0M546.35 442.21m-2.9 0a2.9 2.9 0 1 0 5.8 0a2.9 2.9 0 1 0 -5.8 0M549.27 442.21m-2.9 0a2.9 2.9 0 1 0 5.8 0a2.9 2.9 0 1 0 -5.8 0M552.19 442.21m-2.9 0a2.9 2.9 0 1 0 5.8 0a2.9 2.9 0 1 0 -5.8 0M555.12 439.76m-2.9 0a2.9 2.9 0 1 0 5.8 0a2.9 2.9 0 1 0 -5.8 0M558.04 439.76m-2.9 0a2.9 2.9 0 1 0 5.8 0a2.9 2.9 0 1 0 -5.8 0M484.25 449.55m-2.9 0a2.9 2.9 0 1 0 5.8 0a2.9 2.9 0 1 0 -5.8 0M488.14 449.55m-2.9 0a2.9 2.9 0 1 0 5.8 0a2.9 2.9 0 1 0 -5.8 0M492.02 451.99m-2.9 0a2.9 2.9 0 1 0 5.8 0a2.9 2.9 0 1 0 -5.8 0M495.9 451.99m-2.9 0a2.9 2.9 0 1 0 5.8 0a2.9 2.9 0 1 0 -5.8 0M499.79 451.99m-2.9 0a2.9 2.9 0 1 0 5.8 0a2.9 2.9 0 1 0 -5.8 0M503.67 454.44m-2.9 0a2.9 2.9 0 1 0 5.8 0a2.9 2.9 0 1 0 -5.8 0M507.56 454.44m-2.9 0a2.9 2.9 0 1 0 5.8 0a2.9 2.9 0 1 0 -5.8 0M511.44 454.44m-2.9 0a2.9 2.9 0 1 0 5.8 0a2.9 2.9 0 1 0 -5.8 0M515.32 456.88m-2.9 0a2.9 2.9 0 1 0 5.8 0a2.9 2.9 0 1 0 -5.8 0M519.21 456.88m-2.9 0a2.9 2.9 0 1 0 5.8 0a2.9 2.9 0 1 0 -5.8 0M523.09 456.88m-2.9 0a2.9 2.9 0 1 0 5.8 0a2.9 2.9 0 1 0 -5.8 0M526.97 456.88m-2.9 0a2.9 2.9 0 1 0 5.8 0a2.9 2.9 0 1 0 -5.8 0M530.86 454.44m-2.9 0a2.9 2.9 0 1 0 5.8 0a2.9 2.9 0 1 0 -5.8 0M534.74 454.44m-2.9 0a2.9 2.9 0 1 0 5.8 0a2.9 2.9 0 1 0 -5.8 0M538.62 454.44m-2.9 0a2.9 2.9 0 1 0 5.8 0a2.9 2.9 0 1 0 -5.8 0M542.51 451.99m-2.9 0a2.9 2.9 0 1 0 5.8 0a2.9 2.9 0 1 0 -5.8 0M546.39 451.99m-2.9 0a2.9 2.9 0 1 0 5.8 0a2.9 2.9 0 1 0 -5.8 0M550.27 451.99m-2.9 0a2.9 2.9 0 1 0 5.8 0a2.9 2.9 0 1 0 -5.8 0M554.16 449.55m-2.9 0a2.9 2.9 0 1 0 5.8 0a2.9 2.9 0 1 0 -5.8 0M558.04 449.55m-2.9 0a2.9 2.9 0 1 0 5.8 0a2.9 2.9 0 1 0 -5.8 0" fill="#000"/>
<path d="M479.7 420.49H563.3M521.5 392.27V448.26M500 392.27H543M500 448.26H543" fill="none" stroke="#fff" stroke-opacity="0.65" stroke-width="2.45"/>
<path d="M479.7 420.49H563.3M521.5 392.27V448.26M500 392.27H543M500 448.26H543" fill="none" stroke="#000" stroke-width="1.8"/>
<path d="M644.11 364.18l2.75 -2.75l2.75 2.75l-2.75 2.75zM639.62 376.48l2.75 -2.75l2.75 2.75l-2.75 2.75zM648.59 376.48l2.75 -2.75l2.75 2.75l-2.75 2.75zM621.97 388.34l2.75 -2.75l2.75 2.75l-2.75 2.75zM666.1 386.17l2.75 -2.75l2.75 2.75l-2.75 2.75zM617.63 391.23l2.75 -2.75l2.75 2.75l-2.75 2.75zM626.6 391.23l2.75 -2.75l2.75 2.75l-2.75 2.75zM635.28 388.77l2.75 -2.75l2.75 2.75l-2.75 2.75zM644.11 388.77l2.75 -2.75l2.75 2.75l-2.75 2.75zM652.93 388.77l2.75 -2.75l2.75 2.75l-2.75 2.75zM661.76 391.23l2.75 -2.75l2.75 2.75l-2.75 2.75zM670.58 391.23l2.75 -2.75l2.75 2.75l-2.75 2.75zM635.28 398.47l2.75 -2.75l2.75 2.75l-2.75 2.75zM644.11 398.47l2.75 -2.75l2.75 2.75l-2.75 2.75zM652.93 398.47l2.75 -2.75l2.75 2.75l-2.75 2.75zM606.49 400.93l2.75 -2.75l2.75 2.75l-2.75 2.75zM613.29 400.93l2.75 -2.75l2.75 2.75l-2.75 2.75zM620.24 403.24l2.75 -2.75l2.75 2.75l-2.75 2.75zM681.72 400.93l2.75 -2.75l2.75 2.75l-2.75 2.75zM675.07 403.24l2.75 -2.75l2.75 2.75l-2.75 2.75zM668.27 405.7l2.75 -2.75l2.75 2.75l-2.75 2.75zM627.04 408.16l2.75 -2.75l2.75 2.75l-2.75 2.75zM633.84 408.16l2.75 -2.75l2.75 2.75l-2.75 2.75zM640.78 408.16l2.75 -2.75l2.75 2.75l-2.75 2.75zM647.58 408.16l2.75 -2.75l2.75 2.75l-2.75 2.75zM654.52 408.16l2.75 -2.75l2.75 2.75l-2.75 2.75zM661.32 408.16l2.75 -2.75l2.75 2.75l-2.75 2.75zM621.97 469.36l2.75 -2.75l2.75 2.75l-2.75 2.75zM666.1 469.07l2.75 -2.75l2.75 2.75l-2.75 2.75zM657.42 471.82l2.75 -2.75l2.75 2.75l-2.75 2.75zM630.94 473.99l2.75 -2.75l2.75 2.75l-2.75 2.75zM639.62 476.59l2.75 -2.75l2.75 2.75l-2.75 2.75zM648.59 476.59l2.75 -2.75l2.75 2.75l-2.75 2.75zM610.25 410.41l2.9 -2.9l2.9 2.9l-2.9 2.9zM615.46 410.41l2.9 -2.9l2.9 2.9l-2.9 2.9zM620.66 412.86l2.9 -2.9l2.9 2.9l-2.9 2.9zM625.87 412.86l2.9 -2.9l2.9 2.9l-2.9 2.9zM631.08 415.3l2.9 -2.9l2.9 2.9l-2.9 2.9zM636.29 415.3l2.9 -2.9l2.9 2.9l-2.9 2.9zM641.5 415.3l2.9 -2.9l2.9 2.9l-2.9 2.9zM646.71 415.3l2.9 -2.9l2.9 2.9l-2.9 2.9zM651.91 415.3l2.9 -2.9l2.9 2.9l-2.9 2.9zM657.12 415.3l2.9 -2.9l2.9 2.9l-2.9 2.9zM662.33 412.86l2.9 -2.9l2.9 2.9l-2.9 2.9zM667.54 412.86l2.9 -2.9l2.9 2.9l-2.9 2.9zM672.75 410.41l2.9 -2.9l2.9 2.9l-2.9 2.9zM677.96 410.41l2.9 -2.9l2.9 2.9l-2.9 2.9zM605.91 420.19l2.9 -2.9l2.9 2.9l-2.9 2.9zM610.17 420.19l2.9 -2.9l2.9 2.9l-2.9 2.9zM614.43 422.64l2.9 -2.9l2.9 2.9l-2.9 2.9zM618.69 422.64l2.9 -2.9l2.9 2.9l-2.9 2.9zM622.95 425.09l2.9 -2.9l2.9 2.9l-2.9 2.9zM627.21 425.09l2.9 -2.9l2.9 2.9l-2.9 2.9zM631.47 425.09l2.9 -2.9l2.9 2.9l-2.9 2.9zM635.73 427.53l2.9 -2.9l2.9 2.9l-2.9 2.9zM639.99 427.53l2.9 -2.9l2.9 2.9l-2.9 2.9zM644.25 427.53l2.9 -2.9l2.9 2.9l-2.9 2.9zM648.51 427.53l2.9 -2.9l2.9 2.9l-2.9 2.9zM652.77 427.53l2.9 -2.9l2.9 2.9l-2.9 2.9zM657.03 425.09l2.9 -2.9l2.9 2.9l-2.9 2.9zM661.29 425.09l2.9 -2.9l2.9 2.9l-2.9 2.9zM665.55 425.09l2.9 -2.9l2.9 2.9l-2.9 2.9zM669.81 422.64l2.9 -2.9l2.9 2.9l-2.9 2.9zM674.07 422.64l2.9 -2.9l2.9 2.9l-2.9 2.9zM678.33 420.19l2.9 -2.9l2.9 2.9l-2.9 2.9zM682.59 420.19l2.9 -2.9l2.9 2.9l-2.9 2.9zM607.35 429.98l2.9 -2.9l2.9 2.9l-2.9 2.9zM610.06 429.98l2.9 -2.9l2.9 2.9l-2.9 2.9zM612.77 432.42l2.9 -2.9l2.9 2.9l-2.9 2.9zM615.47 432.42l2.9 -2.9l2.9 2.9l-2.9 2.9zM618.18 432.42l2.9 -2.9l2.9 2.9l-2.9 2.9zM620.88 434.87l2.9 -2.9l2.9 2.9l-2.9 2.9zM623.59 434.87l2.9 -2.9l2.9 2.9l-2.9 2.9zM626.3 434.87l2.9 -2.9l2.9 2.9l-2.9 2.9zM629 437.32l2.9 -2.9l2.9 2.9l-2.9 2.9zM631.71 437.32l2.9 -2.9l2.9 2.9l-2.9 2.9zM634.41 437.32l2.9 -2.9l2.9 2.9l-2.9 2.9zM637.12 437.32l2.9 -2.9l2.9 2.9l-2.9 2.9zM639.83 439.76l2.9 -2.9l2.9 2.9l-2.9 2.9zM642.53 439.76l2.9 -2.9l2.9 2.9l-2.9 2.9zM645.24 439.76l2.9 -2.9l2.9 2.9l-2.9 2.9zM647.94 439.76l2.9 -2.9l2.9 2.9l-2.9 2.9zM650.65 437.32l2.9 -2.9l2.9 2.9l-2.9 2.9zM653.36 437.32l2.9 -2.9l2.9 2.9l-2.9 2.9zM656.06 437.32l2.9 -2.9l2.9 2.9l-2.9 2.9zM658.77 437.32l2.9 -2.9l2.9 2.9l-2.9 2.9zM661.47 434.87l2.9 -2.9l2.9 2.9l-2.9 2.9zM664.18 434.87l2.9 -2.9l2.9 2.9l-2.9 2.9zM666.89 434.87l2.9 -2.9l2.9 2.9l-2.9 2.9zM669.59 432.42l2.9 -2.9l2.9 2.9l-2.9 2.9zM672.3 432.42l2.9 -2.9l2.9 2.9l-2.9 2.9zM675 432.42l2.9 -2.9l2.9 2.9l-2.9 2.9zM677.71 429.98l2.9 -2.9l2.9 2.9l-2.9 2.9zM680.42 429.98l2.9 -2.9l2.9 2.9l-2.9 2.9zM607.35 439.76l2.9 -2.9l2.9 2.9l-2.9 2.9zM610.28 439.76l2.9 -2.9l2.9 2.9l-2.9 2.9zM613.2 442.21l2.9 -2.9l2.9 2.9l-2.9 2.9zM616.12 442.21l2.9 -2.9l2.9 2.9l-2.9 2.9zM619.04 444.65l2.9 -2.9l2.9 2.9l-2.9 2.9zM621.97 444.65l2.9 -2.9l2.9 2.9l-2.9 2.9zM624.89 444.65l2.9 -2.9l2.9 2.9l-2.9 2.9zM627.81 447.1l2.9 -2.9l2.9 2.9l-2.9 2.9zM630.73 447.1l2.9 -2.9l2.9 2.9l-2.9 2.9zM633.66 447.1l2.9 -2.9l2.9 2.9l-2.9 2.9zM636.58 449.55l2.9 -2.9l2.9 2.9l-2.9 2.9zM639.5 449.55l2.9 -2.9l2.9 2.9l-2.9 2.9zM642.42 449.55l2.9 -2.9l2.9 2.9l-2.9 2.9zM645.35 449.55l2.9 -2.9l2.9 2.9l-2.9 2.9zM648.27 449.55l2.9 -2.9l2.9 2.9l-2.9 2.9zM651.19 449.55l2.9 -2.9l2.9 2.9l-2.9 2.9zM654.11 447.1l2.9 -2.9l2.9 2.9l-2.9 2.9zM657.04 447.1l2.9 -2.9l2.9 2.9l-2.9 2.9zM659.96 447.1l2.9 -2.9l2.9 2.9l-2.9 2.9zM662.88 444.65l2.9 -2.9l2.9 2.9l-2.9 2.9zM665.8 444.65l2.9 -2.9l2.9 2.9l-2.9 2.9zM668.73 444.65l2.9 -2.9l2.9 2.9l-2.9 2.9zM671.65 442.21l2.9 -2.9l2.9 2.9l-2.9 2.9zM674.57 442.21l2.9 -2.9l2.9 2.9l-2.9 2.9zM677.49 439.76l2.9 -2.9l2.9 2.9l-2.9 2.9zM680.42 439.76l2.9 -2.9l2.9 2.9l-2.9 2.9zM607.35 449.55l2.9 -2.9l2.9 2.9l-2.9 2.9zM610.31 449.55l2.9 -2.9l2.9 2.9l-2.9 2.9zM613.26 451.99l2.9 -2.9l2.9 2.9l-2.9 2.9zM616.21 451.99l2.9 -2.9l2.9 2.9l-2.9 2.9zM619.16 451.99l2.9 -2.9l2.9 2.9l-2.9 2.9zM622.11 454.44l2.9 -2.9l2.9 2.9l-2.9 2.9zM625.06 454.44l2.9 -2.9l2.9 2.9l-2.9 2.9zM628.01 454.44l2.9 -2.9l2.9 2.9l-2.9 2.9zM630.97 454.44l2.9 -2.9l2.9 2.9l-2.9 2.9zM633.92 456.88l2.9 -2.9l2.9 2.9l-2.9 2.9zM636.87 456.88l2.9 -2.9l2.9 2.9l-2.9 2.9zM639.82 456.88l2.9 -2.9l2.9 2.9l-2.9 2.9zM642.77 456.88l2.9 -2.9l2.9 2.9l-2.9 2.9zM645.72 456.88l2.9 -2.9l2.9 2.9l-2.9 2.9zM648.67 456.88l2.9 -2.9l2.9 2.9l-2.9 2.9zM651.63 456.88l2.9 -2.9l2.9 2.9l-2.9 2.9zM654.58 456.88l2.9 -2.9l2.9 2.9l-2.9 2.9zM657.53 454.44l2.9 -2.9l2.9 2.9l-2.9 2.9zM660.48 454.44l2.9 -2.9l2.9 2.9l-2.9 2.9zM663.43 454.44l2.9 -2.9l2.9 2.9l-2.9 2.9zM666.38 454.44l2.9 -2.9l2.9 2.9l-2.9 2.9zM669.33 451.99l2.9 -2.9l2.9 2.9l-2.9 2.9zM672.29 451.99l2.9 -2.9l2.9 2.9l-2.9 2.9zM675.24 451.99l2.9 -2.9l2.9 2.9l-2.9 2.9zM678.19 449.55l2.9 -2.9l2.9 2.9l-2.9 2.9zM681.14 449.55l2.9 -2.9l2.9 2.9l-2.9 2.9zM606.63 459.33l2.9 -2.9l2.9 2.9l-2.9 2.9zM611.27 459.33l2.9 -2.9l2.9 2.9l-2.9 2.9zM615.91 461.78l2.9 -2.9l2.9 2.9l-2.9 2.9zM620.55 461.78l2.9 -2.9l2.9 2.9l-2.9 2.9zM625.19 461.78l2.9 -2.9l2.9 2.9l-2.9 2.9zM629.82 464.22l2.9 -2.9l2.9 2.9l-2.9 2.9zM634.46 464.22l2.9 -2.9l2.9 2.9l-2.9 2.9zM639.1 466.67l2.9 -2.9l2.9 2.9l-2.9 2.9zM643.74 466.67l2.9 -2.9l2.9 2.9l-2.9 2.9zM648.38 466.67l2.9 -2.9l2.9 2.9l-2.9 2.9zM653.02 464.22l2.9 -2.9l2.9 2.9l-2.9 2.9zM657.66 464.22l2.9 -2.9l2.9 2.9l-2.9 2.9zM662.3 461.78l2.9 -2.9l2.9 2.9l-2.9 2.9zM666.93 461.78l2.9 -2.9l2.9 2.9l-2.9 2.9zM671.57 461.78l2.9 -2.9l2.9 2.9l-2.9 2.9zM676.21 459.33l2.9 -2.9l2.9 2.9l-2.9 2.9zM680.85 459.33l2.9 -2.9l2.9 2.9l-2.9 2.9z" fill="#9b9b9b"/>
<path d="M605.3 433.19H688.9M647.1 410.04V456.63M625.6 410.04H668.6M625.6 456.63H668.6" fill="none" stroke="#9b9b9b" stroke-width="1.8"/>
<path d="M520.4 313.7H648.6M520.4 307.9V319.5M648.6 307.9V319.5" fill="none" stroke="#000" stroke-width="2.1"/>
<text x="586.9" y="314.2" font-family='"Liberation Sans", sans-serif' font-weight="bold" font-size="16" style="stroke:none" text-anchor="middle">*</text>
<path d="M841.5 311.15V508.25H1134.9M834.3 508.25H842.9M834.3 459.32H841.5M834.3 410.4H841.5M834.3 361.48H841.5M834.3 312.55H842.9M925.4 508.25V516.35M1051 508.25V516.35" fill="none" stroke="#000" stroke-width="2.8" stroke-linejoin="miter"/>
<g font-family='"Liberation Serif", serif' font-weight="bold" font-size="16.3" text-anchor="end">
<text x="833.5" y="513.8">0.0</text>
<text x="833.5" y="464.88">0.2</text>
<text x="833.5" y="415.95">0.4</text>
<text x="833.5" y="367.03">0.6</text>
<text x="833.5" y="318.1">0.8</text>
</g>
<g font-family='"Liberation Serif", serif' font-weight="bold" font-size="16.1" text-anchor="end">
<text transform="translate(928.8 526.25) rotate(-45)">MSA</text>
<text transform="translate(1054.4 526.25) rotate(-45)">HC</text>
</g>
<text transform="translate(802.9 409.6) rotate(-90)" text-anchor="middle" font-weight="bold" font-size="16"><tspan font-family='"Liberation Serif", serif'>Eosinophilia, 10</tspan><tspan font-family='"Liberation Serif", serif' font-size="11.5" dy="-6">9</tspan><tspan font-family='"Liberation Serif", serif' dy="6">/L</tspan></text>
<path d="M925.15 337.3m-2.95 0a2.95 2.95 0 1 0 5.9 0a2.95 2.95 0 1 0 -5.9 0M925.15 373.9m-2.95 0a2.95 2.95 0 1 0 5.9 0a2.95 2.95 0 1 0 -5.9 0M916.47 400.67m-2.95 0a2.95 2.95 0 1 0 5.9 0a2.95 2.95 0 1 0 -5.9 0M933.83 402.84m-2.95 0a2.95 2.95 0 1 0 5.9 0a2.95 2.95 0 1 0 -5.9 0M925.15 405.01m-2.95 0a2.95 2.95 0 1 0 5.9 0a2.95 2.95 0 1 0 -5.9 0M916.47 400.56m-2.95 0a2.95 2.95 0 1 0 5.9 0a2.95 2.95 0 1 0 -5.9 0M933.83 403.02m-2.95 0a2.95 2.95 0 1 0 5.9 0a2.95 2.95 0 1 0 -5.9 0M925.15 405.63m-2.95 0a2.95 2.95 0 1 0 5.9 0a2.95 2.95 0 1 0 -5.9 0M911.84 415.61m-2.95 0a2.95 2.95 0 1 0 5.9 0a2.95 2.95 0 1 0 -5.9 0M942.8 415.61m-2.95 0a2.95 2.95 0 1 0 5.9 0a2.95 2.95 0 1 0 -5.9 0M920.81 417.78m-2.95 0a2.95 2.95 0 1 0 5.9 0a2.95 2.95 0 1 0 -5.9 0M929.49 417.78m-2.95 0a2.95 2.95 0 1 0 5.9 0a2.95 2.95 0 1 0 -5.9 0M938.46 422.84m-2.95 0a2.95 2.95 0 1 0 5.9 0a2.95 2.95 0 1 0 -5.9 0M911.84 425.16m-2.95 0a2.95 2.95 0 1 0 5.9 0a2.95 2.95 0 1 0 -5.9 0M920.81 427.62m-2.95 0a2.95 2.95 0 1 0 5.9 0a2.95 2.95 0 1 0 -5.9 0M929.49 427.62m-2.95 0a2.95 2.95 0 1 0 5.9 0a2.95 2.95 0 1 0 -5.9 0M933.83 432.68m-2.95 0a2.95 2.95 0 1 0 5.9 0a2.95 2.95 0 1 0 -5.9 0M916.47 435.14m-2.95 0a2.95 2.95 0 1 0 5.9 0a2.95 2.95 0 1 0 -5.9 0M925.15 437.31m-2.95 0a2.95 2.95 0 1 0 5.9 0a2.95 2.95 0 1 0 -5.9 0M898.82 439.92m-2.95 0a2.95 2.95 0 1 0 5.9 0a2.95 2.95 0 1 0 -5.9 0M947.28 439.92m-2.95 0a2.95 2.95 0 1 0 5.9 0a2.95 2.95 0 1 0 -5.9 0M938.46 442.38m-2.95 0a2.95 2.95 0 1 0 5.9 0a2.95 2.95 0 1 0 -5.9 0M907.5 444.98m-2.95 0a2.95 2.95 0 1 0 5.9 0a2.95 2.95 0 1 0 -5.9 0M929.49 444.98m-2.95 0a2.95 2.95 0 1 0 5.9 0a2.95 2.95 0 1 0 -5.9 0M916.47 447.15m-2.95 0a2.95 2.95 0 1 0 5.9 0a2.95 2.95 0 1 0 -5.9 0M903.16 452.21m-2.95 0a2.95 2.95 0 1 0 5.9 0a2.95 2.95 0 1 0 -5.9 0M911.84 452.21m-2.95 0a2.95 2.95 0 1 0 5.9 0a2.95 2.95 0 1 0 -5.9 0M947.28 452.21m-2.95 0a2.95 2.95 0 1 0 5.9 0a2.95 2.95 0 1 0 -5.9 0M920.81 454.67m-2.95 0a2.95 2.95 0 1 0 5.9 0a2.95 2.95 0 1 0 -5.9 0M938.46 454.67m-2.95 0a2.95 2.95 0 1 0 5.9 0a2.95 2.95 0 1 0 -5.9 0M929.49 456.99m-2.95 0a2.95 2.95 0 1 0 5.9 0a2.95 2.95 0 1 0 -5.9 0M886.81 459.33m-2.9 0a2.9 2.9 0 1 0 5.8 0a2.9 2.9 0 1 0 -5.8 0M892.71 461.78m-2.9 0a2.9 2.9 0 1 0 5.8 0a2.9 2.9 0 1 0 -5.8 0M898.6 461.78m-2.9 0a2.9 2.9 0 1 0 5.8 0a2.9 2.9 0 1 0 -5.8 0M904.5 461.78m-2.9 0a2.9 2.9 0 1 0 5.8 0a2.9 2.9 0 1 0 -5.8 0M910.4 464.22m-2.9 0a2.9 2.9 0 1 0 5.8 0a2.9 2.9 0 1 0 -5.8 0M916.3 464.22m-2.9 0a2.9 2.9 0 1 0 5.8 0a2.9 2.9 0 1 0 -5.8 0M922.2 466.67m-2.9 0a2.9 2.9 0 1 0 5.8 0a2.9 2.9 0 1 0 -5.8 0M928.1 466.67m-2.9 0a2.9 2.9 0 1 0 5.8 0a2.9 2.9 0 1 0 -5.8 0M933.99 464.22m-2.9 0a2.9 2.9 0 1 0 5.8 0a2.9 2.9 0 1 0 -5.8 0M939.89 464.22m-2.9 0a2.9 2.9 0 1 0 5.8 0a2.9 2.9 0 1 0 -5.8 0M945.79 461.78m-2.9 0a2.9 2.9 0 1 0 5.8 0a2.9 2.9 0 1 0 -5.8 0M951.69 461.78m-2.9 0a2.9 2.9 0 1 0 5.8 0a2.9 2.9 0 1 0 -5.8 0M957.59 461.78m-2.9 0a2.9 2.9 0 1 0 5.8 0a2.9 2.9 0 1 0 -5.8 0M963.49 459.33m-2.9 0a2.9 2.9 0 1 0 5.8 0a2.9 2.9 0 1 0 -5.8 0M886.08 469.11m-2.9 0a2.9 2.9 0 1 0 5.8 0a2.9 2.9 0 1 0 -5.8 0M887.97 469.11m-2.9 0a2.9 2.9 0 1 0 5.8 0a2.9 2.9 0 1 0 -5.8 0M889.86 469.11m-2.9 0a2.9 2.9 0 1 0 5.8 0a2.9 2.9 0 1 0 -5.8 0M891.75 469.11m-2.9 0a2.9 2.9 0 1 0 5.8 0a2.9 2.9 0 1 0 -5.8 0M893.64 471.56m-2.9 0a2.9 2.9 0 1 0 5.8 0a2.9 2.9 0 1 0 -5.8 0M895.52 471.56m-2.9 0a2.9 2.9 0 1 0 5.8 0a2.9 2.9 0 1 0 -5.8 0M897.41 471.56m-2.9 0a2.9 2.9 0 1 0 5.8 0a2.9 2.9 0 1 0 -5.8 0M899.3 471.56m-2.9 0a2.9 2.9 0 1 0 5.8 0a2.9 2.9 0 1 0 -5.8 0M901.19 471.56m-2.9 0a2.9 2.9 0 1 0 5.8 0a2.9 2.9 0 1 0 -5.8 0M903.08 474.01m-2.9 0a2.9 2.9 0 1 0 5.8 0a2.9 2.9 0 1 0 -5.8 0M904.96 474.01m-2.9 0a2.9 2.9 0 1 0 5.8 0a2.9 2.9 0 1 0 -5.8 0M906.85 474.01m-2.9 0a2.9 2.9 0 1 0 5.8 0a2.9 2.9 0 1 0 -5.8 0M908.74 474.01m-2.9 0a2.9 2.9 0 1 0 5.8 0a2.9 2.9 0 1 0 -5.8 0M910.63 474.01m-2.9 0a2.9 2.9 0 1 0 5.8 0a2.9 2.9 0 1 0 -5.8 0M912.51 474.01m-2.9 0a2.9 2.9 0 1 0 5.8 0a2.9 2.9 0 1 0 -5.8 0M914.4 476.45m-2.9 0a2.9 2.9 0 1 0 5.8 0a2.9 2.9 0 1 0 -5.8 0M916.29 476.45m-2.9 0a2.9 2.9 0 1 0 5.8 0a2.9 2.9 0 1 0 -5.8 0M918.18 476.45m-2.9 0a2.9 2.9 0 1 0 5.8 0a2.9 2.9 0 1 0 -5.8 0M920.07 476.45m-2.9 0a2.9 2.9 0 1 0 5.8 0a2.9 2.9 0 1 0 -5.8 0M921.95 476.45m-2.9 0a2.9 2.9 0 1 0 5.8 0a2.9 2.9 0 1 0 -5.8 0M923.84 476.45m-2.9 0a2.9 2.9 0 1 0 5.8 0a2.9 2.9 0 1 0 -5.8 0M925.73 476.45m-2.9 0a2.9 2.9 0 1 0 5.8 0a2.9 2.9 0 1 0 -5.8 0M927.62 476.45m-2.9 0a2.9 2.9 0 1 0 5.8 0a2.9 2.9 0 1 0 -5.8 0M929.5 476.45m-2.9 0a2.9 2.9 0 1 0 5.8 0a2.9 2.9 0 1 0 -5.8 0M931.39 476.45m-2.9 0a2.9 2.9 0 1 0 5.8 0a2.9 2.9 0 1 0 -5.8 0M933.28 476.45m-2.9 0a2.9 2.9 0 1 0 5.8 0a2.9 2.9 0 1 0 -5.8 0M935.17 476.45m-2.9 0a2.9 2.9 0 1 0 5.8 0a2.9 2.9 0 1 0 -5.8 0M937.06 474.01m-2.9 0a2.9 2.9 0 1 0 5.8 0a2.9 2.9 0 1 0 -5.8 0M938.94 474.01m-2.9 0a2.9 2.9 0 1 0 5.8 0a2.9 2.9 0 1 0 -5.8 0M940.83 474.01m-2.9 0a2.9 2.9 0 1 0 5.8 0a2.9 2.9 0 1 0 -5.8 0M942.72 474.01m-2.9 0a2.9 2.9 0 1 0 5.8 0a2.9 2.9 0 1 0 -5.8 0M944.61 474.01m-2.9 0a2.9 2.9 0 1 0 5.8 0a2.9 2.9 0 1 0 -5.8 0M946.5 474.01m-2.9 0a2.9 2.9 0 1 0 5.8 0a2.9 2.9 0 1 0 -5.8 0M948.38 471.56m-2.9 0a2.9 2.9 0 1 0 5.8 0a2.9 2.9 0 1 0 -5.8 0M950.27 471.56m-2.9 0a2.9 2.9 0 1 0 5.8 0a2.9 2.9 0 1 0 -5.8 0M952.16 471.56m-2.9 0a2.9 2.9 0 1 0 5.8 0a2.9 2.9 0 1 0 -5.8 0M954.05 471.56m-2.9 0a2.9 2.9 0 1 0 5.8 0a2.9 2.9 0 1 0 -5.8 0M955.93 471.56m-2.9 0a2.9 2.9 0 1 0 5.8 0a2.9 2.9 0 1 0 -5.8 0M957.82 469.11m-2.9 0a2.9 2.9 0 1 0 5.8 0a2.9 2.9 0 1 0 -5.8 0M959.71 469.11m-2.9 0a2.9 2.9 0 1 0 5.8 0a2.9 2.9 0 1 0 -5.8 0M961.6 469.11m-2.9 0a2.9 2.9 0 1 0 5.8 0a2.9 2.9 0 1 0 -5.8 0M963.49 469.11m-2.9 0a2.9 2.9 0 1 0 5.8 0a2.9 2.9 0 1 0 -5.8 0M888.25 478.9m-2.9 0a2.9 2.9 0 1 0 5.8 0a2.9 2.9 0 1 0 -5.8 0M890.05 478.9m-2.9 0a2.9 2.9 0 1 0 5.8 0a2.9 2.9 0 1 0 -5.8 0M891.85 478.9m-2.9 0a2.9 2.9 0 1 0 5.8 0a2.9 2.9 0 1 0 -5.8 0M893.65 481.34m-2.9 0a2.9 2.9 0 1 0 5.8 0a2.9 2.9 0 1 0 -5.8 0M895.45 481.34m-2.9 0a2.9 2.9 0 1 0 5.8 0a2.9 2.9 0 1 0 -5.8 0M897.25 481.34m-2.9 0a2.9 2.9 0 1 0 5.8 0a2.9 2.9 0 1 0 -5.8 0M899.05 481.34m-2.9 0a2.9 2.9 0 1 0 5.8 0a2.9 2.9 0 1 0 -5.8 0M900.85 481.34m-2.9 0a2.9 2.9 0 1 0 5.8 0a2.9 2.9 0 1 0 -5.8 0M902.65 483.79m-2.9 0a2.9 2.9 0 1 0 5.8 0a2.9 2.9 0 1 0 -5.8 0M904.45 483.79m-2.9 0a2.9 2.9 0 1 0 5.8 0a2.9 2.9 0 1 0 -5.8 0M906.25 483.79m-2.9 0a2.9 2.9 0 1 0 5.8 0a2.9 2.9 0 1 0 -5.8 0M908.05 483.79m-2.9 0a2.9 2.9 0 1 0 5.8 0a2.9 2.9 0 1 0 -5.8 0M909.85 483.79m-2.9 0a2.9 2.9 0 1 0 5.8 0a2.9 2.9 0 1 0 -5.8 0M911.65 483.79m-2.9 0a2.9 2.9 0 1 0 5.8 0a2.9 2.9 0 1 0 -5.8 0M913.45 486.24m-2.9 0a2.9 2.9 0 1 0 5.8 0a2.9 2.9 0 1 0 -5.8 0M915.25 486.24m-2.9 0a2.9 2.9 0 1 0 5.8 0a2.9 2.9 0 1 0 -5.8 0M917.05 486.24m-2.9 0a2.9 2.9 0 1 0 5.8 0a2.9 2.9 0 1 0 -5.8 0M918.85 486.24m-2.9 0a2.9 2.9 0 1 0 5.8 0a2.9 2.9 0 1 0 -5.8 0M920.65 486.24m-2.9 0a2.9 2.9 0 1 0 5.8 0a2.9 2.9 0 1 0 -5.8 0M922.45 486.24m-2.9 0a2.9 2.9 0 1 0 5.8 0a2.9 2.9 0 1 0 -5.8 0M924.25 486.24m-2.9 0a2.9 2.9 0 1 0 5.8 0a2.9 2.9 0 1 0 -5.8 0M926.05 486.24m-2.9 0a2.9 2.9 0 1 0 5.8 0a2.9 2.9 0 1 0 -5.8 0M927.85 486.24m-2.9 0a2.9 2.9 0 1 0 5.8 0a2.9 2.9 0 1 0 -5.8 0M929.65 486.24m-2.9 0a2.9 2.9 0 1 0 5.8 0a2.9 2.9 0 1 0 -5.8 0M931.45 486.24m-2.9 0a2.9 2.9 0 1 0 5.8 0a2.9 2.9 0 1 0 -5.8 0M933.25 486.24m-2.9 0a2.9 2.9 0 1 0 5.8 0a2.9 2.9 0 1 0 -5.8 0M935.04 486.24m-2.9 0a2.9 2.9 0 1 0 5.8 0a2.9 2.9 0 1 0 -5.8 0M936.84 486.24m-2.9 0a2.9 2.9 0 1 0 5.8 0a2.9 2.9 0 1 0 -5.8 0M938.64 483.79m-2.9 0a2.9 2.9 0 1 0 5.8 0a2.9 2.9 0 1 0 -5.8 0M940.44 483.79m-2.9 0a2.9 2.9 0 1 0 5.8 0a2.9 2.9 0 1 0 -5.8 0M942.24 483.79m-2.9 0a2.9 2.9 0 1 0 5.8 0a2.9 2.9 0 1 0 -5.8 0M944.04 483.79m-2.9 0a2.9 2.9 0 1 0 5.8 0a2.9 2.9 0 1 0 -5.8 0M945.84 483.79m-2.9 0a2.9 2.9 0 1 0 5.8 0a2.9 2.9 0 1 0 -5.8 0M947.64 483.79m-2.9 0a2.9 2.9 0 1 0 5.8 0a2.9 2.9 0 1 0 -5.8 0M949.44 481.34m-2.9 0a2.9 2.9 0 1 0 5.8 0a2.9 2.9 0 1 0 -5.8 0M951.24 481.34m-2.9 0a2.9 2.9 0 1 0 5.8 0a2.9 2.9 0 1 0 -5.8 0M953.04 481.34m-2.9 0a2.9 2.9 0 1 0 5.8 0a2.9 2.9 0 1 0 -5.8 0M954.84 481.34m-2.9 0a2.9 2.9 0 1 0 5.8 0a2.9 2.9 0 1 0 -5.8 0M956.64 481.34m-2.9 0a2.9 2.9 0 1 0 5.8 0a2.9 2.9 0 1 0 -5.8 0M958.44 478.9m-2.9 0a2.9 2.9 0 1 0 5.8 0a2.9 2.9 0 1 0 -5.8 0M960.24 478.9m-2.9 0a2.9 2.9 0 1 0 5.8 0a2.9 2.9 0 1 0 -5.8 0M962.04 478.9m-2.9 0a2.9 2.9 0 1 0 5.8 0a2.9 2.9 0 1 0 -5.8 0M886.81 488.68m-2.9 0a2.9 2.9 0 1 0 5.8 0a2.9 2.9 0 1 0 -5.8 0M888.68 488.68m-2.9 0a2.9 2.9 0 1 0 5.8 0a2.9 2.9 0 1 0 -5.8 0M890.55 488.68m-2.9 0a2.9 2.9 0 1 0 5.8 0a2.9 2.9 0 1 0 -5.8 0M892.42 491.13m-2.9 0a2.9 2.9 0 1 0 5.8 0a2.9 2.9 0 1 0 -5.8 0M894.29 491.13m-2.9 0a2.9 2.9 0 1 0 5.8 0a2.9 2.9 0 1 0 -5.8 0M896.16 491.13m-2.9 0a2.9 2.9 0 1 0 5.8 0a2.9 2.9 0 1 0 -5.8 0M898.03 491.13m-2.9 0a2.9 2.9 0 1 0 5.8 0a2.9 2.9 0 1 0 -5.8 0M899.9 491.13m-2.9 0a2.9 2.9 0 1 0 5.8 0a2.9 2.9 0 1 0 -5.8 0M901.77 493.57m-2.9 0a2.9 2.9 0 1 0 5.8 0a2.9 2.9 0 1 0 -5.8 0M903.64 493.57m-2.9 0a2.9 2.9 0 1 0 5.8 0a2.9 2.9 0 1 0 -5.8 0M905.51 493.57m-2.9 0a2.9 2.9 0 1 0 5.8 0a2.9 2.9 0 1 0 -5.8 0M907.38 493.57m-2.9 0a2.9 2.9 0 1 0 5.8 0a2.9 2.9 0 1 0 -5.8 0M909.25 493.57m-2.9 0a2.9 2.9 0 1 0 5.8 0a2.9 2.9 0 1 0 -5.8 0M911.12 496.02m-2.9 0a2.9 2.9 0 1 0 5.8 0a2.9 2.9 0 1 0 -5.8 0M912.99 496.02m-2.9 0a2.9 2.9 0 1 0 5.8 0a2.9 2.9 0 1 0 -5.8 0M914.86 496.02m-2.9 0a2.9 2.9 0 1 0 5.8 0a2.9 2.9 0 1 0 -5.8 0M916.73 496.02m-2.9 0a2.9 2.9 0 1 0 5.8 0a2.9 2.9 0 1 0 -5.8 0M918.6 496.02m-2.9 0a2.9 2.9 0 1 0 5.8 0a2.9 2.9 0 1 0 -5.8 0M920.47 496.02m-2.9 0a2.9 2.9 0 1 0 5.8 0a2.9 2.9 0 1 0 -5.8 0M922.34 498.47m-2.9 0a2.9 2.9 0 1 0 5.8 0a2.9 2.9 0 1 0 -5.8 0M924.21 498.47m-2.9 0a2.9 2.9 0 1 0 5.8 0a2.9 2.9 0 1 0 -5.8 0M926.08 498.47m-2.9 0a2.9 2.9 0 1 0 5.8 0a2.9 2.9 0 1 0 -5.8 0M927.95 498.47m-2.9 0a2.9 2.9 0 1 0 5.8 0a2.9 2.9 0 1 0 -5.8 0M929.82 496.02m-2.9 0a2.9 2.9 0 1 0 5.8 0a2.9 2.9 0 1 0 -5.8 0M931.69 496.02m-2.9 0a2.9 2.9 0 1 0 5.8 0a2.9 2.9 0 1 0 -5.8 0M933.56 496.02m-2.9 0a2.9 2.9 0 1 0 5.8 0a2.9 2.9 0 1 0 -5.8 0M935.43 496.02m-2.9 0a2.9 2.9 0 1 0 5.8 0a2.9 2.9 0 1 0 -5.8 0M937.3 496.02m-2.9 0a2.9 2.9 0 1 0 5.8 0a2.9 2.9 0 1 0 -5.8 0M939.17 496.02m-2.9 0a2.9 2.9 0 1 0 5.8 0a2.9 2.9 0 1 0 -5.8 0M941.04 493.57m-2.9 0a2.9 2.9 0 1 0 5.8 0a2.9 2.9 0 1 0 -5.8 0M942.91 493.57m-2.9 0a2.9 2.9 0 1 0 5.8 0a2.9 2.9 0 1 0 -5.8 0M944.78 493.57m-2.9 0a2.9 2.9 0 1 0 5.8 0a2.9 2.9 0 1 0 -5.8 0M946.65 493.57m-2.9 0a2.9 2.9 0 1 0 5.8 0a2.9 2.9 0 1 0 -5.8 0M948.52 493.57m-2.9 0a2.9 2.9 0 1 0 5.8 0a2.9 2.9 0 1 0 -5.8 0M950.39 491.13m-2.9 0a2.9 2.9 0 1 0 5.8 0a2.9 2.9 0 1 0 -5.8 0M952.26 491.13m-2.9 0a2.9 2.9 0 1 0 5.8 0a2.9 2.9 0 1 0 -5.8 0M954.14 491.13m-2.9 0a2.9 2.9 0 1 0 5.8 0a2.9 2.9 0 1 0 -5.8 0M956.01 491.13m-2.9 0a2.9 2.9 0 1 0 5.8 0a2.9 2.9 0 1 0 -5.8 0M957.88 491.13m-2.9 0a2.9 2.9 0 1 0 5.8 0a2.9 2.9 0 1 0 -5.8 0M959.75 488.68m-2.9 0a2.9 2.9 0 1 0 5.8 0a2.9 2.9 0 1 0 -5.8 0M961.62 488.68m-2.9 0a2.9 2.9 0 1 0 5.8 0a2.9 2.9 0 1 0 -5.8 0M963.49 488.68m-2.9 0a2.9 2.9 0 1 0 5.8 0a2.9 2.9 0 1 0 -5.8 0M888.25 498.47m-2.9 0a2.9 2.9 0 1 0 5.8 0a2.9 2.9 0 1 0 -5.8 0M891.21 498.47m-2.9 0a2.9 2.9 0 1 0 5.8 0a2.9 2.9 0 1 0 -5.8 0M894.16 500.91m-2.9 0a2.9 2.9 0 1 0 5.8 0a2.9 2.9 0 1 0 -5.8 0M897.11 500.91m-2.9 0a2.9 2.9 0 1 0 5.8 0a2.9 2.9 0 1 0 -5.8 0M900.06 500.91m-2.9 0a2.9 2.9 0 1 0 5.8 0a2.9 2.9 0 1 0 -5.8 0M903.01 500.91m-2.9 0a2.9 2.9 0 1 0 5.8 0a2.9 2.9 0 1 0 -5.8 0M905.96 500.91m-2.9 0a2.9 2.9 0 1 0 5.8 0a2.9 2.9 0 1 0 -5.8 0M908.91 503.36m-2.9 0a2.9 2.9 0 1 0 5.8 0a2.9 2.9 0 1 0 -5.8 0M911.87 503.36m-2.9 0a2.9 2.9 0 1 0 5.8 0a2.9 2.9 0 1 0 -5.8 0M914.82 503.36m-2.9 0a2.9 2.9 0 1 0 5.8 0a2.9 2.9 0 1 0 -5.8 0M917.77 503.36m-2.9 0a2.9 2.9 0 1 0 5.8 0a2.9 2.9 0 1 0 -5.8 0M920.72 503.36m-2.9 0a2.9 2.9 0 1 0 5.8 0a2.9 2.9 0 1 0 -5.8 0M923.67 503.36m-2.9 0a2.9 2.9 0 1 0 5.8 0a2.9 2.9 0 1 0 -5.8 0M926.62 503.36m-2.9 0a2.9 2.9 0 1 0 5.8 0a2.9 2.9 0 1 0 -5.8 0M929.57 503.36m-2.9 0a2.9 2.9 0 1 0 5.8 0a2.9 2.9 0 1 0 -5.8 0M932.53 503.36m-2.9 0a2.9 2.9 0 1 0 5.8 0a2.9 2.9 0 1 0 -5.8 0M935.48 503.36m-2.9 0a2.9 2.9 0 1 0 5.8 0a2.9 2.9 0 1 0 -5.8 0M938.43 503.36m-2.9 0a2.9 2.9 0 1 0 5.8 0a2.9 2.9 0 1 0 -5.8 0M941.38 503.36m-2.9 0a2.9 2.9 0 1 0 5.8 0a2.9 2.9 0 1 0 -5.8 0M944.33 500.91m-2.9 0a2.9 2.9 0 1 0 5.8 0a2.9 2.9 0 1 0 -5.8 0M947.28 500.91m-2.9 0a2.9 2.9 0 1 0 5.8 0a2.9 2.9 0 1 0 -5.8 0M950.23 500.91m-2.9 0a2.9 2.9 0 1 0 5.8 0a2.9 2.9 0 1 0 -5.8 0M953.19 500.91m-2.9 0a2.9 2.9 0 1 0 5.8 0a2.9 2.9 0 1 0 -5.8 0M956.14 500.91m-2.9 0a2.9 2.9 0 1 0 5.8 0a2.9 2.9 0 1 0 -5.8 0M959.09 498.47m-2.9 0a2.9 2.9 0 1 0 5.8 0a2.9 2.9 0 1 0 -5.8 0M962.04 498.47m-2.9 0a2.9 2.9 0 1 0 5.8 0a2.9 2.9 0 1 0 -5.8 0" fill="#000"/>
<path d="M883.6 473.87H967.2M925.4 448.26V500.64M903.9 448.26H946.9M903.9 500.64H946.9" fill="none" stroke="#fff" stroke-opacity="0.65" stroke-width="2.45"/>
<path d="M883.6 473.87H967.2M925.4 448.26V500.64M903.9 448.26H946.9M903.9 500.64H946.9" fill="none" stroke="#000" stroke-width="1.8"/>
<path d="M1052.59 390.91l2.75 -2.75l2.75 2.75l-2.75 2.75zM1043.77 393.52l2.75 -2.75l2.75 2.75l-2.75 2.75zM1056.93 403.21l2.75 -2.75l2.75 2.75l-2.75 2.75zM1039.28 405.67l2.75 -2.75l2.75 2.75l-2.75 2.75zM1048.11 405.67l2.75 -2.75l2.75 2.75l-2.75 2.75zM1070.1 415.51l2.75 -2.75l2.75 2.75l-2.75 2.75zM1025.97 417.97l2.75 -2.75l2.75 2.75l-2.75 2.75zM1061.42 417.97l2.75 -2.75l2.75 2.75l-2.75 2.75zM1034.94 420.28l2.75 -2.75l2.75 2.75l-2.75 2.75zM1043.77 422.74l2.75 -2.75l2.75 2.75l-2.75 2.75zM1052.59 422.74l2.75 -2.75l2.75 2.75l-2.75 2.75zM1074.58 425.35l2.75 -2.75l2.75 2.75l-2.75 2.75zM1021.63 427.81l2.75 -2.75l2.75 2.75l-2.75 2.75zM1030.6 427.81l2.75 -2.75l2.75 2.75l-2.75 2.75zM1065.76 427.81l2.75 -2.75l2.75 2.75l-2.75 2.75zM1056.93 430.27l2.75 -2.75l2.75 2.75l-2.75 2.75zM1039.28 432.58l2.75 -2.75l2.75 2.75l-2.75 2.75zM1048.11 432.58l2.75 -2.75l2.75 2.75l-2.75 2.75zM1021.63 437.64l2.75 -2.75l2.75 2.75l-2.75 2.75zM1030.6 437.64l2.75 -2.75l2.75 2.75l-2.75 2.75zM1074.58 437.64l2.75 -2.75l2.75 2.75l-2.75 2.75zM1065.76 439.81l2.75 -2.75l2.75 2.75l-2.75 2.75zM1039.28 442.27l2.75 -2.75l2.75 2.75l-2.75 2.75zM1048.11 444.73l2.75 -2.75l2.75 2.75l-2.75 2.75zM1056.93 444.73l2.75 -2.75l2.75 2.75l-2.75 2.75zM1012.95 449.8l2.75 -2.75l2.75 2.75l-2.75 2.75zM1021.63 449.8l2.75 -2.75l2.75 2.75l-2.75 2.75zM1074.58 449.8l2.75 -2.75l2.75 2.75l-2.75 2.75zM1083.41 447.05l2.75 -2.75l2.75 2.75l-2.75 2.75zM1065.76 452.11l2.75 -2.75l2.75 2.75l-2.75 2.75zM1030.6 454.28l2.75 -2.75l2.75 2.75l-2.75 2.75zM1039.28 454.28l2.75 -2.75l2.75 2.75l-2.75 2.75zM1048.11 454.28l2.75 -2.75l2.75 2.75l-2.75 2.75zM1056.93 454.28l2.75 -2.75l2.75 2.75l-2.75 2.75zM1011.35 456.88l2.9 -2.9l2.9 2.9l-2.9 2.9zM1015.95 459.33l2.9 -2.9l2.9 2.9l-2.9 2.9zM1020.54 459.33l2.9 -2.9l2.9 2.9l-2.9 2.9zM1025.14 461.78l2.9 -2.9l2.9 2.9l-2.9 2.9zM1029.73 461.78l2.9 -2.9l2.9 2.9l-2.9 2.9zM1034.32 464.22l2.9 -2.9l2.9 2.9l-2.9 2.9zM1038.92 464.22l2.9 -2.9l2.9 2.9l-2.9 2.9zM1043.51 466.67l2.9 -2.9l2.9 2.9l-2.9 2.9zM1048.1 466.67l2.9 -2.9l2.9 2.9l-2.9 2.9zM1052.7 466.67l2.9 -2.9l2.9 2.9l-2.9 2.9zM1057.29 464.22l2.9 -2.9l2.9 2.9l-2.9 2.9zM1061.88 464.22l2.9 -2.9l2.9 2.9l-2.9 2.9zM1066.48 461.78l2.9 -2.9l2.9 2.9l-2.9 2.9zM1071.07 461.78l2.9 -2.9l2.9 2.9l-2.9 2.9zM1075.66 459.33l2.9 -2.9l2.9 2.9l-2.9 2.9zM1080.26 459.33l2.9 -2.9l2.9 2.9l-2.9 2.9zM1084.85 456.88l2.9 -2.9l2.9 2.9l-2.9 2.9zM1012.08 466.67l2.9 -2.9l2.9 2.9l-2.9 2.9zM1015.19 466.67l2.9 -2.9l2.9 2.9l-2.9 2.9zM1018.31 469.11l2.9 -2.9l2.9 2.9l-2.9 2.9zM1021.42 469.11l2.9 -2.9l2.9 2.9l-2.9 2.9zM1024.53 469.11l2.9 -2.9l2.9 2.9l-2.9 2.9zM1027.65 469.11l2.9 -2.9l2.9 2.9l-2.9 2.9zM1030.76 471.56l2.9 -2.9l2.9 2.9l-2.9 2.9zM1033.87 471.56l2.9 -2.9l2.9 2.9l-2.9 2.9zM1036.99 471.56l2.9 -2.9l2.9 2.9l-2.9 2.9zM1040.1 474.01l2.9 -2.9l2.9 2.9l-2.9 2.9zM1043.21 474.01l2.9 -2.9l2.9 2.9l-2.9 2.9zM1046.33 474.01l2.9 -2.9l2.9 2.9l-2.9 2.9zM1049.44 474.01l2.9 -2.9l2.9 2.9l-2.9 2.9zM1052.56 474.01l2.9 -2.9l2.9 2.9l-2.9 2.9zM1055.67 474.01l2.9 -2.9l2.9 2.9l-2.9 2.9zM1058.78 471.56l2.9 -2.9l2.9 2.9l-2.9 2.9zM1061.9 471.56l2.9 -2.9l2.9 2.9l-2.9 2.9zM1065.01 471.56l2.9 -2.9l2.9 2.9l-2.9 2.9zM1068.12 469.11l2.9 -2.9l2.9 2.9l-2.9 2.9zM1071.24 469.11l2.9 -2.9l2.9 2.9l-2.9 2.9zM1074.35 469.11l2.9 -2.9l2.9 2.9l-2.9 2.9zM1077.47 469.11l2.9 -2.9l2.9 2.9l-2.9 2.9zM1080.58 466.67l2.9 -2.9l2.9 2.9l-2.9 2.9zM1083.69 466.67l2.9 -2.9l2.9 2.9l-2.9 2.9zM1009.18 476.45l2.9 -2.9l2.9 2.9l-2.9 2.9zM1010.9 476.45l2.9 -2.9l2.9 2.9l-2.9 2.9zM1012.62 476.45l2.9 -2.9l2.9 2.9l-2.9 2.9zM1014.34 476.45l2.9 -2.9l2.9 2.9l-2.9 2.9zM1016.06 478.9l2.9 -2.9l2.9 2.9l-2.9 2.9zM1017.78 478.9l2.9 -2.9l2.9 2.9l-2.9 2.9zM1019.5 478.9l2.9 -2.9l2.9 2.9l-2.9 2.9zM1021.22 478.9l2.9 -2.9l2.9 2.9l-2.9 2.9zM1022.94 478.9l2.9 -2.9l2.9 2.9l-2.9 2.9zM1024.66 478.9l2.9 -2.9l2.9 2.9l-2.9 2.9zM1026.38 481.34l2.9 -2.9l2.9 2.9l-2.9 2.9zM1028.1 481.34l2.9 -2.9l2.9 2.9l-2.9 2.9zM1029.82 481.34l2.9 -2.9l2.9 2.9l-2.9 2.9zM1031.54 481.34l2.9 -2.9l2.9 2.9l-2.9 2.9zM1033.26 481.34l2.9 -2.9l2.9 2.9l-2.9 2.9zM1034.99 481.34l2.9 -2.9l2.9 2.9l-2.9 2.9zM1036.71 481.34l2.9 -2.9l2.9 2.9l-2.9 2.9zM1038.43 483.79l2.9 -2.9l2.9 2.9l-2.9 2.9zM1040.15 483.79l2.9 -2.9l2.9 2.9l-2.9 2.9zM1041.87 483.79l2.9 -2.9l2.9 2.9l-2.9 2.9zM1043.59 483.79l2.9 -2.9l2.9 2.9l-2.9 2.9zM1045.31 483.79l2.9 -2.9l2.9 2.9l-2.9 2.9zM1047.03 483.79l2.9 -2.9l2.9 2.9l-2.9 2.9zM1048.75 483.79l2.9 -2.9l2.9 2.9l-2.9 2.9zM1050.47 483.79l2.9 -2.9l2.9 2.9l-2.9 2.9zM1052.19 483.79l2.9 -2.9l2.9 2.9l-2.9 2.9zM1053.91 483.79l2.9 -2.9l2.9 2.9l-2.9 2.9zM1055.63 483.79l2.9 -2.9l2.9 2.9l-2.9 2.9zM1057.35 483.79l2.9 -2.9l2.9 2.9l-2.9 2.9zM1059.07 481.34l2.9 -2.9l2.9 2.9l-2.9 2.9zM1060.79 481.34l2.9 -2.9l2.9 2.9l-2.9 2.9zM1062.51 481.34l2.9 -2.9l2.9 2.9l-2.9 2.9zM1064.23 481.34l2.9 -2.9l2.9 2.9l-2.9 2.9zM1065.95 481.34l2.9 -2.9l2.9 2.9l-2.9 2.9zM1067.67 481.34l2.9 -2.9l2.9 2.9l-2.9 2.9zM1069.39 481.34l2.9 -2.9l2.9 2.9l-2.9 2.9zM1071.11 478.9l2.9 -2.9l2.9 2.9l-2.9 2.9zM1072.83 478.9l2.9 -2.9l2.9 2.9l-2.9 2.9zM1074.55 478.9l2.9 -2.9l2.9 2.9l-2.9 2.9zM1076.27 478.9l2.9 -2.9l2.9 2.9l-2.9 2.9zM1077.99 478.9l2.9 -2.9l2.9 2.9l-2.9 2.9zM1079.71 478.9l2.9 -2.9l2.9 2.9l-2.9 2.9zM1081.43 476.45l2.9 -2.9l2.9 2.9l-2.9 2.9zM1083.15 476.45l2.9 -2.9l2.9 2.9l-2.9 2.9zM1084.87 476.45l2.9 -2.9l2.9 2.9l-2.9 2.9zM1086.59 476.45l2.9 -2.9l2.9 2.9l-2.9 2.9zM1010.63 486.24l2.9 -2.9l2.9 2.9l-2.9 2.9zM1012.91 486.24l2.9 -2.9l2.9 2.9l-2.9 2.9zM1015.19 486.24l2.9 -2.9l2.9 2.9l-2.9 2.9zM1017.47 488.68l2.9 -2.9l2.9 2.9l-2.9 2.9zM1019.75 488.68l2.9 -2.9l2.9 2.9l-2.9 2.9zM1022.03 488.68l2.9 -2.9l2.9 2.9l-2.9 2.9zM1024.31 488.68l2.9 -2.9l2.9 2.9l-2.9 2.9zM1026.59 488.68l2.9 -2.9l2.9 2.9l-2.9 2.9zM1028.87 491.13l2.9 -2.9l2.9 2.9l-2.9 2.9zM1031.15 491.13l2.9 -2.9l2.9 2.9l-2.9 2.9zM1033.43 491.13l2.9 -2.9l2.9 2.9l-2.9 2.9zM1035.71 491.13l2.9 -2.9l2.9 2.9l-2.9 2.9zM1037.99 491.13l2.9 -2.9l2.9 2.9l-2.9 2.9zM1040.27 493.57l2.9 -2.9l2.9 2.9l-2.9 2.9zM1042.55 493.57l2.9 -2.9l2.9 2.9l-2.9 2.9zM1044.83 493.57l2.9 -2.9l2.9 2.9l-2.9 2.9zM1047.11 493.57l2.9 -2.9l2.9 2.9l-2.9 2.9zM1049.39 493.57l2.9 -2.9l2.9 2.9l-2.9 2.9zM1051.67 493.57l2.9 -2.9l2.9 2.9l-2.9 2.9zM1053.95 493.57l2.9 -2.9l2.9 2.9l-2.9 2.9zM1056.23 493.57l2.9 -2.9l2.9 2.9l-2.9 2.9zM1058.51 491.13l2.9 -2.9l2.9 2.9l-2.9 2.9zM1060.79 491.13l2.9 -2.9l2.9 2.9l-2.9 2.9zM1063.07 491.13l2.9 -2.9l2.9 2.9l-2.9 2.9zM1065.35 491.13l2.9 -2.9l2.9 2.9l-2.9 2.9zM1067.62 491.13l2.9 -2.9l2.9 2.9l-2.9 2.9zM1069.9 488.68l2.9 -2.9l2.9 2.9l-2.9 2.9zM1072.18 488.68l2.9 -2.9l2.9 2.9l-2.9 2.9zM1074.46 488.68l2.9 -2.9l2.9 2.9l-2.9 2.9zM1076.74 488.68l2.9 -2.9l2.9 2.9l-2.9 2.9zM1079.02 488.68l2.9 -2.9l2.9 2.9l-2.9 2.9zM1081.3 486.24l2.9 -2.9l2.9 2.9l-2.9 2.9zM1083.58 486.24l2.9 -2.9l2.9 2.9l-2.9 2.9zM1085.86 486.24l2.9 -2.9l2.9 2.9l-2.9 2.9zM1009.18 496.02l2.9 -2.9l2.9 2.9l-2.9 2.9zM1013.75 496.02l2.9 -2.9l2.9 2.9l-2.9 2.9zM1018.32 498.47l2.9 -2.9l2.9 2.9l-2.9 2.9zM1022.89 498.47l2.9 -2.9l2.9 2.9l-2.9 2.9zM1027.46 500.91l2.9 -2.9l2.9 2.9l-2.9 2.9zM1032.03 500.91l2.9 -2.9l2.9 2.9l-2.9 2.9zM1036.6 500.91l2.9 -2.9l2.9 2.9l-2.9 2.9zM1041.17 503.36l2.9 -2.9l2.9 2.9l-2.9 2.9zM1045.74 503.36l2.9 -2.9l2.9 2.9l-2.9 2.9zM1050.32 503.36l2.9 -2.9l2.9 2.9l-2.9 2.9zM1054.89 503.36l2.9 -2.9l2.9 2.9l-2.9 2.9zM1059.46 500.91l2.9 -2.9l2.9 2.9l-2.9 2.9zM1064.03 500.91l2.9 -2.9l2.9 2.9l-2.9 2.9zM1068.6 500.91l2.9 -2.9l2.9 2.9l-2.9 2.9zM1073.17 498.47l2.9 -2.9l2.9 2.9l-2.9 2.9zM1077.74 498.47l2.9 -2.9l2.9 2.9l-2.9 2.9zM1082.31 496.02l2.9 -2.9l2.9 2.9l-2.9 2.9zM1086.88 496.02l2.9 -2.9l2.9 2.9l-2.9 2.9z" fill="#9b9b9b"/>
<path d="M1009.2 470.78H1092.8M1051 446.61V494.94M1029.5 446.61H1072.5M1029.5 494.94H1072.5" fill="none" stroke="#9b9b9b" stroke-width="1.8"/>
<path d="M1251.3 311.15V508.25H1544.7M1244.1 508.25H1252.7M1244.1 469.11H1251.3M1244.1 429.97H1251.3M1244.1 390.83H1251.3M1244.1 351.69H1251.3M1244.1 312.55H1252.7M1335.2 508.25V516.35M1460.8 508.25V516.35" fill="none" stroke="#000" stroke-width="2.8" stroke-linejoin="miter"/>
<g font-family='"Liberation Serif", serif' font-weight="bold" font-size="16.3" text-anchor="end">
<text x="1243.3" y="513.8">0.00</text>
<text x="1243.3" y="474.66">0.02</text>
<text x="1243.3" y="435.52">0.04</text>
<text x="1243.3" y="396.38">0.06</text>
<text x="1243.3" y="357.24">0.08</text>
<text x="1243.3" y="318.1">0.10</text>
</g>
<g font-family='"Liberation Serif", serif' font-weight="bold" font-size="16.1" text-anchor="end">
<text transform="translate(1338.6 526.25) rotate(-45)">MSA</text>
<text transform="translate(1464.2 526.25) rotate(-45)">HC</text>
</g>
<text transform="translate(1203.7 408.4) rotate(-90)" text-anchor="middle" font-weight="bold" font-size="16"><tspan font-family='"Liberation Serif", serif'>Basophilia, 10</tspan><tspan font-family='"Liberation Serif", serif' font-size="11.5" dy="-6">9</tspan><tspan font-family='"Liberation Serif", serif' dy="6">/L</tspan></text>
<path d="M1334.71 332.3m-2.95 0a2.95 2.95 0 1 0 5.9 0a2.95 2.95 0 1 0 -5.9 0M1334.71 351.83m-2.95 0a2.95 2.95 0 1 0 5.9 0a2.95 2.95 0 1 0 -5.9 0M1330.37 371.36m-2.95 0a2.95 2.95 0 1 0 5.9 0a2.95 2.95 0 1 0 -5.9 0M1339.2 371.36m-2.95 0a2.95 2.95 0 1 0 5.9 0a2.95 2.95 0 1 0 -5.9 0M1317.06 391.18m-2.95 0a2.95 2.95 0 1 0 5.9 0a2.95 2.95 0 1 0 -5.9 0M1325.74 391.18m-2.95 0a2.95 2.95 0 1 0 5.9 0a2.95 2.95 0 1 0 -5.9 0M1334.71 391.18m-2.95 0a2.95 2.95 0 1 0 5.9 0a2.95 2.95 0 1 0 -5.9 0M1343.54 391.18m-2.95 0a2.95 2.95 0 1 0 5.9 0a2.95 2.95 0 1 0 -5.9 0M1352.36 391.18m-2.95 0a2.95 2.95 0 1 0 5.9 0a2.95 2.95 0 1 0 -5.9 0M1334.71 508.22m-2.95 0a2.95 2.95 0 1 0 5.9 0a2.95 2.95 0 1 0 -5.9 0M1308.09 410.42m-2.9 0a2.9 2.9 0 1 0 5.8 0a2.9 2.9 0 1 0 -5.8 0M1316.94 410.42m-2.9 0a2.9 2.9 0 1 0 5.8 0a2.9 2.9 0 1 0 -5.8 0M1325.79 410.42m-2.9 0a2.9 2.9 0 1 0 5.8 0a2.9 2.9 0 1 0 -5.8 0M1334.64 410.42m-2.9 0a2.9 2.9 0 1 0 5.8 0a2.9 2.9 0 1 0 -5.8 0M1343.49 410.42m-2.9 0a2.9 2.9 0 1 0 5.8 0a2.9 2.9 0 1 0 -5.8 0M1352.34 410.42m-2.9 0a2.9 2.9 0 1 0 5.8 0a2.9 2.9 0 1 0 -5.8 0M1361.19 410.42m-2.9 0a2.9 2.9 0 1 0 5.8 0a2.9 2.9 0 1 0 -5.8 0M1295.36 430.39m-2.9 0a2.9 2.9 0 1 0 5.8 0a2.9 2.9 0 1 0 -5.8 0M1299.97 430.39m-2.9 0a2.9 2.9 0 1 0 5.8 0a2.9 2.9 0 1 0 -5.8 0M1304.59 430.39m-2.9 0a2.9 2.9 0 1 0 5.8 0a2.9 2.9 0 1 0 -5.8 0M1309.2 430.39m-2.9 0a2.9 2.9 0 1 0 5.8 0a2.9 2.9 0 1 0 -5.8 0M1313.81 430.39m-2.9 0a2.9 2.9 0 1 0 5.8 0a2.9 2.9 0 1 0 -5.8 0M1318.42 430.39m-2.9 0a2.9 2.9 0 1 0 5.8 0a2.9 2.9 0 1 0 -5.8 0M1323.04 430.39m-2.9 0a2.9 2.9 0 1 0 5.8 0a2.9 2.9 0 1 0 -5.8 0M1327.65 430.39m-2.9 0a2.9 2.9 0 1 0 5.8 0a2.9 2.9 0 1 0 -5.8 0M1332.26 430.39m-2.9 0a2.9 2.9 0 1 0 5.8 0a2.9 2.9 0 1 0 -5.8 0M1336.87 430.39m-2.9 0a2.9 2.9 0 1 0 5.8 0a2.9 2.9 0 1 0 -5.8 0M1341.49 430.39m-2.9 0a2.9 2.9 0 1 0 5.8 0a2.9 2.9 0 1 0 -5.8 0M1346.1 430.39m-2.9 0a2.9 2.9 0 1 0 5.8 0a2.9 2.9 0 1 0 -5.8 0M1350.71 430.39m-2.9 0a2.9 2.9 0 1 0 5.8 0a2.9 2.9 0 1 0 -5.8 0M1355.33 430.39m-2.9 0a2.9 2.9 0 1 0 5.8 0a2.9 2.9 0 1 0 -5.8 0M1359.94 430.39m-2.9 0a2.9 2.9 0 1 0 5.8 0a2.9 2.9 0 1 0 -5.8 0M1364.55 430.39m-2.9 0a2.9 2.9 0 1 0 5.8 0a2.9 2.9 0 1 0 -5.8 0M1369.16 430.39m-2.9 0a2.9 2.9 0 1 0 5.8 0a2.9 2.9 0 1 0 -5.8 0M1373.78 430.39m-2.9 0a2.9 2.9 0 1 0 5.8 0a2.9 2.9 0 1 0 -5.8 0M1298.25 449.92m-2.9 0a2.9 2.9 0 1 0 5.8 0a2.9 2.9 0 1 0 -5.8 0M1300.34 449.92m-2.9 0a2.9 2.9 0 1 0 5.8 0a2.9 2.9 0 1 0 -5.8 0M1302.43 449.92m-2.9 0a2.9 2.9 0 1 0 5.8 0a2.9 2.9 0 1 0 -5.8 0M1304.52 449.92m-2.9 0a2.9 2.9 0 1 0 5.8 0a2.9 2.9 0 1 0 -5.8 0M1306.6 449.92m-2.9 0a2.9 2.9 0 1 0 5.8 0a2.9 2.9 0 1 0 -5.8 0M1308.69 449.92m-2.9 0a2.9 2.9 0 1 0 5.8 0a2.9 2.9 0 1 0 -5.8 0M1310.78 449.92m-2.9 0a2.9 2.9 0 1 0 5.8 0a2.9 2.9 0 1 0 -5.8 0M1312.87 449.92m-2.9 0a2.9 2.9 0 1 0 5.8 0a2.9 2.9 0 1 0 -5.8 0M1314.95 449.92m-2.9 0a2.9 2.9 0 1 0 5.8 0a2.9 2.9 0 1 0 -5.8 0M1317.04 449.92m-2.9 0a2.9 2.9 0 1 0 5.8 0a2.9 2.9 0 1 0 -5.8 0M1319.13 449.92m-2.9 0a2.9 2.9 0 1 0 5.8 0a2.9 2.9 0 1 0 -5.8 0M1321.22 449.92m-2.9 0a2.9 2.9 0 1 0 5.8 0a2.9 2.9 0 1 0 -5.8 0M1323.3 449.92m-2.9 0a2.9 2.9 0 1 0 5.8 0a2.9 2.9 0 1 0 -5.8 0M1325.39 449.92m-2.9 0a2.9 2.9 0 1 0 5.8 0a2.9 2.9 0 1 0 -5.8 0M1327.48 449.92m-2.9 0a2.9 2.9 0 1 0 5.8 0a2.9 2.9 0 1 0 -5.8 0M1329.57 449.92m-2.9 0a2.9 2.9 0 1 0 5.8 0a2.9 2.9 0 1 0 -5.8 0M1331.65 449.92m-2.9 0a2.9 2.9 0 1 0 5.8 0a2.9 2.9 0 1 0 -5.8 0M1333.74 449.92m-2.9 0a2.9 2.9 0 1 0 5.8 0a2.9 2.9 0 1 0 -5.8 0M1335.83 449.92m-2.9 0a2.9 2.9 0 1 0 5.8 0a2.9 2.9 0 1 0 -5.8 0M1337.92 449.92m-2.9 0a2.9 2.9 0 1 0 5.8 0a2.9 2.9 0 1 0 -5.8 0M1340 449.92m-2.9 0a2.9 2.9 0 1 0 5.8 0a2.9 2.9 0 1 0 -5.8 0M1342.09 449.92m-2.9 0a2.9 2.9 0 1 0 5.8 0a2.9 2.9 0 1 0 -5.8 0M1344.18 449.92m-2.9 0a2.9 2.9 0 1 0 5.8 0a2.9 2.9 0 1 0 -5.8 0M1346.27 449.92m-2.9 0a2.9 2.9 0 1 0 5.8 0a2.9 2.9 0 1 0 -5.8 0M1348.35 449.92m-2.9 0a2.9 2.9 0 1 0 5.8 0a2.9 2.9 0 1 0 -5.8 0M1350.44 449.92m-2.9 0a2.9 2.9 0 1 0 5.8 0a2.9 2.9 0 1 0 -5.8 0M1352.53 449.92m-2.9 0a2.9 2.9 0 1 0 5.8 0a2.9 2.9 0 1 0 -5.8 0M1354.62 449.92m-2.9 0a2.9 2.9 0 1 0 5.8 0a2.9 2.9 0 1 0 -5.8 0M1356.7 449.92m-2.9 0a2.9 2.9 0 1 0 5.8 0a2.9 2.9 0 1 0 -5.8 0M1358.79 449.92m-2.9 0a2.9 2.9 0 1 0 5.8 0a2.9 2.9 0 1 0 -5.8 0M1360.88 449.92m-2.9 0a2.9 2.9 0 1 0 5.8 0a2.9 2.9 0 1 0 -5.8 0M1362.97 449.92m-2.9 0a2.9 2.9 0 1 0 5.8 0a2.9 2.9 0 1 0 -5.8 0M1365.05 449.92m-2.9 0a2.9 2.9 0 1 0 5.8 0a2.9 2.9 0 1 0 -5.8 0M1367.14 449.92m-2.9 0a2.9 2.9 0 1 0 5.8 0a2.9 2.9 0 1 0 -5.8 0M1369.23 449.92m-2.9 0a2.9 2.9 0 1 0 5.8 0a2.9 2.9 0 1 0 -5.8 0M1371.32 449.92m-2.9 0a2.9 2.9 0 1 0 5.8 0a2.9 2.9 0 1 0 -5.8 0M1296.08 469.45m-2.9 0a2.9 2.9 0 1 0 5.8 0a2.9 2.9 0 1 0 -5.8 0M1297.68 469.45m-2.9 0a2.9 2.9 0 1 0 5.8 0a2.9 2.9 0 1 0 -5.8 0M1299.27 469.45m-2.9 0a2.9 2.9 0 1 0 5.8 0a2.9 2.9 0 1 0 -5.8 0M1300.87 469.45m-2.9 0a2.9 2.9 0 1 0 5.8 0a2.9 2.9 0 1 0 -5.8 0M1302.46 469.45m-2.9 0a2.9 2.9 0 1 0 5.8 0a2.9 2.9 0 1 0 -5.8 0M1304.06 469.45m-2.9 0a2.9 2.9 0 1 0 5.8 0a2.9 2.9 0 1 0 -5.8 0M1305.65 469.45m-2.9 0a2.9 2.9 0 1 0 5.8 0a2.9 2.9 0 1 0 -5.8 0M1307.25 469.45m-2.9 0a2.9 2.9 0 1 0 5.8 0a2.9 2.9 0 1 0 -5.8 0M1308.84 469.45m-2.9 0a2.9 2.9 0 1 0 5.8 0a2.9 2.9 0 1 0 -5.8 0M1310.43 469.45m-2.9 0a2.9 2.9 0 1 0 5.8 0a2.9 2.9 0 1 0 -5.8 0M1312.03 469.45m-2.9 0a2.9 2.9 0 1 0 5.8 0a2.9 2.9 0 1 0 -5.8 0M1313.62 469.45m-2.9 0a2.9 2.9 0 1 0 5.8 0a2.9 2.9 0 1 0 -5.8 0M1315.22 469.45m-2.9 0a2.9 2.9 0 1 0 5.8 0a2.9 2.9 0 1 0 -5.8 0M1316.81 469.45m-2.9 0a2.9 2.9 0 1 0 5.8 0a2.9 2.9 0 1 0 -5.8 0M1318.41 469.45m-2.9 0a2.9 2.9 0 1 0 5.8 0a2.9 2.9 0 1 0 -5.8 0M1320 469.45m-2.9 0a2.9 2.9 0 1 0 5.8 0a2.9 2.9 0 1 0 -5.8 0M1321.59 469.45m-2.9 0a2.9 2.9 0 1 0 5.8 0a2.9 2.9 0 1 0 -5.8 0M1323.19 469.45m-2.9 0a2.9 2.9 0 1 0 5.8 0a2.9 2.9 0 1 0 -5.8 0M1324.78 469.45m-2.9 0a2.9 2.9 0 1 0 5.8 0a2.9 2.9 0 1 0 -5.8 0M1326.38 469.45m-2.9 0a2.9 2.9 0 1 0 5.8 0a2.9 2.9 0 1 0 -5.8 0M1327.97 469.45m-2.9 0a2.9 2.9 0 1 0 5.8 0a2.9 2.9 0 1 0 -5.8 0M1329.57 469.45m-2.9 0a2.9 2.9 0 1 0 5.8 0a2.9 2.9 0 1 0 -5.8 0M1331.16 469.45m-2.9 0a2.9 2.9 0 1 0 5.8 0a2.9 2.9 0 1 0 -5.8 0M1332.76 469.45m-2.9 0a2.9 2.9 0 1 0 5.8 0a2.9 2.9 0 1 0 -5.8 0M1334.35 469.45m-2.9 0a2.9 2.9 0 1 0 5.8 0a2.9 2.9 0 1 0 -5.8 0M1335.94 469.45m-2.9 0a2.9 2.9 0 1 0 5.8 0a2.9 2.9 0 1 0 -5.8 0M1337.54 469.45m-2.9 0a2.9 2.9 0 1 0 5.8 0a2.9 2.9 0 1 0 -5.8 0M1339.13 469.45m-2.9 0a2.9 2.9 0 1 0 5.8 0a2.9 2.9 0 1 0 -5.8 0M1340.73 469.45m-2.9 0a2.9 2.9 0 1 0 5.8 0a2.9 2.9 0 1 0 -5.8 0M1342.32 469.45m-2.9 0a2.9 2.9 0 1 0 5.8 0a2.9 2.9 0 1 0 -5.8 0M1343.92 469.45m-2.9 0a2.9 2.9 0 1 0 5.8 0a2.9 2.9 0 1 0 -5.8 0M1345.51 469.45m-2.9 0a2.9 2.9 0 1 0 5.8 0a2.9 2.9 0 1 0 -5.8 0M1347.1 469.45m-2.9 0a2.9 2.9 0 1 0 5.8 0a2.9 2.9 0 1 0 -5.8 0M1348.7 469.45m-2.9 0a2.9 2.9 0 1 0 5.8 0a2.9 2.9 0 1 0 -5.8 0M1350.29 469.45m-2.9 0a2.9 2.9 0 1 0 5.8 0a2.9 2.9 0 1 0 -5.8 0M1351.89 469.45m-2.9 0a2.9 2.9 0 1 0 5.8 0a2.9 2.9 0 1 0 -5.8 0M1353.48 469.45m-2.9 0a2.9 2.9 0 1 0 5.8 0a2.9 2.9 0 1 0 -5.8 0M1355.08 469.45m-2.9 0a2.9 2.9 0 1 0 5.8 0a2.9 2.9 0 1 0 -5.8 0M1356.67 469.45m-2.9 0a2.9 2.9 0 1 0 5.8 0a2.9 2.9 0 1 0 -5.8 0M1358.27 469.45m-2.9 0a2.9 2.9 0 1 0 5.8 0a2.9 2.9 0 1 0 -5.8 0M1359.86 469.45m-2.9 0a2.9 2.9 0 1 0 5.8 0a2.9 2.9 0 1 0 -5.8 0M1361.45 469.45m-2.9 0a2.9 2.9 0 1 0 5.8 0a2.9 2.9 0 1 0 -5.8 0M1363.05 469.45m-2.9 0a2.9 2.9 0 1 0 5.8 0a2.9 2.9 0 1 0 -5.8 0M1364.64 469.45m-2.9 0a2.9 2.9 0 1 0 5.8 0a2.9 2.9 0 1 0 -5.8 0M1366.24 469.45m-2.9 0a2.9 2.9 0 1 0 5.8 0a2.9 2.9 0 1 0 -5.8 0M1367.83 469.45m-2.9 0a2.9 2.9 0 1 0 5.8 0a2.9 2.9 0 1 0 -5.8 0M1369.43 469.45m-2.9 0a2.9 2.9 0 1 0 5.8 0a2.9 2.9 0 1 0 -5.8 0M1371.02 469.45m-2.9 0a2.9 2.9 0 1 0 5.8 0a2.9 2.9 0 1 0 -5.8 0M1372.62 469.45m-2.9 0a2.9 2.9 0 1 0 5.8 0a2.9 2.9 0 1 0 -5.8 0M1374.21 469.45m-2.9 0a2.9 2.9 0 1 0 5.8 0a2.9 2.9 0 1 0 -5.8 0M1298.98 488.84m-2.9 0a2.9 2.9 0 1 0 5.8 0a2.9 2.9 0 1 0 -5.8 0M1300.81 488.84m-2.9 0a2.9 2.9 0 1 0 5.8 0a2.9 2.9 0 1 0 -5.8 0M1302.65 488.84m-2.9 0a2.9 2.9 0 1 0 5.8 0a2.9 2.9 0 1 0 -5.8 0M1304.49 488.84m-2.9 0a2.9 2.9 0 1 0 5.8 0a2.9 2.9 0 1 0 -5.8 0M1306.32 488.84m-2.9 0a2.9 2.9 0 1 0 5.8 0a2.9 2.9 0 1 0 -5.8 0M1308.16 488.84m-2.9 0a2.9 2.9 0 1 0 5.8 0a2.9 2.9 0 1 0 -5.8 0M1310 488.84m-2.9 0a2.9 2.9 0 1 0 5.8 0a2.9 2.9 0 1 0 -5.8 0M1311.83 488.84m-2.9 0a2.9 2.9 0 1 0 5.8 0a2.9 2.9 0 1 0 -5.8 0M1313.67 488.84m-2.9 0a2.9 2.9 0 1 0 5.8 0a2.9 2.9 0 1 0 -5.8 0M1315.5 488.84m-2.9 0a2.9 2.9 0 1 0 5.8 0a2.9 2.9 0 1 0 -5.8 0M1317.34 488.84m-2.9 0a2.9 2.9 0 1 0 5.8 0a2.9 2.9 0 1 0 -5.8 0M1319.18 488.84m-2.9 0a2.9 2.9 0 1 0 5.8 0a2.9 2.9 0 1 0 -5.8 0M1321.01 488.84m-2.9 0a2.9 2.9 0 1 0 5.8 0a2.9 2.9 0 1 0 -5.8 0M1322.85 488.84m-2.9 0a2.9 2.9 0 1 0 5.8 0a2.9 2.9 0 1 0 -5.8 0M1324.69 488.84m-2.9 0a2.9 2.9 0 1 0 5.8 0a2.9 2.9 0 1 0 -5.8 0M1326.52 488.84m-2.9 0a2.9 2.9 0 1 0 5.8 0a2.9 2.9 0 1 0 -5.8 0M1328.36 488.84m-2.9 0a2.9 2.9 0 1 0 5.8 0a2.9 2.9 0 1 0 -5.8 0M1330.19 488.84m-2.9 0a2.9 2.9 0 1 0 5.8 0a2.9 2.9 0 1 0 -5.8 0M1332.03 488.84m-2.9 0a2.9 2.9 0 1 0 5.8 0a2.9 2.9 0 1 0 -5.8 0M1333.87 488.84m-2.9 0a2.9 2.9 0 1 0 5.8 0a2.9 2.9 0 1 0 -5.8 0M1335.7 488.84m-2.9 0a2.9 2.9 0 1 0 5.8 0a2.9 2.9 0 1 0 -5.8 0M1337.54 488.84m-2.9 0a2.9 2.9 0 1 0 5.8 0a2.9 2.9 0 1 0 -5.8 0M1339.38 488.84m-2.9 0a2.9 2.9 0 1 0 5.8 0a2.9 2.9 0 1 0 -5.8 0M1341.21 488.84m-2.9 0a2.9 2.9 0 1 0 5.8 0a2.9 2.9 0 1 0 -5.8 0M1343.05 488.84m-2.9 0a2.9 2.9 0 1 0 5.8 0a2.9 2.9 0 1 0 -5.8 0M1344.88 488.84m-2.9 0a2.9 2.9 0 1 0 5.8 0a2.9 2.9 0 1 0 -5.8 0M1346.72 488.84m-2.9 0a2.9 2.9 0 1 0 5.8 0a2.9 2.9 0 1 0 -5.8 0M1348.56 488.84m-2.9 0a2.9 2.9 0 1 0 5.8 0a2.9 2.9 0 1 0 -5.8 0M1350.39 488.84m-2.9 0a2.9 2.9 0 1 0 5.8 0a2.9 2.9 0 1 0 -5.8 0M1352.23 488.84m-2.9 0a2.9 2.9 0 1 0 5.8 0a2.9 2.9 0 1 0 -5.8 0M1354.07 488.84m-2.9 0a2.9 2.9 0 1 0 5.8 0a2.9 2.9 0 1 0 -5.8 0M1355.9 488.84m-2.9 0a2.9 2.9 0 1 0 5.8 0a2.9 2.9 0 1 0 -5.8 0M1357.74 488.84m-2.9 0a2.9 2.9 0 1 0 5.8 0a2.9 2.9 0 1 0 -5.8 0M1359.57 488.84m-2.9 0a2.9 2.9 0 1 0 5.8 0a2.9 2.9 0 1 0 -5.8 0M1361.41 488.84m-2.9 0a2.9 2.9 0 1 0 5.8 0a2.9 2.9 0 1 0 -5.8 0M1363.25 488.84m-2.9 0a2.9 2.9 0 1 0 5.8 0a2.9 2.9 0 1 0 -5.8 0M1365.08 488.84m-2.9 0a2.9 2.9 0 1 0 5.8 0a2.9 2.9 0 1 0 -5.8 0M1366.92 488.84m-2.9 0a2.9 2.9 0 1 0 5.8 0a2.9 2.9 0 1 0 -5.8 0M1368.76 488.84m-2.9 0a2.9 2.9 0 1 0 5.8 0a2.9 2.9 0 1 0 -5.8 0M1370.59 488.84m-2.9 0a2.9 2.9 0 1 0 5.8 0a2.9 2.9 0 1 0 -5.8 0" fill="#000"/>
<path d="M1293.4 459.76H1377M1335.2 430.39V488.84" fill="none" stroke="#000" stroke-width="1.8"/>
<path d="M1457.67 508.21l2.75 -2.75l2.75 2.75l-2.75 2.75zM1448.55 371.35l2.9 -2.9l2.9 2.9l-2.9 2.9zM1457.38 371.35l2.9 -2.9l2.9 2.9l-2.9 2.9zM1466.2 371.35l2.9 -2.9l2.9 2.9l-2.9 2.9zM1448.55 390.88l2.9 -2.9l2.9 2.9l-2.9 2.9zM1457.38 390.88l2.9 -2.9l2.9 2.9l-2.9 2.9zM1466.2 390.88l2.9 -2.9l2.9 2.9l-2.9 2.9zM1431.05 410.41l2.9 -2.9l2.9 2.9l-2.9 2.9zM1439.85 410.41l2.9 -2.9l2.9 2.9l-2.9 2.9zM1448.65 410.41l2.9 -2.9l2.9 2.9l-2.9 2.9zM1457.45 410.41l2.9 -2.9l2.9 2.9l-2.9 2.9zM1466.25 410.41l2.9 -2.9l2.9 2.9l-2.9 2.9zM1475.05 410.41l2.9 -2.9l2.9 2.9l-2.9 2.9zM1483.85 410.41l2.9 -2.9l2.9 2.9l-2.9 2.9zM1419.91 430.23l2.9 -2.9l2.9 2.9l-2.9 2.9zM1427.43 430.23l2.9 -2.9l2.9 2.9l-2.9 2.9zM1434.95 430.23l2.9 -2.9l2.9 2.9l-2.9 2.9zM1442.48 430.23l2.9 -2.9l2.9 2.9l-2.9 2.9zM1450 430.23l2.9 -2.9l2.9 2.9l-2.9 2.9zM1457.52 430.23l2.9 -2.9l2.9 2.9l-2.9 2.9zM1465.05 430.23l2.9 -2.9l2.9 2.9l-2.9 2.9zM1472.57 430.23l2.9 -2.9l2.9 2.9l-2.9 2.9zM1480.09 430.23l2.9 -2.9l2.9 2.9l-2.9 2.9zM1487.62 430.23l2.9 -2.9l2.9 2.9l-2.9 2.9zM1495.14 430.23l2.9 -2.9l2.9 2.9l-2.9 2.9zM1417.01 449.91l2.9 -2.9l2.9 2.9l-2.9 2.9zM1418.81 449.91l2.9 -2.9l2.9 2.9l-2.9 2.9zM1420.62 449.91l2.9 -2.9l2.9 2.9l-2.9 2.9zM1422.42 449.91l2.9 -2.9l2.9 2.9l-2.9 2.9zM1424.22 449.91l2.9 -2.9l2.9 2.9l-2.9 2.9zM1426.02 449.91l2.9 -2.9l2.9 2.9l-2.9 2.9zM1427.82 449.91l2.9 -2.9l2.9 2.9l-2.9 2.9zM1429.62 449.91l2.9 -2.9l2.9 2.9l-2.9 2.9zM1431.42 449.91l2.9 -2.9l2.9 2.9l-2.9 2.9zM1433.22 449.91l2.9 -2.9l2.9 2.9l-2.9 2.9zM1435.02 449.91l2.9 -2.9l2.9 2.9l-2.9 2.9zM1436.82 449.91l2.9 -2.9l2.9 2.9l-2.9 2.9zM1438.62 449.91l2.9 -2.9l2.9 2.9l-2.9 2.9zM1440.42 449.91l2.9 -2.9l2.9 2.9l-2.9 2.9zM1442.22 449.91l2.9 -2.9l2.9 2.9l-2.9 2.9zM1444.02 449.91l2.9 -2.9l2.9 2.9l-2.9 2.9zM1445.82 449.91l2.9 -2.9l2.9 2.9l-2.9 2.9zM1447.62 449.91l2.9 -2.9l2.9 2.9l-2.9 2.9zM1449.42 449.91l2.9 -2.9l2.9 2.9l-2.9 2.9zM1451.22 449.91l2.9 -2.9l2.9 2.9l-2.9 2.9zM1453.02 449.91l2.9 -2.9l2.9 2.9l-2.9 2.9zM1454.82 449.91l2.9 -2.9l2.9 2.9l-2.9 2.9zM1456.62 449.91l2.9 -2.9l2.9 2.9l-2.9 2.9zM1458.42 449.91l2.9 -2.9l2.9 2.9l-2.9 2.9zM1460.22 449.91l2.9 -2.9l2.9 2.9l-2.9 2.9zM1462.02 449.91l2.9 -2.9l2.9 2.9l-2.9 2.9zM1463.83 449.91l2.9 -2.9l2.9 2.9l-2.9 2.9zM1465.63 449.91l2.9 -2.9l2.9 2.9l-2.9 2.9zM1467.43 449.91l2.9 -2.9l2.9 2.9l-2.9 2.9zM1469.23 449.91l2.9 -2.9l2.9 2.9l-2.9 2.9zM1471.03 449.91l2.9 -2.9l2.9 2.9l-2.9 2.9zM1472.83 449.91l2.9 -2.9l2.9 2.9l-2.9 2.9zM1474.63 449.91l2.9 -2.9l2.9 2.9l-2.9 2.9zM1476.43 449.91l2.9 -2.9l2.9 2.9l-2.9 2.9zM1478.23 449.91l2.9 -2.9l2.9 2.9l-2.9 2.9zM1480.03 449.91l2.9 -2.9l2.9 2.9l-2.9 2.9zM1481.83 449.91l2.9 -2.9l2.9 2.9l-2.9 2.9zM1483.63 449.91l2.9 -2.9l2.9 2.9l-2.9 2.9zM1485.43 449.91l2.9 -2.9l2.9 2.9l-2.9 2.9zM1487.23 449.91l2.9 -2.9l2.9 2.9l-2.9 2.9zM1489.03 449.91l2.9 -2.9l2.9 2.9l-2.9 2.9zM1490.83 449.91l2.9 -2.9l2.9 2.9l-2.9 2.9zM1492.63 449.91l2.9 -2.9l2.9 2.9l-2.9 2.9zM1494.43 449.91l2.9 -2.9l2.9 2.9l-2.9 2.9zM1496.23 449.91l2.9 -2.9l2.9 2.9l-2.9 2.9zM1498.03 449.91l2.9 -2.9l2.9 2.9l-2.9 2.9zM1419.91 469.58l2.9 -2.9l2.9 2.9l-2.9 2.9zM1421.66 469.58l2.9 -2.9l2.9 2.9l-2.9 2.9zM1423.41 469.58l2.9 -2.9l2.9 2.9l-2.9 2.9zM1425.16 469.58l2.9 -2.9l2.9 2.9l-2.9 2.9zM1426.91 469.58l2.9 -2.9l2.9 2.9l-2.9 2.9zM1428.66 469.58l2.9 -2.9l2.9 2.9l-2.9 2.9zM1430.41 469.58l2.9 -2.9l2.9 2.9l-2.9 2.9zM1432.15 469.58l2.9 -2.9l2.9 2.9l-2.9 2.9zM1433.9 469.58l2.9 -2.9l2.9 2.9l-2.9 2.9zM1435.65 469.58l2.9 -2.9l2.9 2.9l-2.9 2.9zM1437.4 469.58l2.9 -2.9l2.9 2.9l-2.9 2.9zM1439.15 469.58l2.9 -2.9l2.9 2.9l-2.9 2.9zM1440.9 469.58l2.9 -2.9l2.9 2.9l-2.9 2.9zM1442.65 469.58l2.9 -2.9l2.9 2.9l-2.9 2.9zM1444.4 469.58l2.9 -2.9l2.9 2.9l-2.9 2.9zM1446.15 469.58l2.9 -2.9l2.9 2.9l-2.9 2.9zM1447.9 469.58l2.9 -2.9l2.9 2.9l-2.9 2.9zM1449.65 469.58l2.9 -2.9l2.9 2.9l-2.9 2.9zM1451.4 469.58l2.9 -2.9l2.9 2.9l-2.9 2.9zM1453.15 469.58l2.9 -2.9l2.9 2.9l-2.9 2.9zM1454.9 469.58l2.9 -2.9l2.9 2.9l-2.9 2.9zM1456.65 469.58l2.9 -2.9l2.9 2.9l-2.9 2.9zM1458.4 469.58l2.9 -2.9l2.9 2.9l-2.9 2.9zM1460.15 469.58l2.9 -2.9l2.9 2.9l-2.9 2.9zM1461.9 469.58l2.9 -2.9l2.9 2.9l-2.9 2.9zM1463.65 469.58l2.9 -2.9l2.9 2.9l-2.9 2.9zM1465.4 469.58l2.9 -2.9l2.9 2.9l-2.9 2.9zM1467.15 469.58l2.9 -2.9l2.9 2.9l-2.9 2.9zM1468.9 469.58l2.9 -2.9l2.9 2.9l-2.9 2.9zM1470.65 469.58l2.9 -2.9l2.9 2.9l-2.9 2.9zM1472.39 469.58l2.9 -2.9l2.9 2.9l-2.9 2.9zM1474.14 469.58l2.9 -2.9l2.9 2.9l-2.9 2.9zM1475.89 469.58l2.9 -2.9l2.9 2.9l-2.9 2.9zM1477.64 469.58l2.9 -2.9l2.9 2.9l-2.9 2.9zM1479.39 469.58l2.9 -2.9l2.9 2.9l-2.9 2.9zM1481.14 469.58l2.9 -2.9l2.9 2.9l-2.9 2.9zM1482.89 469.58l2.9 -2.9l2.9 2.9l-2.9 2.9zM1484.64 469.58l2.9 -2.9l2.9 2.9l-2.9 2.9zM1486.39 469.58l2.9 -2.9l2.9 2.9l-2.9 2.9zM1488.14 469.58l2.9 -2.9l2.9 2.9l-2.9 2.9zM1489.89 469.58l2.9 -2.9l2.9 2.9l-2.9 2.9zM1491.64 469.58l2.9 -2.9l2.9 2.9l-2.9 2.9zM1493.39 469.58l2.9 -2.9l2.9 2.9l-2.9 2.9zM1495.14 469.58l2.9 -2.9l2.9 2.9l-2.9 2.9zM1421.07 489.11l2.9 -2.9l2.9 2.9l-2.9 2.9zM1422.84 489.11l2.9 -2.9l2.9 2.9l-2.9 2.9zM1424.61 489.11l2.9 -2.9l2.9 2.9l-2.9 2.9zM1426.38 489.11l2.9 -2.9l2.9 2.9l-2.9 2.9zM1428.15 489.11l2.9 -2.9l2.9 2.9l-2.9 2.9zM1429.92 489.11l2.9 -2.9l2.9 2.9l-2.9 2.9zM1431.69 489.11l2.9 -2.9l2.9 2.9l-2.9 2.9zM1433.47 489.11l2.9 -2.9l2.9 2.9l-2.9 2.9zM1435.24 489.11l2.9 -2.9l2.9 2.9l-2.9 2.9zM1437.01 489.11l2.9 -2.9l2.9 2.9l-2.9 2.9zM1438.78 489.11l2.9 -2.9l2.9 2.9l-2.9 2.9zM1440.55 489.11l2.9 -2.9l2.9 2.9l-2.9 2.9zM1442.32 489.11l2.9 -2.9l2.9 2.9l-2.9 2.9zM1444.09 489.11l2.9 -2.9l2.9 2.9l-2.9 2.9zM1445.86 489.11l2.9 -2.9l2.9 2.9l-2.9 2.9zM1447.64 489.11l2.9 -2.9l2.9 2.9l-2.9 2.9zM1449.41 489.11l2.9 -2.9l2.9 2.9l-2.9 2.9zM1451.18 489.11l2.9 -2.9l2.9 2.9l-2.9 2.9zM1452.95 489.11l2.9 -2.9l2.9 2.9l-2.9 2.9zM1454.72 489.11l2.9 -2.9l2.9 2.9l-2.9 2.9zM1456.49 489.11l2.9 -2.9l2.9 2.9l-2.9 2.9zM1458.26 489.11l2.9 -2.9l2.9 2.9l-2.9 2.9zM1460.04 489.11l2.9 -2.9l2.9 2.9l-2.9 2.9zM1461.81 489.11l2.9 -2.9l2.9 2.9l-2.9 2.9zM1463.58 489.11l2.9 -2.9l2.9 2.9l-2.9 2.9zM1465.35 489.11l2.9 -2.9l2.9 2.9l-2.9 2.9zM1467.12 489.11l2.9 -2.9l2.9 2.9l-2.9 2.9zM1468.89 489.11l2.9 -2.9l2.9 2.9l-2.9 2.9zM1470.66 489.11l2.9 -2.9l2.9 2.9l-2.9 2.9zM1472.44 489.11l2.9 -2.9l2.9 2.9l-2.9 2.9zM1474.21 489.11l2.9 -2.9l2.9 2.9l-2.9 2.9zM1475.98 489.11l2.9 -2.9l2.9 2.9l-2.9 2.9zM1477.75 489.11l2.9 -2.9l2.9 2.9l-2.9 2.9zM1479.52 489.11l2.9 -2.9l2.9 2.9l-2.9 2.9zM1481.29 489.11l2.9 -2.9l2.9 2.9l-2.9 2.9zM1483.06 489.11l2.9 -2.9l2.9 2.9l-2.9 2.9zM1484.84 489.11l2.9 -2.9l2.9 2.9l-2.9 2.9zM1486.61 489.11l2.9 -2.9l2.9 2.9l-2.9 2.9zM1488.38 489.11l2.9 -2.9l2.9 2.9l-2.9 2.9zM1490.15 489.11l2.9 -2.9l2.9 2.9l-2.9 2.9zM1491.92 489.11l2.9 -2.9l2.9 2.9l-2.9 2.9zM1493.69 489.11l2.9 -2.9l2.9 2.9l-2.9 2.9z" fill="#9b9b9b"/>
<path d="M1419 461.63H1502.6M1460.8 435.15V489.11M1439.3 435.15H1482.3M1439.3 489.11H1482.3" fill="none" stroke="#9b9b9b" stroke-width="1.8"/>
<path d="M1629.4 311.15V508.25H1922.8M1622.2 508.25H1630.8M1622.2 459.32H1629.4M1622.2 410.4H1629.4M1622.2 361.48H1629.4M1622.2 312.55H1630.8M1713.3 508.25V516.35M1838.9 508.25V516.35" fill="none" stroke="#000" stroke-width="2.8" stroke-linejoin="miter"/>
<g font-family='"Liberation Serif", serif' font-weight="bold" font-size="16.3" text-anchor="end">
<text x="1621.4" y="513.8">0</text>
<text x="1621.4" y="464.88">2</text>
<text x="1621.4" y="415.95">4</text>
<text x="1621.4" y="367.03">6</text>
<text x="1621.4" y="318.1">8</text>
</g>
<g font-family='"Liberation Serif", serif' font-weight="bold" font-size="16.1" text-anchor="end">
<text transform="translate(1716.7 526.25) rotate(-45)">MSA</text>
<text transform="translate(1842.3 526.25) rotate(-45)">HC</text>
</g>
<text transform="translate(1603.6 409) rotate(-90)" text-anchor="middle" font-weight="bold" font-size="16"><tspan font-family='"Liberation Serif", serif'>NLR</tspan></text>
<path d="M1713.15 352.01m-2.95 0a2.95 2.95 0 1 0 5.9 0a2.95 2.95 0 1 0 -5.9 0M1708.81 378.05m-2.95 0a2.95 2.95 0 1 0 5.9 0a2.95 2.95 0 1 0 -5.9 0M1717.78 380.94m-2.95 0a2.95 2.95 0 1 0 5.9 0a2.95 2.95 0 1 0 -5.9 0M1713.44 394.25m-2.95 0a2.95 2.95 0 1 0 5.9 0a2.95 2.95 0 1 0 -5.9 0M1708.81 398.3m-2.95 0a2.95 2.95 0 1 0 5.9 0a2.95 2.95 0 1 0 -5.9 0M1717.78 406.45m-2.95 0a2.95 2.95 0 1 0 5.9 0a2.95 2.95 0 1 0 -5.9 0M1726.46 407.61m-2.95 0a2.95 2.95 0 1 0 5.9 0a2.95 2.95 0 1 0 -5.9 0M1695.5 411.95m-2.95 0a2.95 2.95 0 1 0 5.9 0a2.95 2.95 0 1 0 -5.9 0M1691.16 416.29m-2.95 0a2.95 2.95 0 1 0 5.9 0a2.95 2.95 0 1 0 -5.9 0M1704.47 415.13m-2.95 0a2.95 2.95 0 1 0 5.9 0a2.95 2.95 0 1 0 -5.9 0M1717.78 414.84m-2.95 0a2.95 2.95 0 1 0 5.9 0a2.95 2.95 0 1 0 -5.9 0M1699.84 419.9m-2.95 0a2.95 2.95 0 1 0 5.9 0a2.95 2.95 0 1 0 -5.9 0M1726.46 420.63m-2.95 0a2.95 2.95 0 1 0 5.9 0a2.95 2.95 0 1 0 -5.9 0M1735.28 419.47m-2.95 0a2.95 2.95 0 1 0 5.9 0a2.95 2.95 0 1 0 -5.9 0M1708.81 422.65m-2.95 0a2.95 2.95 0 1 0 5.9 0a2.95 2.95 0 1 0 -5.9 0M1717.78 423.81m-2.95 0a2.95 2.95 0 1 0 5.9 0a2.95 2.95 0 1 0 -5.9 0M1677.7 426.7m-2.95 0a2.95 2.95 0 1 0 5.9 0a2.95 2.95 0 1 0 -5.9 0M1686.82 428.59m-2.95 0a2.95 2.95 0 1 0 5.9 0a2.95 2.95 0 1 0 -5.9 0M1695.5 429.6m-2.95 0a2.95 2.95 0 1 0 5.9 0a2.95 2.95 0 1 0 -5.9 0M1704.47 431.48m-2.95 0a2.95 2.95 0 1 0 5.9 0a2.95 2.95 0 1 0 -5.9 0M1730.94 431.04m-2.95 0a2.95 2.95 0 1 0 5.9 0a2.95 2.95 0 1 0 -5.9 0M1739.62 429.31m-2.95 0a2.95 2.95 0 1 0 5.9 0a2.95 2.95 0 1 0 -5.9 0M1748.59 427.72m-2.95 0a2.95 2.95 0 1 0 5.9 0a2.95 2.95 0 1 0 -5.9 0M1708.81 436.83m-2.95 0a2.95 2.95 0 1 0 5.9 0a2.95 2.95 0 1 0 -5.9 0M1718.21 435.38m-2.95 0a2.95 2.95 0 1 0 5.9 0a2.95 2.95 0 1 0 -5.9 0M1722.55 433.94m-2.95 0a2.95 2.95 0 1 0 5.9 0a2.95 2.95 0 1 0 -5.9 0M1677.7 438.5m-2.9 0a2.9 2.9 0 1 0 5.8 0a2.9 2.9 0 1 0 -5.8 0M1681.43 439.14m-2.9 0a2.9 2.9 0 1 0 5.8 0a2.9 2.9 0 1 0 -5.8 0M1685.16 439.58m-2.9 0a2.9 2.9 0 1 0 5.8 0a2.9 2.9 0 1 0 -5.8 0M1688.89 441.11m-2.9 0a2.9 2.9 0 1 0 5.8 0a2.9 2.9 0 1 0 -5.8 0M1692.63 440.65m-2.9 0a2.9 2.9 0 1 0 5.8 0a2.9 2.9 0 1 0 -5.8 0M1696.36 441.83m-2.9 0a2.9 2.9 0 1 0 5.8 0a2.9 2.9 0 1 0 -5.8 0M1700.09 442.66m-2.9 0a2.9 2.9 0 1 0 5.8 0a2.9 2.9 0 1 0 -5.8 0M1703.82 442.7m-2.9 0a2.9 2.9 0 1 0 5.8 0a2.9 2.9 0 1 0 -5.8 0M1707.55 443.51m-2.9 0a2.9 2.9 0 1 0 5.8 0a2.9 2.9 0 1 0 -5.8 0M1711.28 443.69m-2.9 0a2.9 2.9 0 1 0 5.8 0a2.9 2.9 0 1 0 -5.8 0M1715.01 443.46m-2.9 0a2.9 2.9 0 1 0 5.8 0a2.9 2.9 0 1 0 -5.8 0M1718.74 444.09m-2.9 0a2.9 2.9 0 1 0 5.8 0a2.9 2.9 0 1 0 -5.8 0M1722.47 442.3m-2.9 0a2.9 2.9 0 1 0 5.8 0a2.9 2.9 0 1 0 -5.8 0M1726.21 442.54m-2.9 0a2.9 2.9 0 1 0 5.8 0a2.9 2.9 0 1 0 -5.8 0M1729.94 441.87m-2.9 0a2.9 2.9 0 1 0 5.8 0a2.9 2.9 0 1 0 -5.8 0M1733.67 441.03m-2.9 0a2.9 2.9 0 1 0 5.8 0a2.9 2.9 0 1 0 -5.8 0M1737.4 440.84m-2.9 0a2.9 2.9 0 1 0 5.8 0a2.9 2.9 0 1 0 -5.8 0M1741.13 439.51m-2.9 0a2.9 2.9 0 1 0 5.8 0a2.9 2.9 0 1 0 -5.8 0M1744.86 438.99m-2.9 0a2.9 2.9 0 1 0 5.8 0a2.9 2.9 0 1 0 -5.8 0M1748.59 438.91m-2.9 0a2.9 2.9 0 1 0 5.8 0a2.9 2.9 0 1 0 -5.8 0M1676.25 444.46m-2.9 0a2.9 2.9 0 1 0 5.8 0a2.9 2.9 0 1 0 -5.8 0M1681.52 445.98m-2.9 0a2.9 2.9 0 1 0 5.8 0a2.9 2.9 0 1 0 -5.8 0M1686.8 447.43m-2.9 0a2.9 2.9 0 1 0 5.8 0a2.9 2.9 0 1 0 -5.8 0M1692.07 448.79m-2.9 0a2.9 2.9 0 1 0 5.8 0a2.9 2.9 0 1 0 -5.8 0M1697.34 450.06m-2.9 0a2.9 2.9 0 1 0 5.8 0a2.9 2.9 0 1 0 -5.8 0M1702.61 451.2m-2.9 0a2.9 2.9 0 1 0 5.8 0a2.9 2.9 0 1 0 -5.8 0M1707.88 452.18m-2.9 0a2.9 2.9 0 1 0 5.8 0a2.9 2.9 0 1 0 -5.8 0M1713.15 452.85m-2.9 0a2.9 2.9 0 1 0 5.8 0a2.9 2.9 0 1 0 -5.8 0M1718.42 452.18m-2.9 0a2.9 2.9 0 1 0 5.8 0a2.9 2.9 0 1 0 -5.8 0M1723.69 451.2m-2.9 0a2.9 2.9 0 1 0 5.8 0a2.9 2.9 0 1 0 -5.8 0M1728.96 450.06m-2.9 0a2.9 2.9 0 1 0 5.8 0a2.9 2.9 0 1 0 -5.8 0M1734.23 448.79m-2.9 0a2.9 2.9 0 1 0 5.8 0a2.9 2.9 0 1 0 -5.8 0M1739.5 447.43m-2.9 0a2.9 2.9 0 1 0 5.8 0a2.9 2.9 0 1 0 -5.8 0M1744.77 445.98m-2.9 0a2.9 2.9 0 1 0 5.8 0a2.9 2.9 0 1 0 -5.8 0M1750.04 444.46m-2.9 0a2.9 2.9 0 1 0 5.8 0a2.9 2.9 0 1 0 -5.8 0M1676.25 452.22m-2.9 0a2.9 2.9 0 1 0 5.8 0a2.9 2.9 0 1 0 -5.8 0M1678.51 453.64m-2.9 0a2.9 2.9 0 1 0 5.8 0a2.9 2.9 0 1 0 -5.8 0M1680.77 454.16m-2.9 0a2.9 2.9 0 1 0 5.8 0a2.9 2.9 0 1 0 -5.8 0M1683.03 454.54m-2.9 0a2.9 2.9 0 1 0 5.8 0a2.9 2.9 0 1 0 -5.8 0M1685.29 455.54m-2.9 0a2.9 2.9 0 1 0 5.8 0a2.9 2.9 0 1 0 -5.8 0M1687.54 455.54m-2.9 0a2.9 2.9 0 1 0 5.8 0a2.9 2.9 0 1 0 -5.8 0M1689.8 456.24m-2.9 0a2.9 2.9 0 1 0 5.8 0a2.9 2.9 0 1 0 -5.8 0M1692.06 457.49m-2.9 0a2.9 2.9 0 1 0 5.8 0a2.9 2.9 0 1 0 -5.8 0M1694.32 456.97m-2.9 0a2.9 2.9 0 1 0 5.8 0a2.9 2.9 0 1 0 -5.8 0M1696.58 458.1m-2.9 0a2.9 2.9 0 1 0 5.8 0a2.9 2.9 0 1 0 -5.8 0M1698.83 458.44m-2.9 0a2.9 2.9 0 1 0 5.8 0a2.9 2.9 0 1 0 -5.8 0M1701.09 458.69m-2.9 0a2.9 2.9 0 1 0 5.8 0a2.9 2.9 0 1 0 -5.8 0M1703.35 459.89m-2.9 0a2.9 2.9 0 1 0 5.8 0a2.9 2.9 0 1 0 -5.8 0M1705.61 459.17m-2.9 0a2.9 2.9 0 1 0 5.8 0a2.9 2.9 0 1 0 -5.8 0M1707.86 460.23m-2.9 0a2.9 2.9 0 1 0 5.8 0a2.9 2.9 0 1 0 -5.8 0M1710.12 460.71m-2.9 0a2.9 2.9 0 1 0 5.8 0a2.9 2.9 0 1 0 -5.8 0M1712.38 460.5m-2.9 0a2.9 2.9 0 1 0 5.8 0a2.9 2.9 0 1 0 -5.8 0M1714.64 460.85m-2.9 0a2.9 2.9 0 1 0 5.8 0a2.9 2.9 0 1 0 -5.8 0M1716.9 460.35m-2.9 0a2.9 2.9 0 1 0 5.8 0a2.9 2.9 0 1 0 -5.8 0M1719.15 459.89m-2.9 0a2.9 2.9 0 1 0 5.8 0a2.9 2.9 0 1 0 -5.8 0M1721.41 460.42m-2.9 0a2.9 2.9 0 1 0 5.8 0a2.9 2.9 0 1 0 -5.8 0M1723.67 458.68m-2.9 0a2.9 2.9 0 1 0 5.8 0a2.9 2.9 0 1 0 -5.8 0M1725.93 459.12m-2.9 0a2.9 2.9 0 1 0 5.8 0a2.9 2.9 0 1 0 -5.8 0M1728.18 458.49m-2.9 0a2.9 2.9 0 1 0 5.8 0a2.9 2.9 0 1 0 -5.8 0M1730.44 457.82m-2.9 0a2.9 2.9 0 1 0 5.8 0a2.9 2.9 0 1 0 -5.8 0M1732.7 457.75m-2.9 0a2.9 2.9 0 1 0 5.8 0a2.9 2.9 0 1 0 -5.8 0M1734.96 456.57m-2.9 0a2.9 2.9 0 1 0 5.8 0a2.9 2.9 0 1 0 -5.8 0M1737.22 456.34m-2.9 0a2.9 2.9 0 1 0 5.8 0a2.9 2.9 0 1 0 -5.8 0M1739.47 456.33m-2.9 0a2.9 2.9 0 1 0 5.8 0a2.9 2.9 0 1 0 -5.8 0M1741.73 454.8m-2.9 0a2.9 2.9 0 1 0 5.8 0a2.9 2.9 0 1 0 -5.8 0M1743.99 454.84m-2.9 0a2.9 2.9 0 1 0 5.8 0a2.9 2.9 0 1 0 -5.8 0M1746.25 454.06m-2.9 0a2.9 2.9 0 1 0 5.8 0a2.9 2.9 0 1 0 -5.8 0M1748.5 453.29m-2.9 0a2.9 2.9 0 1 0 5.8 0a2.9 2.9 0 1 0 -5.8 0M1750.76 453.41m-2.9 0a2.9 2.9 0 1 0 5.8 0a2.9 2.9 0 1 0 -5.8 0M1676.25 462.44m-2.9 0a2.9 2.9 0 1 0 5.8 0a2.9 2.9 0 1 0 -5.8 0M1678.51 462.62m-2.9 0a2.9 2.9 0 1 0 5.8 0a2.9 2.9 0 1 0 -5.8 0M1680.77 463.42m-2.9 0a2.9 2.9 0 1 0 5.8 0a2.9 2.9 0 1 0 -5.8 0M1683.03 464.63m-2.9 0a2.9 2.9 0 1 0 5.8 0a2.9 2.9 0 1 0 -5.8 0M1685.29 464.05m-2.9 0a2.9 2.9 0 1 0 5.8 0a2.9 2.9 0 1 0 -5.8 0M1687.54 465.49m-2.9 0a2.9 2.9 0 1 0 5.8 0a2.9 2.9 0 1 0 -5.8 0M1689.8 465.77m-2.9 0a2.9 2.9 0 1 0 5.8 0a2.9 2.9 0 1 0 -5.8 0M1692.06 466.21m-2.9 0a2.9 2.9 0 1 0 5.8 0a2.9 2.9 0 1 0 -5.8 0M1694.32 467.26m-2.9 0a2.9 2.9 0 1 0 5.8 0a2.9 2.9 0 1 0 -5.8 0M1696.58 466.8m-2.9 0a2.9 2.9 0 1 0 5.8 0a2.9 2.9 0 1 0 -5.8 0M1698.83 468.03m-2.9 0a2.9 2.9 0 1 0 5.8 0a2.9 2.9 0 1 0 -5.8 0M1701.09 468.58m-2.9 0a2.9 2.9 0 1 0 5.8 0a2.9 2.9 0 1 0 -5.8 0M1703.35 468.41m-2.9 0a2.9 2.9 0 1 0 5.8 0a2.9 2.9 0 1 0 -5.8 0M1705.61 469.3m-2.9 0a2.9 2.9 0 1 0 5.8 0a2.9 2.9 0 1 0 -5.8 0M1707.86 469.44m-2.9 0a2.9 2.9 0 1 0 5.8 0a2.9 2.9 0 1 0 -5.8 0M1710.12 469.73m-2.9 0a2.9 2.9 0 1 0 5.8 0a2.9 2.9 0 1 0 -5.8 0M1712.38 470.7m-2.9 0a2.9 2.9 0 1 0 5.8 0a2.9 2.9 0 1 0 -5.8 0M1714.64 469.39m-2.9 0a2.9 2.9 0 1 0 5.8 0a2.9 2.9 0 1 0 -5.8 0M1716.9 470.2m-2.9 0a2.9 2.9 0 1 0 5.8 0a2.9 2.9 0 1 0 -5.8 0M1719.15 469.57m-2.9 0a2.9 2.9 0 1 0 5.8 0a2.9 2.9 0 1 0 -5.8 0M1721.41 469.02m-2.9 0a2.9 2.9 0 1 0 5.8 0a2.9 2.9 0 1 0 -5.8 0M1723.67 468.94m-2.9 0a2.9 2.9 0 1 0 5.8 0a2.9 2.9 0 1 0 -5.8 0M1725.93 468m-2.9 0a2.9 2.9 0 1 0 5.8 0a2.9 2.9 0 1 0 -5.8 0M1728.18 467.87m-2.9 0a2.9 2.9 0 1 0 5.8 0a2.9 2.9 0 1 0 -5.8 0M1730.44 467.83m-2.9 0a2.9 2.9 0 1 0 5.8 0a2.9 2.9 0 1 0 -5.8 0M1732.7 466.25m-2.9 0a2.9 2.9 0 1 0 5.8 0a2.9 2.9 0 1 0 -5.8 0M1734.96 466.6m-2.9 0a2.9 2.9 0 1 0 5.8 0a2.9 2.9 0 1 0 -5.8 0M1737.22 465.75m-2.9 0a2.9 2.9 0 1 0 5.8 0a2.9 2.9 0 1 0 -5.8 0M1739.47 465.13m-2.9 0a2.9 2.9 0 1 0 5.8 0a2.9 2.9 0 1 0 -5.8 0M1741.73 465.07m-2.9 0a2.9 2.9 0 1 0 5.8 0a2.9 2.9 0 1 0 -5.8 0M1743.99 463.47m-2.9 0a2.9 2.9 0 1 0 5.8 0a2.9 2.9 0 1 0 -5.8 0M1746.25 463.77m-2.9 0a2.9 2.9 0 1 0 5.8 0a2.9 2.9 0 1 0 -5.8 0M1748.5 463.08m-2.9 0a2.9 2.9 0 1 0 5.8 0a2.9 2.9 0 1 0 -5.8 0M1750.76 461.95m-2.9 0a2.9 2.9 0 1 0 5.8 0a2.9 2.9 0 1 0 -5.8 0M1676.98 471.23m-2.9 0a2.9 2.9 0 1 0 5.8 0a2.9 2.9 0 1 0 -5.8 0M1679.19 472.31m-2.9 0a2.9 2.9 0 1 0 5.8 0a2.9 2.9 0 1 0 -5.8 0M1681.41 472.6m-2.9 0a2.9 2.9 0 1 0 5.8 0a2.9 2.9 0 1 0 -5.8 0M1683.62 473.58m-2.9 0a2.9 2.9 0 1 0 5.8 0a2.9 2.9 0 1 0 -5.8 0M1685.83 474.12m-2.9 0a2.9 2.9 0 1 0 5.8 0a2.9 2.9 0 1 0 -5.8 0M1688.05 474.21m-2.9 0a2.9 2.9 0 1 0 5.8 0a2.9 2.9 0 1 0 -5.8 0M1690.26 476.08m-2.9 0a2.9 2.9 0 1 0 5.8 0a2.9 2.9 0 1 0 -5.8 0M1692.48 475.55m-2.9 0a2.9 2.9 0 1 0 5.8 0a2.9 2.9 0 1 0 -5.8 0M1694.69 476.58m-2.9 0a2.9 2.9 0 1 0 5.8 0a2.9 2.9 0 1 0 -5.8 0M1696.9 477.21m-2.9 0a2.9 2.9 0 1 0 5.8 0a2.9 2.9 0 1 0 -5.8 0M1699.12 477.42m-2.9 0a2.9 2.9 0 1 0 5.8 0a2.9 2.9 0 1 0 -5.8 0M1701.33 478.61m-2.9 0a2.9 2.9 0 1 0 5.8 0a2.9 2.9 0 1 0 -5.8 0M1703.55 478.48m-2.9 0a2.9 2.9 0 1 0 5.8 0a2.9 2.9 0 1 0 -5.8 0M1705.76 478.82m-2.9 0a2.9 2.9 0 1 0 5.8 0a2.9 2.9 0 1 0 -5.8 0M1707.97 480.06m-2.9 0a2.9 2.9 0 1 0 5.8 0a2.9 2.9 0 1 0 -5.8 0M1710.19 479.68m-2.9 0a2.9 2.9 0 1 0 5.8 0a2.9 2.9 0 1 0 -5.8 0M1712.4 480.31m-2.9 0a2.9 2.9 0 1 0 5.8 0a2.9 2.9 0 1 0 -5.8 0M1714.62 480.31m-2.9 0a2.9 2.9 0 1 0 5.8 0a2.9 2.9 0 1 0 -5.8 0M1716.83 479.51m-2.9 0a2.9 2.9 0 1 0 5.8 0a2.9 2.9 0 1 0 -5.8 0M1719.04 480.26m-2.9 0a2.9 2.9 0 1 0 5.8 0a2.9 2.9 0 1 0 -5.8 0M1721.26 478.71m-2.9 0a2.9 2.9 0 1 0 5.8 0a2.9 2.9 0 1 0 -5.8 0M1723.47 478.62m-2.9 0a2.9 2.9 0 1 0 5.8 0a2.9 2.9 0 1 0 -5.8 0M1725.69 478.39m-2.9 0a2.9 2.9 0 1 0 5.8 0a2.9 2.9 0 1 0 -5.8 0M1727.9 477.51m-2.9 0a2.9 2.9 0 1 0 5.8 0a2.9 2.9 0 1 0 -5.8 0M1730.11 477.3m-2.9 0a2.9 2.9 0 1 0 5.8 0a2.9 2.9 0 1 0 -5.8 0M1732.33 476.52m-2.9 0a2.9 2.9 0 1 0 5.8 0a2.9 2.9 0 1 0 -5.8 0M1734.54 475.51m-2.9 0a2.9 2.9 0 1 0 5.8 0a2.9 2.9 0 1 0 -5.8 0M1736.76 476.07m-2.9 0a2.9 2.9 0 1 0 5.8 0a2.9 2.9 0 1 0 -5.8 0M1738.97 474.29m-2.9 0a2.9 2.9 0 1 0 5.8 0a2.9 2.9 0 1 0 -5.8 0M1741.18 474.15m-2.9 0a2.9 2.9 0 1 0 5.8 0a2.9 2.9 0 1 0 -5.8 0M1743.4 473.5m-2.9 0a2.9 2.9 0 1 0 5.8 0a2.9 2.9 0 1 0 -5.8 0M1745.61 472.51m-2.9 0a2.9 2.9 0 1 0 5.8 0a2.9 2.9 0 1 0 -5.8 0M1747.83 472.53m-2.9 0a2.9 2.9 0 1 0 5.8 0a2.9 2.9 0 1 0 -5.8 0M1750.04 471.08m-2.9 0a2.9 2.9 0 1 0 5.8 0a2.9 2.9 0 1 0 -5.8 0M1675.82 480.62m-2.9 0a2.9 2.9 0 1 0 5.8 0a2.9 2.9 0 1 0 -5.8 0M1682.03 482.46m-2.9 0a2.9 2.9 0 1 0 5.8 0a2.9 2.9 0 1 0 -5.8 0M1688.24 484.18m-2.9 0a2.9 2.9 0 1 0 5.8 0a2.9 2.9 0 1 0 -5.8 0M1694.45 485.78m-2.9 0a2.9 2.9 0 1 0 5.8 0a2.9 2.9 0 1 0 -5.8 0M1700.66 487.22m-2.9 0a2.9 2.9 0 1 0 5.8 0a2.9 2.9 0 1 0 -5.8 0M1706.87 488.46m-2.9 0a2.9 2.9 0 1 0 5.8 0a2.9 2.9 0 1 0 -5.8 0M1713.07 489.31m-2.9 0a2.9 2.9 0 1 0 5.8 0a2.9 2.9 0 1 0 -5.8 0M1719.28 488.46m-2.9 0a2.9 2.9 0 1 0 5.8 0a2.9 2.9 0 1 0 -5.8 0M1725.49 487.22m-2.9 0a2.9 2.9 0 1 0 5.8 0a2.9 2.9 0 1 0 -5.8 0M1731.7 485.78m-2.9 0a2.9 2.9 0 1 0 5.8 0a2.9 2.9 0 1 0 -5.8 0M1737.91 484.18m-2.9 0a2.9 2.9 0 1 0 5.8 0a2.9 2.9 0 1 0 -5.8 0M1744.12 482.46m-2.9 0a2.9 2.9 0 1 0 5.8 0a2.9 2.9 0 1 0 -5.8 0M1750.33 480.62m-2.9 0a2.9 2.9 0 1 0 5.8 0a2.9 2.9 0 1 0 -5.8 0" fill="#000"/>
<path d="M1671.5 455.31H1755.1M1713.3 432.16V478.17M1691.8 432.16H1734.8M1691.8 478.17H1734.8" fill="none" stroke="#fff" stroke-opacity="0.65" stroke-width="2.45"/>
<path d="M1671.5 455.31H1755.1M1713.3 432.16V478.17M1691.8 432.16H1734.8M1691.8 478.17H1734.8" fill="none" stroke="#000" stroke-width="1.8"/>
<path d="M1836.11 370.13l2.75 -2.75l2.75 2.75l-2.75 2.75zM1840.59 407.74l2.75 -2.75l2.75 2.75l-2.75 2.75zM1831.77 410.93l2.75 -2.75l2.75 2.75l-2.75 2.75zM1853.76 418.88l2.75 -2.75l2.75 2.75l-2.75 2.75zM1818.6 424.38l2.75 -2.75l2.75 2.75l-2.75 2.75zM1844.93 425.1l2.75 -2.75l2.75 2.75l-2.75 2.75zM1827.28 426.12l2.75 -2.75l2.75 2.75l-2.75 2.75zM1836.11 427.56l2.75 -2.75l2.75 2.75l-2.75 2.75zM1818.6 434.22l2.75 -2.75l2.75 2.75l-2.75 2.75zM1827.28 435.95l2.75 -2.75l2.75 2.75l-2.75 2.75zM1836.11 436.97l2.75 -2.75l2.75 2.75l-2.75 2.75zM1844.93 435.95l2.75 -2.75l2.75 2.75l-2.75 2.75zM1853.76 435.95l2.75 -2.75l2.75 2.75l-2.75 2.75zM1798.78 438.99l2.75 -2.75l2.75 2.75l-2.75 2.75zM1806.02 439.86l2.75 -2.75l2.75 2.75l-2.75 2.75zM1813.54 441.31l2.75 -2.75l2.75 2.75l-2.75 2.75zM1821.21 444.49l2.75 -2.75l2.75 2.75l-2.75 2.75zM1828.44 446.66l2.75 -2.75l2.75 2.75l-2.75 2.75zM1836.11 447.38l2.75 -2.75l2.75 2.75l-2.75 2.75zM1843.63 446.66l2.75 -2.75l2.75 2.75l-2.75 2.75zM1851.15 443.48l2.75 -2.75l2.75 2.75l-2.75 2.75zM1858.53 441.16l2.75 -2.75l2.75 2.75l-2.75 2.75zM1866.06 439.86l2.75 -2.75l2.75 2.75l-2.75 2.75zM1873.72 438.7l2.75 -2.75l2.75 2.75l-2.75 2.75zM1822.65 484.71l2.75 -2.75l2.75 2.75l-2.75 2.75zM1849.42 484.71l2.75 -2.75l2.75 2.75l-2.75 2.75zM1840.59 488.18l2.75 -2.75l2.75 2.75l-2.75 2.75zM1831.77 492.96l2.75 -2.75l2.75 2.75l-2.75 2.75zM1800.51 448.65l2.9 -2.9l2.9 2.9l-2.9 2.9zM1804.47 449.01l2.9 -2.9l2.9 2.9l-2.9 2.9zM1808.42 450.03l2.9 -2.9l2.9 2.9l-2.9 2.9zM1812.38 450.19l2.9 -2.9l2.9 2.9l-2.9 2.9zM1816.33 450.96l2.9 -2.9l2.9 2.9l-2.9 2.9zM1820.28 452.46l2.9 -2.9l2.9 2.9l-2.9 2.9zM1824.24 452.15l2.9 -2.9l2.9 2.9l-2.9 2.9zM1828.19 453.69l2.9 -2.9l2.9 2.9l-2.9 2.9zM1832.15 454.57l2.9 -2.9l2.9 2.9l-2.9 2.9zM1836.1 456.01l2.9 -2.9l2.9 2.9l-2.9 2.9zM1840.06 455.09l2.9 -2.9l2.9 2.9l-2.9 2.9zM1844.01 452.99l2.9 -2.9l2.9 2.9l-2.9 2.9zM1847.97 452.73l2.9 -2.9l2.9 2.9l-2.9 2.9zM1851.92 452.16l2.9 -2.9l2.9 2.9l-2.9 2.9zM1855.87 450.88l2.9 -2.9l2.9 2.9l-2.9 2.9zM1859.83 450.56l2.9 -2.9l2.9 2.9l-2.9 2.9zM1863.78 449.7l2.9 -2.9l2.9 2.9l-2.9 2.9zM1867.74 448.91l2.9 -2.9l2.9 2.9l-2.9 2.9zM1871.69 449.22l2.9 -2.9l2.9 2.9l-2.9 2.9zM1796.46 456.69l2.9 -2.9l2.9 2.9l-2.9 2.9zM1798.59 458.07l2.9 -2.9l2.9 2.9l-2.9 2.9zM1800.72 458.1l2.9 -2.9l2.9 2.9l-2.9 2.9zM1802.85 458.25l2.9 -2.9l2.9 2.9l-2.9 2.9zM1804.99 459.53l2.9 -2.9l2.9 2.9l-2.9 2.9zM1807.12 459.51l2.9 -2.9l2.9 2.9l-2.9 2.9zM1809.25 460.18l2.9 -2.9l2.9 2.9l-2.9 2.9zM1811.38 460.81l2.9 -2.9l2.9 2.9l-2.9 2.9zM1813.51 460.46l2.9 -2.9l2.9 2.9l-2.9 2.9zM1815.64 462.2l2.9 -2.9l2.9 2.9l-2.9 2.9zM1817.77 461.71l2.9 -2.9l2.9 2.9l-2.9 2.9zM1819.9 462.25l2.9 -2.9l2.9 2.9l-2.9 2.9zM1822.03 462.93l2.9 -2.9l2.9 2.9l-2.9 2.9zM1824.16 462.98l2.9 -2.9l2.9 2.9l-2.9 2.9zM1826.3 463.74l2.9 -2.9l2.9 2.9l-2.9 2.9zM1828.43 463.98l2.9 -2.9l2.9 2.9l-2.9 2.9zM1830.56 463.58l2.9 -2.9l2.9 2.9l-2.9 2.9zM1832.69 465.07l2.9 -2.9l2.9 2.9l-2.9 2.9zM1834.82 464.43l2.9 -2.9l2.9 2.9l-2.9 2.9zM1836.95 464.68l2.9 -2.9l2.9 2.9l-2.9 2.9zM1839.08 464.58l2.9 -2.9l2.9 2.9l-2.9 2.9zM1841.21 463.78l2.9 -2.9l2.9 2.9l-2.9 2.9zM1843.34 464.38l2.9 -2.9l2.9 2.9l-2.9 2.9zM1845.47 463.39l2.9 -2.9l2.9 2.9l-2.9 2.9zM1847.61 462.83l2.9 -2.9l2.9 2.9l-2.9 2.9zM1849.74 463.13l2.9 -2.9l2.9 2.9l-2.9 2.9zM1851.87 462.22l2.9 -2.9l2.9 2.9l-2.9 2.9zM1854 462.02l2.9 -2.9l2.9 2.9l-2.9 2.9zM1856.13 461.68l2.9 -2.9l2.9 2.9l-2.9 2.9zM1858.26 460.48l2.9 -2.9l2.9 2.9l-2.9 2.9zM1860.39 461.33l2.9 -2.9l2.9 2.9l-2.9 2.9zM1862.52 459.83l2.9 -2.9l2.9 2.9l-2.9 2.9zM1864.65 459.58l2.9 -2.9l2.9 2.9l-2.9 2.9zM1866.79 459.3l2.9 -2.9l2.9 2.9l-2.9 2.9zM1868.92 458.46l2.9 -2.9l2.9 2.9l-2.9 2.9zM1871.05 458.4l2.9 -2.9l2.9 2.9l-2.9 2.9zM1873.18 457.64l2.9 -2.9l2.9 2.9l-2.9 2.9zM1875.31 456.55l2.9 -2.9l2.9 2.9l-2.9 2.9zM1797.18 466.57l2.9 -2.9l2.9 2.9l-2.9 2.9zM1799.28 466.77l2.9 -2.9l2.9 2.9l-2.9 2.9zM1801.37 467.01l2.9 -2.9l2.9 2.9l-2.9 2.9zM1803.46 467.83l2.9 -2.9l2.9 2.9l-2.9 2.9zM1805.55 467.95l2.9 -2.9l2.9 2.9l-2.9 2.9zM1807.64 468.63l2.9 -2.9l2.9 2.9l-2.9 2.9zM1809.74 469.57l2.9 -2.9l2.9 2.9l-2.9 2.9zM1811.83 468.84l2.9 -2.9l2.9 2.9l-2.9 2.9zM1813.92 470.33l2.9 -2.9l2.9 2.9l-2.9 2.9zM1816.01 470.34l2.9 -2.9l2.9 2.9l-2.9 2.9zM1818.1 470.71l2.9 -2.9l2.9 2.9l-2.9 2.9zM1820.2 471.49l2.9 -2.9l2.9 2.9l-2.9 2.9zM1822.29 471.06l2.9 -2.9l2.9 2.9l-2.9 2.9zM1824.38 472.19l2.9 -2.9l2.9 2.9l-2.9 2.9zM1826.47 472.53l2.9 -2.9l2.9 2.9l-2.9 2.9zM1828.56 472.18l2.9 -2.9l2.9 2.9l-2.9 2.9zM1830.66 473.1l2.9 -2.9l2.9 2.9l-2.9 2.9zM1832.75 473.07l2.9 -2.9l2.9 2.9l-2.9 2.9zM1834.84 473.3l2.9 -2.9l2.9 2.9l-2.9 2.9zM1836.93 473.83l2.9 -2.9l2.9 2.9l-2.9 2.9zM1839.02 472.41l2.9 -2.9l2.9 2.9l-2.9 2.9zM1841.12 473.34l2.9 -2.9l2.9 2.9l-2.9 2.9zM1843.21 472.61l2.9 -2.9l2.9 2.9l-2.9 2.9zM1845.3 472.12l2.9 -2.9l2.9 2.9l-2.9 2.9zM1847.39 472.09l2.9 -2.9l2.9 2.9l-2.9 2.9zM1849.48 471.32l2.9 -2.9l2.9 2.9l-2.9 2.9zM1851.57 471.27l2.9 -2.9l2.9 2.9l-2.9 2.9zM1853.67 471.21l2.9 -2.9l2.9 2.9l-2.9 2.9zM1855.76 469.72l2.9 -2.9l2.9 2.9l-2.9 2.9zM1857.85 470.35l2.9 -2.9l2.9 2.9l-2.9 2.9zM1859.94 469.46l2.9 -2.9l2.9 2.9l-2.9 2.9zM1862.03 469.02l2.9 -2.9l2.9 2.9l-2.9 2.9zM1864.13 468.92l2.9 -2.9l2.9 2.9l-2.9 2.9zM1866.22 467.6l2.9 -2.9l2.9 2.9l-2.9 2.9zM1868.31 468.03l2.9 -2.9l2.9 2.9l-2.9 2.9zM1870.4 467.36l2.9 -2.9l2.9 2.9l-2.9 2.9zM1872.49 466.33l2.9 -2.9l2.9 2.9l-2.9 2.9zM1874.59 466.4l2.9 -2.9l2.9 2.9l-2.9 2.9zM1800.08 474.72l2.9 -2.9l2.9 2.9l-2.9 2.9zM1802.27 475.54l2.9 -2.9l2.9 2.9l-2.9 2.9zM1804.46 476.5l2.9 -2.9l2.9 2.9l-2.9 2.9zM1806.65 475.97l2.9 -2.9l2.9 2.9l-2.9 2.9zM1808.85 477.8l2.9 -2.9l2.9 2.9l-2.9 2.9zM1811.04 477.76l2.9 -2.9l2.9 2.9l-2.9 2.9zM1813.23 478.34l2.9 -2.9l2.9 2.9l-2.9 2.9zM1815.42 479.14l2.9 -2.9l2.9 2.9l-2.9 2.9zM1817.61 479.07l2.9 -2.9l2.9 2.9l-2.9 2.9zM1819.81 480.28l2.9 -2.9l2.9 2.9l-2.9 2.9zM1822 480.66l2.9 -2.9l2.9 2.9l-2.9 2.9zM1824.19 480.42l2.9 -2.9l2.9 2.9l-2.9 2.9zM1826.38 481.69l2.9 -2.9l2.9 2.9l-2.9 2.9zM1828.57 481.67l2.9 -2.9l2.9 2.9l-2.9 2.9zM1830.77 482.12l2.9 -2.9l2.9 2.9l-2.9 2.9zM1832.96 482.8l2.9 -2.9l2.9 2.9l-2.9 2.9zM1835.15 482.07l2.9 -2.9l2.9 2.9l-2.9 2.9zM1837.34 483.29l2.9 -2.9l2.9 2.9l-2.9 2.9zM1839.54 482.43l2.9 -2.9l2.9 2.9l-2.9 2.9zM1841.73 481.94l2.9 -2.9l2.9 2.9l-2.9 2.9zM1843.92 481.93l2.9 -2.9l2.9 2.9l-2.9 2.9zM1846.11 481.18l2.9 -2.9l2.9 2.9l-2.9 2.9zM1848.3 481.03l2.9 -2.9l2.9 2.9l-2.9 2.9zM1850.5 480.78l2.9 -2.9l2.9 2.9l-2.9 2.9zM1852.69 479.27l2.9 -2.9l2.9 2.9l-2.9 2.9zM1854.88 480.01l2.9 -2.9l2.9 2.9l-2.9 2.9zM1857.07 478.81l2.9 -2.9l2.9 2.9l-2.9 2.9zM1859.26 478.36l2.9 -2.9l2.9 2.9l-2.9 2.9zM1861.46 478.04l2.9 -2.9l2.9 2.9l-2.9 2.9zM1863.65 476.85l2.9 -2.9l2.9 2.9l-2.9 2.9zM1865.84 477.08l2.9 -2.9l2.9 2.9l-2.9 2.9zM1868.03 476.21l2.9 -2.9l2.9 2.9l-2.9 2.9zM1870.22 475.04l2.9 -2.9l2.9 2.9l-2.9 2.9zM1872.42 475.19l2.9 -2.9l2.9 2.9l-2.9 2.9z" fill="#9b9b9b"/>
<path d="M1797.1 463.01H1880.7M1838.9 446.23V479.94M1817.4 446.23H1860.4M1817.4 479.94H1860.4" fill="none" stroke="#9b9b9b" stroke-width="1.8"/>
<path d="M1713.7 330.8H1843M1713.7 325V336.6M1843 325V336.6" fill="none" stroke="#000" stroke-width="2.1"/>
<text x="1785.5" y="330.3" font-family='"Liberation Sans", sans-serif' font-weight="bold" font-size="16" style="stroke:none" text-anchor="middle">*</text>
</svg>
</body></html>
